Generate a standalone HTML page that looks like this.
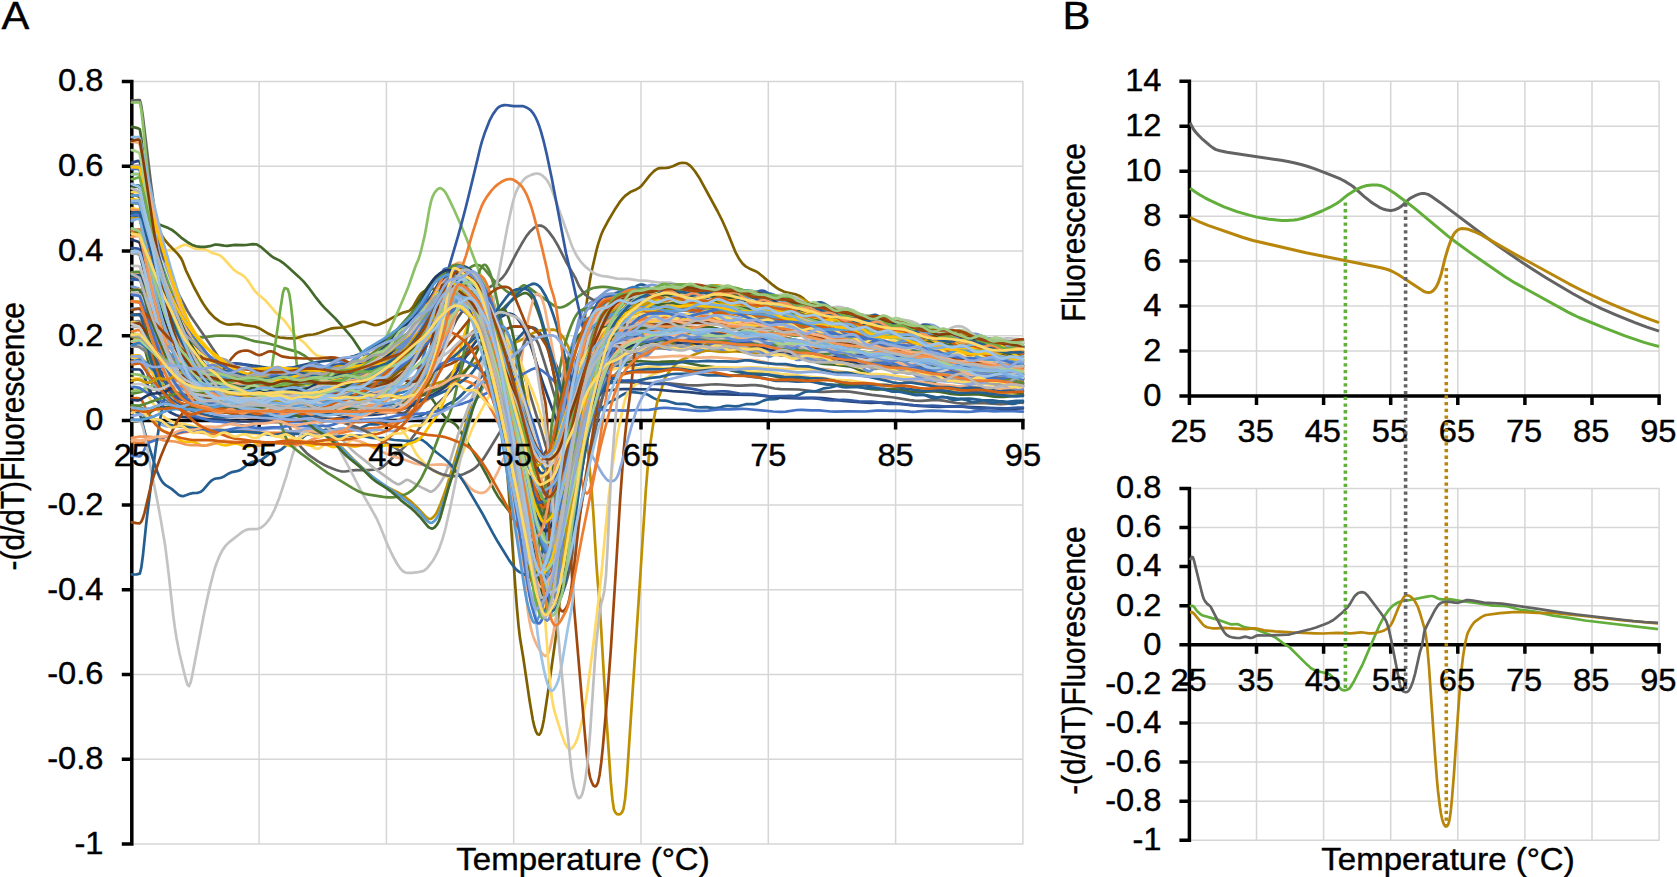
<!DOCTYPE html>
<html><head><meta charset="utf-8"><title>Figure</title>
<style>html,body{margin:0;padding:0;background:#fff}svg{display:block}</style></head>
<body>
<svg width="1677" height="877" viewBox="0 0 1677 877" font-family='"Liberation Sans", Arial, Helvetica, sans-serif' fill="#000" stroke-linejoin="round">
<rect width="1677" height="877" fill="#fff"/>
<path d="M131.8 81.5 H1023.4 M131.8 166.2 H1023.4 M131.8 251.0 H1023.4 M131.8 335.7 H1023.4 M131.8 505.1 H1023.4 M131.8 589.8 H1023.4 M131.8 674.6 H1023.4 M131.8 759.3 H1023.4 M131.8 844.0 H1023.4 M259.1 81.5 V844.0 M386.4 81.5 V844.0 M513.7 81.5 V844.0 M641.0 81.5 V844.0 M768.3 81.5 V844.0 M895.6 81.5 V844.0 M1022.9 81.5 V844.0" stroke="#d6d6d6" stroke-width="1.5" fill="none"/>
<path d="M131.8 79.8 V845.7 M129.8 420.4 H1024.7 M121.8 81.5 H131.8 M121.8 166.2 H131.8 M121.8 251.0 H131.8 M121.8 335.7 H131.8 M121.8 420.4 H131.8 M121.8 505.1 H131.8 M121.8 589.8 H131.8 M121.8 674.6 H131.8 M121.8 759.3 H131.8 M121.8 844.0 H131.8 M259.1 420.4 V429.4 M386.4 420.4 V429.4 M513.7 420.4 V429.4 M641.0 420.4 V429.4 M768.3 420.4 V429.4 M895.6 420.4 V429.4 M1022.9 420.4 V429.4" stroke="#000" stroke-width="3.5" fill="none"/>
<g fill="none" stroke-width="2.7" stroke-linejoin="round" stroke-linecap="round">
<path d="M131.8 356.6l4.8-.1 3.2 .1 1.5 1.5 1.6 3.1 1.6 4.1 4.8 13.6 1.6 3.1 6.4 9.5 3.1 3.9 3.2 2.8 6.4 3.9 4.8 2.5 3.1 1.3 3.2 1.1 9.6 2 6.3 .7 11.2 .4 4.8 .4 4.7 .6 11.2 2.1 4.7 .7 4.8 .4 9.6 .6 4.7 .5 12.8 2.2 19.1 2.8 1.6 .9 1.5 2.2 1.6 3 4.8 10.9 1.6 3.1 1.6 2.2 4.8 5.6 4.7 4.9 3.2 2.7 8 5.4 6.3 3.7 3.2 1.5 8 3.3 3.2 1 3.1 .7 3.2 0 8-1.2 3.2-.2 11.1 0 9.6-.6 1.5-.3 1.6-.6 3.2-2 3.2-2.8 6.4-6.3 9.5-8.6 3.2-3.1 4.8-5.5 6.3-8.3 6.4-8.9 6.4-9.7 3.1-4.2 4.8-5.3 9.6-9 3.1-3.5 3.2-4 3.2-4.5 1.6-3.3 1.6-4.5 1.6-5.2 4.8-17 1.6-4.9 1.5-4 3.2-6.9 3.2-5.3 1.6-2 1.6-1.5 1.6-1 1.6-.5 1.6 .3 1.6 .8 1.5 1.3 1.6 1.8 3.2 4.7 3.2 6 3.2 6.9 3.2 8.1 3.2 9.4 3.1 10.7 4.8 19.1 3.2 15.4 11.1 64.7 3.2 16.5 3.2 14.8 3.2 11.9 1.6 4.4 1.6 3 1.6 .5 1.5-1.7 1.6-3.7 1.6-5.2 3.2-13.6 3.2-16.2 7.9-47.4 3.2-17.4 6.4-28 4.8-18.1 3.2-9.5 1.5-3.9 3.2-5.9 3.2-5 3.2-4.2 3.2-3.2 3.2-2.3 1.5-.8 1.6-.5 15.9-4.1 4.8-.8 3.2-.2 15.9 .7 17.5-.7 23.9 .4 12.7-.3 11.2 .5 11.1-.2 6.4 .4 11.1 1.3 12.7 2.7 9.6 .7 4.8 .6 12.7 2.5 12.7 2.9 3.2 .3 8 .4 3.1 .4 25.5 5.3 14.3 1.6 11.2 2.4 15.9 3.1 11.1 1.6 12.7 2.8 12.8 1.7 25.4 4.4 15.9 1.2 6.4 .9 12.7 2.3 4.8 .6 4.8 .2 7.9 .1 4.8 .3 15.9 2.2 4.8 .4 17.5 .3" stroke="#636363"/>
<path d="M131.8 162.6l6.4-1.7 1.6 .8 1.5 6.9 3.2 15.9 11.2 59.3 6.3 30.5 4.8 21.1 4.8 19.5 4.8 17 3.1 9.2 1.6 3.9 3.2 6.4 3.2 4.9 3.2 3.6 4.8 4.1 4.7 3.3 4.8 2.9 4.8 2.3 3.2 .9 3.1 .1 8-1.3 3.2 0 1.6 .3 3.1 1.4 8 5.5 3.2 1.5 1.6 .3 1.6 .1 3.2-.5 9.5-3.5 4.8-.8 3.2-.1 7.9 .6 3.2 0 3.2-.3 6.3-1 3.2-.2 3.2 .3 8 1.9 3.1 .4 1.6-.1 3.2-.6 8-2.5 11.1-2.9 3.2-1.3 9.5-4.7 3.2-1.2 4.8-1 9.5-.3 3.2-.6 1.6-.6 1.6-.8 3.2-2.3 8-7.7 3.1-2.7 3.2-2 4.8-2.1 3.2-1.6 3.2-2.4 1.5-1.6 3.2-3.7 8-11 3.2-3.9 3.2-3.3 7.9-6.8 3.2-3.3 1.6-2 3.2-4.9 7.9-14.7 3.2-5.2 3.2-3.8 3.2-3 3.1-2.1 1.6-.7 3.2-.7 1.6-.1 3.2 .6 3.2 1 3.2 1.6 3.1 2.3 3.2 3 3.2 3.6 3.2 5.4 3.2 6.9 3.2 7.7 6.3 16.2 3.2 8.6 4.8 15.1 4.8 17 15.9 60.5 7.9 28.6 6.4 25.2 1.6 5.3 3.2 8.3 1.6 3.7 1.5 2.6 1.6 1.1 1.6-.3 1.6-1 1.6-1.7 1.6-2.1 4.8-8 1.6-3.5 1.6-4.1 3.1-9.6 8-25.6 4.8-13.4 3.2-9.7 1.5-3.9 3.2-11 6.4-23.6 3.2-10.2 4.7-12.3 4.8-10.9 4.8-9.4 3.2-5.1 1.6-2 6.3-6.4 4.8-4.5 3.2-2.3 1.6-.9 1.6-.5 3.2-.3 4.7 .2 3.2-.5 9.6-4.1 7.9-2 8-2.5 3.2-.6 6.3-.2 6.4-.6 3.2 .2 3.1 1.1 6.4 3.8 1.6 .5 1.6 .2 1.6-.1 1.6-.5 6.3-2.8 3.2-.6 3.2 .1 9.6 1 9.5 1.7 3.2-.3 6.3-1.9 1.6-.2 1.6 .2 1.6 .5 1.6 .8 6.4 5.2 1.6 1.1 1.6 .8 1.6 .5 1.5 .3 3.2 0 6.4-.7 7.9-1.1 3.2-.1 3.2 .6 8 2.9 3.2 .5 4.7 .1 3.2 .5 3.2 1.1 4.8 2.4 3.1 1.4 3.2 .9 8 1.6 4.8 .5 7.9-.2 3.2 .5 4.8 1.4 3.2 .5 3.1-.1 4.8-.8 1.6 0 1.6 .2 1.6 .6 1.6 .9 6.3 4.6 3.2 1.9 3.2 1.2 4.8 1 3.2 .3 1.6-.1 3.1-.7 6.4-2.4 1.6-.2 1.6 .1 1.6 .5 1.6 .8 4.7 3 3.2 1.4 1.6 .3 1.6 0 6.4-.6 3.2 .5 3.1 1.3 14.4 7 3.1 1.3 1.6 .4 1.6 .1 1.6-.2 3.2-1.1 4.8-2.2 1.6-.5 1.5-.2 1.6 0 3.2 .6 4.8 1.4 6.4 1.2 3.1 .7 11.2 4.5 7.9 2.6 3.2 .7 3.2 .2 1.6-.2 1.6-.5 4.8-1.8 3.1-.8 3.2 .1 4.8 1" stroke="#264478"/>
<path d="M131.8 336.8l3.2 .5 4.8 .4 1.5 1.8 1.6 3.6 6.4 21.1 1.6 3.6 6.4 10.7 3.1 4.5 3.2 3.5 8 6.7 3.2 2.4 3.1 2.1 3.2 1.6 1.6 .6 8 2.2 9.5 1.9 9.6 1.3 6.3 .5 4.8 0 14.3-1.4 4.8-.1 4.8 .2 11.1 1.3 4.8 .3 14.3-.2 4.8 .4 3.2 .8 3.2 1 3.1 1.4 6.4 3.6 20.7 13.1 4.8 3.2 4.7 3.5 4.8 3.8 4.8 4.2 17.5 18.1 20.7 19.1 3.2 2.6 4.7 3.2 4.8 2.7 11.1 5.5 4.8 2.8 3.2 2.3 4.8 3.9 7.9 7.4 6.4 7 1.6 1.5 1.6 1.2 1.6 .8 1.6-.1 1.5-1 1.6-1.6 1.6-2 1.6-2.8 3.2-7.6 3.2-8.4 3.2-9.4 22.2-73.5 1.6-4.1 1.6-3.4 1.6-2.8 6.4-9.9 1.6-3.1 1.6-3.8 1.6-4.9 6.3-24 3.2-9 1.6-3.5 1.6-2.9 1.6-2.3 1.6-1.5 1.6-.7 1.6 .2 1.5 1 1.6 1.8 1.6 2.5 1.6 3.2 1.6 3.7 3.2 8.5 3.2 10 1.6 5.7 3.1 12.8 3.2 15 3.2 18.5 6.4 40.1 3.2 17.2 1.6 7.3 1.5 6.1 1.6 4.7 1.6 3 1.6 .4 1.6-2.2 1.6-4.6 1.6-6.7 3.2-18 7.9-50.4 4.8-27.3 4.8-25.3 3.2-14.1 1.6-5.8 1.5-4.9 1.6-4.1 1.6-3.3 1.6-2.7 1.6-2 1.6-1.6 1.6-1 9.5-3 4.8-1.1 3.2-.5 3.2-.1 6.3 0 4.8-.3 14.3-2 4.8-.4 3.2 0 4.8 .5 12.7 2.3 6.4 .7 6.3-.2 14.3-2 6.4-.5 11.2-.1 7.9 .6 6.4 1.1 14.3 3.1 4.8 .9 6.3 .8 11.2 .8 6.3 .9 4.8 1.1 12.7 3.8 6.4 1.5 4.8 .8 12.7 1.7 6.4 1.1 30.2 7.2 11.1 2.4 6.4 1.1 12.7 1.6 4.8 .8 3.2 .7 4.8 1.4 14.3 5.2 6.4 1.6 6.3 .7 14.3 .6 8 .9 12.7 2.4 20.7 4.6 6.4 1.1 3.2 .3 4.7 .2 12.8-.5 6.3 .3 6.4 .8 11.1 2.3 6.4 .7" stroke="#BF9000"/>
<path d="M131.8 215.6l6.4 1.3 1.6 1.2 1.5 5.8 3.2 13 12.8 56.4 4.7 18.7 3.2 10.6 3.2 9.1 3.2 7.8 3.2 7 4.7 9.2 3.2 5.3 3.2 4.3 3.2 3.2 1.6 1.1 3.2 1.5 6.3 2 8 3.2 3.2 .9 1.6 .2 3.1-.3 8-2.5 3.2-.3 3.2 .7 6.3 3.3 3.2 1.2 3.2 .5 1.6-.1 6.3-.9 3.2 .2 3.2 .9 6.4 2.5 1.6 .3 1.6 .1 1.5-.2 1.6-.5 8-3.8 3.2-.9 3.2 .1 6.3 1.3 3.2 .3 3.2-.6 6.4-2.2 3.1-.8 3.2-.1 8 1.4 3.2 .2 3.1-.4 8-1.6 3.2-.2 6.3 .3 3.2-.2 1.6-.3 3.2-.9 8-3.4 7.9-2.7 3.2-1.4 3.2-1.8 6.3-4.3 3.2-1.8 3.2-1.4 8-2.8 3.1-1.8 1.6-1.1 9.6-8.8 3.2-2.5 6.3-4.2 3.2-2.6 1.6-1.6 3.2-3.8 6.4-8.5 4.7-5.8 11.2-11.1 4.7-5.3 6.4-7.8 1.6-1.6 1.6-1.2 1.6-.7 1.6-.3 1.6 .3 1.6 .7 1.5 1 11.2 9.4 1.6 1.7 1.6 2.5 1.6 3.2 1.5 4 3.2 9.8 3.2 11.5 4.8 18.6 14.3 61.4 3.2 14.9 7.9 40.1 8 38.6 1.6 6.4 1.6 4.8 3.2 7.7 1.6 2.6 1.6 .7 1.5-.8 1.6-1.8 1.6-2.5 1.6-3 1.6-3.3 1.6-4.3 1.6-6.1 3.2-16.2 6.3-37.2 11.2-58.9 3.2-15.4 4.7-21.2 3.2-13.2 3.2-11.4 1.6-4.8 1.6-3.9 1.6-3.2 1.6-2.2 6.3-7 9.6-11.3 3.2-2.8 1.5-1.1 1.6-.8 3.2-.8 6.4-.2 3.2-.8 3.2-1.8 4.7-3.2 1.6-.9 1.6-.6 1.6-.2 1.6 0 1.6 .4 1.6 .7 6.3 3.4 1.6 .5 1.6 .1 1.6-.1 1.6-.5 8-4.4 1.6-.4 1.5-.2 1.6 .1 1.6 .5 6.4 3.1 3.2 1 1.6 .1 1.6-.1 7.9-2.2 3.2-.1 3.2 .8 6.3 2.8 3.2 .8 1.6 .1 3.2-.4 8-2.5 1.5-.3 3.2 0 11.2 2 12.7 1 11.1 2.2 6.4 1.7 8 3.1 3.1 1 3.2 .6 8 .5 3.2 .8 3.1 1.2 4.8 2.3 3.2 1.1 1.6 .2 3.2-.3 7.9-2.7 1.6-.2 1.6 0 1.6 .4 1.6 .7 8 5 1.5 .7 1.6 .4 3.2 .1 6.4-1.1 1.6 .1 1.6 .3 1.6 .7 1.5 .9 6.4 5.1 1.6 1 1.6 .8 1.6 .4 1.6 .1 1.6-.2 6.3-2.4 1.6-.3 1.6-.1 1.6 .3 1.6 .7 1.6 .9 4.8 3.7 3.1 2 1.6 .6 1.6 .3 1.6 0 1.6-.2 4.8-1.4 3.2-.5 1.6 .1 1.5 .3 3.2 1.3 4.8 2.5 3.2 .9 3.2 .1 7.9-1.5 3.2 .2 1.6 .4 3.2 1.5 6.3 3.9 3.2 1.6 3.2 1.1 3.2 .7 15.9 2.5 14.3 1.7 4.8 .2 9.5-.5 3.2 .2 3.2 .7 8 2.8 3.2 .6 3.1-.2 6.4-1.5" stroke="#255E91"/>
<path d="M131.8 209.3l1.6 .3 1.6 .1 1.6-.2 3.2-.9 1.5 3 1.6 6.5 3.2 16.4 1.6 5.9 1.6 2.7 3.2 4.3 1.6 1.7 1.6 1.3 1.6 .9 1.6 .4 1.5 .1 1.6-.2 4.8-1.2 6.4-.8 1.6-.4 1.6-.6 6.3-3.3 1.6-.4 1.6 0 1.6 .4 6.4 2.9 1.6 .5 1.5 .2 6.4 .2 1.6 .4 1.6 .5 6.4 3.3 4.7 1.2 1.6 .6 1.6 1 3.2 2.9 9.5 10.6 3.2 2.4 4.8 2.6 1.6 1.1 1.6 1.3 3.2 3.8 4.7 7.1 3.2 4.2 3.2 3.2 6.4 5.2 3.1 3.5 6.4 7.7 3.2 3.2 4.8 4.3 1.6 1.7 3.1 4.1 4.8 7 3.2 3.9 1.6 1.5 6.4 4.9 1.5 1.4 6.4 7.3 3.2 3.1 1.6 1.1 1.6 .7 6.3 1.4 1.6 .6 3.2 1.9 4.8 3.5 1.6 .9 3.2 1.3 4.7 1.2 1.6 .6 1.6 .9 4.8 3 1.6 .8 1.6 .6 1.6 .2 1.6-.2 1.5-.4 4.8-2 3.2-.9 6.4-.3 1.6-.3 3.1-1.1 3.2-1.4 3.2-.9 3.2 0 4.8 .8 1.6 0 1.5-.4 1.6-.7 1.6-1 11.2-9.4 1.6-1.5 3.1-3.4 3.2-4.4 8-12.3 9.5-11.6 8-12.5 3.2-4.3 6.3-6.3 4.8-5.7 1.6-1.7 1.6-1.1 1.6-.6 1.6 .2 1.6 1.1 1.6 2.1 1.5 3 1.6 3.9 3.2 10.2 9.6 33 3.1 12.3 9.6 41.7 9.5 39 9.6 43.4 3.2 13.2 7.9 29.9 6.4 25.5 1.6 5.7 1.6 4.1 1.6 2.6 1.6 1 1.6-.5 1.5-1.8 1.6-3 1.6-4.2 1.6-5 3.2-12.6 1.6-7.4 3.2-17 3.2-19.6 6.3-41.9 3.2-18.7 3.2-15.8 4.8-21.5 3.1-13.8 3.2-12.5 1.6-5.4 3.2-8.7 1.6-3.5 3.2-5.8 3.2-4.7 4.7-6.1 3.2-3.1 3.2-2.1 1.6-.6 1.6-.4 4.7-.3 3.2-.7 1.6-.7 4.8-2.6 1.6-.7 1.6-.4 1.6-.1 1.6 .1 4.7 1 1.6 .1 3.2-.3 4.8-1.3 3.2-.4 1.6 .1 4.7 .9 3.2 .1 1.6-.4 6.4-2.3 1.6-.3 1.6 0 1.5 .3 4.8 1.5 3.2 .4 3.2-.5 4.8-1.2 1.5-.1 1.6 .1 6.4 1.4 1.6 .1 3.2-.2 4.8-.9 1.5 0 3.2 .6 4.8 1.8 1.6 .5 1.6 .1 3.2-.4 4.7-1.1 1.6-.1 1.6 .3 1.6 .4 4.8 2.1 3.2 1 1.6 .1 4.7-.1 3.2 .4 1.6 .5 4.8 2.1 3.2 .9 3.1 0 4.8-.6 1.6 .1 1.6 .4 1.6 .6 4.8 2.3 1.6 .6 1.5 .3 3.2-.1 4.8-.7 1.6 0 1.6 .3 7.9 3 3.2 .5 4.8 0 3.2 .7 6.3 3.1 3.2 1.1 1.6 .1 6.4-.7 1.6 .1 3.2 .9 4.7 2.4 3.2 1 1.6 .2 4.8-.4 3.2 .1 1.6 .3 6.3 2.5 1.6 .4 3.2 .2 4.8-.1 1.6 .2 3.1 1.2 4.8 2.8 1.6 .7 1.6 .4 1.6 .2 6.4-.6 1.5 .1 3.2 .9 4.8 2.2 1.6 .6 3.2 .5 4.7-.2 3.2 .3 1.6 .4 4.8 1.9 3.2 .8 3.2-.1 4.7-.6 1.6 .1 3.2 .9 4.8 2.5 3.2 .9 1.6 .1 6.3-.9 1.6 0 3.2 .7 4.8 1.6 1.6 .4 3.1 .1 4.8-.5 1.6 .1 3.2 .7 4.8 2 3.1 .7 1.6 0 4.8-1 3.2-.3 1.6 .2 1.6 .5 4.7 2 3.2 .7 1.6 0 4.8-.8 3.2-.2 1.6 .2 6.3 1.5 1.6 .2 1.6-.1 3.2-.7" stroke="#FFD966"/>
<path d="M131.8 126.9l4.8 1 1.6 .5 1.6 .8 1.5 9.1 4.8 42 1.6 11.8 1.6 9.8 1.6 7.7 1.6 5.9 1.6 4 1.6 1.9 3.2 2.6 1.5 1 8 3.1 3.2 1.6 3.2 2.4 6.3 5.5 6.4 4.6 4.8 2.7 3.2 1.2 1.5 .3 3.2 .4 4.8 0 4.8-.6 4.7-1.5 1.6-.2 3.2 .3 4.8 .8 3.2 .2 7.9-1 8 .4 3.2-.2 6.3-.8 3.2 .1 1.6 .5 3.2 2 11.1 9.6 1.6 1.1 6.4 3.1 3.2 2.2 4.7 4 11.2 10.1 4.8 4.7 4.7 5.7 8 10.9 4.8 5.9 3.1 3.5 11.2 11 12.7 14.5 4.8 5.9 9.5 14.6 3.2 4.3 1.6 1.7 1.6 1.4 1.6 1 1.6 .7 9.5 2.7 4.8 2.1 12.7 7.8 12.8 7.2 6.3 3.1 3.2 2.1 4.8 4.1 3.2 3.5 3.1 4.1 9.6 14 3.2 3.9 1.6 1.5 1.6 1.1 4.7 2.9 1.6 1.1 1.6 1.5 1.6 2 1.6 2.5 20.7 33.7 6.3 11.4 8 15.6 3.2 5.6 3.2 4.5 9.5 12.2 4.8 7 12.7 19.8 4.8 7.7 8 14.7 1.5 2.6 1.6 1.6 1.6-1.2 1.6-3.8 1.6-5.8 1.6-7.3 6.4-34.3 9.5-58.3 3.2-18.1 6.4-31.3 4.7-20.1 3.2-10.7 1.6-4.2 1.6-3.5 3.2-6 3.2-5 3.1-4.1 3.2-3 1.6-1.1 1.6-.7 4.8-1.4 9.5-1.8 8-1.9 3.2-.6 3.2-.2 3.1 0 9.6 .4 11.1-.7 12.8 .4 11.1-.6 4.8 .4 7.9 1.1 3.2 .1 3.2-.2 7.9-1 3.2-.1 14.3 1.3 6.4 1 9.6 2.8 3.1 .7 3.2 .3 8 .2 3.2 .3 3.1 .8 11.2 3.3 17.5 3.6 4.8 .6 7.9 .6 3.2 .5 3.2 1 9.5 4 3.2 .8 3.2 .5 11.1 .7 14.4 1.8 3.1 .8 3.2 1.1 8 3.7 4.7 1.6 3.2 .6 8 .2 4.8 .6 25.4 6.6 3.2 .7 4.8 .4 9.5-.7 3.2 .1 1.6 .3 3.2 .9 9.5 3.9 3.2 1 3.2 .7 6.4 .8 6.3 .4 3.2-.1 8-.7 3.1 0 4.8 1 8 2.7 4.7 .9 3.2 .1 8-.7 3.2 0 12.7 .7" stroke="#43682B"/>
<path d="M131.8 378.2l8 .3 1.5 .9 1.6 1.9 6.4 10.6 1.6 1.8 4.8 4 4.7 3.3 3.2 1.4 17.5 6.2 8 2 4.8 .8 6.3 .3 12.8-.1 14.3 .9 4.7 .2 6.4-.3 11.2-1.1 6.3-.3 6.4 .3 15.9 1.5 9.5 .2 8-.4 15.9-1.3 17.5-1 6.4-.7 11.1-1.8 4.8-.4 6.4 0 11.1 .6 4.8-.2 6.3-1.1 14.4-4.3 14.3-3.2 4.8-1.3 3.1-1.2 4.8-2.1 14.3-7.1 4.8-3.2 4.8-4.4 4.7-5.1 14.4-16.8 6.3-6.1 6.4-5.6 6.4-4.6 3.1-2 3.2-1.7 3.2-1.3 3.2-1 3.2-.7 1.6 .2 1.6 .5 1.6 .9 1.5 1.3 3.2 3.7 1.6 2.3 3.2 5.5 4.8 10.4 3.2 8.2 3.1 9.4 11.2 36.6 4.8 14.8 4.7 16.2 3.2 9.9 1.6 4.1 1.6 3.2 1.6 2.2 1.6 .8 1.6-.7 1.6-2.1 1.5-2.8 1.6-3.4 3.2-8.2 14.3-38.7 3.2-7.5 1.6-3.2 3.2-5.1 3.2-3.6 1.6-1.3 3.2-1.7 1.5-.6 11.2-2.5 6.3-1.3 3.2-.3 4.8-.2 20.7 1.2 20.7-.1 7.9 .5 15.9 1.5 6.4 .2 4.8 0 12.7-.8 4.8-.2 4.8 .2 15.9 1.2 4.7-.1 9.6-.5 4.8 0 6.3 .7 12.8 2.7 6.3 .7 17.5 .3 15.9 1.9 4.8 .4 4.8 0 15.9-.6 4.8 .1 4.8 .4 22.2 3.2 22.3 2.6 15.9 2.7 4.8 .5 6.4 .2 11.1-.8 6.4 0 4.7 .6 12.8 2.3 6.3 .6 17.5-.7 4.8 .2 11.1 .9 4.8 .1 4.8-.2 11.1-1 6.4-.2" stroke="#636363"/>
<path d="M131.8 411.3l3.2 .4 3.2 .9 1.6 1.6 1.5 4.4 4.8 18.6 8 25.4 3.2 9.1 1.6 3.8 1.5 3.3 1.6 2.6 1.6 1.9 1.6 1.5 6.4 4.1 6.3 5.4 1.6 1 1.6 .6 1.6 .2 1.6-.3 1.6-.5 4.8-1.7 1.6-.4 4.7-.3 1.6-.3 1.6-.6 1.6-.9 1.6-1.4 6.4-7.5 1.6-1.5 1.6-1.1 1.5-.7 1.6-.4 3.2-.3 1.6-.4 3.2-1.4 4.8-3 1.6-.7 1.5-.6 4.8-.9 3.2-1.1 3.2-2.1 4.8-3.8 3.1-1.8 1.6-.5 4.8-.7 3.2-1.1 1.6-.9 4.8-3.6 3.1-2.1 1.6-.7 6.4-1.7 1.6-.8 1.6-.9 6.3-5.1 1.6-1 1.6-.7 4.8-1.2 3.2-1.2 3.2-2.1 4.7-3.9 1.6-1 1.6-.6 1.6-.3 4.8-.1 3.2-.3 1.6-.4 4.7-2 3.2-.8 3.2 .3 4.8 1.2 1.6 .2 3.1-.3 4.8-1.4 3.2-.4 6.4 .6 1.6-.1 3.1-.8 4.8-2.3 3.2-1.2 3.2-.3 4.8 .2 1.5-.1 3.2-.9 4.8-1.7 1.6-.3 3.2 0 4.7 .6 3.2-.3 1.6-.5 6.4-2.7 3.2-.8 4.7-.2 3.2-.6 1.6-.6 4.8-2.4 3.2-1.4 1.6-.4 6.3-.8 3.2-1.1 3.2-1.9 4.8-3.5 7.9-4.1 1.6-1.1 3.2-2.6 8-8.3 9.5-7.3 3.2-3.3 6.3-7.2 9.6-8.9 3.2-3.7 6.3-8.4 3.2-3.5 8-6.9 7.9-8.5 1.6-1.5 1.6-1.1 1.6-.7 1.6-.3 1.6 .1 1.6 .5 1.6 .9 1.6 1.4 1.6 1.8 3.1 4.5 3.2 5.2 3.2 6.2 8 18.2 7.9 17 9.6 22.9 3.2 6.9 1.5 2.9 1.6 2.1 1.6 1.5 1.6 1 1.6 .5 1.6 0 1.6-.3 1.6-.8 1.6-1 3.2-2.9 6.3-7.2 1.6-1.6 4.8-3.8 3.2-1.8 6.3-3.3 4.8-3.1 3.2-1.8 1.6-.6 3.2-.6 3.1 0 11.2 1.3 3.2 1 6.3 3.6 3.2 1.5 3.2 .8 4.8 .3 3.2 .5 7.9 2.4 3.2 .3 4.8-.1 3.1 .4 1.6 .4 6.4 2.3 1.6 .3 3.2 .2 6.3-.3 8 1.1 1.6 0 3.2-.5 4.7-1.4 3.2-.5 1.6 0 6.4 .6 1.6 0 3.2-.6 6.3-1.6 1.6-.2 6.4 .1 1.6-.2 3.2-1 4.7-2.3 3.2-1 1.6-.2 6.4-.2 1.6-.2 1.5-.4 4.8-1.8 3.2-.8 3.2-.2 4.8 .2 1.6-.1 3.1-1 6.4-2.9 3.2-.5 4.8 0 3.1-.3 8-2.9 6.4-.8 3.1-.7 9.6-3.4 1.6-.3 1.6-.1 1.6 .2 6.3 1.5 1.6 .1 6.4-.4 1.6 .1 3.2 .9 4.7 2.4 3.2 1.2 3.2 .2 4.8-.4 1.6 .1 3.1 .8 4.8 1.7 1.6 .3 3.2-.1 4.8-.8 1.6 0 1.5 .3 1.6 .5 4.8 2.3 3.2 1 1.6 .2 6.4-.3 1.5 .2 1.6 .4 4.8 2 3.2 .7 1.6 0 6.3-1.2 1.6-.1 3.2 .7 4.8 1.9 1.6 .4 3.2 .1 4.7-.7 1.6 0 3.2 .6 4.8 1.8 1.6 .4 1.6 .2 1.6-.2 4.7-1.3 3.2-.4 1.6 .1 6.4 2 1.6 .2 3.1-.2 4.8-1 1.6-.1 1.6 .2 6.4 2.1 1.6 .3 1.6 0 1.5-.3 4.8-1.6 3.2-.5" stroke="#255E91"/>
<path d="M131.8 232.4l6.4-1.1 1.6 .9 4.7 16.5 12.8 47.9 6.3 21.8 4.8 14.1 3.2 8.2 3.2 7.2 4.7 9.1 4.8 7.4 4.8 6.1 4.8 5.1 6.3 5.9 6.4 5.2 6.4 4.2 3.1 1.8 3.2 1.4 4.8 1.6 4.8 .8 4.7 0 4.8-.4 11.2-1.4 6.3-.2 6.4 .6 14.3 3 3.2 .4 3.2 .1 3.2-.1 4.7-.7 9.6-2.2 4.7-.9 3.2-.3 3.2 0 3.2 .3 3.2 .5 12.7 3.2 4.8 .5 3.2-.2 4.7-.8 12.8-4 3.1-.8 3.2-.5 3.2 0 4.8 .5 9.5 2.4 3.2 .5 3.2 0 3.2-.7 3.2-1.3 3.1-1.7 3.2-2.1 4.8-3.5 22.3-19.5 6.3-6.7 6.4-8 6.4-9.4 3.2-6 4.7-10.6 3.2-6.5 1.6-2.6 3.2-4.5 3.2-3.9 1.6-1.2 1.6-.5 1.5 .1 1.6 .3 1.6 .7 1.6 1 3.2 2.7 3.2 3.5 3.2 4.2 1.6 2.9 3.1 7.7 4.8 14.4 6.4 21 6.3 24.1 11.2 44.7 12.7 53.7 4.8 21.6 1.6 6 1.6 4.8 3.2 8.3 1.5 2.9 1.6 1 1.6-.4 1.6-1.3 1.6-1.9 3.2-5.1 1.6-3.3 1.6-4.9 1.6-6.2 3.1-15.4 4.8-25.7 4.8-24.2 9.5-50.8 1.6-7.6 3.2-13.6 4.8-18.2 3.2-11.2 3.2-9.6 1.5-4 1.6-3.4 1.6-2.6 3.2-4.3 3.2-3.4 1.6-1.5 3.2-2.3 3.1-1.9 4.8-2.2 3.2-2 3.2-2.4 7.9-6.8 3.2-2.1 1.6-.7 3.2-1 1.6-.2 3.2 .2 3.2 .7 9.5 2.8 8 1.9 4.7 .9 4.8 .2 3.2-.4 3.2-.9 7.9-3.6 3.2-1.3 3.2-.7 3.2-.2 4.8 .7 12.7 3.8 12.7 3 4.8 .8 4.8 .2 3.1-.4 8-1.5 3.2-.2 1.6 .1 1.6 .2 3.1 .8 11.2 4.4 6.3 1.5 17.6 2.7 4.7 .3 8-.1 4.8 .6 4.7 1.5 8 4 3.2 1.3 4.7 1.3 3.2 .4 9.6 .5 11.1 1.4 12.7 1.2 4.8 1.1 11.2 4.5 4.7 1.3 3.2 .4 8 .3 3.1 .3 12.8 2.5 9.5 1.1 3.2 .5 4.8 1.5 9.5 4.1 4.8 1.3 4.8 .4 9.5-.7 4.8 0 11.1 .8 4.8 .5 3.2 .7 3.2 1.1 3.2 1.4 6.3 3.3 3.2 1.4 3.2 .9 1.6 .1 1.6 0 3.2-.4 9.5-3" stroke="#525252"/>
<path d="M131.8 166.4l4.8 .4 3.2 .1 1.5 1.3 1.6 3 1.6 4.4 1.6 5.6 6.4 27.1 3.2 12.4 1.6 4.7 1.6 3.6 3.1 6.6 1.6 2.7 1.6 2.2 3.2 3.7 9.5 9.9 3.2 4.3 1.6 3.3 3.2 8.6 8 16.7 6.3 11.7 3.2 5.3 3.2 4.7 3.2 4.1 4.7 4.8 4.8 3.6 4.8 2.3 3.2 1 1.6 .1 9.5-.7 1.6 .2 4.8 1.1 9.5 1.3 1.6 .4 3.2 1.3 9.5 5.6 4.8 2.2 3.2 .9 3.2 .6 6.4 .7 4.7 .2 3.2-.1 3.2-.5 9.5-2.7 6.4-.6 3.2-.7 3.2-1 7.9-3.1 3.2-1 3.2-.6 7.9-.6 4.8-.7 4.8-1.4 9.5-3.3 1.6-.3 1.6 .1 1.6 .3 8 2.7 1.6 .2 1.6-.1 3.1-.9 4.8-2.1 9.6-5.4 4.7-2.4 3.2-1.3 6.4-1.8 1.6-1.1 1.6-1.8 1.6-2.3 4.7-8.1 1.6-2.5 1.6-2 1.6-1.3 3.2-1.7 1.6-.6 3.2-.7 3.1-.2 6.4 .2 3.2-.5 1.6-.6 1.6-.9 7.9-6.4 1.6-.9 1.6-.6 1.6-.3 1.6 .2 1.6 .7 1.6 1.3 1.6 1.8 1.6 2.6 1.5 3.4 1.6 4.3 1.6 5.3 3.2 12.7 4.8 21.4 23.9 113.3 1.5 11.6 1.6 16.3 1.6 19.9 6.4 93 1.6 21 1.6 17.7 1.6 13.5 3.1 18.4 6.4 43.6 3.2 19 1.6 6.9 1.6 4.9 1.6 2.7 1.6 .4 1.6-2.3 1.5-5 1.6-7.9 4.8-32.1 4.8-33.9 3.2-23.3 1.6-13.6 3.1-34.7 9.6-118.7 7.9-89.4 3.2-31.9 3.2-28.5 3.2-24.3 1.6-9.8 1.6-8.3 4.7-20.4 1.6-5.9 3.2-10 1.6-3.8 4.8-9.1 7.9-13.4 4.8-7.1 1.6-2 3.2-3.4 4.8-3.6 1.6-.9 4.7-2 3.2-1.8 1.6-1.4 1.6-1.7 6.4-8.1 1.5-1.8 3.2-3.2 1.6-1.3 1.6-1 1.6-.7 1.6-.3 6.4-.3 3.1-.5 3.2-1.1 6.4-2.9 1.6-.3 1.6-.2 3.2 .2 1.5 .6 1.6 1 1.6 1.3 1.6 1.6 3.2 4 4.8 7.3 17.5 32.2 4.8 9.5 4.7 10.5 8 19.8 1.6 3.4 3.2 5.6 3.1 4.1 3.2 2.7 3.2 1.8 6.4 2.8 3.2 2 14.3 12 3.2 2.4 3.1 2 4.8 2.1 3.2 .9 8 1.6 3.1 1.2 1.6 .8 3.2 2.2 8 7.2 3.1 2.3 1.6 .9 1.6 .6 1.6 .3 8 .9 4.8 1.1 3.1 1.2 8 3.6 4.8 1.9 6.3 1.8 12.8 3.1 4.7 1.6 3.2 1.4 9.6 4.9 3.1 1.2 3.2 .8 9.6 .8 3.2 .6 4.7 1.8 8 4.1 4.8 1.9 4.7 1.4 12.8 2.6 4.7 1.2 4.8 1.6 9.6 3.9 3.1 1 4.8 .7 6.4 .2 3.2 .3 4.7 1.3 8 3.2 4.8 1.4 3.1 .5 12.8 1.1 6.3 1.1 8 1.6" stroke="#7F6000"/>
<path d="M131.8 322.1l6.4-.9 1.6 .2 4.7 5.7 4.8 5.3 14.3 15 9.6 9.3 7.9 7 4.8 3.7 6.4 4.7 12.7 8.3 9.5 5.4 4.8 2.2 3.2 1.3 4.8 1.4 6.3 1.1 4.8 .4 12.7 .4 6.4 .7 6.4 1.3 15.9 4.1 4.8 .8 3.1 .2 3.2 .1 4.8-.3 15.9-2.6 8-.8 6.3-.2 14.4 .3 6.3 0 4.8-.6 4.8-1.3 4.7-1.7 16-6.2 4.7-2.3 3.2-1.8 4.8-3.3 3.2-2.6 3.1-2.9 4.8-4.8 3.2-3.8 4.8-6.3 19.1-28.2 3.2-5.3 6.3-11.7 3.2-5 1.6-2.1 6.4-6.4 1.5-1.4 1.6-1 1.6-.6 1.6-.1 1.6 .1 1.6 .4 3.2 1.4 4.8 3.1 4.7 4 1.6 1.5 1.6 1.8 1.6 2.4 3.2 6.2 3.2 7.7 3.2 8.8 6.3 19 3.2 10.7 3.2 11.8 11.1 44.8 17.5 75.4 6.4 28.5 1.6 6.3 1.6 5.4 4.8 12 1.5 2.8 1.6 1.3 1.6 0 1.6-.7 1.6-1.2 3.2-3.3 3.2-4.2 1.6-2.5 1.6-3.3 1.5-4.1 3.2-10 9.6-35.1 12.7-43.1 4.8-15.6 4.8-13.8 4.7-11.7 4.8-10.7 4.8-9.2 3.2-5.1 3.1-4.2 8-9.4 4.8-5.1 3.2-2.8 3.1-2 3.2-1.4 11.2-3.9 4.7-1.3 4.8-.4 9.6 .8 3.1-.1 4.8-.9 9.6-2.7 4.7-.6 4.8 .1 6.4 .8 6.3 1.2 8 1.9 4.8 .7 4.7-.1 11.2-1.8 3.2-.1 3.1 .2 8 .8 8 .6 3.1 .5 4.8 1.5 8 3.2 4.7 1.2 3.2 .3 9.6-.2 3.2 .2 7.9 1.2 3.2 .3 11.1-.1 4.8 .5 4.8 1.2 9.5 3 6.4 1.8 4.8 1.2 4.7 .9 3.2 .2 3.2-.2 9.5-1.3 4.8 .2 3.2 .8 11.1 3.6 11.2 2.2 7.9 2 3.2 .5 4.8 0 8-1.4 3.1-.2 1.6 .1 1.6 .2 3.2 .8 11.1 4.1 3.2 .8 3.2 .6 12.7 1.1 14.4 .5 3.1 .5 9.6 2.2 3.2 .5 4.7 .1 9.6-.5 3.2 .2 7.9 .8 4.8 .2" stroke="#848484"/>
<path d="M131.8 393.7l8-1.5 4.7-1.5 6.4-1.2 20.7-2.4 4.8-.3 9.5-.1 4.8-.4 11.1-2 4.8-.6 6.4 0 14.3 .8 12.7-.1 12.7 .3 14.4-1.1 11.1 .2 12.7-.8 4.8-.7 19.1-4 4.8-1.2 11.1-3.6 4.8-1.2 4.8-.7 9.5-1.1 4.8-1 6.3-2.1 11.2-5 6.3-3.2 4.8-2.9 15.9-11.7 4.8-3.1 9.6-5.7 3.1-2.3 4.8-4.4 9.6-9.8 3.1-2.7 3.2-2.2 8-4.2 4.7-2 3.2-.8 1.6-.2 3.2 .4 3.2 1.1 3.2 1.9 4.7 3.8 3.2 2.9 1.6 1.8 3.2 4.6 3.2 5.7 11.1 22.7 3.2 7.6 3.2 8.4 9.5 28 17.5 56.4 6.4 21.5 1.6 4.3 1.6 3.5 3.2 6.1 1.6 2.2 1.6 1.1 1.5-.1 1.6-.7 1.6-1.2 1.6-1.6 4.8-6.3 1.6-3 3.2-8.1 9.5-31 11.2-32.9 3.1-10 3.2-8.8 3.2-7.5 12.7-24.9 3.2-5.4 3.2-4 7.9-7 8-7.6 3.2-2.5 1.6-.9 1.6-.7 3.2-.9 14.3-2.4 3.2-.3 3.1 .1 8 .9 4.8 .3 7.9-.2 6.4-.9 9.5-2.2 4.8-.5 4.8 .3 11.1 2.4 9.6 .8 7.9 1.4 3.2 .4 3.2 0 6.4-.8 3.1-.3 3.2 .1 11.2 .9 3.1 .6 1.6 .5 3.2 1.4 6.4 3.5 3.2 1 3.1 .4 6.4 .2 8 1.8 3.2 .4 3.1-.3 4.8-.9 3.2-.2 3.2 .5 6.3 1.7 6.4 1.1 3.2 .9 1.6 .8 7.9 5 3.2 1.2 3.2 .2 4.8-.4 3.2 .1 6.3 1.3 3.2 .4 3.2-.3 4.8-.8 3.1-.1 1.6 .3 8 2.6 6.4 1.4 3.1 .8 3.2 1.5 6.4 3.7 3.2 1.1 3.1 .1 4.8-.7 3.2-.1 3.2 .3 6.4 1.1 3.1 0 4.8-.3 3.2 .2 3.2 .8 7.9 2.9 8 2 9.5 4 3.2 .7 3.2 .1 6.4-.9 3.1-.3 19.1 1.2 4.8 .7 20.7 4.8" stroke="#5A8A39"/>
<path d="M131.8 335.6l8 1.7 4.7 4 14.4 10.8 3.1 1.9 9.6 4.8 7.9 4.9 3.2 1.8 8 3.6 7.9 4.3 3.2 1.6 3.2 1.1 8 1.8 6.3 1.9 4.8 .9 9.5 .4 9.6 1.6 11.1 .7 8 1.3 4.8 .3 7.9-.4 9.6-.3 3.1-.5 8-1.8 3.2-.4 6.3-.3 3.2-.5 8-2.1 7.9-1.4 3.2-.8 3.2-1.2 8-3.6 6.3-2.5 4.8-2.4 11.1-7.1 8-4.1 6.4-4.3 12.7-9.9 3.2-3.1 4.7-5.5 16-20 3.1-4.8 9.6-16.4 4.8-6.8 3.1-3.6 8-7.3 3.2-2.1 1.6-.7 1.6-.4 1.6 0 1.5 .3 3.2 1.1 4.8 2.4 4.8 3 4.8 4 1.5 1.6 1.6 1.9 3.2 4.8 4.8 9 4.8 10.4 4.7 11.5 3.2 8.7 3.2 9.7 4.8 15.2 6.3 21.4 4.8 17.1 9.6 35.8 6.3 22.4 6.4 23.8 1.6 5.2 1.6 4.5 3.2 6.5 1.6 2.7 1.5 2.2 1.6 1.2 1.6-.2 1.6-1.3 1.6-2 3.2-5.2 1.6-3.5 1.6-5.1 1.6-6.2 6.3-28.3 8-33.1 3.2-12.2 1.6-5.5 7.9-24.8 3.2-8.5 1.6-3.3 1.6-2.5 3.2-3.7 3.1-2.8 3.2-2.2 3.2-1.9 9.6-4.9 4.7-1.8 6.4-1.9 3.2-.7 3.2-.2 3.1 .3 6.4 1.3 3.2 .5 3.2 0 6.3-.7 4.8-.3 14.3 .3 8 .8 3.2 .1 3.2-.3 7.9-1.8 3.2-.2 3.2 .4 6.3 1.3 3.2 .4 12.8 .8 4.7-.4 6.4-1.3 3.2-.1 1.6 .2 3.1 .9 6.4 2.6 4.8 1.6 9.5 1.9 4.8 .4 8-.7 3.1 0 3.2 .4 8 1.7 3.2 .2 6.3-.1 4.8 .6 14.3 4.1 9.6 3.8 3.2 .9 3.1 .3 8-.7 3.2 0 7.9 .9 9.6 .7 9.5 1.5 8 .9 3.2 .8 1.6 .6 9.5 4.8 1.6 .5 3.2 .7 3.2 .2 6.3-.1 4.8-.3 8-.9 3.1 .1 3.2 .8 8 3.3 3.2 .9 3.1 .4 8 .7 14.3 2.1 3.2 .7 6.4 1.9 3.2 .6 3.1 .1 8-.9 3.2 .1 15.9 1.9 9.5 1.9 3.2 .3 3.2-.1" stroke="#385723"/>
<path d="M131.8 286.5l3.2 .7 3.2 1 1.6 1.1 7.9 22 3.2 8 9.5 21.4 11.2 26.4 3.2 6.2 1.6 2.6 3.1 4.1 3.2 2.9 3.2 1.8 3.2 1.1 4.8 1.1 11.1 1.7 9.5 2.8 3.2 .8 4.8 .3 9.5-.8 3.2 .2 6.4 .9 3.2 .1 3.2-.4 6.3-1.4 3.2-.2 1.6 .2 3.2 1 4.8 2.3 3.1 1.2 1.6 .4 1.6 0 1.6-.2 1.6-.5 3.2-1.6 6.4-3.9 3.1-1.2 1.6-.4 3.2-.2 9.6 .6 4.7-.1 4.8-.6 3.2-.8 3.2-1.2 6.3-2.9 3.2-1.3 3.2-.9 8-1.3 3.1-1 3.2-1.6 8-5.3 3.2-1.6 3.1-1 6.4-1.3 3.2-1.3 1.6-.9 3.2-2.6 7.9-8.2 3.2-2.8 3.2-2.3 6.3-3.6 3.2-2 3.2-2.6 3.2-3 4.8-5.2 7.9-9.4 3.2-4.3 8-11.7 3.1-4.3 3.2-3.8 4.8-4.7 9.5-8.1 3.2-2.2 1.6-.7 1.6-.4 1.6 0 1.6 .2 1.6 .7 3.2 1.9 6.3 4.6 4.8 2.7 1.6 1.1 1.6 1.8 1.6 2.4 1.6 3 3.2 7.8 3.1 9.7 4.8 15.8 19.1 69.1 11.1 44.6 6.4 27.8 1.6 6.1 1.6 4.8 3.2 8.2 1.6 2.9 1.6 1.2 1.6-.7 1.5-2.2 1.6-3.1 1.6-3.8 1.6-4.8 1.6-7 1.6-8.7 4.8-29.8 12.7-71.2 6.4-29.7 4.7-19.6 1.6-4.5 1.6-3.4 1.6-2.5 3.2-3.7 3.2-2.6 7.9-4.9 8-6.4 3.2-1.8 1.6-.6 1.6-.3 3.1 .1 9.6 2.7 3.2 .3 3.2-.1 3.1-.6 3.2-1.1 9.6-4.2 3.1-.8 1.6-.1 1.6 .1 3.2 .7 8 3.3 3.2 .8 3.1 .2 4.8-.1 3.2 .1 3.2 .6 6.3 1.5 3.2 .1 1.6-.3 3.2-1.1 6.4-3.4 3.1-1.3 1.6-.3 3.2 0 3.2 .8 6.4 2.3 3.1 .8 3.2 .6 11.2 1.3 7.9 1.6 4.8 1.4 8 2.7 3.1 .8 1.6 .1 3.2-.2 8-1.7 3.1-.3 3.2 .5 9.6 3 3.2 .4 6.3 .1 3.2 .5 1.6 .6 3.2 1.8 6.3 5 3.2 2.1 3.2 1.3 1.6 .3 3.2-.2 7.9-2 3.2-.6 3.2-.2 3.2 .1 3.2 .5 3.2 .9 11.1 4.4 3.2 1 3.2 .6 6.3 .7 3.2 .7 3.2 1.1 6.4 2.9 3.1 .9 3.2 .4 8-.4 3.2 .3 3.1 .9 6.4 2.6 3.2 .7 3.2-.1 7.9-1.9 3.2-.1 1.6 .2 1.6 .5 3.2 1.7 7.9 5.9 3.2 2 3.2 1.5 3.2 .8 3.2 .2 3.1-.4 9.6-2.9 3.2-.5 1.6 0 3.1 .6 8 3.3 3.2 1 3.2 .4 6.3 .2 3.2 .4 3.2 1 4.8 1.8 3.2 1 1.5 .2 3.2 .1 4.8-.8" stroke="#7C9CD6"/>
<path d="M131.8 364.5l8-1.2 4.7 .2 3.2 .4 6.4 1.3 15.9 4.8 4.8 .9 3.1 .4 6.4 .1 17.5-.9 8 .1 22.2 2.2 20.7 2.7 6.4 .5 4.8 0 4.7-.3 4.8-.7 12.8-2.5 6.3-.6 6.4 .2 14.3 2.1 6.4 .4 6.3-.4 8-1.5 7.9-2.4 14.4-5 14.3-4.6 6.4-2.4 7.9-3.4 6.4-3 4.7-2.5 4.8-3 3.2-2.5 4.8-4.4 3.2-3.4 4.7-5.7 12.8-17.3 3.1-4.8 8-12.7 3.2-4.3 1.6-1.8 1.6-1.4 4.7-3.4 3.2-1.9 1.6-.6 1.6-.5 1.6-.1 1.6 .3 1.6 .5 3.2 1.6 3.1 2.2 8 6.9 1.6 1.9 3.2 5.2 3.2 6.7 3.1 7.9 4.8 12.6 3.2 9.2 3.2 10.4 11.1 41.1 15.9 64.3 6.4 26.6 1.6 5.5 1.6 4.3 3.2 7.4 1.6 2.6 1.5 1.2 1.6-.2 1.6-.7 1.6-1.1 3.2-3.4 3.2-4.1 1.6-3.1 1.6-3.8 3.1-9.6 8-28 14.3-47.7 3.2-9.8 3.2-8.6 3.2-7.3 4.7-10.3 4.8-9.3 3.2-5.2 1.6-2.2 3.2-3.3 4.7-3.8 3.2-2.1 4.8-2.5 14.3-6.7 4.8-1.8 4.8-1.1 9.5-1.3 8-1.7 4.8-.5 4.7 .2 8 1.3 3.2 .3 11.1-.1 12.7 1 4.8-.4 8-1.5 3.1-.2 1.6 0 4.8 1 9.6 2.9 11.1 1.8 11.1 2.5 4.8 .2 8-1.3 3.1-.3 1.6 0 3.2 .4 3.2 .9 8 2.7 12.7 2.3 3.2 1 7.9 3.2 4.8 1.3 3.2 .4 6.4 .1 3.1 .3 9.6 2.1 3.2 .3 3.1 0 9.6-1.6 3.2 0 1.6 .2 3.1 .9 9.6 3.8 9.5 3 3.2 1.3 8 4 3.2 1.2 1.6 .3 1.5 .2 3.2-.3 8-2 3.2-.5 3.2 0 9.5 1.2 9.5 .3 3.2 .6 3.2 1.2 8 4.3 3.1 1.4 1.6 .5 3.2 .6 6.4 .6 3.2 .5 9.5 3 3.2 .4 1.6 0 3.2-.5 7.9-2.5 3.2-.5 3.2-.1 9.5 1 8 0" stroke="#D26012"/>
<path d="M131.8 378l8 .4 1.5 1.3 1.6 2.6 1.6 3.6 4.8 11.8 1.6 2.8 6.4 8.9 3.1 4 3.2 3.2 4.8 3.3 3.2 1.6 4.8 1.5 9.5 1.5 8 2.1 3.1 .6 3.2 .2 8-.5 3.2 .1 3.1 .5 8 2.1 3.2 .6 3.2 .2 7.9-.2 3.2 .2 3.2 .6 7.9 2.3 3.2 .6 3.2 .2 8-.1 3.1 .3 3.2 .6 8 2.3 6.4 1 3.1 1 3.2 .3 4.8 .1 3.2 .3 3.2 .9 1.5 .8 8 5.9 1.6 .8 1.6 .4 1.6 0 1.6-.5 1.6-1 4.7-3.5 1.6-1 1.6-.7 1.6-.2 1.6 .3 1.6 .5 4.8 2.1 1.6 .4 1.5 .2 1.6-.2 1.6-.7 1.6-.9 6.4-4.3 3.2-1.7 3.1-1 8-1.8 4.8-1.6 3.2-1.5 9.5-5.5 4.8-2 1.6-.4 1.6-.1 1.6 .4 1.5 .8 3.2 2.3 1.6 1.5 3.2 3.7 3.2 4.7 6.4 11.9 3.1 5.4 3.2 4 4.8 5.1 3.2 2.8 3.2 2.5 4.7 3.1 3.2 1.7 4.8 2.1 3.2 1.1 1.6 .2 1.5-.3 1.6-1 1.6-1.9 3.2-6.1 6.4-14.9 9.5-24.2 3.2-6.8 4.8-9.5 9.5-17.6 3.2-7.4 4.8-12.7 3.2-7.4 1.6-3 1.6-2.6 1.5-2 1.6-1.5 1.6-1.1 1.6-.6 1.6 .1 1.6 .6 1.6 1.1 1.6 1.6 1.6 2.1 3.2 5.5 6.3 13.1 4.8 11.4 4.8 13.1 3.2 10.7 6.3 23.2 3.2 10.2 1.6 4.2 1.6 3.6 1.6 2.8 1.6 2 1.6 1.1 1.5 .1 1.6-.8 1.6-1.8 1.6-2.7 1.6-3.4 3.2-8.6 9.5-28.2 8-21.7 3.2-7.8 1.6-3.3 3.2-5.4 1.5-2.1 1.6-1.7 1.6-1.3 3.2-1.9 3.2-1 4.8-.9 7.9-2.3 3.2-.7 1.6-.2 3.2 .1 7.9 1.1 3.2 .2 3.2-.3 8-1.4 3.1-.2 3.2 .3 8 1.3 3.2 .1 3.1-.2 8-1.1 3.2-.1 12.7 1.2 3.2 0 8-1 3.1-.1 3.2 .2 8 1.4 3.2 .3 3.1-.1 8-.7 3.2 .2 3.2 .5 7.9 2.2 3.2 .6 3.2 .2 7.9-.3 4.8 .1 14.3 2.6 12.8 .7 12.7 1.7 14.3 1.1 14.3 2.2 15.9 .9 17.5 2.7 20.7 1.8 17.5 2.4 14.4 .7 11.1 1.6 4.8 .5 12.7 .2 11.1 1.6 3.2 .3 12.8-.2 4.7 .4 9.6 1.5 3.2 .1 11.1-.5 3.2 .2 9.5 1.5 4.8 0" stroke="#FFD966"/>
<path d="M131.8 253.5l3.2-.1 3.2 .4 1.6 1.3 3.1 11.8 9.6 37.2 4.8 16.5 4.7 15 6.4 18.3 6.4 16.7 4.7 10.7 3.2 5.8 1.6 2.4 3.2 4.1 1.6 1.6 3.2 2.8 14.3 9.3 4.8 2.5 3.1 .9 3.2 .4 8-.2 4.8 .3 3.1 .6 6.4 1.5 3.2 .5 1.6 .1 3.2-.1 3.1-.6 6.4-1.6 3.2-.4 1.6 0 3.2 .4 7.9 2.4 3.2 .6 1.6 .1 1.6-.1 3.2-.4 7.9-1.9 4.8-.4 12.7 1.4 4.8-.2 8-.9 3.1 0 3.2 .3 8 1.8 3.2 .3 1.6-.1 3.1-.5 8-2.5 3.2-.7 1.6-.1 3.1 .3 9.6 2.6 4.8 .6 3.2-.2 7.9-1.6 4.8-.6 3.2 .1 9.5 1.1 1.6-.1 1.6-.5 1.6-1.2 1.6-1.7 1.6-2.1 9.5-14.4 4.8-8.8 3.2-6.9 1.6-4.1 3.1-10.3 4.8-19.8 3.2-15 4.8-28.8 1.6-8.4 1.6-6 1.5-5.4 1.6-3.7 1.6-.5 1.6 .4 1.6 .7 3.2 2.1 8 6.8 3.1 2.4 3.2 3.3 1.6 2 3.2 5.1 4.8 9.5 4.7 10.9 3.2 8.4 17.5 50.4 6.4 20.1 11.1 37.6 3.2 10 1.6 3.9 3.2 5.4 1.6 2.3 1.6 1.5 1.6 .4 1.6-.8 1.5-1.5 1.6-2 3.2-4.6 1.6-3.6 1.6-4.5 4.8-15.7 4.7-14.8 6.4-21.8 3.2-10 4.8-13.5 3.2-7.8 1.5-4.4 1.6-2.4 1.6-1.5 3.2-1.8 3.2-.9 4.8-1 3.1-1 3.2-1.6 4.8-2.9 3.2-1.5 1.6-.4 3.2-.3 7.9 1.1 3.2-.4 3.2-1.2 6.3-3.6 3.2-1.2 1.6-.2 1.6 0 1.6 .3 3.2 1.2 6.3 3.4 3.2 1.1 1.6 .3 3.2-.1 8-1.7 3.1-.1 3.2 .5 6.4 1.7 3.2 .4 1.6-.1 3.1-.6 8-2.6 3.2-.4 3.2 .1 7.9 1.4 3.2 .2 3.2-.2 7.9-1.2 4.8 0 4.8 1 9.5 3.3 3.2 .8 3.2 .6 14.3 1.3 14.3 .5 12.8 2 11.1 .6 3.2 .4 3.2 .8 7.9 2.6 3.2 .8 3.2 .4 8 .3 4.7 .9 3.2 1 6.4 2.6 3.2 .8 1.6 .2 3.1-.3 8-2.2 3.2-.3 1.6 .2 3.1 1 8 4.3 3.2 1.1 3.2 .4 7.9-.7 3.2 .2 3.2 .8 6.4 2.5 3.1 1 1.6 .2 3.2-.1 8-1.9 3.2-.2 1.5 .3 3.2 1.1 8 4.8 3.2 1.2 1.6 .3 3.1 0 6.4-1.3 3.2-.3 3.2 .5 9.5 3.7 3.2 .7 3.2 0 7.9-1.1 3.2-.1 3.2 .5 8 2.1 3.1 .4 3.2-.1 8-1.3 3.2 0 1.6 .3 3.1 .9 6.4 2.9" stroke="#525252"/>
<path d="M131.8 421l3.2 .2 1.6-.1 3.2-.7 12.7-9.7 3.2-1.7 3.2-1.2 4.7-.7 8-.2 4.8-.5 3.1-.7 11.2-3.1 6.3-.9 19.1-1 22.3-2.2 6.4 .1 9.5 1.2 4.8 .3 4.8-.3 9.5-1.5 3.2 0 4.8 .6 11.1 3.2 3.2 .3 1.6 0 4.8-.7 11.1-3.7 3.2-.8 3.2-.4 3.2-.1 4.7 .4 15.9 2.9 6.4 .6 4.8-.3 9.5-1.4 4.8-.5 12.7-.1 1.6-.1 3.2-1 4.8-2.6 7.9-5.6 8-4.8 4.8-3.2 4.7-4 4.8-5.2 3.2-4.4 3.2-5.3 4.7-8.9 8-15.6 3.2-7 4.8-12.2 3.1-7 4.8-7.2 1.6-2 1.6-1.3 1.6-.4 1.6 .1 1.6 .4 3.2 1.4 4.7 3.2 4.8 3.7 1.6 1.9 1.6 2.3 1.6 2.8 3.2 6.8 3.1 8 4.8 13.1 4.8 16 20.7 80.6 4.7 17.8 4.8 18.8 1.6 5.6 1.6 4.5 3.2 6.9 1.6 2.6 1.6 1.3 1.6-.2 1.6-.8 1.5-1.2 1.6-1.5 4.8-5.5 1.6-2.3 1.6-3 1.6-3.5 3.2-8.3 6.3-18.6 8-21.3 6.4-18.1 3.1-9.9 4.8-12.8 3.2-7.2 4.8-10.1 4.7-9.1 3.2-5.3 3.2-4.5 3.2-3.3 4.8-3.8 4.7-3.2 4.8-2.5 11.1-4.4 9.6-4.5 3.2-1.3 3.2-.9 4.7-.7 4.8 0 6.4 1 9.5 2.1 4.8 .9 3.2 .3 3.2 .1 3.1-.3 3.2-.8 3.2-1.1 8-3.5 3.1-1 3.2-.6 3.2 .1 4.8 1.1 9.5 3.9 4.8 1.7 6.4 1.6 6.3 1.3 6.4 .8 4.8 .2 4.7-.2 9.6-.7 4.8-.1 6.3 .3 6.4 .8 4.8 1 3.2 .9 4.7 1.9 9.6 4.3 3.2 1 3.1 .7 4.8 .3 8-.2 3.2 .2 4.7 .8 9.6 2.3 4.7 .6 3.2 .1 9.6-.4 4.7 .4 3.2 .6 3.2 1 15.9 6.4 3.2 1.1 3.2 .7 3.2 .4 3.2 .1 12.7-1.5 4.8 .2 4.7 1.2 9.6 4 3.2 1 3.1 .8 3.2 .4 11.2 .7 14.3 2.3 4.8 .2 11.1-.7 4.8 .5 3.2 .7 3.1 1 11.2 4.7 4.8 1.6 4.7 .7 4.8-.2" stroke="#43682B"/>
<path d="M131.8 442l8 1 4.7-.6 9.6-2.2 25.4-7 4.8-1 4.8-.6 3.2 0 3.2 .1 12.7 2 6.3 .4 3.2-.1 3.2-.5 11.1-2.3 6.4-.7 6.4 .1 15.9 1.9 4.8 .3 6.3 .1 9.6-.4 15.9-1.7 6.4-.3 3.1 .2 4.8 .6 12.7 2.8 3.2 .3 3.2 .1 3.2-.2 3.2-.4 14.3-3.2 6.4-1.1 4.7-.6 11.2-.8 4.7-.6 4.8-1.1 6.4-2.1 4.8-2 6.3-3.5 6.4-4.3 9.5-7.6 4.8-3.5 9.6-5.9 9.5-7.4 3.2-2.3 9.5-5.9 1.6-.8 3.2-.8 3.2-.2 3.2 .4 3.2 .9 3.1 1.3 3.2 1.8 1.6 1.2 3.2 3.4 4.8 6.9 7.9 13.6 4.8 8.9 23.9 50.4 6.3 13 6.4 13.9 1.6 3 1.6 2.6 4.8 6.1 1.5 1.3 1.6 .5 1.6-.1 1.6-.6 1.6-.9 1.6-1.3 4.8-4.8 1.6-2.5 1.6-3.3 1.5-4 3.2-9.8 8-28.4 4.8-16 6.3-22.3 6.4-20.6 4.8-13.4 4.7-11.6 4.8-11.2 4.8-9.8 3.2-5.4 3.1-4.1 3.2-3.1 4.8-4 3.2-2.4 3.2-2 9.5-5.4 8-4.8 3.2-1.6 3.1-1.2 4.8-.9 4.8 0 4.8 .6 7.9 1.7 4.8 .2 3.2-.4 7.9-2.2 3.2-.7 4.8-.5 6.4-.1 4.7 .4 9.6 1.4 11.1 1.3 3.2 .6 7.9 2.1 4.8 .8 4.8 .1 11.1-.5 6.4 .3 3.2 .5 3.2 1 9.5 4.3 3.2 1.1 3.2 .7 4.8 .5 15.9 .9 4.7 .6 3.2 .8 11.2 3.2 9.5 1.7 12.7 3.2 12.8 2.6 4.7 .5 9.6-.2 4.8 .4 4.7 1.4 14.4 5.7 3.1 1 3.2 .8 4.8 .4 9.5-.5 4.8 .5 12.7 3.2 11.2 2.5 11.1 2.1 9.6 2.5 3.2 .7 4.7 .2 11.2-1.3 3.1 0 3.2 .3 3.2 .6 3.2 .9 12.7 4.7 3.2 .7 1.6 .2" stroke="#ED7D31"/>
<path d="M131.8 272.3l8 .3 1.5 1.9 1.6 4.1 4.8 17.9 1.6 5.3 1.6 3.8 6.4 10.8 3.1 4.7 1.6 2 1.6 1.6 4.8 4.2 3.2 2.3 3.2 1.9 3.1 1.3 3.2 .8 17.5 2.1 4.8 0 11.1-1.5 4.8-.3 12.7 .3 4.8 .4 4.8 .9 8 2.7 4.7 1.3 11.2 1.9 4.7 1 6.4 1.8 8 2.6 11.1 3 3.2 1.1 4.8 2.7 12.7 9.5 6.4 3.9 6.3 3.2 4.8 2 4.8 1.5 3.1 .4 4.8-.2 4.8-.9 9.5-2.6 6.4-2.1 4.8-2.2 11.1-6.3 11.2-5.8 4.7-3.1 3.2-2.5 6.4-5.6 7.9-7.6 4.8-4.9 3.2-3.6 4.8-6.3 9.5-14.2 4.8-6.8 9.5-12.2 8-11.2 4.8-6.1 3.1-3.2 3.2-2.1 1.6-.7 1.6-.4 1.6-.1 1.6 .2 1.6 .5 1.6 1.1 3.2 3.1 6.3 7.8 3.2 3.3 11.1 9.6 4.8 3.2 1.6 .6 1.6-.4 1.6-1.1 4.8-5.2 1.6-1.4 1.5-.9 1.6 0 1.6 .8 3.2 2 8 6 6.3 4.2 9.6 7 3.2 1.6 1.6 .4 1.5 .1 1.6-.2 1.6-.4 3.2-1.4 3.2-2 8-6.2 6.3-4.4 3.2-2.1 3.2-1.7 3.2-1.1 1.6-.3 6.3-.8 3.2 0 3.2 .2 3.2 .4 11.1 2.1 6.4 .5 11.1-.4 11.1 0 12.8-1.4 4.8-.1 3.1 .2 11.2 1.7 12.7 .8 11.1 1.3 4.8 .1 9.6-.5 3.1 0 4.8 .4 9.6 1.3 11.1 .7 4.8 .8 12.7 2.8 12.7 1.7 4.8 1.2 9.6 2.6 4.7 .9 8 1.2 3.2 .6 12.7 3.8 9.6 2.2 4.7 1.3 11.2 4.2 4.7 1.4 12.8 2.5 12.7 3 9.5 1.6 4.8 1.1 4.8 1.7 7.9 3.5 4.8 1.8 20.7 5.5 6.4 1.2 9.5 .8 4.8 .9 3.2 .9 12.7 4.6 20.7 5.7 3.2 .6 3.2 .4 14.3-.1 14.3 1.5" stroke="#5A8A39"/>
<path d="M131.8 335.1l4.8-.5 3.2-.1 1.5 1.7 1.6 3.6 1.6 5 4.8 16.8 1.6 4.2 3.2 6.8 3.2 6.2 3.1 5.3 1.6 2 1.6 1.7 4.8 3.9 4.8 3.1 4.7 2.5 3.2 1.3 4.8 1.2 4.8 .8 3.2 .3 9.5-.2 4.8 .3 4.8 .8 7.9 2 3.2 .5 3.2 .1 3.2-.1 7.9-1 3.2-.1 3.2 .1 9.5 .9 4.8-.1 3.2-.3 7.9-1.5 4.8-.4 4.8 .2 7.9 1 3.2 .3 4.8-.2 11.1-1 3.2 0 9.6 .6 3.2-.1 4.7-.8 11.2-3.2 4.7-.8 14.4-.6 14.3-2.4 4.8-.3 7.9-.1 4.8-.5 4.8-1.3 7.9-2.9 4.8-1.4 4.8-.7 9.5-.6 4.8-.8 20.7-6 3.1-1.1 3.2-1.4 3.2-1.7 3.2-2 11.1-8.1 4.8-3 14.3-7.1 14.4-8.7 4.7-2.3 11.2-4.5 3.1-1.6 8-4.9 4.8-2.2 3.2-1.1 3.1-.5 3.2-.3 8-.1 1.6 .3 1.6 .8 1.6 1 1.5 1.4 3.2 3.9 1.6 2.5 3.2 6.2 1.6 4 1.6 4.9 1.6 5.9 4.8 21.5 4.7 24.7 3.2 20.6 1.6 12.8 1.6 15.1 3.2 35.8 1.6 21.7 3.1 51.3 1.6 21.4 1.6 16.6 6.4 109.9 4.8 70.2 1.6 17 1.5 10.2 1.6 3.4 1.6 1.3 1.6 .3 1.6-.3 1.6-1.5 1.6-3.7 1.6-9.9 1.6-18.1 12.7-191.4 6.4-99 1.6-19.8 1.6-15.5 1.5-12.6 3.2-22 1.6-9.4 1.6-7.8 1.6-5.7 1.6-3.6 1.6-5.2 1.6-7 1.6-3.7 3.2-5.1 6.3-7.4 3.2-3.1 1.6-1.3 1.6-1.1 1.6-.7 15.9-6.6 4.8-1.6 3.1-.6 4.8 0 8 .9 3.2 .2 3.1 0 8-.5 4.8 .1 3.1 .3 8 1.4 4.8 .3 4.8-.4 7.9-1.5 4.8-.3 4.8 .6 7.9 1.9 4.8 .9 3.2 .2 7.9 .1 4.8 .5 3.2 .7 7.9 2.3 4.8 .8 4.8 .1 9.5-.9 4.8 .3 3.2 .7 7.9 2.2 3.2 .7 4.8 .4 8 .1 4.7 .6 3.2 .8 8 2.6 4.7 1.1 4.8 .3 8-.5 3.2 .1 4.7 .6 8 2.2 4.8 .8 4.7 .2 8-.4 3.2 .2 4.7 1.1 9.6 3.4 4.8 1 3.1 .3 8-.3 4.8 .3 3.2 .5 7.9 1.8 4.8 .5 3.2-.1 9.5-1.2 4.8 .2 4.8 1.1 7.9 2.6 4.8 1" stroke="#BF9000"/>
<path d="M131.8 346.6l6.4-.9 1.6 0 1.5 1 3.2 2.6 11.2 10.7 6.3 5.2 6.4 4.5 4.8 2.9 3.2 1.5 3.1 1 3.2 .5 9.6 .5 9.5 .9 11.2 .5 4.7 .7 8 1.5 3.2 .3 20.7-.2 12.7-1.1 3.2 .2 7.9 1 3.2-.3 8-2.2 4.7-.8 8-.9 3.2-.7 9.5-2.9 4.8-1.1 9.5-1.3 11.2-2.1 9.5-1.3 3.2-.8 4.8-1.8 7.9-3.9 11.2-5 12.7-6.8 11.1-5.1 4.8-2.8 12.8-9.7 6.3-5.1 4.8-4.4 9.5-10.4 4.8-4.8 6.4-5.3 4.7-3.3 8-4.3 3.2-1.4 3.2-.9 3.2-.6 3.1-.2 1.6 .3 1.6 .6 3.2 1.8 3.2 2.8 4.8 5.5 1.5 2.6 1.6 3.4 3.2 8.6 3.2 10.2 4.8 16.4 4.8 18.4 4.7 21.6 8 38.7 19.1 96.3 1.6 6.3 3.2 9.2 1.5 3.6 1.6 1.9 1.6-.3 1.6-1.1 1.6-1.7 1.6-2.1 4.8-7.6 1.6-3.4 1.6-4.5 3.1-10.9 8-32.2 14.3-55.1 3.2-11.7 3.2-10.7 7.9-25.2 3.2-9.2 3.2-7.8 1.6-3.1 1.6-2.6 3.2-3.9 4.7-4.7 3.2-2.6 3.2-2.3 3.2-1.7 1.6-.7 9.5-2.5 3.2-1 11.1-4.9 3.2-1 4.8-.8 12.7-.6 6.4 .3 9.5 1.5 4.8 .3 19.1-.5 11.2-1 4.7 .2 3.2 .5 15.9 3.4 11.2 3.1 3.1 .6 4.8 .2 8-.7 4.7 0 4.8 .5 8 1.3 3.2 .7 3.1 1 11.2 4.6 4.8 1.2 4.7 .5 22.3 .8 4.8 .5 4.8 1.4 9.5 3.9 4.8 1.3 9.5 1.6 6.4 .8 4.8 .2 7.9-.1 4.8 .6 11.1 3 9.6 2.3 9.5 2.9 4.8 1 3.2 .2 9.5 .4 9.6 1.2 11.1 .9 4.8 1 7.9 2.5 3.2 .9 8 1.1 7.9 .8 4.8 .2 11.2-.9 3.1 0 3.2 .5 3.2 .7" stroke="#C0C0C0"/>
<path d="M131.8 174.7l3.2-.5 3.2-.2 1.6 1.3 6.3 25.5 4.8 18 4.8 16.6 6.3 20.1 8 22.2 15.9 41.3 6.4 15.2 4.7 9.8 4.8 7.8 3.2 4.1 3.2 3.4 3.2 2.8 11.1 8.8 3.2 3 9.5 9.8 3.2 3 4.8 3.6 3.2 1.6 3.2 .9 3.1 .4 3.2-.1 9.6-1 4.7 .1 4.8 .7 11.2 2.5 6.3 .8 4.8 .1 12.7-.4 14.3 .7 4.8-.1 6.4-.6 14.3-2.4 11.1-.8 6.4-.9 4.8-1 3.2-.9 6.3-2.5 3.2-1.6 3.2-2 3.2-2.4 4.7-4 17.6-16.7 4.7-5.2 4.8-5.7 6.4-8.5 7.9-12.1 3.2-6 6.4-13.6 3.1-6 1.6-2.6 1.6-2 4.8-5.8 1.6-1.6 1.6-1.2 1.6-.7 1.6-.2 1.6 .3 1.6 .7 1.5 1.1 1.6 1.4 3.2 3.5 4.8 6.5 1.6 3.2 1.6 4 1.6 4.7 3.1 11.2 6.4 25.7 3.2 14.7 4.8 25 7.9 43.6 17.5 98.9 1.6 7.5 3.2 10.7 1.6 4.4 1.6 2.5 1.6-.2 1.6-1.9 1.6-3 1.6-3.6 1.5-4.3 1.6-6.7 1.6-8.8 4.8-31.5 9.5-61 3.2-19.2 6.4-32.1 3.2-13.6 1.6-5.6 1.6-4.5 1.6-3.2 3.1-5.3 1.6-2.3 3.2-3.7 3.2-2.6 7.9-4.6 9.6-6.4 3.2-1.8 1.6-.6 3.1-.7 1.6 0 3.2 .3 3.2 .8 9.6 3.7 3.1 .7 1.6 .1 1.6-.1 3.2-.6 3.2-1 6.3-2.6 3.2-1 3.2-.5 1.6 0 4.8 .7 11.1 3.2 3.2 .6 3.2 .3 3.2 0 3.1-.3 14.4-2.6 3.2-.3 3.1-.2 3.2 .3 3.2 .5 11.1 2.8 4.8 .6 4.8-.1 9.5-1.3 4.8 0 4.8 1 3.2 1.1 9.5 4.1 3.2 1 3.2 .7 3.2 .3 3.1 .1 22.3-.5 4.8 .2 4.8 .7 3.1 .9 3.2 1.1 12.8 5.5 3.1 1 4.8 .9 22.3 1.8 4.8-.1 9.5-.8 3.2 0 3.2 .4 3.2 .9 3.1 1.3 11.2 5.8 3.2 1.1 3.1 .8 4.8 .4 9.6-.3 6.3 .3 22.3 3.2 17.5 2 4.8 .8 3.2 .8 12.7 4 4.8 .8 4.7 0 3.2-.5 6.4-1.4 4.8-.5 1.6 0 3.1 .6 3.2 1 4.8 1.9" stroke="#8FAADC"/>
<path d="M131.8 336.6l8-.9 1.5 1.7 1.6 4 1.6 5.4 4.8 18.1 1.6 4.3 4.8 10.4 3.2 6.4 3.1 5.2 3.2 3.7 3.2 3.1 3.2 2.7 3.2 2 1.6 .8 3.1 1.2 1.6 .4 6.4 .9 4.8 1 15.9 4.7 4.8 .8 3.1 .2 3.2-.1 11.2-1 4.7-.2 4.8 .3 11.1 1.1 6.4 .1 14.3-1.3 4.8-.2 4.8 .2 12.7 1.2 6.4 0 4.7-.5 14.4-2 4.7-.3 11.2 0 4.8-.2 4.7-.5 11.2-1.8 4.7-.6 6.4-.3 11.1-.3 4.8-.4 4.8-.7 4.8-1.2 12.7-3.8 14.3-3.9 6.4-2.1 4.8-2 6.3-3.2 23.9-13.3 3.2-2.9 1.6-2 3.1-4.6 4.8-8.5 9.6-19.5 4.7-9.1 3.2-5.3 6.4-8.8 4.8-5.7 3.1-3.4 4.8-4.4 3.2-2.6 4.8-3.2 3.2-1.6 3.1-1.1 1.6 .1 1.6 .8 1.6 1.3 1.6 1.9 1.6 2.5 3.2 6.6 1.6 4 3.2 9.3 1.5 5.4 3.2 12.2 11.2 49 4.7 19.1 4.8 20.4 1.6 6 1.6 5 1.6 3.7 1.6 2 1.6 .1 1.6-1.8 1.6-2.7 1.5-3.2 3.2-7.6 15.9-41.1 3.2-6.9 3.2-5.4 1.6-2.1 3.2-3.1 1.6-1.2 3.1-1.7 11.2-3.1 4.8-1 3.1-.4 4.8-.1 15.9 1 6.4-.1 12.7-.5 8 .5 4.8 .8 14.3 2.8 15.9 1.8 4.8 .7 4.7 1 11.2 2.6 6.3 1.2 4.8 .5 11.2 .5 4.7 .4 4.8 .7 12.7 2.8 4.8 .8 4.8 .4 11.1 .6 6.4 .8 4.8 .9 9.5 2.3 4.8 .8 6.3 .6 11.2 0 4.8 .3 4.7 .6 11.2 2.3 6.3 1 4.8 .2 11.1-.3 4.8 .2 4.8 .4 12.7 2.1 4.8 .3 4.8 0 11.1-.6 4.8 .1 4.8 .4 11.1 2 4.8 .6 4.7 .2 12.8-.4 4.7 .1 4.8 .5 11.2 1.7 4.7 .4 4.8-.1 12.7-1.3 6.4-.2" stroke="#43682B"/>
<path d="M131.8 279.9l3.2-1.3 3.2-1.5 1.6-.1 3.1 6.6 3.2 8.1 12.8 38.1 3.1 8.4 3.2 7.4 4.8 8.9 4.8 7.3 9.5 12.9 3.2 3.9 3.2 3.1 3.2 2.2 1.6 .7 1.5 .4 1.6 .2 3.2-.2 8-1.7 3.2-.1 3.1 .6 9.6 3.5 3.2 .7 1.6 .1 3.1-.1 8-1 3.2 .2 3.2 .7 9.5 3.7 3.2 .5 1.6 0 3.2-.7 3.1-1.3 4.8-2.5 3.2-1.3 3.2-.6 1.6-.1 3.2 .4 7.9 2.1 3.2 .4 4.8-.2 7.9-1.2 3.2 0 3.2 .5 6.4 1.8 3.1 .7 3.2 .1 1.6-.3 1.6-.4 3.2-1.3 7.9-4.6 3.2-1.6 1.6-.5 3.2-.7 8-.5 3.1-.6 1.6-.5 3.2-1.3 9.6-5.5 3.1-1.4 3.2-1.1 6.4-1.5 3.2-1.2 3.2-1.9 1.5-1.2 3.2-3.3 3.2-3.9 8-11 3.2-4 3.1-3.5 8-7.9 4.8-5.6 3.1-4.4 3.2-5.1 6.4-12 3.2-5.6 3.2-4.7 1.5-1.8 1.6-1.5 4.8-3.3 6.4-4.8 3.2-1.9 3.1-.8 1.6-.1 1.6 .3 1.6 .4 1.6 .8 3.2 2.5 3.2 3.5 1.6 2.5 1.6 3.4 1.5 3.9 3.2 9.4 9.6 30.6 6.3 23.5 6.4 26.3 3.2 14.5 9.5 46.5 8 35.6 1.6 5.7 1.6 4.2 1.6 3.4 1.6 3 1.6 2.1 1.5 .4 1.6-1.3 1.6-2.2 3.2-5.7 1.6-3.7 1.6-5.4 1.6-6.7 17.5-82.4 4.8-18.2 3.1-10.8 1.6-4.5 1.6-3.8 1.6-3 1.6-2.1 3.2-3.2 11.1-9.2 8-7.1 3.2-2.1 3.1-1.2 1.6-.2 3.2 .1 6.4 1.7 3.2 .5 1.6 .1 3.1-.3 8-1.6 3.2-.1 1.6 .2 3.2 .8 7.9 3.1 3.2 .8 1.6 .1 1.6-.1 3.2-.7 9.5-4.1 3.2-.7 1.6-.1 3.2 .2 7.9 1.8 3.2 .4 3.2-.2 7.9-1.4 3.2-.2 1.6 .1 1.6 .3 3.2 1.1 7.9 3.7 3.2 1 1.6 .2 1.6 0 3.2-.6 6.4-2.1 3.1-.9 3.2-.2 1.6 .1 3.2 .8 8 2.9 3.1 .7 3.2 .2 8-.8 3.2 .1 1.5 .3 1.6 .4 3.2 1.4 8 4.5 3.2 1.2 1.6 .3 3.1 .1 3.2-.6 6.4-1.7 3.2-.4 1.6 .1 3.1 .6 8 3.1 3.2 1 1.6 .3 3.2 .2 7.9-.6 3.2 .2 1.6 .3 3.2 1.1 9.5 5.3 3.2 1.2 1.6 .3 1.6 .1 3.2-.4 7.9-2.1 3.2-.3 1.6 .1 3.2 .6 7.9 3.1 3.2 1 1.6 .3 3.2 .1 7.9-.5 3.2 .2 1.6 .3 3.2 1.1 9.5 5.1 3.2 1.1 1.6 .3 3.2 0 9.5-2 3.2-.2 1.6 .2 3.2 .7 8 3 3.1 .7 1.6 .2 3.2-.1 8-1.2 3.2 .1 1.5 .3 3.2 1.1 9.6 4.9 3.2 1 1.5 .2 3.2-.3 9.6-2.8 3.2-.4 1.6 0 3.1 .6 6.4 2.1" stroke="#5B9BD5"/>
<path d="M131.8 292.9l8 .9 1.5 3.3 1.6 6.9 6.4 40 1.6 7.2 6.4 21.8 3.1 9 1.6 3.7 1.6 2.9 4.8 7.5 3.2 4.5 4.8 5.7 3.1 2.8 1.6 .9 1.6 .7 3.2 .9 12.7 3 19.1 5.7 6.4 1.4 3.2 .3 3.2 0 9.5-.8 4.8 0 12.7 .9 19.1 .4 6.4 .7 4.7 1.2 9.6 3.6 4.8 1.5 3.1 .6 9.6 1.3 6.4 1.2 7.9 1.8 11.2 3.4 3.1 .9 3.2 .5 8 1 4.7 .9 3.2 1.1 3.2 1.4 12.7 6.6 9.6 4.4 4.8 1.7 11.1 3.2 11.1 4 4.8 1 4.8 .4 4.8 .1 11.1-.6 4.8 .5 1.6 .5 3.1 1.7 3.2 2.3 3.2 2.9 3.2 3.1 8 9.9 3.1 3.2 1.6 1.2 3.2 1.8 3.2 1.1 1.6 .2 1.6 .1 1.6-.3 1.6-.7 1.5-1.1 1.6-1.6 1.6-2.2 3.2-5.6 4.8-9.5 6.4-14.6 4.7-11.9 3.2-9.3 1.6-5.2 1.6-5.8 1.6-10.5 3.2-44 1.6-12.3 3.1-21.1 3.2-16.9 3.2-13.4 1.6-5.5 1.6-4.2 1.6-2.7 1.6-.8 1.6 .5 1.6 2 1.5 3.5 1.6 5.1 1.6 6.9 6.4 33.5 6.4 35.5 9.5 57.9 1.6 7.8 1.6 4.8 1.6 2.6 1.6 1 1.6 0 1.6-.2 1.5-1 1.6-2.2 1.6-4 19.1-67 3.2-9.9 1.6-3.5 1.6-2.5 1.6-1.8 1.6-1.1 1.6-.6 19.1-3.7 7.9-.6 11.1 .6 4.8 0 15.9-1.1 9.6-.3 4.8 .3 9.5 1.3 3.2 .2 3.2 0 9.5-.5 4.8 .1 14.3 1 12.7 1.2 11.2 .6 4.8 .6 11.1 2.5 7.9 1.3 12.8 1.5 12.7 1.1 12.7 1.6 12.8 .9 4.7 .7 28.7 5.2 12.7 1.2 11.2 1.5 14.3 1.2 9.5 1.4 11.2 1.3 12.7 1.8 22.3 2.3 15.9 .4 17.5 1.2 12.7 1.2 12.7 .4 8 .8" stroke="#F4B183"/>
<path d="M131.8 252.7l6.4-1.9 1.6 .5 4.7 15.2 11.2 39.8 4.7 14.7 4.8 12.3 14.3 33.9 3.2 7.2 3.2 6.2 3.2 5 1.6 2 3.2 2.9 3.1 2 8 3.9 9.5 6.3 3.2 1.5 1.6 .5 3.2 .3 8-1 3.1 .1 1.6 .2 3.2 1.1 4.8 2.2 3.2 1.2 3.2 .6 3.1-.2 8-2.6 3.2-.6 3.2 .1 6.3 1.8 4.8 .2 1.6-.2 3.2-.8 9.5-4.8 3.2-1 3.2-.3 7.9 .6 3.2-.2 1.6-.4 3.2-1.3 8-4.3 3.1-1.1 3.2-.4 8 .6 3.2-.4 1.5-.5 3.2-1.7 8-6.2 3.2-2.2 1.6-.8 3.1-1.2 8-2.1 3.2-1.6 3.2-2.4 7.9-7.9 3.2-2.8 1.6-1.2 3.2-1.8 7.9-3.8 3.2-2.3 1.6-1.4 3.2-3.5 6.4-7.9 4.7-5.4 3.2-3.2 9.6-8.9 11.1-12.9 3.2-3.2 3.2-2.6 1.5-.9 3.2-1.1 1.6-.2 3.2 .1 3.2 .6 3.2 1.3 3.2 1.8 3.1 2.1 3.2 2.7 3.2 3.4 1.6 2.6 1.6 3.3 1.6 4.2 3.2 10 11.1 40.8 6.4 25.2 7.9 35.3 3.2 15.8 9.5 50.5 9.6 46.3 1.6 6.4 1.6 5.2 3.2 8.6 1.6 3.6 1.5 2.1 1.6 .2 1.6-1.1 1.6-2.2 1.6-2.8 1.6-3.1 1.6-4.8 1.6-7 3.2-18.4 3.1-20.9 9.6-59.1 3.2-18.3 1.6-8.2 4.7-21.7 4.8-19.2 3.2-10.7 1.6-4.3 4.8-9.9 3.1-5.4 1.6-2.2 1.6-1.9 1.6-1.4 1.6-.9 3.2-1 6.4-1 3.1-.8 3.2-1.5 8-4.5 1.6-.6 3.2-.6 3.1 .2 8 2.3 3.2 .5 1.6 .1 3.1-.4 8-2.6 3.2-.6 1.6 0 3.2 .3 7.9 2 3.2 .2 3.2-.3 7.9-1.6 3.2-.1 3.2 .6 9.6 3.6 3.1 .4 1.6 0 3.2-.7 8-2.9 3.1-.4 1.6 0 3.2 .5 6.4 1.9 3.2 .6 3.1 .2 8-.9 3.2 .1 1.6 .2 3.2 1 7.9 3.6 3.2 .9 3.2 .2 9.5-1.6 3.2 0 3.2 .7 8 3.6 3.1 1.1 1.6 .4 1.6 .1 3.2-.2 6.4-1.1 3.1-.2 3.2 .3 9.6 2.6 3.2 .5 3.1-.1 6.4-.6 3.2 .2 1.6 .3 3.2 1.1 9.5 5.4 3.2 1.1 1.6 .3 3.2-.1 7.9-1.5 3.2-.1 3.2 .4 7.9 2.3 3.2 .6 1.6 .1 3.2-.2 8-1.2 3.1 .1 3.2 .8 8 3.3 4.8 1.5 3.1 .3 8 0 3.2 .6 3.2 1 7.9 3.6 3.2 .8 1.6 .1 3.2-.2 9.5-2.6 3.2-.3 1.6 .1 3.2 .5 6.3 1.8 3.2 .5 3.2 .2 8-.3 3.1 .3 3.2 .9 9.6 4.2 3.2 .7 1.5 .2 3.2-.3 4.8-1.1" stroke="#1F4E79"/>
<path d="M131.8 208.1l3.2 .8 3.2 .6 1.6 1.1 4.7 14.5 4.8 12.9 9.6 24.4 6.3 15 6.4 13.1 15.9 29.3 4.8 8.3 3.2 4.9 4.7 6.2 17.5 20.2 3.2 3.4 3.2 2.9 4.8 3.3 15.9 8.8 4.8 2.2 3.1 1 3.2 .5 6.4 .4 3.2 .4 3.1 .8 8 2.4 4.8 .8 3.2 .1 9.5-.6 9.6 .6 3.1 0 3.2-.3 9.6-1.8 3.2-.2 3.1 .2 8 1.3 3.2 0 4.7-.8 9.6-3 9.5-2.1 4.8-1.6 3.2-1.5 9.5-5.2 3.2-1.4 8-2.8 4.8-2.4 3.1-2 9.6-7.1 9.5-6.3 3.2-2.3 3.2-2.8 3.2-3.3 12.7-14.4 4.8-6.3 11.1-16.1 6.4-7.1 3.2-2.8 1.6-1 1.6-.6 1.5-.3 1.6 .1 1.6 .5 1.6 .9 1.6 1.1 3.2 2.9 6.4 7 1.5 2.2 1.6 2.8 1.6 3.4 1.6 4 3.2 9.2 8 26 12.7 48.3 6.4 26.5 12.7 56.6 1.6 5.9 1.6 4.3 3.2 7 1.5 1.8 1.6-.2 1.6-1.7 1.6-2.7 3.2-6.7 1.6-5.5 1.6-7 4.8-25.5 12.7-64.2 6.4-25.6 1.5-7.2 1.6-5 1.6-4.1 1.6-3.2 3.2-4.3 4.8-5.4 4.7-4.9 6.4-5.5 3.2-2.1 3.2-1.4 1.6-.4 3.1-.4 8-.3 8-1.4 3.1-.3 3.2 .3 9.6 2.8 3.2 .4 3.1-.1 8-1.2 3.2-.1 3.2 .4 6.3 1.3 3.2 .2 3.2-.4 7.9-2.1 3.2-.5 3.2 0 6.4 .9 3.2 .2 3.1-.3 8-2 3.2-.2 1.6 .1 1.6 .4 3.1 1.2 8 4.2 1.6 .6 3.2 .8 11.1 .3 3.2 .6 6.4 1.6 3.1 .4 1.6 0 3.2-.4 8-1.8 3.2-.1 1.5 .2 3.2 .9 6.4 2.6 3.2 1 9.5 1.6 3.2 .9 3.2 1.3 6.4 3.4 3.1 1.2 1.6 .4 3.2 .3 8-.9 3.2 0 3.1 .5 8 2.5 3.2 .5 3.2 .1 6.3-.6 3.2 .1 1.6 .3 3.2 1.1 7.9 4.2 3.2 1.3 1.6 .4 3.2 .4 6.4 0 3.1 .3 3.2 .7 8 2.2 3.2 .5 3.1 0 6.4-.3 3.2 .3 3.2 .9 7.9 3.7 3.2 1.2 1.6 .5 3.2 .4 6.3 .2 3.2 .4 3.2 .8 6.4 1.9 3.2 .6 1.5 .1 3.2-.3 8-1.7 3.2 .1 3.2 .7 7.9 3.7 3.2 1.2 1.6 .4 3.2 .3 6.3 .2 3.2 .4 3.2 .9 6.4 2.3 3.1 .8 3.2 .1 4.8-.8" stroke="#FFCD33"/>
<path d="M131.8 100.5l6.4-.5 1.6 .1 1.5 5.6 1.6 11 8 66.3 3.2 23.2 4.8 30.7 1.5 8.5 1.6 7.2 1.6 5.9 1.6 2.5 1.6-.6 1.6 3.7 1.6 4.6 4.8 14.9 3.1 8.8 1.6 3.5 8 15 3.2 5.3 14.3 20.7 14.3 21.3 3.2 4.2 3.2 3.6 3.2 3 3.1 2.6 3.2 2.2 4.8 2.8 4.8 2.2 4.8 1.7 4.7 1.2 3.2 .4 6.4 .6 6.3 .2 6.4 0 6.4-.3 14.3-1.4 25.5-3.8 17.5-2.3 9.5-1.7 6.4-1.6 7.9-2.5 8-3.1 4.8-2.1 6.3-3.8 6.4-4.7 6.3-5.4 8-7.4 9.6-9.4 3.1-3.4 4.8-5.6 12.7-15.6 6.4-7.2 4.8-4.6 4.7-3.8 3.2-2 4.8-2.4 3.2-1.2 3.2-.8 1.6 0 3.1 .7 8 2.8 3.2 .4 1.6-.3 3.2-1 4.7-2.2 4.8-3.1 4.8-3.7 3.2-2.9 3.1-4 3.2-5.5 8-15.7 4.8-8.5 4.7-7.7 3.2-4 4.8-4.5 1.6-1.1 1.6-.8 1.6-.2 1.6 .1 1.5 .5 1.6 .9 1.6 1.2 3.2 3.4 4.8 6.5 4.8 8.2 7.9 15.7 9.6 16.7 3.1 7 3.2 5.2 1.6 2.1 1.6 1.7 1.6 1.4 1.6 1.1 4.8 2.7 4.7 1.9 12.8 2.9 4.7 .8 4.8 .5 4.8 .2 12.7-.1 6.4 .1 6.3 .4 16 1.6 4.7 .3 6.4 0 14.3-.5 6.4 .1 31.8 2.5 8 .9 9.5 1.7 15.9 4 8 1.7 27 4.7 27.1 5 7.9 1.8 22.3 5.5 36.6 7.7 8 1.5 20.7 3.2 23.8 5.1 9.6 1.3 20.7 1.7 20.6 2.5 19.1 1.2 8 .7" stroke="#636363"/>
<path d="M131.8 341.7l6.4-.2 1.6 .3 12.7 13.2 12.7 12.2 4.8 4.1 4.8 3.9 4.7 3.4 4.8 3.1 8 4.4 4.7 2.1 4.8 1.9 11.2 3.7 11.1 2.9 6.4 1.4 6.3 1.1 11.2 1.2 9.5 .3 23.9 .1 28.6 1.4 6.4 0 6.4-.2 20.6-1.8 9.6-.6 9.5 .2 17.5 1.1 3.2 0 3.2-.7 4.8-1.9 4.7-2.7 8-5.4 3.2-2.5 4.8-4.4 4.7-5.1 4.8-5.7 3.2-4.1 4.8-7.4 4.7-8.3 4.8-9.1 6.4-12.7 6.3-16.3 3.2-6.9 4.8-7 1.6-2 1.6-1.3 1.6-.5 3.2 .6 3.1 1.5 4.8 3.3 4.8 4 1.6 1.6 1.6 2.1 1.6 2.5 3.1 6 3.2 7 6.4 14.9 3.2 8.6 3.2 9.4 9.5 30.9 14.3 51.6 6.4 23.9 1.6 4.8 3.2 7.1 1.6 3.1 1.5 2 1.6 .6 1.6-.6 1.6-1.3 3.2-4 1.6-2.4 1.6-3 1.6-4.3 3.2-11.3 6.3-27 12.8-51.3 3.1-12 3.2-10.5 4.8-14.7 4.8-13.1 3.1-7 1.6-2.8 3.2-4.3 3.2-3.7 3.2-3.2 3.2-2.5 3.1-1.9 3.2-1.1 6.4-1.2 11.1-.9 4.8-.5 15.9-2.8 4.8-.6 28.6-1.7 4.8 .1 3.2 .4 12.7 2.5 4.8 .8 4.8 .4 12.7 .6 15.9 2.4 6.4 .2 11.1-.6 4.8 .3 3.2 .7 3.2 1 12.7 5.8 3.2 1.2 3.2 .9 4.7 1 11.2 1.8 14.3 3.1 6.4 .6 11.1 0 4.8 .6 3.1 .8 3.2 1 9.6 3.9 4.7 1.6 4.8 1.1 8 1.4 4.8 1 4.7 1.4 8 2.6 4.8 1.2 3.1 .4 3.2 .2 11.2-.5 4.7 .4 3.2 .6 3.2 1 11.1 4.2 4.8 1.5 4.8 1 11.1 1.9 14.3 3.4 6.4 .8 4.8 0 7.9-.4 6.4 .3 4.8 .9 9.5 2.4 4.8 .8" stroke="#F2A46F"/>
<path d="M131.8 415.8l3.2-.4 4.8-1 3.1 .5 3.2 .9 3.2 1.4 11.1 6.8 3.2 1.5 1.6 .5 1.6 .3 3.2 .3 7.9-.3 4.8 .4 3.2 .7 8 2.5 4.7 .8 4.8 0 8-1 3.1-.2 3.2 .1 9.6 .9 3.2 0 3.1-.2 8-1.2 3.2-.2 4.8 .2 7.9 .8 3.2 0 3.2-.3 7.9-1.3 3.2-.1 4.8 .5 7.9 2.1 4.8 .7 1.6 0 3.2-.4 7.9-2.1 4.8-.6 3.2 .2 9.6 2.2 3.1 .4 1.6 0 3.2-.4 8-2.1 4.7-.6 4.8 .4 8 2 4.7 .7 4.8-.2 9.6-1.1 4.7 .1 8 .9 3.2 .1 3.2-.2 1.5-.5 1.6-.8 3.2-2.4 14.3-13.7 3.2-3.7 3.2-4.5 4.8-8.2 3.2-6.4 3.1-7.6 3.2-8.6 6.4-18.4 4.8-14.6 6.3-25.1 1.6-5.4 3.2-8.2 1.6-3.8 1.6-3 1.6-1.6 1.6-.2 1.6 0 1.6 .4 1.5 .8 1.6 1 1.6 1.4 3.2 3.5 4.8 6.6 1.6 2.7 1.6 3.2 1.6 3.9 3.1 8.8 11.2 35.6 4.8 18 6.3 28.5 6.4 30.7 11.1 57 6.4 31.2 4.8 24.5 1.6 7.2 1.5 6.2 3.2 9.4 1.6 4.2 1.6 3 1.6 1.3 1.6-.4 1.6-1.4 1.6-2.1 1.6-2.7 3.1-6.4 1.6-3.9 1.6-5.3 3.2-14.1 8-43.5 4.7-23.3 8-42.8 4.8-24.3 3.2-14.1 1.5-6.3 4.8-17.8 3.2-10.8 3.2-9.5 1.6-4.2 3.2-6.9 1.5-2.7 8-12.3 4.8-6.5 3.2-3.3 1.6-1.4 3.1-1.8 1.6-.6 3.2-.9 8-1.3 3.1-.8 4.8-2.1 6.4-3.7 3.2-1.6 3.2-.9 1.5-.2 1.6-.1 3.2 .4 3.2 .9 6.4 2.1 4.7 1 4.8 0 9.6-1.5 4.7-.2 3.2 .3 8 1.4 4.7 .6 16 .6 19.1 1.8 4.7 .7 3.2 .9 3.2 1.2 7.9 3.4 4.8 1.4 4.8 .4 9.5-.7 3.2 .2 1.6 .4 3.2 1 9.5 4.4 3.2 1 1.6 .2 3.2 0 9.6-1.6 3.1 0 1.6 .3 1.6 .4 3.2 1.3 8 4.5 3.1 1.6 1.6 .6 3.2 .8 3.2 .3 9.5 .1 3.2 .3 4.8 1.1 9.5 2.5 4.8 .9 14.3 1.9 11.2 1.1 4.8 .8 4.7 1.4 3.2 1.4 8 3.9 3.1 1.2 1.6 .4 1.6 .3 3.2 .1 8-1.1 3.1-.1 1.6 .1 1.6 .2 3.2 .9 9.6 4.1 3.1 .7 1.6 .1 3.2-.3 8-2.2 3.2-.3 1.5 0 1.6 .3 3.2 1.1 8 4.3 3.2 1.4 1.6 .5 1.5 .3 3.2 .1 4.8-.7" stroke="#8FAADC"/>
<path d="M131.8 391.1l3.2-.6 4.8-.1 14.3-5.4 11.1-2.3 4.8-1.9 6.4-3.7 3.1-1.6 3.2-1 3.2-.5 4.8-.1 9.5 .2 4.8 .6 8 1.4 3.1 .3 3.2-.1 11.2-1 19.1-.5 4.7 .4 11.2 2.4 4.7 .5 4.8-.3 9.6-1.9 3.1-.5 4.8-.3 4.8 0 6.4 .5 9.5 1.7 4.8 .4 3.2-.4 7.9-2.1 4.8-.8 11.1 .3 8-.2 3.2 .1 6.3 .7 4.8-.1 3.2-.5 6.4-1.4 7.9-1.1 3.2-1 4.8-2.3 7.9-5.1 8-3.7 3.2-1.7 3.1-2.2 1.6-1.3 4.8-4.9 3.2-3.9 3.2-4.6 3.2-5.2 3.1-5.8 12.8-25.5 7.9-18.7 1.6-3.1 1.6-2.5 4.8-5.8 1.6-1.5 1.6-1 1.6-.3 1.5 .2 3.2 .9 3.2 1.6 1.6 1 3.2 2.5 4.8 4.8 1.5 2.3 1.6 3 3.2 7.6 3.2 9.1 3.2 10 6.4 21.4 4.7 19.2 14.3 64.2 17.6 82.3 3.1 13.8 1.6 5.4 3.2 8.1 1.6 3.6 1.6 2.5 1.6 .9 1.6-1.1 1.6-2.6 3.1-7.4 1.6-5.8 1.6-8.4 1.6-10.3 12.8-89.1 3.1-20 6.4-34.9 3.2-15.6 1.6-6.7 1.6-5.6 3.1-8 3.2-6.4 1.6-2.5 1.6-2.1 1.6-1.6 1.6-1.2 1.6-.9 12.7-5.5 4.8-1.6 3.2-.5 1.6-.1 7.9-.1 14.3-.6 16 .6 11.1-.1 9.5 .1 3.2-.2 8-1.2 3.2-.3 1.6 .1 3.1 .4 8 2.2 4.8 .9 15.9 .7 9.5-.6 3.2 .1 1.6 .2 3.2 .9 7.9 3.3 4.8 1.3 9.6 .8 11.1 1.7 9.5 .8 4.8 1 11.2 3.3 9.5 1.8 11.1 2.4 4.8 .7 9.6 .6 4.7 .6 4.8 1.4 11.1 4.1 4.8 1.2 4.8 .5 4.8 .4 4.7 0 8-.2 4.8 .5 1.6 .5 3.1 1.2 6.4 3.5 3.2 1.5 1.6 .6 3.2 .8 15.9 1.5 3.2 .1 7.9-.4 3.2 .3 4.8 1.3 6.3 2.5 3.2 1.1 15.9 4 3.2 .5 1.6 .1 3.2-.2 7.9-1.7 3.2-.5 4.8 0 3.2 .6 4.8 1.5 11.1 4.5" stroke="#8CC168"/>
<path d="M131.8 277.3l3.2-.3 1.6 .1 1.6 .3 1.6 1 6.3 15.1 4.8 9.5 3.2 5.1 9.5 12.3 3.2 4.9 4.8 8.8 7.9 16.5 3.2 5.5 3.2 4.2 1.6 1.6 3.2 2.2 6.3 2.8 3.2 1.8 3.2 2.5 6.4 5.7 3.2 1.9 1.5 .5 1.6 .3 3.2-.3 4.8-1 1.6-.1 1.6 .2 1.6 .5 1.6 .9 1.5 1.1 6.4 6.1 3.2 2.6 1.6 .8 1.6 .5 1.6 .2 3.2-.4 7.9-2.6 1.6-.4 3.2-.3 9.5 .4 3.2 0 11.2-1.4 4.7-.4 4.8 .3 8 1.2 3.1 .1 1.6-.2 1.6-.3 3.2-1.1 11.1-5.9 4.8-1.6 3.2-.7 4.8-.4 12.7-.1 3.2-.5 3.2-.9 3.1-1.6 9.6-6.2 3.2-1.6 6.3-2.6 3.2-1.8 3.2-2.7 8-8.5 3.1-2.6 1.6-.9 1.6-.5 3.2-.5 4.8-.1 1.6-.3 1.6-.6 1.6-.8 1.6-1.2 1.5-1.6 3.2-4 6.4-10 3.2-4.7 3.2-3.7 3.1-2.8 3.2-2.2 4.8-2.5 1.6-1.1 6.3-5.1 3.2-2.1 1.6-.7 1.6-.4 1.6 .2 1.6 .6 1.6 1.2 1.6 1.6 1.6 2 7.9 12.6 6.4 8.4 3.2 5.1 3.2 6.3 1.5 3.7 1.6 4.1 3.2 9.6 3.2 10.9 3.2 12.5 9.5 42.6 9.6 41.2 4.8 23.3 9.5 49.3 6.4 30.5 3.2 13.9 1.5 5.7 1.6 4.5 3.2 7.3 1.6 3.2 1.6 2.2 1.6 .7 1.6-.6 1.6-1.4 1.6-2 3.1-5 3.2-5.8 1.6-3.6 1.6-4.8 1.6-6 1.6-6.9 3.2-15.8 6.3-35.3 12.8-68.1 4.7-24.8 3.2-15.4 3.2-14.1 8-32.8 3.1-11.6 3.2-9.9 3.2-7.9 1.6-3 3.2-4.7 3.2-3.9 1.6-1.7 3.1-2.9 3.2-2.4 6.4-4.2 3.2-2.5 3.2-3.3 6.3-7.5 3.2-2.9 1.6-1 1.6-.7 1.6-.3 1.6 0 6.3 1 3.2 .2 3.2-.5 6.4-1.5 3.1-.1 3.2 .7 6.4 2.9 3.2 1.2 1.6 .3 1.6 .1 1.6-.3 3.1-1.2 6.4-4 3.2-1.6 1.6-.5 1.6-.2 1.6 .1 1.5 .3 3.2 1.4 6.4 4 3.2 1.6 3.2 .7 3.1-.1 4.8-.6 1.6 0 3.2 .5 3.2 1.5 6.3 4 1.6 .7 1.6 .5 1.6 .1 1.6-.1 1.6-.5 6.4-3.1 1.5-.7 1.6-.3 1.6-.1 1.6 .4 1.6 .6 1.6 .9 8 6.3 3.1 1.8 1.6 .5 3.2 .4 8-.6 4.7 .3 4.8 .7 9.6 2 6.3 1.7 8 2.4 6.4 2.4 7.9 3.5 4.8 1.5 3.2 .5 3.1 0 9.6-1.6 4.8-.4 3.2 0 3.1 .5 3.2 1 3.2 1.5 9.5 6 3.2 1.5 3.2 1 6.4 .9 3.2 .7 9.5 3.7 1.6 .3 1.6 .1 1.6-.2 3.2-1.2 6.3-3.5 1.6-.6 1.6-.2 1.6 .1 1.6 .5 1.6 .9 1.6 1.3 6.3 6.2 1.6 1.3 1.6 1.1 1.6 .7 1.6 .5 1.6 .1 1.6-.1 7.9-1.7 3.2 .1 3.2 .8 8 3.2 3.1 .6 1.6 0 3.2-.5 6.4-1.9 1.6-.4 3.2 0 1.6 .4 3.1 1.5 6.4 4.5" stroke="#636363"/>
<path d="M131.8 272.8l8-.2 1.5 2.5 1.6 5.2 1.6 7.2 4.8 24.7 1.6 6.4 6.4 22.2 4.7 15.2 3.2 8.3 3.2 6.9 1.6 2.9 3.2 4.8 1.6 1.9 3.1 2.8 3.2 1.9 12.8 4.5 4.7 1.1 14.4 3 4.7 .8 4.8 .2 15.9-.5 12.7-1.1 3.2-.1 11.2 .6 11.1-.3 9.6 .2 4.7-.3 11.2-1.6 9.5-.7 11.2-1.3 14.3-.6 11.1-1.6 9.6-1.1 6.3-1.4 11.2-3.2 3.1-1.4 3.2-2 3.2-2.8 4.8-5.2 6.3-8.4 6.4-9.4 6.4-10.4 14.3-26.3 14.3-24.7 6.4-10.3 9.5-14 1.6-2.1 1.6-1.6 1.6-.8 1.6-.2 1.6 .5 1.6 1.2 1.6 2 1.6 2.6 1.6 3.4 1.5 4.2 3.2 10.1 3.2 11.7 3.2 12.9 4.8 21.4 3.1 15.6 4.8 25 12.8 71.2 4.7 28.1 3.2 19.9 4.8 31.9 6.3 44.9 1.6 12.4 3.2 30.5 1.6 9.8 1.6 7.5 1.6 5.8 1.6 4.5 3.2 7 3.2 5.2 1.5 2 1.6 1.4 1.6 .7 1.6-.6 1.6-2.9 1.6-5.3 3.2-15.4 3.2-18.9 3.1-27.4 8-75.2 6.4-53.8 6.3-49.1 1.6-10.8 3.2-18.5 1.6-7.9 3.2-13 1.6-5.3 3.2-8.8 3.1-7.8 3.2-6.7 3.2-5.3 1.6-2 1.6-1.5 1.6-.9 1.6-.6 17.5-6.5 4.7-1.2 3.2-.4 9.6 0 9.5-.3 12.8 .8 11.1-.1 11.1 .4 11.2-.8 4.7-.2 17.5 1.1 4.8 .9 9.6 2.6 11.1 2.3 12.7 3.2 11.2 1.8 12.7 3 12.7 2.3 11.2 2.9 11.1 2.3 9.6 2.9 4.7 1.3 9.6 1.9 11.1 2.9 9.6 1.5 4.7 1 9.6 2.8 11.1 2.6 9.6 2.8 4.7 1.2 11.2 1.8 12.7 2.7 9.6 1.2 12.7 2.4 12.7 1.3 11.2 2.1 11.1 1.4 9.5 1.7 4.8 .5 9.6 .2 12.7 1" stroke="#F4B183"/>
<path d="M131.8 102.5l6.4 0 1.6 .2 1.5 7.3 1.6 14.1 6.4 64.2 6.4 57.3 1.6 11.2 1.6 6.8 4.7 17 9.6 31 11.1 38.7 4.8 15.3 1.6 4.2 1.6 3.5 1.6 2.6 1.6 2.1 1.5 1.5 1.6 1.1 3.2 1.3 9.6 1.5 3.1 .2 6.4-.2 3.2 .3 3.2 .6 7.9 2.3 3.2 .5 3.2-.1 8-.6 11.1 .3 3.2-.4 7.9-1.5 3.2-.3 9.6 .5 3.1-.2 3.2-.7 6.4-2 3.2-.8 3.2-.4 7.9-.7 3.2-.5 14.3-3.2 4.8-1.3 3.2-1.2 3.2-1.6 11.1-6.1 12.7-5.6 4.8-2.7 3.2-2.4 4.8-4.6 3.1-4 3.2-4.7 3.2-5.7 3.2-6.4 4.8-10.7 9.5-22 4.8-11.7 6.3-18.1 1.6-4.2 1.6-3.4 1.6-4.9 1.6-5.9 3.2-13.4 1.6-8.4 3.2-18.8 1.6-7.1 1.5-4.8 1.6-3.3 1.6-2.2 1.6-1.8 1.6-1.2 1.6-.2 1.6 .8 1.6 1.4 1.6 1.9 1.6 2.7 3.1 6.3 3.2 6.6 8 17.9 4.8 11.6 15.9 41.4 9.5 21.1 3.2 8.6 8 25.1 11.1 34.1 3.2 10.5 1.6 6 3.2 13.8 1.5 7.8 1.6 16.8 3.2 53 1.6 23.3 1.6 14.9 1.6 12.8 1.6 11.2 1.6 9.4 1.6 7.1 1.6 4.6 1.6 1.7 1.5-1.4 1.6-2.6 1.6-3.5 1.6-4.6 1.6-5.8 1.6-7.1 1.6-8.5 3.2-19.9 7.9-54.2 4.8-29.8 4.8-25.8 3.2-16.1 3.1-14.6 3.2-12.5 3.2-10 3.2-8.4 3.2-7 1.6-2.9 3.1-4.9 3.2-3.7 3.2-2.6 8-4.9 6.3-3.2 4.8-1.6 3.2-.7 3.2-.3 7.9-.1 4.8-.3 12.7-1.9 4.8 0 8 .6 3.1 .1 11.2-1 11.1 .3 9.6-.8 3.2 .1 3.1 .5 6.4 2 3.2 .7 3.2 .3 7.9-.2 3.2 .2 3.2 .6 7.9 2 11.2 1.3 3.2 .8 7.9 2.8 3.2 .8 3.2 .4 7.9 .2 3.2 .5 12.8 3.7 11.1 1.9 11.1 2.7 12.8 1.9 4.7 1.3 9.6 2.9 4.8 1.2 6.3 1.3 11.2 1.7 4.7 .9 14.4 4 9.5 2.1 9.5 2.3 4.8 .7 8 .5 3.2 .6 9.5 2.9 3.2 .8 3.2 .3 6.3 .1 3.2 .2 12.7 2.6 8 .5 3.2 .3 3.2 .7 6.3 1.9 3.2 .6 3.2 .2 8-.8 3.1 0 3.2 .5 6.4 1.4 3.2 .4 9.5 .3 3.2 .3" stroke="#8CC168"/>
<path d="M131.8 326.9l4.8-.2 3.2 .3 1.5 2 1.6 4.3 6.4 24.4 1.6 4.3 4.8 9.7 4.7 8.5 3.2 4.2 3.2 3.4 3.2 3 3.2 2.4 1.6 1 3.1 1.6 3.2 1 12.8 2.9 11.1 1 11.1 1.9 11.2 1.1 12.7 2.8 9.6 .9 11.1 1.9 12.7 .8 9.6 1.8 11.1 1.4 4.8 1.2 14.3 5 4.8 2.2 3.2 1.8 15.9 11.2 4.7 4.4 9.6 10.3 4.8 4.4 7.9 6.1 11.2 9.2 17.5 12.5 4.7 2.6 1.6 .1 1.6-.7 4.8-3.3 1.6-.5 1.6 .4 12.7 7.2 8 3.9 1.6 .3 1.5-.4 1.6-1 1.6-1.5 3.2-3.8 3.2-4.9 1.6-2.9 3.2-7.2 3.1-8.7 8-26.4 20.7-54.8 1.6-5.2 1.6-7.1 4.7-24.8 1.6-6.4 1.6-5.4 1.6-4.6 1.6-3.7 1.6-2.7 1.6-1.7 1.6-.5 1.6 1 1.6 2.2 1.6 3.2 3.1 9 3.2 11.2 1.6 6.3 3.2 14.6 1.6 8.5 3.2 19.8 1.6 11.6 3.1 27.6 4.8 44.6 4.8 38.4 1.6 10.5 1.6 8.3 1.6 5.3 1.6 .3 1.6-4.8 1.5-8.5 1.6-10.7 3.2-25.5 4.8-44.8 3.2-26.5 4.7-30.1 3.2-16.3 1.6-6.6 1.6-5.1 3.2-7.7 1.6-3.3 3.2-5.6 1.6-2 1.6-1.6 1.5-1 6.4-2.2 3.2-.9 3.2-.7 4.7-.5 14.4-.1 12.7 .4 11.1-.7 11.2-.1 9.5-.3 14.3 .8 11.2-.2 9.5 .2 14.4-.2 22.2 1.3 20.7 2.6 14.3 3 9.6 1.5 11.1 2.1 11.2 1.6 12.7 2.5 11.1 1.4 9.6 1.6 11.1 1.4 33.4 7.2 14.4 2.1 12.7 2.4 9.5 1.1 11.2 1.7 11.1 1.2 12.7 2.2 20.7 2.9 12.8 .7 11.1 1.1 11.1 .7 11.2 1 12.7 .3" stroke="#B7B7B7"/>
<path d="M131.8 331.6l6.4-1.6 1.6 .1 3.1 3.8 3.2 4.7 9.6 16.3 3.2 5 3.1 4.2 1.6 1.8 1.6 1.5 3.2 2.3 8 4 3.1 1.8 3.2 2.3 9.6 8.1 3.2 2.1 3.1 1.4 3.2 .7 3.2 .2 11.1-1.1 4.8 0 3.2 .2 6.4 1.2 9.5 2.7 4.8 .6 1.6 0 3.2-.5 9.5-3 3.2-.4 1.6 0 1.6 .2 3.1 .8 8 3.3 3.2 .8 1.6 .1 1.6 0 3.2-.7 9.5-3.6 3.2-.8 1.6-.2 4.7 .1 12.8 2.1 4.8 .3 3.1-.2 3.2-.5 3.2-.8 3.2-1.2 7.9-3.5 3.2-1 1.6-.3 3.2-.2 9.5 .7 3.2-.4 1.6-.5 1.6-.7 3.2-2 7.9-6.6 4.8-3.3 1.6-.8 3.2-1.2 6.4-1.7 3.1-1 3.2-1.5 1.6-1 3.2-2.5 3.2-3.1 4.8-5.3 12.7-14.9 3.2-3.4 6.3-6 3.2-3.3 4.8-5.6 9.5-12.4 8-9.8 1.6-1.6 1.6-1.2 1.6-.8 1.6-.3 1.5 .2 1.6 .7 1.6 1.2 3.2 3.5 8 10.7 1.6 2.6 3.1 6.4 3.2 7.4 6.4 16.2 1.6 4.6 4.8 16 7.9 31.6 17.5 77.9 3.2 12.7 1.6 4.6 3.2 6.7 1.6 1.9 1.6 .1 1.5-1.4 1.6-2.3 3.2-6.2 1.6-3.3 1.6-4.4 1.6-5.6 3.2-13.9 4.7-22.3 6.4-27.4 9.6-44.6 7.9-32.4 3.2-10.4 1.6-4 1.6-3.2 1.6-2.2 1.6-1.4 7.9-5.6 9.6-7.7 3.1-2.4 4.8-2.6 14.3-5.6 1.6-.3 1.6-.1 1.6 .2 1.6 .4 3.2 1.6 6.4 4.2 1.5 .7 1.6 .3 1.6 .1 1.6-.4 1.6-.7 8-5.4 1.6-.7 1.6-.5 1.5-.2 1.6 .2 1.6 .4 8 3 3.2 .4 3.1-.2 4.8-.8 3.2-.3 9.6 .6 3.1-.1 6.4-.7 3.2 .2 1.6 .3 3.2 1.3 4.7 2.6 3.2 1.6 1.6 .4 1.6 .2 1.6 0 1.6-.4 1.6-.5 6.3-2.8 1.6-.5 1.6-.3 1.6 0 1.6 .2 3.2 1.1 7.9 4.1 3.2 1.3 4.8 1.5 6.4 1.6 3.1 .5 3.2 .1 9.6-.9 3.2 .2 1.5 .5 3.2 1.5 8 5.1 3.2 1.3 1.6 .4 3.1 0 6.4-1 3.2-.2 1.6 .2 3.2 .6 14.3 4.6 3.2 1.3 7.9 3.9 3.2 .9 1.6 .1 3.2-.5 7.9-3.1 1.6-.3 1.6 0 1.6 .3 1.6 .7 1.6 1 7.9 6.6 3.2 1.8 1.6 .6 3.2 .3 4.8-.5 3.2 0 3.1 .4 6.4 1.8 3.2 .6 3.2 .1 4.7-.1 3.2 .4 3.2 1.1 8 4.2 3.1 .9 1.6 .1 1.6-.2 6.4-1.9 1.6-.3 1.6 0 1.6 .2 1.6 .6 1.5 .9 1.6 1.2 6.4 5.6 1.6 1 1.6 .9 1.6 .4 1.6 .2 1.6-.1 1.6-.4 6.3-2.2 3.2-.6 3.2-.1 12.7 1.2 3.2 .5 1.6 .5 3.2 1.4 7.9 4.7 1.6 .6 1.6 .4 1.6 .1" stroke="#ED7D31"/>
<path d="M131.8 301.1l8 .4 1.5 2.4 1.6 4.9 1.6 6.8 4.8 22.9 1.6 5.9 4.8 14.7 3.2 9.2 3.1 7.6 1.6 2.9 1.6 2.4 3.2 4.1 3.2 3.2 3.2 2.4 3.1 1.7 3.2 1.2 4.8 1.3 9.6 2.9 4.7 1.2 12.8 2.5 7.9 1.1 14.3 .5 12.8 .7 15.9-.8 17.5 .4 17.5-.1 4.8-.4 11.1-1.5 12.7-.6 4.8-.5 33.4-5.7 11.2-1.5 4.7-.9 4.8-1.3 11.1-3.5 11.2-2.7 4.8-1.4 6.3-2.5 4.8-2.4 4.8-3.1 4.7-3.7 12.8-12 6.3-5.3 3.2-2.2 11.2-7.1 11.1-7.6 4.8-2.9 3.1-1.2 3.2-.6 3.2-.1 3.2 .1 4.8 .6 1.6 .5 1.6 1.1 1.5 1.6 1.6 2 3.2 5.2 6.4 12.3 4.8 8.4 1.5 4.1 1.6 6 1.6 8.6 1.6 12.2 1.6 16.4 19.1 254.7 1.6 18.5 1.6 13 1.6 9 1.6 6.2 6.3 20.3 3.2 8.8 1.6 3.3 1.6 2.4 1.6 1.1 1.6-.2 1.6-1.4 1.6-2.3 1.6-3 1.6-3.9 1.5-4.9 3.2-12.8 1.6-7.8 3.2-18.9 6.4-49.5 6.3-53.6 1.6-14.9 6.4-68.1 1.6-15.1 3.2-25.7 1.5-11.1 3.2-19.2 3.2-16.4 3.2-14.8 1.6-6.1 1.6-4.7 1.6-3 3.2-3.5 3.1-2.9 3.2-2.3 12.7-7.5 3.2-1.5 4.8-1.7 6.4-1.9 3.2-.6 3.1-.3 15.9-.2 12.8-.7 14.3-1.4 4.8-.2 15.9 .8 12.7-.6 6.4 .1 15.9 .7 14.3 1 4.8 0 9.5-.5 4.8 .2 14.3 1.5 20.7 1.5 14.3 .6 14.4 1.5 12.7 .2 4.8 .3 31.8 4.1 4.8 .3 9.5 .1 4.8 .3 17.5 2.8 19.1 1.4 14.3 .7 14.3 1.7 4.8 .2 11.1-.3 6.4 .2" stroke="#FFD966"/>
<path d="M131.8 336.1l8-.1 1.5 1.3 1.6 3.1 1.6 4.1 4.8 13.6 1.6 3.2 4.8 7.3 4.7 6.5 3.2 3.1 4.8 3.4 4.8 2.4 3.2 1.1 4.7 1.1 6.4 .6 9.5 .6 11.2 1 22.3 0 15.9-.7 7.9-.9 1.6 .1 6.4 1.2 1.6 .1 1.6-.6 1.6-1.9 1.5-3.6 1.6-5.9 1.6-8.5 8-54.8 3.2-20.5 1.6-4.3 1.6 .4 1.5 .8 1.6 4.6 1.6 10.7 1.6 14.1 3.2 36.5 1.6 13.8 1.6 9.3 1.6 4.8 1.6 1.8 1.6 1.5 1.5 .9 1.6 .1 8-1.4 9.5-.7 3.2-.4 4.8-1.1 11.1-3.3 11.2-4.1 11.1-3.8 4.8-2 6.4-3.1 4.7-3 3.2-2.4 4.8-4.3 4.8-4.8 6.3-6.9 4.8-5.7 4.8-6.7 17.5-27.4 4.7-6.6 3.2-3.8 3.2-3.3 4.8-4.4 4.8-4.2 4.7-3.7 1.6-.8 1.6-.3 1.6 .2 1.6 .7 1.6 1.2 1.6 1.8 1.6 2.4 1.6 3 1.6 3.7 1.5 4.3 3.2 9.8 4.8 16.3 4.8 17.8 4.7 19 25.5 104.9 4.8 20.3 17.5 76.9 1.6 5.6 1.6 3.8 1.6 2.1 1.6 .5 1.5-1 1.6-2.5 1.6-3.9 1.6-5.1 1.6-6.3 1.6-7.4 4.8-27.2 11.1-70.9 6.4-37 6.3-33.8 3.2-14.6 3.2-12.3 1.6-5.2 3.2-8.5 3.2-6.3 3.1-4.5 1.6-1.7 3.2-2.5 11.2-6 4.7-2.2 6.4-2.3 3.2-.7 1.6-.2 4.7-.1 8 .4 4.8-.1 11.1-.7 8-1 4.7-.4 3.2 0 23.9 1.1 12.7 .1 17.5 1.4 4.8 .7 12.7 2.6 14.4 3.6 27 4.2 11.1 3.3 6.4 1.4 9.6 1.7 9.5 .9 4.8 .7 4.8 1.3 19 5.9 4.8 1.2 11.2 1.8 15.9 3.2 11.1 2.7 9.6 1.9 11.1 2.5 28.6 4.3 12.8 3.1 6.3 .9 6.4 .7 4.8 .2 7.9-.1 3.2 .2 25.5 3.9 4.7 .2 8 0" stroke="#70AD47"/>
<path d="M131.8 137.2l6.4-.2 1.6 1.5 6.3 30.6 6.4 29 6.4 26.8 4.7 18.2 8 27.8 9.5 31.3 6.4 18.8 4.8 12.1 4.7 10.3 8 15.1 6.4 10.9 3.1 4.8 3.2 4.2 4.8 5.1 4.8 3.9 11.1 7.8 3.2 1.9 3.2 1.5 4.8 1.6 11.1 2 12.7 4 4.8 .6 3.2-.1 9.5-.8 3.2 .1 9.6 .7 12.7-.5 4.8 .4 7.9 1.2 3.2 .2 4.8-.3 7.9-1.4 3.2-.2 3.2 .1 7.9 .8 3.2 .2 3.2-.1 8-.9 3.2-.2 3.1 .1 8 .7 3.2 .1 3.2-.1 7.9-.8 6.4-.2 1.6-.7 1.6-1.1 3.1-3.3 4.8-6.4 1.6-2.4 1.6-2.8 3.2-6.6 3.2-7.7 3.1-8.6 1.6-5.1 3.2-11.6 4.8-19.6 1.6-6.9 1.6-8.2 3.2-18.3 1.5-7.6 3.2-10.7 1.6-3.2 1.6-.5 1.6 .3 1.6 .5 1.6 .8 1.6 1.1 3.2 2.9 3.1 3.7 4.8 6.3 1.6 2.6 3.2 7 3.2 8.7 3.2 10 7.9 28.1 3.2 13.4 3.2 14.7 14.3 69.6 14.3 73.3 4.8 26.2 3.2 15.2 1.6 5.8 3.2 9.2 1.5 3.8 1.6 2.5 1.6 .5 1.6-.6 1.6-1.2 1.6-1.8 3.2-4.5 3.2-5.1 1.6-3.4 1.5-4.4 1.6-5.4 3.2-13.3 9.6-46.3 7.9-35 9.6-40.8 4.7-19.2 6.4-23.6 3.2-11.1 3.2-9.8 3.2-8.1 1.5-3.4 3.2-5.3 12.8-15.8 3.1-3.7 3.2-2.9 3.2-1.9 1.6-.7 8-2 3.1-1.1 3.2-1.4 8-4.2 3.2-1.1 1.6-.4 1.5-.2 3.2 0 9.6 .8 3.2 .1 25.4-1.6 3.2 0 3.2 .3 4.8 .9 7.9 2.2 3.2 .5 3.2 .2 7.9-.2 4.8 .6 3.2 .9 7.9 2.9 3.2 .8 4.8 .3 8-.7 3.1 .2 1.6 .3 3.2 .9 8 3.6 4.7 1.6 4.8 .8 8 .2 3.2 .5 4.7 1.3 8 3 4.8 1.2 3.1 .3 8 .2 4.8 .7 4.7 1.4 11.2 3.9 4.8 1.3 4.7 1 6.4 .8 11.1 .4 3.2 .3 4.8 1.4 9.5 4.4 3.2 1.1 1.6 .4 3.2 .3 8 0 3.1 .5 3.2 .8 8 3.1 3.2 .8 3.1 .3 8-.2 3.2 .3 3.2 .9 9.5 4.1 3.2 .7 3.2 .2 7.9-.6 3.2 .1 3.2 .5 9.5 3 3.2 .7 4.8 .5 9.5 .1 8 .7" stroke="#8CB9E2"/>
<path d="M131.8 231.6l3.2 1.5 1.6 .5 1.6 .3 1.6 .8 6.3 21.8 9.6 37 3.2 11.3 14.3 45.9 3.2 8.7 1.5 3.7 1.6 3.1 3.2 5.1 9.6 13.7 3.2 4 1.5 1.5 3.2 2.3 9.6 4.8 3.2 1.1 1.5 .2 1.6 0 6.4-1.6 1.6-.2 1.6 .1 3.2 1 4.7 2.2 1.6 .6 3.2 .6 4.8 .5 6.4 1.8 3.1 .4 1.6-.1 6.4-1.4 1.6-.2 3.2 .5 4.7 1.3 1.6 .2 1.6-.1 1.6-.5 1.6-.7 4.8-2.6 1.6-.6 1.6-.4 1.6-.1 6.3 .2 6.4-.8 1.6 .1 1.6 .2 1.6 .5 4.7 2.1 1.6 .5 1.6 .2 1.6-.3 1.6-.5 4.8-2.8 3.2-1.4 1.5-.3 6.4-.5 3.2-1.1 7.9-4.9 8-3.1 3.2-2 4.8-3.4 1.5-.8 1.6-.6 1.6-.3 6.4 .4 1.6-.1 1.6-.4 1.6-.6 6.3-3.9 8-4.5 3.2-2.6 7.9-7.9 6.4-4.8 1.6-1.4 3.2-3.7 6.3-9.2 3.2-3.8 1.6-1.5 8-6.4 3.1-3.2 11.2-12.1 3.2-4.2 1.6-2.5 6.3-11 1.6-2.2 1.6-1.8 3.2-2.3 6.4-3.9 6.3-4.9 1.6-.8 1.6-.1 1.6 .6 1.6 1.5 1.6 2 1.6 2.6 4.7 8.5 1.6 3.1 1.6 4.2 1.6 5.4 1.6 6.5 3.2 16 6.4 37.2 11.1 73.7 3.2 22.7 14.3 109.2 1.6 11.1 1.6 8.7 3.2 13.7 1.6 4 1.5 .4 1.6-1 1.6-1.9 1.6-2.8 1.6-3.3 3.2-7.3 1.6-4.6 1.6-5.7 4.7-20.9 27.1-131.7 3.2-13.4 3.2-11.2 3.1-9 8-20.3 3.2-6.8 1.6-2.9 1.6-2.3 1.6-1.6 1.5-1.1 4.8-2.3 1.6-1.3 1.6-1.6 4.8-6 1.6-1.6 1.6-1 1.6-.4 1.5 .4 4.8 2.4 1.6 .2 1.6-.4 1.6-1.1 1.6-1.6 3.2-3.9 1.6-1.6 1.5-1 1.6-.3 1.6 .3 4.8 2.4 1.6 .4 1.6 .1 1.6-.4 4.8-2 1.5-.3 1.6 .2 1.6 .5 3.2 1.5 1.6 .6 1.6 .1 1.6-.2 1.6-.7 3.2-1.9 1.5-.7 1.6-.2 1.6 .2 1.6 .8 4.8 3 1.6 .5 1.6 .1 1.6-.5 4.7-2.6 1.6-.4 1.6 0 1.6 .5 4.8 2.2 1.6 .2 1.6-.3 1.6-.9 4.7-3.4 1.6-.5 1.6 .2 1.6 1 1.6 1.6 3.2 3.8 1.6 1.5 1.6 .9 1.6 .2 1.5-.5 4.8-3.2 1.6-.6 1.6 0 1.6 .7 4.8 3.4 1.6 .8 1.6 .3 1.5-.3 4.8-2.5 1.6-.6 1.6-.1 1.6 .4 4.8 2.6 1.6 .5 1.5 .1 1.6-.5 4.8-2.6 1.6-.5 1.6 .2 1.6 .8 1.6 1.3 4.8 4.8 1.5 .9 1.6 .4 1.6 0 4.8-1.1 1.6 .1 1.6 .6 4.8 3.4 1.5 .8 1.6 .2 1.6-.4 1.6-1.1 4.8-4.3 1.6-.7 1.6 .1 1.6 .8 1.6 1.3 3.1 3.3 1.6 1.2 1.6 .5 1.6-.1 1.6-.7 3.2-2.3 1.6-.9 1.6-.4 1.6 .3 1.6 .9 4.7 4.3 1.6 1.1 1.6 .7 1.6 .1 4.8-.7 1.6 0 1.6 .5 1.5 .8 4.8 3 1.6 .5 1.6 0 1.6-.4 4.8-2.8 1.6-.5 1.6-.1 1.5 .3 4.8 2.4 1.6 .5 1.6 .1 1.6-.2 4.8-1.5 1.6-.1 1.5 .4 1.6 .9 4.8 3.5 1.6 .6 1.6 .1 1.6-.4 4.8-2.8 1.6-.4 1.5 .3 1.6 1 1.6 1.7 4.8 5.8 1.6 1.2 1.6 .5 1.6-.3 1.6-.9 3.1-2.3 1.6-.8 1.6-.3 1.6 .2 1.6 .7 3.2 1.9 1.6 .7 1.6 .2 1.6-.3 1.6-.7 3.1-1.9 1.6-.8 1.6-.3 1.6 .2 1.6 .7 4.8 3 1.6 .6 1.6 .1 1.6-.3 4.7-1.5 1.6-.1 1.6 .4 1.6 .9 4.8 3.6 1.6 1 1.6 .6 1.5 .2 4.8-.5 1.6 .1 1.6 .4 4.8 2 1.6 .3 1.6-.1 1.6-.6 1.5-1.1 4.8-4.4 1.6-.9 1.6-.3" stroke="#997300"/>
<path d="M131.8 314.9l8 0 1.5 2.2 1.6 4.9 1.6 6.7 4.8 22.1 1.6 5.3 4.8 12.4 3.2 7.6 3.1 6.2 1.6 2.3 3.2 3.9 3.2 3.4 3.2 2.8 4.7 3.1 3.2 1.4 15.9 4.7 4.8 1 19.1 3.2 4.8 .5 3.2 .2 14.3-.1 14.3 1.4 12.7 .3 4.8 .4 12.7 1.8 11.2 .8 4.8 .6 14.3 3.1 12.7 1.9 6.4 1.4 20.7 7.2 6.3 2.8 4.8 2.6 11.1 6.8 14.4 7.6 15.9 10 12.7 6.9 11.1 6.5 4.8 2.2 3.2 1.2 4.8 1.2 4.7 .9 3.2-.1 3.2-.5 3.2-.8 3.2-1.2 4.7-2.1 3.2-1.8 3.2-2.3 1.6-1.4 3.2-3.3 3.2-4.1 4.7-7.5 12.8-21.1 4.7-9.1 1.6-4.3 3.2-25.9 1.6-8.5 3.2-13.2 3.2-11.1 3.2-8.8 3.1-7.3 1.6-2.8 1.6-2 1.6-1.1 1.6-.2 1.6 .5 1.6 1.2 1.6 2 1.6 2.8 1.6 3.8 4.7 14.5 4.8 15.5 6.4 21.7 7.9 28.8 3.2 9.9 1.6 2.8 1.6 1.5 1.6 .6 1.6 .1 1.6 .1 1.6-.3 1.6-.7 1.5-1.3 1.6-2 1.6-2.9 3.2-7.3 3.2-8.9 4.8-15.5 1.6-6.3 6.3-28.5 1.6-6.2 1.6-5.1 1.6-4.3 3.2-7.1 1.6-2.7 1.6-2.3 1.5-1.8 1.6-1.3 1.6-.9 12.8-3.6 4.7-1 4.8-.3 9.6 .5 4.7 0 14.4-.7 11.1 .6 4.8 0 11.1-.7 4.8-.1 27 2 4.8 .7 12.7 2.4 14.4 1.6 15.9 3.5 14.3 1.8 15.9 3.5 14.3 2 15.9 3.6 15.9 1.9 14.4 3.4 15.9 2.7 12.7 3.1 4.8 .8 12.7 1.4 14.3 2.8 4.8 .6 11.1 .8 16 2.6 12.7 1 15.9 2.5 4.8 .3 11.1 .2 14.3 1.4 6.4 .2" stroke="#636363"/>
<path d="M131.8 407.4l8 .1 1.5 .5 1.6 .8 1.6 1.3 6.4 6.2 3.2 2.6 1.6 .9 4.7 1.5 9.6 3.6 3.2 .7 11.1 .9 14.3 2.3 8 1.8 3.2 .6 3.2 .1 6.3-.5 3.2 0 9.5 .9 11.2 0 15.9 1.1 3.2 .5 6.3 1.3 3.2 .4 3.2-.2 6.4-.9 3.2-.3 15.9 .2 11.1 1.1 9.6 .1 3.1 .3 6.4 1.3 3.2 .2 3.2-.1 9.5-.8 12.7-.3 3.2 .4 9.6 1.9 3.2 .2 7.9 .1 11.2 1.8 15.9 1.2 1.6 0 1.6-.4 3.1-2 1.6-.1 3.2 .9 1.6 .9 3.2 2.3 9.5 8.9 8 6.3 3.2 2.8 3.1 3.2 3.2 3.7 6.4 8.2 3.2 4.6 3.2 5.1 15.9 27.1 11.1 20.7 4.8 8.4 11.1 18.1 4.8 6.8 3.2 3.4 1.6 1.3 1.6 1 4.7 2.2 4.8 2.6 1.6 .7 1.6 0 1.6-1.4 1.6-2.8 1.6-4.1 1.6-5.2 3.1-13.6 3.2-17 8-49.5 6.3-34 3.2-15.7 3.2-14 1.6-6.3 3.2-10.7 3.2-9.2 3.2-7.6 3.1-6 1.6-2.3 3.2-3.4 3.2-2.6 4.8-3 4.7-2.2 3.2-1 1.6-.2 11.1-.3 9.6-.9 11.1 .2 11.2-1.5 3.2 0 9.5 .8 12.7-.4 4.8-.7 8-1.8 3.1-.4 9.6 .4 11.1-.6 9.6 .4 7.9 0 8 .4 3.2-.1 7.9-1.2 3.2-.1 3.2 .3 8 1.6 14.3 1.6 3.2 .3 9.5 .1 11.1 1.9 9.6 .3 3.2 .3 22.3 5.3 3.1 .7 3.2 .2 8-.2 4.7 .6 8 1.9 9.5 1.5 9.6 2.3 8 1.6 7.9 2.1 3.2 .5 3.2 .1 7.9-.7 3.2 .1 14.3 2.1 11.2 2 11.1 .2 8 1.2 3.1 .3 3.2-.1 8-.7 4.8 .2 11.1 1 9.5 2 3.2 .4 3.2-.1 8-.6 9.5 .6 3.2 0" stroke="#255E91"/>
<path d="M131.8 355.5l6.4-.1 1.6 .2 1.5 1.7 3.2 3.9 12.8 17.1 4.7 5.6 3.2 3.3 4.8 4.2 4.8 3.2 4.7 2.4 3.2 1.2 3.2 .9 8 1.5 27 3.4 6.4 .7 6.3 .4 8-.2 19.1-1.8 7.9-.4 8 .3 19.1 1.6 9.5 .1 9.6-.7 6.4-.8 3.1-.6 6.4-1.8 6.4-2.3 19.1-7.7 7.9-3.7 6.4-3.4 7.9-5 6.4-4.5 6.4-5 4.7-4.4 6.4-6.9 6.4-8 7.9-11.1 9.6-14.4 3.2-5.6 9.5-18.2 3.2-5.2 1.6-2.2 1.6-1.9 4.7-4.9 3.2-2.9 1.6-1.1 1.6-.9 1.6-.5 1.6-.1 3.2 .7 3.2 1.3 4.7 3.1 6.4 5 1.6 1.4 1.6 1.8 3.2 4.5 3.1 5.7 9.6 20 3.2 7.4 4.8 12.6 11.1 32.8 4.8 15.2 12.7 42.1 4.8 16.5 3.2 9.8 1.5 3.7 3.2 6.1 1.6 2.6 1.6 1.8 1.6 .5 1.6-.8 1.6-1.7 1.6-2.5 1.6-2.8 1.6-3.3 1.5-5.1 3.2-13.8 4.8-23.3 9.6-44 4.7-19.1 6.4-22.6 3.2-10 1.6-4.2 1.6-3.6 1.5-2.7 3.2-4.8 3.2-4 3.2-3.2 3.2-2.1 3.2-1.3 3.1-1 4.8-1 4.8-.3 4.8 .1 9.5 .8 4.8-.1 6.3-.8 11.2-2.4 4.8-.8 4.7-.4 4.8-.2 9.6 .6 44.5 4.7 8 .2 14.3-.3 7.9 .5 4.8 .8 4.8 1.2 4.8 1.5 14.3 5.3 7.9 2.1 4.8 .8 4.8 .5 15.9 .9 8 .8 7.9 1.1 6.4 1.3 9.5 2.6 17.5 6.3 4.8 1.4 3.2 .8 3.2 .5 4.7 .3 4.8 0 12.7-.7 4.8 .3 3.2 .5 3.2 .8 4.8 1.6 11.1 4.8 4.8 1.9 4.7 1.5 3.2 .6 6.4 .6 12.7 .1 4.8 .2 6.4 .9 14.3 3.2 6.3 1.1 6.4 .4 14.3 .4 6.4 .6" stroke="#FFC000"/>
<path d="M131.8 407l4.8 1.2 3.2 .3 6.3 4.1 3.2 2.6 1.6 1.8 6.4 8.4 3.1 3.5 1.6 1.2 1.6 1 6.4 2.4 1.6 .8 1.6 1 4.7 3.7 3.2 1.9 1.6 .6 1.6 .3 6.4-.2 1.6 .1 3.2 .9 4.7 2.2 1.6 .6 1.6 .3 1.6 0 1.6-.3 4.8-1.6 3.1-.7 3.2 .4 4.8 1.4 3.2 .4 3.2-.5 4.7-1.2 1.6-.1 1.6 .1 1.6 .4 6.4 2.5 1.6 .3 1.6 0 1.6-.3 4.7-1.7 3.2-.8 3.2 .1 4.8 1 3.1 .2 3.2-.7 4.8-1.6 1.6-.2 1.6 0 1.6 .3 6.3 2.4 1.6 .3 1.6 0 1.6-.2 4.8-1.5 3.2-.7 3.2 .3 4.7 1.4 3.2 .5 3.2-.5 4.8-1.3 1.6-.2 1.6 0 3.1 .9 4.8 2.1 1.6 .4 1.6 .1 3.2-.6 4.7-1.5 1.6-.3 3.2 .2 4.8 1.3 3.2 .4 3.2-.5 4.7-1.6 1.6-.2 1.6-.1 3.2 .8 4.8 1.9 1.6 .4 1.6 .1 3.1-.5 4.8-1.5 1.6-.3 3.2 .1 6.3 1.6 1.6 .2 3.2-.5 14.3-4.7 3.2-1.9 1.6-1.3 3.2-3.5 1.6-2.1 6.4-9.4 4.7-6.5 3.2-4.9 1.6-3 3.2-7.7 7.9-24.5 4.8-13.9 1.6-5.3 4.8-18.2 1.6-5.6 1.6-4.5 3.1-8.3 1.6-3.1 1.6-1.4 1.6 .1 1.6 .6 1.6 1.1 6.4 6.6 3.1 2.9 1.6 1.7 1.6 2.2 1.6 2.8 3.2 7.3 3.2 9.2 3.2 10.2 14.3 50.5 3.2 12.8 7.9 34.5 6.4 25 1.6 4.8 3.2 7.1 1.6 3 1.6 1.7 1.5 .3 1.6-.2 1.6-.6 1.6-1.1 1.6-1.6 1.6-2 1.6-2.6 1.6-3.7 3.2-9.7 6.3-21.6 4.8-13.9 3.2-10.1 6.4-22.7 1.5-6.6 1.6-4.6 3.2-7.7 6.4-12.8 6.3-15.8 3.2-7 1.6-2.6 1.6-1.8 1.6-1.1 1.6-.7 4.8-1.1 1.6-.6 1.5-1 1.6-1.3 6.4-6.7 1.6-1.1 1.6-.8 1.6-.4 1.6 .1 4.7 1.3 1.6 .3 1.6-.1 1.6-.4 1.6-.8 6.4-4.7 1.6-.7 1.6-.5 1.5 0 1.6 .3 4.8 1.5 1.6 .4 1.6 .1 3.2-.5 4.8-1.6 1.5-.3 1.6 0 1.6 .1 3.2 1 4.8 1.8 3.2 .7 1.6 .2 3.1-.2 9.6-1.5 4.8-.5 4.7 0 8 .6 9.5-.9 3.2 .5 3.2 1.2 4.8 2.5 1.6 .5 1.6 .2 1.5-.1 1.6-.4 4.8-1.8 1.6-.4 1.6-.1 1.6 .3 1.6 .6 4.8 3.1 1.5 .8 1.6 .6 1.6 .2 1.6-.2 6.4-2.5 1.6-.2 1.6 .1 1.6 .6 1.5 1 4.8 3.5 1.6 .8 1.6 .4 1.6-.1 1.6-.4 4.8-2.3 1.6-.5 1.5-.1 1.6 .3 1.6 .8 6.4 4.8 1.6 .7 1.6 .4 1.6 0 1.6-.3 4.7-1.6 1.6-.2 1.6 .1 1.6 .4 1.6 .7 4.8 2.5 1.6 .5 1.6 .3 1.5 0 1.6-.2 4.8-1.3 3.2-.3 3.2 .7 7.9 3.7 4.8 1.3 19.1 2.1 9.5 1.6 3.2 0 6.4-.7 3.2 .3 3.2 1.3 4.7 2.8 1.6 .8 1.6 .5 1.6 .1 1.6-.1 4.8-1.5 1.6-.4 1.6-.1 1.5 .3 1.6 .7 6.4 4.4 1.6 .7 1.6 .4 1.6-.1 1.6-.4 4.7-2.1 1.6-.3 1.6 0 1.6 .5 1.6 .9 4.8 3.5 1.6 .9 1.6 .4 1.5-.1 1.6-.5 4.8-2.9 1.6-.7 1.6-.4 1.6 .1 1.6 .6 1.6 1 4.7 3.7 1.6 .8 1.6 .5 1.6 0 1.6-.3 4.8-1.5 1.6-.2 1.6 .2 1.6 .5 1.5 .8 4.8 2.9 1.6 .6 1.6 .3 1.6 0 1.6-.4 4.8-2 3.1-1 1.6 0 1.6 .1 4.8 1.3" stroke="#FFC000"/>
<path d="M131.8 203l3.2 .5 3.2 .2 1.6 1 3.1 10.2 3.2 9.2 14.3 36.5 11.2 31 4.8 12.4 3.1 7.4 3.2 6.5 4.8 8.7 4.8 7.8 6.3 9.9 4.8 6.9 4.8 5.8 3.2 3.2 4.7 3.7 8 5.3 3.2 2.3 9.5 8.3 3.2 2.4 3.2 1.9 3.2 1.2 1.6 .3 3.1 .3 8 0 3.2 .4 3.2 .6 6.3 1.9 1.6 .2 1.6-.2 6.4-1.6 7.9-2.5 4.8-1 4.8-.3 7.9 .4 4.8-.4 4.8-1.3 7.9-3.2 3.2-1 4.8-.8 8-.6 3.1-.6 1.6-.5 4.8-2.3 9.5-6.3 3.2-1.8 4.8-1.9 6.4-1.7 3.2-1.1 3.1-1.6 3.2-2 3.2-2.5 9.5-8 11.2-7.9 4.8-3.9 4.7-4.8 9.6-12.2 3.2-3.7 3.1-3 3.2-2.3 3.2-1.7 4.8-1.7 3.2-1.4 9.5-6.1 3.2-1.5 1.6-.5 1.6-.1 1.6 .3 1.6 .6 3.1 2.1 3.2 3 6.4 7.4 1.6 2.5 1.6 3 1.6 3.4 3.1 7.8 3.2 8.7 4.8 14.3 3.2 10.7 4.8 18.9 15.9 68.5 11.1 45.9 6.4 28 1.6 5.5 3.2 8.7 1.5 3.7 1.6 2.5 1.6 .7 1.6-.4 1.6-1.1 1.6-1.7 1.6-2.1 4.8-8.3 1.6-3.8 1.5-4.8 3.2-11.9 8-34.5 6.4-25.2 11.1-48.6 3.2-13.2 3.2-11.8 1.5-5.2 4.8-14.5 3.2-8.7 3.2-8 3.2-7 3.1-6 1.6-2.6 8-11.7 4.8-6.3 3.2-3.3 1.5-1.3 3.2-1.8 3.2-.9 8-1.2 3.1-.9 3.2-1.3 9.6-4.6 3.2-.9 1.6-.3 1.5-.1 3.2 .1 8 1.1 3.2 .2 3.1-.3 8-1.5 4.8-.3 4.8 .8 9.5 3.2 3.2 .5 1.6 0 3.2-.3 9.5-2.3 3.2-.3 3.2 .3 3.1 .8 8 3.2 3.2 1 4.8 1.1 7.9 1.1 3.2 .6 3.2 1 7.9 3 4.8 1.3 4.8 .3 7.9-.9 3.2-.2 3.2 .4 1.6 .4 4.8 1.9 9.5 4.8 3.2 1.2 4.8 1.2 7.9 1.3 9.6 2.2 4.8 .8 4.7 .2 8-.3 3.2 .2 1.6 .3 1.5 .4 3.2 1.3 3.2 1.8 8 5.2 3.2 1.6 3.1 1 1.6 .4 3.2 .2 9.6-.4 4.7 .2 15.9 1.6 4.8 .8 3.2 1 3.2 1.4 3.2 1.9 7.9 5.5 3.2 1.6 3.2 1 1.6 .2 3.2-.1 9.5-2.4 3.2-.4 3.2 .1 3.2 .6 11.1 3.4 3.2 .6 7.9 .9 4.8 1 9.6 3.4 3.1 1 3.2 .4 3.2 0" stroke="#70AD47"/>
<path d="M131.8 322l6.4 1.2 1.6 .6 4.7 4.3 6.4 4.8 6.4 3.9 9.5 4.9 11.1 4.9 16 5.6 4.7 1.9 6.4 3.1 14.3 8.2 4.8 2.1 3.2 .9 3.2 .6 4.7 .2 3.2-.3 11.2-1.4 6.3-.1 6.4 .7 12.7 2.2 6.4 .9 9.5 .9 9.6 .4 6.3-.1 4.8-.5 14.3-2.4 6.4-.6 6.4 .2 14.3 1.6 3.2 .1 3.1-.2 6.4-1.2 22.3-5.9 12.7-3.1 3.2-1.1 3.2-1.4 3.2-1.8 4.7-3.3 4.8-3.9 4.8-4.6 4.8-5.5 4.7-6.2 4.8-6.8 6.4-9.5 7.9-15.1 3.2-5.1 1.6-2 3.2-3.2 1.6-1.4 1.6-1.1 1.6-.6 1.6 .1 1.5 .4 3.2 1.6 4.8 3.7 8 7.6 3.1 4 3.2 5.2 3.2 6.2 9.6 20.8 3.1 8.2 3.2 9.2 3.2 10 6.4 21.3 14.3 52.4 9.5 33.7 1.6 4.7 1.6 3.9 3.2 5.9 1.6 2.5 1.6 1.5 1.6 .1 1.6-1 1.6-2 1.5-2.5 3.2-6.1 1.6-4.4 1.6-5.9 1.6-6.9 4.8-23.2 4.8-21.4 1.5-8 4.8-21.5 3.2-13.3 3.2-12 7.9-27.2 3.2-9.4 1.6-3.8 1.6-3.1 3.2-4.7 1.6-2 3.2-3.2 3.1-2.5 6.4-3.7 3.2-2.1 9.5-7.8 3.2-1.8 1.6-.5 1.6-.3 1.6-.1 3.2 .7 1.6 .6 6.3 3.3 3.2 1.3 3.2 .9 3.2 .5 6.3 0 4.8-.4 4.8-.7 6.4-1.4 12.7-3.7 4.8-.7 3.1-.2 3.2 .3 3.2 .7 4.8 1.7 9.5 4.2 3.2 1 4.8 .9 20.7 1.3 4.7-.3 8-1.2 3.2-.1 1.6 .2 1.6 .4 3.1 1.4 9.6 6.3 3.2 1.5 1.6 .5 1.6 .3 3.1 0 8-1.5 3.2-.3 1.6 .1 3.2 .4 3.1 .9 8 2.5 9.5 2.7 4.8 1.8 9.6 4.2 4.7 1.3 3.2 .3 3.2 0 9.5-1.3 3.2-.2 4.8 .2 4.8 .7 6.3 1.7 14.4 5 6.3 2.6 9.6 4.6 4.8 1.6 3.1 .4 3.2-.3 3.2-.9 4.8-1.7 3.2-.9 3.1-.4 1.6 .1 1.6 .3 3.2 1.1 8 3.8 3.1 1.3 3.2 .9 9.6 1.8 9.5 3.1 3.2 .8 3.2 .4 1.6-.1 3.2-.3 6.3-1.2 4.8-.3 4.8 .7 7.9 2 4.8 .9" stroke="#FFD34D"/>
<path d="M131.8 455.9l3.2 .1 4.8 .5 1.5-1.3 1.6-2.7 3.2-6.8 1.6-2.4 1.6-.9 9.6-3.7 15.9-5.2 4.7-1.2 4.8-.9 3.2-.4 4.8-.2 9.5 .4 4.8 0 19.1-1.1 3.2-.5 9.5-2.1 11.2-1.8 11.1-2.7 7.9-1.1 4.8-.2 12.8 .4 15.9-.1 4.7-.3 8-1.3 4.8-.5 12.7 .3 22.3-.1 9.5-.3 19.1-1.3 4.8-.8 7.9-1.9 3.2-.6 12.8-.8 14.3-1.3 7.9-1.2 8-2.1 12.7-4 8-2.2 6.3-2.3 9.6-4.6 11.1-4.9 8-4 11.1-5.3 4.8-2.6 12.7-7.8 4.8-2.5 3.2-1.2 1.6-.2 1.6 .3 1.6 .5 3.1 1.7 4.8 3.8 6.4 5.9 3.2 4.2 7.9 12.7 3.2 4.2 1.6 1.5 1.6 1 1.6 .7 4.8 1.6 7.9 1.9 4.8 .7 15.9 1.2 20.7 .6 11.1-.7 11.2-.2 11.1-1.7 3.2-.2 3.2-.1 9.5 .8 15.9 1.8 6.4 .4 4.8 .1 4.7-.3 11.2-1.3 11.1 .1 11.1-.6 4.8 .2 27.1 2.5 7.9 .3 4.8-.2 11.1-1.6 4.8-.2 9.6 .5 7.9 .1 11.2 1.1 4.7 .2 12.8-.4 17.5 .2 11.1-.9 4.8-.1 9.5 .3 9.6 0 9.5 .9 3.2 .1 3.2-.1 9.5-.8 6.4-.3 6.4 .2 11.1 .6 17.5 .4 4.8-.2 7.9-.8 3.2-.1 11.2 .6 14.3-.3 14.3 .7" stroke="#4472C4"/>
<path d="M131.8 357.7l6.4 .8 1.6 .5 3.1 3.5 9.6 11.2 4.8 5 3.1 2.9 3.2 2.6 6.4 4.4 3.2 1.8 4.7 2.3 8 3.3 9.6 3.2 7.9 1.9 6.4 .9 7.9 .3 6.4-.3 15.9-1.2 9.6-.2 9.5 .6 17.5 1.6 6.4 .3 4.7-.1 9.6-.8 17.5-2.7 8-1.5 9.5-2 8-2 7.9-2.6 4.8-2 4.8-2.6 4.7-3.1 4.8-3.5 19.1-14.7 8-6.8 6.3-6.2 4.8-5.4 4.8-6.1 6.3-9 3.2-4.8 3.2-5.6 8-15.8 3.1-5.9 3.2-5 1.6-2.1 6.4-6.5 3.2-2.5 1.5-.8 1.6-.6 1.6-.1 1.6 .2 1.6 .7 3.2 2.2 1.6 1.5 3.2 3.6 6.3 8.6 1.6 2.4 1.6 3 3.2 7.6 3.2 9.5 9.5 33.1 3.2 12.4 4.8 20.8 11.1 53.5 15.9 84.8 4.8 27.2 3.2 16.1 1.6 6.1 1.6 5.1 1.6 5 1.6 4.1 1.6 2.6 1.5 .5 1.6-1 1.6-2.1 1.6-2.9 1.6-3.5 1.6-3.7 1.6-5 1.6-6.8 3.2-17.6 6.3-40.9 11.2-67.3 4.7-26.7 8-34.5 3.2-12.3 3.2-10.4 1.6-4.1 1.5-3.4 3.2-5.4 3.2-4.7 1.6-2 3.2-3.4 3.2-2.6 9.5-5.7 11.2-8.3 4.7-2.9 3.2-1.2 1.6-.3 3.2 .1 3.2 .8 9.5 3.4 3.2 .8 3.2 .4 3.2 0 9.5-.4 9.6 0 3.1-.2 3.2-.7 11.2-4 3.1-.6 1.6-.1 1.6 .2 3.2 .7 9.6 4.2 4.7 1.5 3.2 .6 9.6 1 12.7 2.6 3.2 .2 3.2-.1 3.1-.6 8-1.9 3.2-.3 3.2 .2 4.7 1.2 11.2 4.8 6.3 2.3 22.3 5.6 4.8 .5 3.2 0 11.1-1.9 3.2-.1 1.6 .1 1.6 .2 3.2 1 3.1 1.4 8 4.1 3.2 1.2 4.7 1.1 8 .8 3.2 .6 11.1 2.8 4.8 .4 3.2-.2 7.9-1.1 3.2 .1 1.6 .2 4.8 1.4 7.9 3.7 4.8 1.7 3.2 .7 9.5 1 3.2 .5 12.8 3.5 3.1 .4 3.2 .1 3.2-.2 9.6-1.3 3.1-.1 3.2 .4 4.8 1.1 9.5 3.1 4.8 1.3 12.7 2.2 8 1.6" stroke="#FFCD33"/>
<path d="M131.8 166l6.4-.6 1.6 1.3 3.1 14.6 14.4 68.9 4.7 21.2 3.2 13.1 4.8 17.9 4.8 15.7 4.7 13.7 3.2 8 3.2 7.2 3.2 6.4 4.8 8.2 4.7 6.7 4.8 5.3 3.2 3 3.2 2.6 9.5 6.8 11.2 7.2 3.1 1.7 3.2 1.4 4.8 1.3 3.2 .3 3.2-.1 4.7-.9 12.8-3.2 4.7-.7 4.8-.2 4.8 .4 4.8 .7 19.1 4.3 4.7 .6 3.2 0 3.2-.2 3.2-.5 4.8-1.1 9.5-2.7 6.4-1.1 6.3-.1 17.5 1.7 12.8 .4 3.1-.3 1.6-.4 3.2-1.3 3.2-1.8 3.2-2.1 6.3-5 3.2-3 4.8-5.2 4.8-5.8 6.3-8.3 3.2-4.7 3.2-5.3 4.8-8.8 7.9-16.7 1.6-4.1 6.4-19.2 1.6-4.3 1.6-3.6 4.7-8.7 1.6-2.1 1.6-1 1.6-.1 1.6 .3 1.6 .6 1.6 .9 3.2 2.6 3.2 3.4 4.7 6.3 1.6 2.4 1.6 3.1 1.6 3.7 1.6 4.1 3.2 9.6 9.5 33.4 3.2 12.3 3.2 13.5 12.7 58.6 15.9 78 6.4 33.1 1.6 7.4 1.6 6.3 4.8 14.3 1.6 3.4 1.5 1.5 1.6 0 1.6-.7 1.6-1.4 3.2-4.2 3.2-5.2 1.6-3.9 1.6-5.1 3.1-12.5 6.4-29.4 12.7-55.5 6.4-26.2 3.2-12 6.4-22 4.7-14.5 3.2-8 3.2-6.2 1.6-2.3 3.2-3.9 1.6-1.7 3.1-2.8 1.6-1 3.2-1.5 8-2.5 1.6-.7 3.1-1.7 9.6-5.7 7.9-3.6 4.8-1.7 3.2-.7 1.6-.1 3.2 .3 6.3 1.4 3.2 .3 3.2 0 6.4-.4 3.2 0 9.5 1 9.6 .4 9.5 .9 4.8-.2 6.3-1.3 3.2-.4 4.8 .2 15.9 2 3.2 .7 7.9 2.2 3.2 .5 9.6 .5 3.2 .4 6.3 1.2 3.2 .4 8 .1 3.1 .3 11.2 2.4 11.1 1.2 9.6 1.7 3.2 .2 6.3 0 3.2 .3 3.2 .6 6.3 1.9 3.2 .7 9.6 1.1 11.1 2.1 11.2 1 7.9 1.8 3.2 .5 3.2 .1 9.5-.6 4.8 .5 11.1 2.1 3.2 .8 3.2 1.1 6.4 2.5 3.1 .9 1.6 .2 3.2 .2 8-.7 3.2 .1 17.5 1.8 11.1 2 3.2 .1 7.9-.7 3.2 .2 3.2 .6 6.4 1.6 3.2 .7 9.5 1" stroke="#A5A5A5"/>
<path d="M131.8 420.7l8-.1 1.5 2.1 1.6 4.8 1.6 6.8 6.4 34.7 6.4 31.7 3.1 16.8 4.8 28.3 3.2 25.9 4.8 43.1 1.6 12.4 1.6 10.2 3.1 16.1 6.4 26.2 1.6 5.1 1.6 1.3 1.6-3.9 1.6-7.2 11.1-58.1 3.2-15.3 3.2-14.2 3.2-12.6 1.5-5.4 1.6-4.9 3.2-8.1 3.2-6.3 3.2-4.5 1.6-1.7 3.2-2.8 9.5-7.4 3.2-2.3 3.2-1.6 3.2-.6 4.7 0 3.2-.2 3.2-1.3 1.6-.9 3.2-2.8 3.1-3.8 1.6-2.3 1.6-2.7 3.2-6.4 4.8-12.4 6.4-19.6 6.3-21.8 3.2-9.6 3.2-7.8 1.6-2.9 1.6-1.8 1.6-.5 1.5 .2 1.6 .5 4.8 2.1 1.6 .3 1.6 .2 3.2-.3 6.3-1.4 1.6 0 1.6 .2 1.6 .7 1.6 1.2 1.6 1.7 1.6 2.1 1.6 2.5 3.2 5.8 14.3 27 9.5 18.6 9.6 16.5 4.8 8.7 3.1 7 8 19.9 4.8 10.1 4.7 8.5 3.2 4.5 1.6 1.6 1.6 1.2 1.6 .7 1.6 .3 1.6 .1 3.2-.1 6.3-.7 4.8-1 1.6-.9 1.6-1.2 1.6-1.6 4.7-6.2 3.2-5.3 3.2-6.7 3.2-8.9 3.2-11 4.7-20.4 6.4-31.3 3.2-14.6 6.4-26.9 4.7-18.7 1.6-7 14.3-71.4 20.7-111.5 4.8-22.1 1.6-6.3 1.6-5 1.6-3.9 1.6-3.1 1.6-2.6 3.1-4.3 1.6-1.6 1.6-1.3 1.6-.9 3.2-1.5 3.2-1 1.6-.2 1.6 0 1.6 .2 1.6 .6 1.5 1 3.2 2.9 1.6 2.1 1.6 2.5 1.6 3.1 1.6 3.7 19.1 53.6 1.6 4.1 3.2 6.7 1.6 2.7 3.1 4.4 3.2 3.6 3.2 3 3.2 2.6 1.6 1.1 3.2 1.9 3.1 1.4 3.2 .9 6.4 .8 9.5 2 11.2 .2 9.5 1.5 9.6 .6 11.1 1.6 8 0 3.1 .2 3.2 .6 8 1.9 7.9 1.4 3.2 1 8 3.2 3.2 .7 9.5 .8 9.6 1.6 9.5 .6 11.1 2.4 3.2 .2 6.4-.1 3.2 .2 7.9 1.5 9.6 1.4 3.2 .9 6.3 2.3 3.2 1 11.1 1.4 9.6 2.4 7.9 1.4 3.2 .9 8 3.2 3.2 .9 9.5 1.5 9.6 2.5 9.5 1.9 3.2 1 7.9 3.4 3.2 1 8 1.4 11.1 3 9.6 1.8 3.2 1.1 6.3 2.9 3.2 1.2 9.6 2.3 9.5 3.1 8 1.7 3.1 .9 9.6 4 3.2 1.1 9.5 1.9 9.6 2.4 7.9 .9 3.2 .7 8 2.6 3.1 .9 9.6 1.1 9.5 1.7 6.4 .3" stroke="#C3C3C3"/>
<path d="M131.8 360.7l1.6 .2 1.6 0 4.8-1.3 1.5 .5 3.2 1.6 1.6 1.2 6.4 6.6 1.6 1.4 1.6 1.1 1.6 .6 1.6 .3 1.5-.1 4.8-.7 1.6 0 1.6 .5 1.6 .7 1.6 1.2 4.8 4.1 1.5 1.1 1.6 .8 1.6 .5 1.6 .1 4.8-.6 1.6 0 1.6 .3 1.6 .7 1.6 1.1 6.3 5.7 1.6 1.1 1.6 .7 1.6 .3 1.6-.1 4.8-1.2 1.6-.2 1.5 0 1.6 .3 1.6 .6 4.8 2.6 1.6 .7 1.6 .4 1.6 0 1.6-.2 6.3-2.2 1.6-.1 1.6 .2 1.6 .5 1.6 .8 4.8 3.1 1.6 .7 1.6 .4 1.5 0 1.6-.2 4.8-1.6 1.6-.3 1.6 0 1.6 .3 1.6 .7 4.7 2.5 1.6 .6 1.6 .3 1.6-.2 1.6-.5 6.4-3.6 1.6-.6 1.6-.2 1.6 .2 1.5 .5 4.8 2.5 1.6 .7 1.6 .3 1.6-.1 1.6-.4 6.3-2.7 1.6-.3 1.6 .2 1.6 .4 1.6 .8 4.8 2.6 1.6 .6 1.6 .1 1.6-.2 1.6-.5 4.7-2.5 1.6-.6 1.6-.3 1.6 0 1.6 .3 4.8 1.8 1.6 .5 1.5 .1 1.6-.1 1.6-.5 4.8-2.3 1.6-.6 1.6-.3 1.6 0 1.6 .3 6.3 3 1.6 .5 1.6 .1 1.6-.2 1.6-.6 4.8-2.2 1.6-.5 1.6-.2 1.5 .2 1.6 .5 4.8 2.3 1.6 .5 1.6 .2 1.6-.1 1.6-.5 1.6-.9 4.7-2.9 1.6-.6 3.2-.5 1.6-.6 3.2-1.9 1.6-1.4 3.2-3.6 1.6-2.6 1.5-3.2 3.2-8 4.8-13.7 3.2-10.4 3.2-11.5 3.1-12.9 1.6-7.3 4.8-28.6 3.2-13.1 1.6-4.2 1.6-.8 1.6 0 1.6 .5 1.5 1 1.6 1.4 4.8 4.8 3.2 2.5 1.6 .8 3.2 1.2 1.6 1 1.6 1.5 1.5 2.1 1.6 2.8 1.6 3.5 1.6 3.9 6.4 17.5 1.6 3.9 6.3 14.1 3.2 8.2 1.6 4.8 3.2 10.9 4.8 18.1 3.2 11.2 3.1 10.1 6.4 18.7 3.2 10.4 3.2 11.7 7.9 31.1 3.2 10.3 1.6 3.8 1.6 2.9 4.8 7.4 1.6 1.9 1.5 1.2 1.6 .1 1.6-.6 1.6-1.4 1.6-2 1.6-2.4 1.6-3.8 1.6-5.7 3.2-15.5 4.7-26 4.8-21.7 12.7-55.9 4.8-19.2 3.2-10.4 1.6-4 1.6-3.3 1.6-2.4 4.7-5 1.6-1.9 6.4-8.8 1.6-1.9 1.6-1.5 1.6-.9 1.6-.6 1.6-.1 4.7 .7 1.6 .2 1.6-.1 1.6-.5 1.6-.8 6.4-4.5 1.6-.8 1.5-.4 1.6 .1 1.6 .4 4.8 2.1 1.6 .5 1.6 .2 1.6-.2 1.6-.5 4.7-2.2 1.6-.6 1.6-.2 1.6 .2 1.6 .5 1.6 .8 4.8 2.8 1.6 .6 1.6 .2 1.5-.1 1.6-.6 4.8-2.4 1.6-.7 1.6-.4 1.6-.1 1.6 .2 4.7 1 1.6 .2 1.6-.1 1.6-.4 1.6-.7 4.8-2.3 1.6-.5 1.6-.1 1.6 .4 1.6 .7 6.3 4.8 1.6 .9 1.6 .5 1.6 .2 1.6-.3 4.8-1.7 1.5-.4 1.6-.1 1.6 .2 1.6 .5 4.8 2.4 1.6 .6 1.6 .3 1.6 0 1.6-.4 6.3-2.8 1.6-.4 1.6 .1 1.6 .5 1.6 .8 4.8 3.2 1.6 .8 1.5 .5 1.6 .2 1.6-.2 4.8-1.7 1.6-.4 1.6-.1 1.6 .3 1.6 .6 6.3 4 1.6 .8 1.6 .5 1.6 .2 1.6 0 4.8-.7 1.6 .1 1.6 .4 3.1 1.6 4.8 3.2 1.6 .7 1.6 .4 1.6 0 1.6-.4 4.7-1.9 1.6-.5 1.6-.1 1.6 .3 1.6 .6 6.4 4.4 1.6 .8 1.6 .4 1.6 .1 1.5-.2 4.8-1.4 1.6-.2 1.6 .1 1.6 .4 1.6 .8 4.8 3.1 1.5 .8 1.6 .6 1.6 .1 1.6-.2 6.4-2.1 1.6-.1 1.6 .2 1.6 .7 1.5 1 6.4 5.2 1.6 .8 1.6 .4 1.6 .1 6.4-1 1.5 0 1.6 .3 1.6 .5 6.4 3.1 1.6 .4 1.6 .1 1.6-.2 6.3-2.2 1.6-.2 1.6 .2 1.6 .5 1.6 .9 4.8 3.4 1.6 .9 1.6 .5 1.5 .2 1.6-.1 4.8-1.5 1.6-.3 1.6 0 1.6 .4 1.6 .7 6.3 4.6 1.6 .8 1.6 .6 1.6 .1 1.6-.1 4.8-1 1.6-.1 1.6 .2 1.5 .6 1.6 .9 4.8 3.4 1.6 .9 1.6 .5 1.6 0 1.6-.3 1.6-.7 4.7-2.9 1.6-.6 1.6-.3 1.6 .1 1.6 .4 4.8 2.4 3.2 1.2 1.6 .2 1.5 0 4.8-.7 1.6 0 1.6 .3 1.6 .6 1.6 1 4.8 3.4 1.6 1 1.5 .6 1.6 .2 1.6-.2 1.6-.5 3.2-1.5" stroke="#327DC2"/>
<path d="M131.8 174.4l3.2-.5 3.2 .1 1.6 1.5 3.1 14.1 11.2 52.7 6.3 27.4 3.2 12.1 3.2 10.8 3.2 9.7 4.8 12.5 4.7 10.7 6.4 12.8 9.6 18.4 6.3 11.1 4.8 6.9 3.2 3.5 3.2 2.7 1.5 .9 3.2 1.3 1.6 .3 3.2 .3 11.1-1.2 4.8 .3 3.2 .7 3.2 1.1 11.1 4.7 3.2 .8 3.2 .4 4.8-.2 3.1-.7 9.6-2.7 3.2-.5 3.2-.2 3.1 .3 3.2 .7 11.2 3 3.1 .4 3.2 0 3.2-.4 3.2-.9 11.1-4.1 3.2-.7 3.2-.3 3.2 .1 3.2 .6 9.5 3.1 4.8 1.2 3.2 .2 1.5 0 3.2-.8 3.2-1.6 3.2-2.2 9.5-7.9 3.2-2.4 6.4-3.7 9.5-4.4 4.8-2.6 4.8-3.3 3.2-2.9 3.2-3.7 3.1-4.5 6.4-10.6 11.1-20.7 3.2-6.7 4.8-11 3.2-6.6 1.6-2.7 1.6-2.3 4.7-5.7 1.6-1.6 1.6-1.2 1.6-.6 1.6 0 1.6 .4 1.6 .7 1.6 .8 3.2 2.4 4.7 4.8 4.8 5.7 1.6 2.5 1.6 3 3.2 7.4 3.1 8.8 9.6 29.5 3.2 11.2 3.2 12.1 11.1 46.2 4.8 21.9 17.5 84.2 1.6 6.8 1.6 5.6 3.1 8.4 1.6 3.6 1.6 2.6 1.6 .9 1.6-1 1.6-2.5 1.6-3.3 3.2-8.5 1.6-6.6 1.6-8.3 6.3-38.5 9.6-52.2 4.7-23 4.8-19.1 3.2-11.3 1.6-4.8 1.6-4.1 1.6-3.3 4.7-8.7 3.2-5 3.2-3.9 3.2-2.9 4.8-3.3 3.1-1.6 3.2-.9 1.6-.2 3.2 0 3.2 .7 7.9 2.9 3.2 .5 3.2-.1 1.6-.3 3.2-1 9.5-4 4.8-1.7 4.8-1.1 3.2-.1 3.1 .5 3.2 1.2 8 4.5 3.2 1.5 3.1 .9 1.6 .1 1.6-.1 3.2-.7 9.6-3.1 6.3-1.5 6.4-1 4.8 .1 1.6 .3 3.1 1 6.4 3 3.2 1.2 3.2 .6 3.1 0 8-1.7 3.2-.4 3.2 .2 3.2 .5 12.7 3.6 11.1 4.3 3.2 .8 3.2 .1 3.2-.5 7.9-3 3.2-.8 3.2-.3 3.2 .4 3.2 .9 4.7 2 14.4 7.3 3.1 1.3 3.2 .7 1.6 .2 3.2-.1 9.5-2 3.2-.5 3.2-.2 4.8 .3 6.3 1.3 12.8 4.5 4.7 1.1 3.2 .4 8 .3 4.8 .4 9.5 1.6 9.6 1 11.1 2.5 3.2 .5 9.5 .4 3.2 .3 3.2 .7 7.9 2.5 3.2 .6 3.2 .1 8-.8 3.1-.1 3.2 .2 14.3 1.5 3.2 .5 3.2 .9 8 3.6 3.2 1.1 1.5 .3 3.2 .1 1.6-.2 3.2-.9" stroke="#9BC97F"/>
<path d="M131.8 437.9l3.2-.6 4.8-.6 7.9-.1 3.2 .2 3.2 .6 6.3 2.1 3.2 .9 3.2 .5 8 .6 3.1 .7 8 2.3 4.8 .6 6.3 .1 6.4 .4 3.2-.1 1.6-.3 3.2-.8 7.9-2.9 1.6-.4 3.2-.3 3.2 .2 12.7 1.3 3.2 .7 7.9 2.6 3.2 .4 3.2-.1 9.6-1.9 4.7-.3 12.8-.1 3.1 .3 6.4 1 3.2 .1 1.6-.1 3.2-.9 9.5-4.4 9.6-3.2 7.9-3 3.2-.9 8-1.3 3.1-1 1.6-.8 3.2-2.1 15.9-13.3 3.2-2.9 9.6-9.5 9.5-8.1 4.8-5 9.5-12.4 9.6-12 4.7-6.6 3.2-5.1 9.6-17.1 7.9-13.8 3.2-5 6.4-9.2 3.2-3.8 3.1-2.8 1.6-.9 1.6-.5 1.6-.2 3.2 .3 1.6 .5 3.2 1.5 1.6 1.1 3.1 3.1 4.8 5.8 3.2 4.8 3.2 5.8 12.7 25.7 6.4 14.9 12.7 32.2 4.8 14.3 7.9 26 11.2 34.8 1.6 4.2 4.7 9.6 1.6 2.4 1.6 1.5 1.6 .1 1.6-1.2 1.6-2 3.2-5.6 1.6-4.4 3.2-12.5 4.7-21.2 3.2-12.8 9.6-41 6.3-22.8 3.2-10.1 1.6-4.1 1.6-3.4 3.2-5.1 3.2-4.3 3.1-3.6 1.6-1.4 1.6-1 3.2-1.2 1.6-.2 3.2-.1 6.3 .5 8 .3 8 1.1 3.1 0 1.6-.2 3.2-.9 8-3.3 1.6-.4 3.1-.3 9.6 1 9.5 0 8 .3 3.2-.2 6.3-.8 3.2 0 3.2 .5 8 2.8 3.1 .6 1.6 0 3.2-.2 6.4-1 3.2-.2 12.7-.4 3.2 .2 3.2 .7 6.3 2 3.2 .7 3.2 .2 7.9-.5 3.2 .2 3.2 .8 6.4 1.8 11.1 2.1 9.6 2.6 11.1 1.4 8 2.2 3.1 .7 1.6 0 3.2-.3 6.4-1.9 3.2-.5 1.6-.1 3.1 .4 4.8 1.4 4.8 2.1 4.8 2.7 7.9 5.2 3.2 1.5 1.6 .3 3.2 .1 1.6-.3 6.3-1.8 3.2-.5 1.6-.1 17.5 1.6 9.5 2 9.6 1.1 3.2 .7 3.2 1.4 6.3 3.8 3.2 1.6 1.6 .6 3.2 .7 11.1 .6 4.8 0 3.2-.4 6.3-1.3 4.8-.3 3.2 .3 12.7 2.1 3.2 .7 1.6 .6 3.2 1.6 6.3 3.7 3.2 1.2 1.6 .3 1.6 .1 3.2-.2 8-1.2 9.5-1.1" stroke="#F1975A"/>
<path d="M131.8 250.7l3.2 1.6 1.6 .4 1.6 0 1.6 .5 4.7 13 3.2 9.5 3.2 10.7 8 29.6 3.1 10.3 1.6 4.5 3.2 7.5 8 15.7 7.9 17.3 3.2 5.6 1.6 2.2 1.6 1.7 1.6 1.3 1.6 1 4.7 2.3 3.2 2 1.6 1.4 4.8 4.8 3.2 2.7 1.6 .9 1.6 .5 1.5 .2 6.4-.7 1.6 .1 1.6 .4 1.6 .8 1.6 1.1 6.3 5.5 1.6 1 1.6 .7 1.6 .1 1.6-.2 1.6-.5 4.8-2.5 3.2-1.1 1.5-.2 1.6 .1 6.4 1.3 1.6 0 1.6-.2 3.2-1.3 4.7-2.8 1.6-.7 1.6-.4 1.6 0 1.6 .4 1.6 .6 4.8 2.7 1.6 .7 1.6 .5 1.5 .1 1.6-.2 6.4-2.2 1.6-.3 1.6 0 1.6 .4 3.2 1.6 4.7 3 1.6 .7 1.6 .3 1.6-.1 1.6-.4 1.6-.7 4.8-2.7 1.6-.7 1.5-.3 1.6-.1 1.6 .3 6.4 2.5 1.6 .4 1.6 .1 1.6-.3 1.6-.5 6.3-2.8 1.6-.4 1.6-.1 3.2 .6 4.8 1.6 1.5 .3 1.6 0 1.6-.3 1.6-.7 6.4-3.9 1.6-.7 1.6-.3 1.6 .1 1.6 .5 1.5 .9 6.4 4.2 1.6 .6 1.6 .3 1.6 0 1.6-.3 4.7-1.5 1.6-.3 1.6 0 1.6 .3 1.6 .5 4.8 2.3 1.6 .6 1.6 .3 1.6 0 1.6-.3 1.5-.8 1.6-1.7 1.6-2.5 4.8-9 6.4-10.3 1.6-2.9 3.1-7 3.2-9.3 3.2-13 3.2-15.8 4.8-25.2 3.1-19.7 1.6-8 1.6-5.2 1.6-4.4 1.6-2.4 4.8 2.6 6.3 2.7 1.6 .9 1.6 1.2 1.6 1.5 1.6 2 1.6 2.2 1.6 3 1.6 3.8 14.3 40.7 3.2 10 1.6 5.8 3.2 13.4 7.9 36.7 9.6 38.2 3.1 13.7 3.2 15 9.6 48.7 1.6 7.3 1.6 6.2 1.6 5 1.5 3.6 3.2 6.5 1.6 2.3 1.6 .9 1.6-.6 1.6-1.6 1.6-2.3 3.2-5.8 1.6-5.3 1.5-7.4 1.6-9.1 4.8-31.4 8-50.3 4.7-27.6 11.2-52.4 3.2-12.5 1.6-4.7 1.5-3.9 1.6-3.3 1.6-2.6 1.6-2.1 1.6-1.5 1.6-1 1.6-.6 4.8-1.3 1.6-.9 3.1-2.6 4.8-4.8 1.6-1.3 1.6-1 1.6-.6 1.6-.1 1.6 .2 6.3 2.2 1.6 .4 1.6 .1 3.2-.5 4.8-1.4 1.6-.2 1.6 .1 3.1 1.1 4.8 2.4 1.6 .6 1.6 .3 1.6 0 1.6-.4 1.6-.7 4.7-2.9 1.6-.8 1.6-.4 1.6-.1 1.6 .2 1.6 .6 4.8 2.4 1.6 .5 1.6 .3 1.5-.1 1.6-.4 1.6-.8 6.4-4.1 1.6-.7 1.6-.3 1.6 0 1.6 .3 4.7 1.8 3.2 .8 3.2 0 4.8-.8 1.6-.1 1.6 .3 1.5 .6 1.6 .9 8 6.8 1.6 .9 1.6 .5 1.6 .1 1.6-.3 1.5-.6 4.8-2.2 1.6-.5 1.6-.2 1.6 .1 1.6 .3 6.4 2.3 1.5 .2 1.6-.1 3.2-1.1 4.8-2.4 1.6-.4 1.6-.2 1.6 .3 1.6 .6 1.5 .9 6.4 4.7 1.6 .8 1.6 .5 1.6 .1 1.6-.1 4.8-.8 1.5-.1 1.6 .3 1.6 .5 1.6 .8 6.4 4.2 1.6 .7 1.6 .5 1.6 .1 1.5-.1 4.8-1.1 1.6-.2 1.6 .1 1.6 .5 1.6 .7 1.6 1.1 4.8 3.8 1.5 1 1.6 .6 1.6 .3 1.6-.1 1.6-.6 6.4-3.3 1.6-.5 1.6-.2 1.5 .2 1.6 .5 4.8 2.3 3.2 1.1 1.6 .2 1.6-.1 6.3-1.2 1.6 0 1.6 .3 1.6 .7 1.6 .9 6.4 4.8 1.6 .9 1.6 .6 1.5 .3 1.6-.1 6.4-1.1 1.6 .1 1.6 .4 1.6 .8 1.6 1.1 4.7 4 1.6 1.1 1.6 .8 1.6 .4 1.6-.1 1.6-.4 6.4-3.2 1.6-.5 1.5-.3 1.6 .1 1.6 .4 4.8 2 3.2 1.1 3.2 .1 4.7-.9 3.2-.1 1.6 .3 1.6 .7 1.6 1 6.4 4.9 1.5 .8 1.6 .4 1.6 .1 1.6-.3 6.4-2.7 1.6-.3 1.6 0 1.6 .3 1.6 .7 6.3 4.3 1.6 .8 1.6 .5 1.6 .2 1.6-.1 6.3-1.3 1.6 0 1.6 .3 3.2 1.4 4.8 2.9 1.6 .7 1.6 .3 1.6 0 1.6-.4 1.5-.7 4.8-2.8 1.6-.8 1.6-.5" stroke="#7F6000"/>
<path d="M131.8 369.3l8 .2 1.5 1.3 1.6 2.7 6.4 15.8 1.6 2.9 6.4 8.8 3.1 3.8 1.6 1.6 4.8 3.6 4.8 3 4.8 2.3 4.7 1.3 25.5 2.6 17.5 .7 15.9 1.4 8 .2 22.2-.9 17.5-1 6.4 .1 12.7 1 8-.1 20.7-2 15.9-2.5 4.8-.6 15.9-.6 7.9-.8 8-1.4 9.5-2.1 6.4-1.9 4.8-1.8 7.9-3.8 15.9-8.3 8-4.6 4.8-3.3 3.2-3.2 4.7-6.3 4.8-7.6 9.6-16.1 4.7-7.4 4.8-6.3 8-9.5 4.7-4.9 3.2-3 3.2-2.5 3.2-2.2 3.2-1.8 3.1-1.5 1.6-.6 1.6-.3 1.6 0 1.6 .5 1.6 .8 1.6 1.3 1.6 1.5 3.2 4.3 1.6 2.6 3.1 6.2 3.2 7.4 3.2 8.6 12.7 38.9 11.2 31 3.2 7.5 1.5 2.8 1.6 1.9 1.6 .8 1.6-.3 1.6-1.2 3.2-3.3 3.2-4 12.7-17.5 3.2-4 3.2-3.4 3.2-2.5 3.1-1.6 1.6-.5 3.2-.7 19.1-1.6 8-.1 25.4 .4 17.5 1.7 15.9 1 16 1.7 30.2 .8 17.5 .1 6.4 .5 14.3 1.9 9.5 .6 17.5 .6 15.9-.5 6.4 .2 4.8 .4 15.9 2.3 19.1 1.7 7.9 .4 12.8-.4 6.3 .2 19.1 2.1 23.9 1.9 6.4 .1 15.9-.5 30.2 1.4 17.5 1.2 6.4 .1 14.3-.5" stroke="#264478"/>
<path d="M131.8 315.1l8-1.1 1.5 1.7 1.6 3.9 1.6 5.3 4.8 18.6 1.6 4.9 6.4 16.3 4.7 10.3 3.2 5.4 3.2 4.6 1.6 1.9 3.2 3.3 3.2 2.3 3.1 1.4 1.6 .4 6.4 1 9.5 2.4 4.8 .4 9.6 0 12.7 1.5 19.1-.4 12.7-1.4 3.2 0 9.5 .7 3.2-.1 9.6-1 12.7 .3 17.5-.8 4.8-.8 7.9-2 3.2-.6 11.2-.7 3.1-.5 9.6-2 11.1-1.1 9.6-1.4 7.9-.9 3.2-.5 3.2-.9 9.5-3.6 3.2-.9 8-1.4 3.2-.8 11.1-3.7 8-2.4 3.1-1.2 9.6-4.2 9.5-3.8 4.8-2.7 9.6-6.9 3.1-2.1 9.6-5.4 12.7-8.3 9.6-5.5 6.3-3.9 3.2-1.5 1.6-.5 3.2-.4 7.9 .3 4.8-.2 1.6 .3 1.6 .5 1.6 .9 3.2 2.7 1.6 1.7 3.2 4.2 4.7 7.5 1.6 3.4 1.6 4.7 3.2 12.8 3.2 16 3.2 17.7 1.5 10.1 1.6 12.2 3.2 31.1 1.6 19 1.6 22.1 4.8 94.3 1.6 21.4 11.1 130 1.6 17 1.6 13.6 1.6 8 1.6 4.4 1.6 3.3 1.6 1.2 1.5-.8 1.6-3.2 1.6-7.5 1.6-12.1 1.6-15.2 4.8-55 3.2-42.6 4.7-74.2 4.8-78.7 3.2-44.2 1.6-17.7 1.6-15.2 4.8-36.8 4.7-48.5 1.6-11.3 1.6-8.1 1.6-6.1 1.6-4.5 1.6-3.3 1.6-2.5 4.7-5.6 3.2-3.3 1.6-1.4 1.6-1 1.6-.6 8-.6 7.9-1.4 3.2-.3 19.1-.1 4.8 .6 6.3 1.5 3.2 .6 9.6 .5 3.1 .4 3.2 .8 9.6 2.8 9.5 2.1 9.6 2.6 11.1 2.7 3.2 1.1 7.9 3.3 3.2 1.2 3.2 .7 9.6 1.9 11.1 3.6 11.1 2.8 8 2.4 12.7 2.9 4.8 1.6 8 3.5 3.1 1 11.2 2.1 11.1 3.1 9.6 2.1 11.1 3.2 11.1 2.1 4.8 1.6 8 3.6 3.2 1.3 11.1 2.9 9.5 3.1 11.2 2.8 11.1 3.6 3.2 .6 9.5 1.2 3.2 .8 8 2.7 4.8 1.1 17.5 2.7 11.1 1" stroke="#9E480E"/>
<path d="M131.8 272.4l4.8-.5 3.2-.1 1.5 3.1 1.6 6.6 1.6 9 4.8 29.9 1.6 7.1 6.4 21.6 3.1 9 1.6 3.6 1.6 2.9 3.2 4.8 3.2 4.4 3.2 3.8 3.2 3.2 3.1 2.5 3.2 1.5 9.6 2.8 14.3 3.7 12.7 3.9 6.4 1.5 11.1 1.7 4.8 .9 4.8 1.4 12.7 4.1 12.7 2.7 1.6 1 1.6 2.1 1.6 2.9 3.2 7.8 4.8 13.1 1.6 3.8 1.5 3.2 1.6 2.4 1.6 1.6 4.8 4 4.8 3.7 22.3 16.4 4.7 3.3 25.5 15.6 6.3 3.4 4.8 1.8 4.8 1 14.3 2.3 4.8 .4 4.8 0 3.1-.3 4.8-1.1 4.8-1.7 3.2-1.5 3.2-2.3 1.6-1.4 3.1-3.5 1.6-2.2 3.2-5.2 4.8-9.7 6.3-15.2 8-21.1 1.6-3.7 6.4-12.2 1.5-3.7 1.6-4.5 3.2-11.7 3.2-14.2 4.8-23.7 3.2-18.3 6.3-40.5 3.2-15.5 1.6-6.1 1.6-4.9 1.6-3.8 1.6-2.7 1.6-1.6 1.6-.2 1.5 1.2 1.6 2.6 1.6 3.7 1.6 4.7 1.6 5.7 3.2 13.4 3.2 15.4 4.8 27.4 4.7 33.6 3.2 27.4 9.6 99.7 4.7 41.9 1.6 11.2 1.6 8.9 1.6 6.1 1.6 2.3 1.6-2.2 1.6-6 1.6-9 1.6-11.1 3.1-26.5 6.4-63.2 3.2-29 4.8-34.1 3.1-20 1.6-8.9 1.6-7.9 1.6-6.7 3.2-10.4 3.2-8.8 3.2-7.4 1.6-2.9 1.6-2.4 1.5-1.8 1.6-1.2 3.2-1.1 3.2-.8 6.4-1 6.3-.5 8-.2 12.7-.8 25.5-.6 17.5 1 4.8-.1 12.7-.8 4.8 .1 12.7 1.1 4.8-.1 9.5-.7 4.8 0 3.2 .4 4.7 .8 9.6 2.2 12.7 2.6 17.5 4.7 4.8 .8 9.5 1.2 4.8 .8 17.5 5 4.8 .9 7.9 1.1 4.8 1 4.8 1.3 9.5 3.3 4.8 1.3 4.8 1 14.3 2.3 20.7 4.9 6.4 2 11.1 4.1 6.4 1.7 4.7 .6 11.2 .3 4.8 .5 4.7 1 9.6 2.7 4.7 1.1 25.5 4.8 6.4 .6 9.5 0 4.8 .3 4.8 .6 12.7 2.2 17.5 1.4" stroke="#5A8A39"/>
<path d="M131.8 574.5l4.8-.2 3.2-.6 1.5-6 1.6-11.9 3.2-31 1.6-13.7 4.8-38.3 3.2-24.3 4.7-30.7 3.2-16.5 1.6-6.6 1.6-5.4 1.6-4.2 1.6-2.9 3.2-3.8 1.6-1.5 1.6-1.1 1.5-.8 1.6-.5 1.6-.1 1.6 .3 6.4 2.4 3.2 1.6 6.3 3.7 4.8 2.2 3.2 .9 4.8 .7 3.1 .9 9.6 4.2 3.2 1.1 7.9 2.4 9.6 3.5 3.2 .8 3.1 .3 9.6-.2 9.5 .5 11.2-.8 3.2 .2 9.5 1.4 11.1-.1 8 .6 3.2 0 3.2-.5 9.5-1.9 11.2-1 9.5-2 3.2-.3 9.5-.3 3.2-.5 8-1.7 9.5-.9 4.8-.9 9.5-2.9 8-1.9 3.2-1.1 3.2-1.5 7.9-4.5 8-3.9 3.2-1.8 3.1-2.2 9.6-7.3 9.5-6.8 3.2-2.7 9.6-9 7.9-6.7 3.2-3 4.8-5.6 23.8-31.9 3.2-3.9 3.2-2.9 1.6-.9 3.2-1.2 3.2-.5 4.7 0 1.6 .4 1.6 .8 1.6 1.2 1.6 1.7 1.6 2.3 1.6 3 1.6 3.6 1.6 4.3 3.2 10.4 15.9 56.2 4.7 17.9 8 31.7 3.2 11.5 1.6 4.6 1.6 3 1.6 1.8 1.5 .4 1.6-.8 1.6-2 1.6-3.2 3.2-9.1 4.8-15.4 1.6-4.2 6.3-14 3.2-6.3 1.6-2.5 1.6-1.8 1.6-1.2 1.6-.5 6.3-.2 9.6-1.5 3.2-.2 6.3 .1 3.2-.2 11.2-2.4 11.1-1.3 9.5-2.4 3.2-.5 3.2-.2 8 0 9.5-.5 3.2 .2 8 1.5 3.1 .3 9.6-.1 11.1 .9 3.2-.2 6.4-.6 4.7 0 9.6 1.6 7.9 .7 3.2 .4 9.6 2.4 3.2 .4 11.1 0 9.5 .9 9.6-.3 3.2 .1 3.2 .5 7.9 1.7 11.2 1.1 11.1 2.3 3.2 .2 9.5-.3 11.2 1.2 7.9-.1 3.2 .2 12.7 2.8 9.6 .8 9.5 2 3.2 .5 11.1 .5 11.2 2.1 11.1 .3 11.2 1.5 3.1 .1 8-.3 3.2 .2 9.5 1.3 11.2 .2 7.9 1.3 3.2 .3 3.2 0 9.5-1 6.4-.1" stroke="#255E91"/>
<path d="M131.8 275.8l6.4-.5 1.6 .3 22.2 37 6.4 9.8 6.4 9 6.3 8 6.4 6.7 4.8 4.3 3.2 2.4 3.1 2.1 4.8 2.6 4.8 1.9 4.8 1.5 6.3 1.4 8 .9 14.3 1 6.4 .6 23.8 3.7 4.8 .4 4.8 0 4.8-.3 6.3-1 15.9-3.9 6.4-1.3 6.4-.9 15.9-1.8 9.5-1.7 6.4-1.6 6.3-2.2 4.8-2.1 6.4-3.3 9.5-5.8 11.2-7.5 7.9-6.3 8-7.2 9.5-9.5 9.6-9.9 4.8-6.1 7.9-11.5 3.2-4.3 3.2-3.6 6.3-5.8 3.2-2.6 1.6-1.1 1.6-.8 1.6-.6 1.6-.2 1.6 0 3.2 1 3.1 1.7 3.2 2.5 4.8 4.4 1.6 1.9 1.6 2.4 3.2 6.3 3.1 7.5 3.2 8.4 6.4 17.8 3.2 10.2 4.8 16.6 9.5 34.9 19.1 74.1 1.6 4.9 3.2 7.3 1.6 3 1.6 2 1.5 .5 1.6-.4 1.6-.8 3.2-2.6 4.8-5.1 1.6-2.3 1.6-3 1.6-3.5 3.1-8.5 8-24.1 6.4-17.7 7.9-23.1 3.2-8.6 6.4-15.7 6.3-14.4 3.2-6.6 3.2-5.5 3.2-4.6 4.7-5.6 8-8.1 3.2-2.5 3.2-1.6 6.3-1.4 3.2-.9 3.2-1.5 4.8-2.7 3.2-1.2 3.1-.5 4.8-.1 3.2-.4 3.2-.9 6.3-2.5 3.2-.5 3.2 .1 6.4 .9 9.5-.1 3.2 .4 4.8 1.2 3.2 .5 3.1 .1 4.8-.4 3.2 0 9.5 1.3 3.2-.2 8-2 3.2 0 3.1 .8 4.8 1.8 3.2 .8 8 .3 3.1 .7 3.2 1.4 6.4 3.5 3.2 .9 3.2 .2 4.7-.3 3.2 .1 9.6 1.8 3.1 0 6.4-.3 3.2 .3 9.5 2.8 6.4 1.2 3.2 .9 3.2 1.3 4.7 2.3 3.2 1.1 3.2 .5 8 0 3.1 .7 6.4 2.3 3.2 .5 3.2-.1 4.7-.8 3.2 0 3.2 .9 4.8 2.1 3.2 1.1 3.2 .5 6.3 .1 3.2 .5 3.2 1.1 4.8 2.2 3.1 1 3.2 .5 6.4 .7 3.2 .8 4.7 1.5 3.2 .8 3.2 .2 4.8 .1 3.2 .3 9.5 2.2 3.2 .1 6.4-.5 3.1 .4 3.2 1.1 6.4 2.9 3.2 .7 6.3 0 3.2 .4 3.2 1.1 4.8 2.2 3.2 1 3.1 .2 6.4-1.3 3.2-.3 3.2 .2 6.3 1.1 3.2 0 3.2-.4" stroke="#1F4E79"/>
<path d="M131.8 141.8l3.2 .3 3.2 .6 1.6 2 4.7 25.3 4.8 23.6 3.2 14.3 4.8 19.5 14.3 53.2 4.8 17.1 4.7 15.4 3.2 9 3.2 8.1 6.4 14.6 9.5 20.8 4.8 9.2 3.2 5 1.6 2.2 3.1 3.8 17.5 17.4 3.2 2.6 1.6 1 3.2 1.3 1.6 .4 3.2 .1 6.3-.5 3.2 .1 3.2 .4 8 1.7 3.1 .3 9.6-.5 3.2 .3 3.2 .9 9.5 4 3.2 .8 1.6 .1 3.2-.3 7.9-1.9 3.2-.4 3.2 0 6.3 .6 4.8-.2 1.6-.4 3.2-1.2 6.4-3.4 3.1-1.4 3.2-1.1 8-2 3.2-1.3 4.7-2.7 6.4-4.5 3.2-2 3.2-1.5 6.3-2.3 3.2-1.4 3.2-2.1 1.6-1.3 4.8-5 4.7-6.1 12.8-17.6 3.1-5 3.2-5.6 8-15.4 7.9-16.3 3.2-5.5 1.6-2.3 3.2-3.9 11.1-10.5 1.6-1 1.6-.7 1.6-.1 1.6 .1 1.6 .5 3.2 1.5 3.2 2.2 7.9 6.2 1.6 1.4 3.2 3.7 3.2 4.4 3.1 5.2 4.8 9.2 1.6 3.5 3.2 8.2 9.5 28.1 9.6 27.1 9.5 30 4.8 16.6 3.2 10.1 1.6 3.9 3.2 5.7 1.6 2.2 1.6 1.3 1.5 .1 1.6-.7 3.2-2.7 4.8-5 1.6-2.2 1.6-3 1.6-3.5 3.1-8.3 8-23.5 9.6-29.7 4.7-12 3.2-6.8 6.4-11.9 4.7-8.4 3.2-4.9 1.6-2.1 3.2-3 3.2-2.3 1.6-.8 1.6-.7 3.1-.8 6.4-.8 3.2-.7 3.2-1.3 9.5-5.5 3.2-1.2 1.6-.4 3.2-.2 6.3 .1 3.2-.2 9.6-1.5 3.2-.2 3.1 .3 9.6 2.7 3.2 .5 3.2-.1 7.9-1.3 3.2-.1 3.2 .2 7.9 1.6 3.2 .3 1.6 0 3.2-.5 7.9-1.8 3.2-.2 1.6 .1 3.2 .6 6.4 1.9 3.1 .6 3.2 .2 6.4 0 3.2 .3 1.6 .3 3.2 1.1 7.9 3.9 3.2 1.2 1.6 .3 3.2 .2 7.9-.7 3.2 0 3.2 .5 7.9 2.3 3.2 .6 3.2 .1 8-.4 3.1 .3 1.6 .3 3.2 1.1 6.4 2.9 3.2 1.2 3.2 .7 7.9 .5 4.8 .9 3.2 1.1 7.9 3.6 3.2 .8 1.6 .2 3.2 0 6.3-.8 3.2-.1 4.8 .6 6.4 1.8 3.1 .6 3.2 .2 8-.3 3.2 .4 1.6 .4 3.1 1.3 9.6 5.6 3.2 1.2 1.6 .3 3.1 .4 6.4 0 3.2 .4 9.5 2.3 3.2 .4 4.8-.2 7.9-1.2 3.2 0 3.2 .7 8 3.2 3.2 .9 3.1 .6 8 .2 3.2 .3 3.2 .9 7.9 3.1 3.2 .9 1.6 .3 3.2 0 9.5-1.2 3.2 .2" stroke="#F4B183"/>
<path d="M131.8 345.9l4.8 .5 3.2 .9 7.9 5.7 3.2 1.7 3.2 1.2 3.2 .7 9.5 1 4.8 1.5 3.2 1.6 7.9 5.1 3.2 1.8 3.2 1.4 1.6 .4 4.8 .7 7.9 0 3.2 .2 3.2 .5 7.9 1.7 4.8 .6 3.2 0 7.9-.6 4.8 .2 1.6 .4 3.2 1.1 9.5 4.9 3.2 1.2 1.6 .3 3.2 0 3.2-.7 11.1-4.9 3.2-.8 1.6-.1 1.6 0 3.2 .3 7.9 1.6 3.2 .4 3.2 .1 7.9-.3 4.8 .2 3.2 .6 6.4 1.5 4.7 .5 3.2-.3 3.2-1 11.1-5.3 3.2-.9 1.6-.2 1.6 0 3.2 .4 9.5 2.8 3.2 .2 1.6-.1 1.6-.4 3.2-1.2 11.1-6 9.6-3.9 3.1-1.5 3.2-1.9 4.8-3.6 6.4-6 15.9-16.3 3.2-3.4 3.1-3.8 3.2-4.9 8-15.5 1.6-2.6 4.7-6.3 1.6-1.7 1.6-1.4 1.6-.8 1.6-.2 1.6 .4 1.6 .6 3.2 2.1 3.2 2.8 7.9 8.1 1.6 1.7 1.6 2.1 3.2 5.4 3.2 6.5 3.1 7.3 6.4 15.9 3.2 8.7 4.8 14.6 11.1 35.9 3.2 10.9 7.9 30.1 12.8 50.8 1.6 5.2 1.6 4.1 1.6 3.4 1.5 3.2 1.6 2.6 1.6 1.4 1.6-.2 1.6-1.7 1.6-2.9 3.2-7.5 1.6-5.5 1.6-7.4 1.6-8.7 4.7-28.7 9.6-52.9 3.2-16.4 3.1-15.5 4.8-16.7 3.2-9.5 1.6-4 3.2-6.2 3.2-4.9 1.5-1.8 1.6-1.3 1.6-.9 4.8-1.2 1.6-.7 1.6-1.2 1.6-1.6 4.7-5.9 1.6-1.7 1.6-1.3 1.6-.8 1.6-.3 1.6 0 4.8 .6 1.6 0 6.3-1.4 1.6-.1 1.6 .2 1.6 .5 4.8 2.2 1.6 .5 1.6 .1 1.6-.2 6.3-2.4 1.6-.2 1.6 .3 1.6 .8 4.8 3.2 1.6 .8 1.6 .5 1.5 0 1.6-.4 4.8-2.5 3.2-1.2 1.6-.2 4.8-.3 1.5-.3 1.6-.6 4.8-2.3 1.6-.5 1.6-.1 1.6 .4 1.6 .8 6.3 5.8 1.6 1 1.6 .5 1.6 0 1.6-.4 4.8-2 1.6-.5 3.2-.2 4.7 .4 1.6-.2 6.4-1.8 1.6-.2 1.6 .2 1.6 .6 1.5 1 4.8 4 1.6 1 1.6 .6 1.6 .2 1.6-.2 4.8-1.5 1.6-.1 1.5 .1 1.6 .6 4.8 2.6 1.6 .7 1.6 .3 1.6 .1 4.8-.8 1.5-.2 1.6 .1 1.6 .3 4.8 1.9 1.6 .5 1.6 .2 1.6-.2 1.6-.5 4.7-2.1 1.6-.2 1.6 .2 1.6 .7 1.6 1 4.8 4.1 1.6 1 1.6 .7 1.6 .3 6.3 0 1.6 .3 1.6 .7 4.8 2.7 1.6 .8 1.6 .4 1.6 .1 1.5-.1 4.8-.8 1.6 .1 1.6 .5 1.6 .7 4.8 2.5 1.6 .4 1.5-.2 1.6-.5 6.4-4.3 1.6-.6 1.6-.2 1.6 .4 1.6 .7 6.3 4.2 6.4 2.8 1.6 1 1.6 1.2 6.3 5.7 1.6 .9 1.6 .4 1.6-.3 1.6-.7 4.8-3.7 1.6-1 1.6-.6 1.6-.2 1.5 .3 4.8 2 3.2 .9 4.8 .3 3.2 .5 3.1 1.7 4.8 3.1 1.6 .6 1.6 .2 1.6-.2 4.8-1.6 1.6-.4 1.5 0 1.6 .5 1.6 .9 4.8 3.7 1.6 1 1.6 .7 1.6 .2 1.6 0 4.7-.9 1.6 0 1.6 .2 6.4 2 1.6 .2 1.6-.2 6.3-2.2 1.6-.2 1.6 .2 1.6 .7 6.4 4.2 1.6 .7 1.6 .2 1.5-.1 4.8-1.2 1.6-.1 1.6 .1 1.6 .5 4.8 2.3 1.6 .6 1.6 .2 1.5 0 6.4-2.1 1.6-.2" stroke="#848484"/>
<path d="M131.8 301.6l8 .6 1.5 2.8 1.6 6 6.4 34.5 1.6 6.1 6.4 18.6 3.1 7.8 1.6 3.2 1.6 2.7 4.8 6.8 3.2 4.2 3.2 3.5 1.6 1.5 3.1 2.4 1.6 .8 3.2 .9 12.7 2.4 12.8 3.9 4.7 1.2 3.2 .4 9.6 .5 4.7 .5 4.8 1.1 8 2.3 4.8 .8 4.7 .3 8-.2 4.8 .4 3.1 .7 8 2.3 4.8 .9 4.7 0 9.6-1.6 4.8-.3 4.7 .4 8 1.5 4.8 .2 4.7-.6 8-1.8 4.8-.5 4.7 .4 9.6 2.3 3.2 .5 4.7 .1 9.6-.6 4.8 .3 4.7 1 11.2 3.2 11.1 1.8 4.8 1 12.7 4.1 4.8 1.2 4.8 .7 11.1 1.2 6.4 1.2 4.7 1.5 6.4 2.5 8 3.4 3.2 1.8 3.1 2.4 1.6 1.4 3.2 3.3 4.8 6.2 4.8 7.2 4.7 7.9 11.2 20 4.7 9 6.4 12.9 4.8 8.7 19.1 31.8 3.2 4.7 1.6 1.9 1.5 1.2 1.6-1.4 1.6-4.1 1.6-6.2 1.6-7.7 8-44.5 7.9-46.5 4.8-26.2 4.8-22.2 4.7-18.9 3.2-10.3 1.6-4.2 3.2-6.8 3.2-5.9 3.2-4.8 3.1-3.8 1.6-1.3 1.6-1.1 1.6-.7 1.6-.5 8-1.2 3.1-.7 4.8-1.6 9.6-3.9 3.2-.8 3.1-.4 3.2 0 8 1.3 4.7 .3 4.8-.3 8-1.2 3.2-.4 4.7 .1 9.6 1.3 4.8 .3 4.7-.3 8-.9 4.8-.2 4.7 .3 11.2 1.4 14.3 .6 4.8 .7 9.5 2.3 4.8 .9 4.8 .5 7.9 .5 4.8 .7 11.1 2.7 4.8 1 4.8 .5 9.5 .7 3.2 .4 17.5 3.8 17.5 2.2 12.7 2.5 14.4 2.5 14.3 2.8 12.7 1.4 4.8 .8 11.1 2.7 4.8 .9 4.8 .5 9.5 .1 4.8 .5 4.8 1 7.9 2 4.8 .8 4.8 .2 7.9-.3 4.8 .3 4.8 .8 7.9 1.8 4.8 .6 3.2 .1 9.5-.3 3.2 .1 4.8 .5 9.5 1.4 3.2 .3 4.8 .1" stroke="#D26012"/>
<path d="M131.8 345.3l4.8-1.8 1.6-.4 1.6-.2 3.1 2 8 6.4 3.2 2.2 3.2 1.7 7.9 2.5 3.2 1.5 3.2 2.1 6.3 5 3.2 2 1.6 .8 3.2 1 6.4 .8 3.2 .6 3.1 1.1 6.4 2.8 3.2 .9 3.2 .2 7.9-1.1 3.2 0 1.6 .3 3.2 1 6.3 3.1 3.2 1.2 3.2 .6 9.6 .3 3.1 .7 6.4 2 3.2 .5 1.6 0 3.2-.5 7.9-2.9 3.2-.6 3.2 0 7.9 1.5 3.2 .1 3.2-.4 6.4-1.3 3.1-.2 3.2 .4 6.4 1.6 3.2 .3 1.6-.1 3.2-.7 6.3-2.4 3.2-.9 3.2-.5 7.9-.2 3.2-.8 3.2-1.5 6.4-3.8 3.1-1.5 3.2-1 8-1.1 3.2-.9 3.2-1.5 6.3-4.2 3.2-1.8 8-3.1 3.1-1.6 3.2-2.2 1.6-1.5 3.2-3.6 6.4-8.3 3.1-3.7 6.4-5.9 3.2-3.3 3.2-3.9 7.9-10.3 3.2-2.9 3.2-2.2 1.6-.8 1.6-.5 1.6-.3 1.6 .1 1.5 .3 6.4 2.1 9.6 2.2 3.1 1.3 1.6 1 1.6 1.2 3.2 3.6 15.9 24.1 3.2 5.3 1.6 3.1 3.2 7.1 11.1 28.5 11.2 25.9 4.7 12.5 9.6 26.9 3.2 8.3 1.6 3.5 1.5 3 1.6 2.2 4.8 5.2 1.6 1.2 1.6 .7 1.6-.3 1.6-1.4 1.6-2.2 3.1-5.6 1.6-4.5 1.6-6.3 1.6-7.6 4.8-25.7 8-40.3 3.1-15 3.2-13 3.2-11 4.8-15.8 3.2-9.2 1.5-3.7 4.8-8.5 3.2-4.5 1.6-1.7 1.6-1.4 1.6-1.1 1.6-.7 7.9-2.4 3.2-1.5 6.4-3.4 3.2-1.2 1.5-.2 3.2 .2 8 2.4 3.2 .4 3.1-.3 6.4-1.4 3.2-.4 3.2 .2 7.9 1.8 3.2 .2 3.2-.4 6.4-2 3.1-.6 3.2-.1 8 1.4 3.2 .2 3.2-.3 6.3-1.3 3.2-.1 3.2 .7 3.2 1.3 6.3 3 3.2 .9 3.2 .2 6.4-.5 3.1 .1 3.2 .5 6.4 1.8 3.2 .4 3.2-.2 7.9-1.7 3.2 0 1.6 .3 3.2 1.2 6.3 3.5 3.2 1.4 3.2 .8 6.4 .9 3.1 .8 3.2 1.3 6.4 3.2 3.2 1.1 3.2 .3 3.1-.4 6.4-1.3 3.2 0 1.6 .2 3.2 .9 4.7 1.8 3.2 .9 3.2 .4 6.4 .2 3.1 .7 3.2 1.3 9.6 5.6 3.2 1.1 3.1 .3 6.4-.2 3.2 .2 3.2 .7 6.3 2.2 3.2 .6 3.2 0 8-1.2 3.1 .2 1.6 .4 3.2 1.3 6.4 3.4 3.2 1.3 3.1 .8 6.4 .8 3.2 .8 3.2 1.3 6.3 3.3 3.2 1 1.6 .3 3.2-.2 7.9-1.9 3.2-.2 1.6 .1 3.2 .7 4.8 1.6 3.2 .7 3.1 .3 6.4 .3 3.2 .6 3.2 1.3 7.9 4.4 3.2 1.1 1.6 .3 3.2-.1 6.4-1.3 3.1-.3 3.2 .2 3.2 .6" stroke="#327DC2"/>
<path d="M131.8 185.1l3.2 .5 3.2-.2 1.6 .9 4.7 17.9 11.2 39.8 11.1 41.7 4.8 16.5 4.8 14.7 4.7 13.4 6.4 16.3 4.8 11.1 3.2 6.6 3.1 5.7 3.2 4.8 3.2 3.8 4.8 4.5 9.5 7.2 4.8 3 3.2 1.5 1.6 .6 1.6 .3 3.1 .2 8-.8 3.2 .1 1.6 .3 1.6 .5 3.1 1.5 6.4 4.3 3.2 1.8 3.2 1.2 1.6 .3 1.6 0 3.1-.4 8-2.2 3.2-.4 3.2 .2 7.9 1.6 3.2 0 1.6-.4 3.2-1.3 3.2-2 6.3-4.8 3.2-1.9 1.6-.6 1.6-.5 3.2-.5 7.9-.1 3.2-.5 1.6-.4 3.2-1.3 7.9-4.1 3.2-1.3 3.2-.9 6.4-1.4 3.1-1 1.6-.7 3.2-1.8 12.8-9.4 11.1-6.6 3.2-2.5 1.6-1.5 3.1-3.6 9.6-12.8 3.2-3.8 1.6-1.6 3.2-2.8 6.3-4.6 3.2-3.2 1.6-2 3.2-4.7 9.5-16.2 3.2-4.3 1.6-1.5 1.6-1.2 1.6-.9 3.2-1.2 4.7-.9 8-.7 3.2 0 3.2 .6 3.1 1.2 3.2 2 3.2 2.9 1.6 2 1.6 2.7 1.6 3.4 4.7 12.5 8 22.7 3.2 9.8 6.4 21.6 6.3 23.9 17.5 76.2 3.2 12.4 1.6 4.6 3.2 7.7 1.6 2.8 1.6 1.1 1.6-.3 1.5-1.1 1.6-1.8 1.6-2.3 1.6-2.5 1.6-3.3 1.6-5 3.2-13.5 6.3-33.1 9.6-46.7 3.2-14.5 3.2-12.8 1.6-5.6 1.5-4.6 8-27.4 3.2-9.6 1.6-4.1 3.2-6.5 3.1-5.3 1.6-2.1 1.6-1.7 1.6-1.3 1.6-.8 1.6-.3 1.6 0 1.6 .4 4.7 1.8 3.2 .8 1.6 .2 3.2-.3 3.2-1 6.4-2.8 3.1-1.1 3.2-.6 8-.4 3.2-.6 1.5-.5 3.2-1.4 6.4-3.7 3.2-1.6 3.2-1 1.6-.2 1.5 .1 3.2 .7 3.2 1.4 4.8 2.5 3.2 1.5 1.6 .5 3.1 .7 3.2 .2 6.4-.1 3.2 .2 9.5 1.7 3.2 .3 3.2-.2 7.9-1.4 3.2-.2 3.2 .4 9.5 3.2 3.2 .5 1.6-.1 3.2-.8 8-3.7 3.1-.9 1.6-.1 1.6 .2 1.6 .5 3.2 1.9 3.2 2.6 6.3 5.9 3.2 2.2 3.2 1.3 3.2 .5 8-.4 3.1 .2 4.8 1.1 8 2.7 3.1 .6 1.6 0 3.2-.2 8-1.5 3.2 0 1.6 .2 3.1 .9 8 3.5 3.2 1 3.2 .7 7.9 .8 3.2 .6 3.2 .8 9.5 3.2 11.2 2.7 4.7 1.9 9.6 5.5 3.2 1.3 1.6 .4 1.5 .1 3.2-.4 3.2-1.2 6.4-3.7 3.2-1.4 1.6-.4 1.5-.2 1.6 .1 1.6 .3 3.2 1.5 8 5.6 3.1 1.8 1.6 .7 3.2 .9 8 1 3.2 .8 3.1 1.3 8 4.3 3.2 1.2 1.6 .3 1.6 .1 3.1-.2 8-1.6 3.2-.2 3.2 .3 7.9 1.7 3.2 .3 1.6-.1 3.2-.5 7.9-2 3.2-.3 3.2 .3" stroke="#335AA1"/>
<path d="M131.8 386.6l8 1.3 3.1 2.3 3.2 2 15.9 9 3.2 1.6 11.2 4.9 11.1 5.8 4.8 1.8 14.3 4.4 3.2 .8 3.2 .6 11.1 1.1 11.1 2.3 9.6 1.2 9.5 1.9 4.8 .6 3.2 0 9.5-.8 8-.3 12.7-1.5 3.2 0 9.5 .6 11.2-.3 9.5 .1 3.2-.4 3.2-.7 4.8-1.6 9.5-3.5 4.8-2 9.5-5 4.8-2 12.7-3.4 14.4-4.3 4.7-1.8 3.2-1.7 3.2-2.2 15.9-12.7 3.2-3.1 9.5-10.8 3.2-3 3.2-2.4 3.2-1.8 7.9-3.2 3.2-1.1 3.2-.5 1.6-.1 3.2 .6 4.8 2.1 11.1 6.1 1.6 1.1 1.6 1.4 1.6 1.7 3.2 4.2 11.1 17.6 3.2 5.8 3.2 6.4 7.9 18.4 15.9 40.7 6.4 17.2 1.6 3.7 1.6 2.9 3.2 4.7 1.6 1.8 1.5 .8 1.6-.3 1.6-1.3 1.6-2 3.2-5.3 1.6-3 1.6-4.4 3.2-11.8 6.3-27.9 9.6-39.7 4.8-18.4 3.1-10.3 4.8-14.2 3.2-8.6 3.2-7.2 1.6-2.9 1.6-2.3 4.7-5.6 4.8-4.5 4.8-3.4 3.2-1.6 4.7-1.8 12.8-3.3 9.5-3.8 3.2-.7 3.2-.1 3.2 .6 7.9 2.7 3.2 .8 14.3 1.8 3.2 .2 3.2-.4 3.2-.9 7.9-4.1 3.2-1.3 1.6-.4 3.2-.3 1.6 .1 3.2 .6 3.1 1 12.8 4.4 3.1 .9 4.8 .8 17.5 1.5 9.6 0 3.2 .2 3.1 .4 6.4 1.5 3.2 .4 3.2 0 7.9-.8 3.2 .2 1.6 .4 3.2 1.4 7.9 4.7 3.2 1.5 3.2 1.1 12.7 3.3 3.2 .7 3.2 .3 3.2-.1 9.5-1.3 3.2 0 4.8 .6 4.8 1.1 12.7 3.8 11.1 2.6 4.8 1.8 8 3.9 3.1 1.1 1.6 .3 3.2 .3 9.6-.6 11.1 .6 6.4-.3 3.1 0 3.2 .6 1.6 .6 3.2 1.6 8 4.9 3.1 1.4 3.2 .7 3.2 .3 9.5 .3 11.2 1.2 6.4 .9 12.7 2.2 11.1 1.5 4.8 0 8-.6 3.1 .1 3.2 .6 3.2 1.1" stroke="#4472C4"/>
<path d="M131.8 192.2l6.4-.2 1.6 .9 17.5 62.5 7.9 26.5 4.8 14 4.8 12.6 6.3 15.4 4.8 10.2 3.2 5.8 1.6 2.5 1.6 2.3 3.2 3.7 3.1 2.8 6.4 5.3 6.4 6.2 3.1 2.8 3.2 1.9 1.6 .6 1.6 .3 1.6 0 6.4-1 3.1 .1 3.2 1.1 8 4.4 1.6 .5 1.6 .2 1.6 0 1.6-.3 6.3-2.1 1.6-.3 1.6 0 1.6 .3 1.6 .6 6.3 4 1.6 .8 1.6 .5 1.6 .2 1.6-.3 1.6-.6 1.6-.9 4.8-3.5 1.6-1 1.6-.7 1.5-.4 1.6 0 1.6 .3 6.4 2.6 1.6 .4 1.6 .1 1.6-.2 1.6-.6 1.5-.8 4.8-3.2 1.6-.8 1.6-.5 1.6-.1 1.6 .3 1.6 .6 6.3 3.7 1.6 .6 1.6 .3 1.6-.2 1.6-.7 1.6-1 6.4-5.9 1.6-1.3 1.5-.9 1.6-.6 1.6-.2 1.6 .1 6.4 1.5 1.6 .1 1.6-.3 1.6-.6 1.5-1 6.4-5.3 3.2-2 1.6-.6 1.6-.2 1.6 0 4.7 .6 1.6 0 1.6-.2 1.6-.5 1.6-.9 3.2-2.7 6.4-7.3 3.1-2.8 3.2-1.8 6.4-2.1 1.6-.7 3.2-2.2 3.1-3.4 8-10.5 6.4-7.2 14.3-14.5 4.8-3.9 3.1-2 1.6-.6 1.6-.4 1.6 0 1.6 .1 1.6 .5 1.6 .8 4.8 3.1 4.7 3.9 3.2 2.9 3.2 3.1 1.6 2 1.6 2.6 3.2 7.1 1.6 4.3 3.1 9.7 8 27.7 3.2 12.7 3.2 14.2 15.9 75 4.7 23.8 14.4 74 1.6 7.4 1.6 6.4 1.5 5 3.2 8.2 1.6 3.4 1.6 2.4 1.6 .6 1.6-.7 1.6-1.6 1.6-2.4 1.6-2.9 1.6-3.2 1.5-3.8 1.6-5.8 1.6-7.7 1.6-9.1 8-54.4 6.3-39.2 3.2-18.5 3.2-16.7 8-38.5 6.3-32.6 3.2-13.5 1.6-5.2 1.6-4.1 1.6-3 1.6-2.5 15.9-20.3 4.8-5.2 1.6-1.3 1.5-.9 1.6-.6 1.6-.1 1.6 .3 6.4 2.9 1.6 .4 1.6 0 1.6-.5 1.5-1 4.8-4.1 1.6-1.1 1.6-.8 1.6-.2 1.6 .2 1.6 .7 4.8 3.4 1.5 .8 1.6 .5 1.6 0 1.6-.5 1.6-.9 6.4-4.9 1.6-.9 1.6-.4 1.5-.2 1.6 .2 1.6 .6 6.4 3.4 3.2 1.5 1.6 .4 1.6 .2 1.6-.1 1.5-.5 6.4-3 1.6-.5 1.6-.2 1.6 .3 1.6 .6 1.6 .9 4.7 3.6 1.6 .8 1.6 .5 1.6 0 1.6-.4 6.4-3.2 1.6-.4 1.5 .1 1.6 .4 1.6 .9 6.4 4.5 1.6 .9 1.6 .5 3.2 .4 7.9-.7 3.2 0 3.2 .3 4.8 1.1 7.9 3.3 3.2 .8 3.2 .1 4.8-.4 1.5 0 3.2 .7 4.8 2 3.2 1.1 3.2 .3 4.7-.3 3.2 .3 3.2 1.2 6.4 3.5 3.2 1.1 4.7 1 3.2 1 6.4 3.3 3.2 1.2 1.5 .3 3.2-.2 6.4-1.7 3.2-.5 3.2 0 4.7 .9 3.2 1.1 6.4 3.1 3.2 1.3 3.1 .5 6.4-.2 1.6 .2 1.6 .5 3.2 2.1 4.7 3.9 1.6 1 1.6 .6 1.6 .1 1.6-.3 6.4-2.8 1.6-.3 1.6 .1 1.6 .6 1.5 .9 6.4 5.2 1.6 1 1.6 .8 1.6 .4 1.6 .1 1.6-.2 1.6-.3 6.3-2.1 1.6-.4 1.6-.1 1.6 .2 1.6 .4 1.6 .8 7.9 5.7 1.6 .7 1.6 .3 1.6-.1 1.6-.5 4.8-2.5 1.6-.5 1.6-.2 1.5 .4 1.6 .9 1.6 1.3 4.8 4.8 1.6 1.3 1.6 .7 1.6 .2 1.6-.3 1.6-.7 4.7-3.1 1.6-.8 1.6-.5 1.6 0 1.6 .3 1.6 .7 6.4 4.3 3.1 1.8 3.2 1 1.6 .1 1.6-.2" stroke="#FFD34D"/>
<path d="M131.8 252.8l3.2 .6 3.2 .1 1.6 .7 14.3 37.5 11.1 30.6 4.8 12.5 3.2 7.4 3.2 6.5 3.1 5.4 3.2 4.4 3.2 3.7 3.2 3.1 9.5 8.3 6.4 5.1 4.8 2.9 3.2 1.3 3.1 .8 11.2 1.8 3.2 .9 7.9 2.9 3.2 .8 1.6 .2 1.6 .1 3.2-.4 3.1-1 6.4-2.5 3.2-.7 1.6-.1 1.6 0 3.2 .9 3.1 1.5 4.8 2.7 1.6 .7 1.6 .4 1.6 .2 1.6 0 1.6-.4 3.2-1.5 3.1-2.4 6.4-5.7 3.2-2.3 1.6-.7 1.6-.5 1.6-.1 1.5 .2 3.2 1.1 4.8 2.7 3.2 1.4 1.6 .4 1.6 .1 1.6-.2 1.6-.6 1.5-.9 1.6-1.2 3.2-3.2 6.4-7.2 3.2-2.7 1.6-.9 1.5-.6 1.6-.3 1.6-.1 1.6 .2 6.4 1.5 1.6 .2 1.6 0 1.6-.3 1.5-.6 1.6-1 3.2-2.8 9.6-11.4 3.2-3.1 1.5-1.2 3.2-1.7 8-2.3 1.6-.6 3.2-2 3.1-3.2 3.2-4.2 9.6-15.2 3.2-4.1 3.1-3.1 8-5.3 3.2-2.9 1.6-1.9 1.6-2.2 3.1-5.2 8-15.8 3.2-5.6 3.2-4 1.5-1.6 1.6-1.1 1.6-.9 1.6-.4 1.6 0 1.6 .3 3.2 1.3 7.9 5.2 3.2 1.7 3.2 1.2 4.8 1.4 1.6 .7 1.6 1.6 1.6 2.4 1.5 3.3 1.6 4.2 1.6 5 3.2 11.8 6.4 27.9 9.5 45.5 3.2 13.6 8 31.7 4.7 21.6 6.4 32.9 6.4 38 1.6 8.3 1.6 6.8 3.1 10.7 1.6 3.9 1.6 2 1.6-.6 1.6-2.6 1.6-4.2 3.2-11 1.6-8.1 1.6-10.4 6.3-47.9 9.6-61.3 3.2-18 1.5-7 4.8-24.4 3.2-15.1 1.6-6.5 1.6-5.4 1.6-4.4 3.2-7.9 3.1-6.3 1.6-2.5 1.6-2 1.6-1.4 1.6-.9 3.2-1 4.8-.9 3.1-.9 3.2-1.5 4.8-3 3.2-1.7 3.2-.9 3.1-.4 3.2 .2 3.2 .8 3.2 1.3 7.9 4.2 3.2 1.1 1.6 .2 1.6 0 1.6-.4 1.6-.6 3.2-2 6.3-4.6 3.2-1.5 3.2-.6 1.6 .1 3.2 .7 3.2 1.2 7.9 3.9 3.2 1 1.6 .2 1.6 0 3.2-.8 6.3-2.9 1.6-.6 1.6-.4 1.6-.1 1.6 .2 3.2 1.2 6.3 3.8 3.2 1.7 3.2 1 1.6 .3 1.6 0 3.2-.3 3.2-.8 7.9-3.2 3.2-.6 1.6 0 1.6 .2 3.2 1.1 6.3 3.2 3.2 1.3 11.1 2.6 9.6 3.8 3.2 .9 3.2 .6 4.7 .2 4.8-.3 8-1.1 3.1 0 1.6 .3 3.2 1.1 9.6 5.3 3.2 1 3.1 .3 6.4 0 4.8 .6 6.3 1.7 11.2 3.8 4.7 1.2 3.2 .2 9.6-.6 3.2 .4 11.1 3.6 11.1 1.8 6.4 1.7 8 2.3 9.5 3.6 3.2 .9 1.6 .3 3.2-.1 3.1-.7 4.8-1.4 3.2-.6 1.6-.1 3.2 .3 3.2 .9 3.1 1.4 3.2 2 8 5.9 3.2 1.7 1.6 .5 1.5 .1 1.6-.1 1.6-.5 1.6-.8 6.4-4 1.6-.8 1.6-.5 1.6-.3 1.5 .1 1.6 .3 3.2 1.5 3.2 2.2 6.4 4.8 3.2 1.8 1.5 .5 1.6 .1 1.6-.1 1.6-.5 3.2-1.7" stroke="#ED7D31"/>
<path d="M131.8 221.4l4.8-3 1.6-.7 1.6 .6 3.1 10.7 8 31.4 3.2 10.8 3.2 9 6.3 16.8 3.2 9.6 4.8 15.5 3.2 9.3 1.6 3.9 1.5 3.3 1.6 2.7 1.6 2.1 1.6 1.8 6.4 6 3.2 4.1 4.7 6.8 1.6 1.9 1.6 1.4 1.6 1 1.6 .5 1.6 0 6.4-1.7 1.6-.1 1.5 .3 1.6 .7 1.6 1.1 4.8 4.1 1.6 1.1 1.6 .7 1.6 .4 1.6-.1 1.6-.4 4.7-2.2 1.6-.5 1.6-.1 1.6 .3 1.6 .6 6.4 3.9 1.6 .6 1.5 .2 1.6-.2 1.6-.6 6.4-4 1.6-.5 1.6-.2 1.6 .3 1.6 .7 4.7 3.2 1.6 .7 1.6 .1 1.6-.5 1.6-1 6.4-5 1.6-.8 1.5-.5 1.6-.2 1.6 .3 6.4 2.8 1.6 .3 1.6 0 1.6-.5 1.6-.9 1.5-1.2 4.8-4 1.6-.9 1.6-.5 1.6 0 1.6 .4 4.8 2.3 1.6 .7 1.5 .4 1.6 0 1.6-.4 1.6-.7 4.8-3 1.6-.8 1.6-.4 1.6-.1 1.6 .3 6.3 2.8 1.6 .3 1.6-.1 1.6-.6 1.6-1 6.3-6.3 1.6-1.3 1.6-.9 1.6-.5 1.6-.1 6.4 1.3 1.6 0 1.6-.4 1.6-.8 1.5-1.1 4.8-4.2 1.6-1.2 1.6-.9 1.6-.4 1.6-.1 1.6 .2 4.7 1.2 1.6 .1 1.6-.4 1.6-.9 1.6-1.3 1.6-1.7 4.8-5.9 1.6-1.7 1.6-1.3 1.6-.9 1.5-.5 6.4-.2 1.6-.5 1.6-.9 1.6-1.2 1.6-1.7 6.3-7.6 1.6-1.3 1.6-.9 1.6-.5 1.6-.1 4.8 .9 1.6 .1 1.6-.2 1.5-.7 1.6-1.2 6.4-6.9 1.6-1.3 1.6-1 1.6-.4 1.6 .2 1.6 .6 1.6 1.1 6.3 6 1.6 1.3 4.8 2.7 1.6 1.1 1.6 2 1.6 2.8 1.5 3.7 3.2 9.5 8 27.8 9.5 28.9 3.2 10.5 3.2 12.1 9.5 42.2 11.2 41.1 1.6 5 4.8 13.1 1.5 2.9 1.6 1.2 1.6 .4 1.6-.3 1.6-1.2 1.6-1.9 3.2-5.3 1.6-3.5 3.2-8.8 6.3-19.2 8-21.5 3.2-10.3 6.3-23 3.2-10 1.6-4.1 1.6-3.5 1.6-3 6.3-9.6 3.2-6.2 8-19.6 1.6-3.4 1.6-2.8 1.6-2.1 1.5-1.5 1.6-1 1.6-.7 4.8-1.5 1.6-.7 1.6-1 4.8-3.9 1.6-1.1 1.5-.8 1.6-.3 1.6 .1 1.6 .6 4.8 2.6 1.6 .5 1.6 .1 1.6-.4 1.6-1 1.5-1.5 4.8-5 1.6-1.3 1.6-.7 1.6-.1 1.6 .3 6.4 3.2 1.5 .4 1.6-.1 1.6-.5 1.6-.9 4.8-3.4 1.6-.7 1.6-.4 1.6 .1 1.6 .6 1.5 1 6.4 4.8 1.6 .8 1.6 .4 1.6-.1 1.6-.4 1.6-.7 4.7-2.8 1.6-.8 1.6-.4 1.6-.2 1.6 .1 1.6 .5 6.4 2.9 1.6 .4 1.5 .1 1.6-.2 1.6-.6 4.8-2 1.6-.5 1.6 0 1.6 .3 1.6 .7 4.7 3.3 1.6 1 1.6 .6 1.6 .3 1.6-.1 6.4-2.3 1.6-.1 1.6 .3 1.5 .7 1.6 1.1 4.8 3.7 1.6 .7 1.6 .1 1.6-.6 1.6-1 4.7-4.9 1.6-1.3 1.6-.9 1.6-.1 1.6 .5 1.6 1.2 1.6 1.6 4.8 5.7 1.6 1.5 1.6 1 1.5 .5 1.6 .1 1.6-.2 4.8-1.3 1.6-.1 1.6 .1 3.2 1 4.7 2 1.6 .4 1.6 .1 1.6-.1 1.6-.4 8-4 1.6-.4 1.5-.1 1.6 .2 1.6 .6 1.6 .9 4.8 3.5 3.2 1.9 1.6 .5 1.6 .3 6.3 0 1.6 .2 1.6 .6 1.6 .8 4.8 3.3 1.6 .8 1.5 .4 1.6 0 1.6-.7 1.6-1.1 4.8-4.4 1.6-1.2 1.6-.5 1.6 0 1.6 .8 1.6 1.2 4.7 5.2 1.6 1.3 1.6 .9 1.6 .2 1.6-.3 1.6-.7 4.8-2.9 1.5-.4 1.6 .1 1.6 .6 1.6 1.1 4.8 4.5 1.6 1.3 1.6 .9 1.6 .5 1.6 0 1.6-.4 6.3-2.8 1.6-.4 1.6-.2 3.2 .5 4.8 1.4 3.1 .7 1.6 .1 6.4-.4 1.6 .1 1.6 .3 1.6 .5 1.6 .8 7.9 5.8 1.6 .8 1.6 .4 1.6-.1 1.6-.5 1.6-.9 4.7-3.6 1.6-.9 1.6-.6 1.6 0 1.6 .4 1.6 .8 4.8 3.2 1.6 .7 1.6 .2 1.5-.2 1.6-.7 4.8-2.9 1.6-.5 1.6 0 1.6 .6 1.6 1.3 6.3 7.6 1.6 1.4 1.6 .8 1.6 .1 1.6-.5 1.6-1.1" stroke="#698ED0"/>
<path d="M131.8 290.2l3.2-.3 3.2-.5 1.6 .3 19.1 38 4.7 8.7 4.8 7.6 4.8 6.5 11.1 13.7 14.3 18.8 3.2 3.5 3.2 3.1 4.8 3.4 4.7 2.4 11.2 4.5 11.1 5.5 4.8 1.9 4.8 1 9.5 .3 4.8 .5 4.8 1.3 7.9 3.2 4.8 1.3 3.2 .3 3.2-.3 3.1-.6 6.4-1.8 4.8-.8 4.8 0 7.9 1.1 4.8 .2 3.2-.2 9.5-1.4 3.2-.2 3.2 .1 3.2 .6 9.5 3 3.2 .7 4.8 .4 4.7-.5 9.6-2.4 4.8-.8 4.7-.2 11.2 .5 3.2-.3 1.5-.6 1.6-1 3.2-2.5 8-8.1 9.5-8.6 4.8-5.1 3.2-4.2 3.2-5.1 3.1-6.7 3.2-8.3 3.2-9.5 6.4-20.9 1.6-5.6 6.3-25.9 1.6-5.3 1.6-4 3.2-6.9 1.6-2.5 1.6-1.3 1.6 .1 3.2 1 4.7 2.7 3.2 2.3 3.2 2.7 1.6 2.2 1.6 2.9 1.6 3.5 3.1 8.3 6.4 19.9 3.2 11.5 14.3 57.8 11.2 45.6 4.7 20.7 1.6 5.9 1.6 4.6 3.2 7.6 1.6 2.4 1.6 .4 1.6-.4 1.6-.9 1.6-1.4 1.5-1.8 3.2-4.3 1.6-2.6 1.6-3.6 3.2-9.1 9.5-32.7 9.6-27.7 6.4-17.8 1.5-6.3 3.2-7.5 9.6-20.6 4.7-9.5 3.2-5.3 3.2-3.9 4.8-4.8 4.8-3.9 4.7-3.3 4.8-2.6 8-3.2 4.7-1.5 3.2-.7 4.8-.7 15.9-1 6.4 .1 12.7 1.1 4.8 .1 4.7-.5 11.2-2.4 4.8-.3 3.1 .2 3.2 .6 11.2 3.5 4.7 .9 4.8 .1 11.1-1.3 4.8 .2 4.8 1 8 2.5 4.7 1.1 4.8 .4 8-.1 4.7 .6 4.8 1.7 11.1 5.9 3.2 1.1 1.6 .4 1.6 .2 3.2-.1 11.1-2.1 3.2-.1 3.2 .4 3.2 .9 9.5 3.7 4.8 1.5 3.2 .6 9.5 1.2 4.8 1.1 4.8 1.6 9.5 3.8 4.8 1.3 3.2 .5 3.2 .1 12.7-.7 3.2 .2 3.2 .5 4.7 1.1 11.2 3.2 11.1 2 4.8 1.1 4.8 1.5 11.1 4.1 3.2 .8 3.2 .5 3.1 .2 11.2 .3 12.7 1 4.8 .1 9.5-.3 4.8 .4 3.2 .8 3.2 1 9.5 4.1 3.2 1.1" stroke="#F2A46F"/>
<path d="M131.8 374l8 .9 14.3 5.6 11.1 3.7 11.2 3 7.9 1.3 3.2 .2 4.8 0 4.7-.5 12.8-1.8 3.2-.2 3.1 .1 3.2 .3 4.8 1.1 11.1 3.8 4.8 1.3 4.8 .8 3.2 0 3.1-.3 4.8-1.2 11.2-4 3.1-1 4.8-.9 3.2-.2 3.2 .2 4.8 1 11.1 3.5 4.8 1.2 3.1 .4 3.2 0 4.8-.7 3.2-.9 3.2-1.3 12.7-6.5 6.4-2.7 3.1-.9 4.8-1 14.3-1.1 6.4-1.2 3.2-.9 4.8-1.9 3.1-1.5 4.8-2.7 6.4-4 6.3-4.5 4.8-3.7 6.4-5.5 19.1-17.9 7.9-7.2 4.8-5 9.6-10.5 3.1-3.2 3.2-2.7 11.2-8.4 3.1-2 1.6-.7 1.6-.6 1.6-.2 1.6 .1 1.6 .4 1.6 .7 1.6 .9 3.2 2.6 4.7 5.1 1.6 2.2 1.6 3.1 3.2 8 4.8 15.5 6.3 23.6 4.8 20.4 12.7 60.6 9.6 46.8 9.5 45.4 1.6 6.8 1.6 5.7 3.2 8.4 1.6 3.5 1.6 2.1 1.6-.1 1.6-2 1.6-3.3 3.1-8.5 1.6-6.8 1.6-9.1 1.6-10.7 4.8-34.5 11.1-75.6 3.2-18 4.8-24.2 3.2-14.5 1.6-6.2 1.6-5.2 3.1-8.1 3.2-6.6 1.6-2.7 1.6-2.1 1.6-1.7 1.6-1.3 6.3-3.9 6.4-4.5 3.2-1.6 1.6-.5 3.2-.4 4.7 .3 3.2-.1 6.4-1.2 3.2-.2 3.2 .3 6.3 1 3.2 0 4.8-.5 3.2 0 3.1 .6 6.4 1.8 3.2 .1 9.5-1.7 9.6 .1 3.2-.6 6.3-2.1 3.2-.4 3.2 .4 8 2.1 7.9 1.2 3.2 1 7.9 3.8 3.2 .7 9.6-.1 6.3 .8 3.2 .1 3.2-.5 6.4-1.4 3.2 .1 3.1 .8 6.4 2.4 8 1.5 1.6 .5 3.1 1.4 6.4 3.8 3.2 1.3 1.6 .4 7.9 .6 3.2 .6 4.8 1.3 3.2 .4 3.2-.2 6.3-1.1 3.2 .1 9.5 2.2 8 .7 1.6 .4 3.2 1.3 6.3 3.5 3.2 1.3 9.6 1.9 6.3 2.4 3.2 1 3.2 .3 6.4-1 3.1-.3 3.2 .4 6.4 1.2 3.2 0 4.8-.4 3.1 .2 3.2 1 8 4.1 3.2 1.1 6.3 1.7 3.2 1.3 6.4 3.1 3.1 .8 3.2 .1 8-.9 7.9 .3 3.2-.4 6.4-1.6 3.2-.2 1.6 .2 3.1 1 6.4 2.6 9.6 2.1 3.1 1.4 4.8 2.7 3.2 1.3" stroke="#8CC168"/>
<path d="M131.8 230l8-.1 1.5 4.3 1.6 9.2 1.6 12.6 4.8 41.7 1.6 9.9 4.8 23.1 3.2 14 3.1 11.3 1.6 4.3 3.2 7.2 3.2 6.4 3.2 5.5 3.2 4.5 1.5 1.8 3.2 2.8 11.2 5.5 12.7 5.5 4.8 1.8 3.2 1 6.3 1.2 6.4 .3 6.3-.2 25.5-1.9 4.8 0 4.8 .5 4.7 1.2 8 2.8 14.3 6.3 6.4 3.1 4.7 2.9 4.8 3.1 6.4 4.7 6.4 5 14.3 12.2 17.5 17.6 12.7 11.4 4.8 3.9 4.8 3.5 19 13.1 12.8 9.5 6.3 5.4 4.8 4.4 6.4 7.5 1.6 1.6 1.6 1.1 1.6 .5 1.5-.4 1.6-1.4 1.6-1.7 1.6-2.3 1.6-3 4.8-12.4 4.8-14.5 14.3-49.7 6.3-21 1.6-4.7 3.2-7.4 6.4-12.1 1.6-3.5 1.6-4 1.6-5 1.5-6.5 4.8-22.5 1.6-6.1 1.6-5.1 1.6-4.4 1.6-3.5 1.6-2.7 1.6-1.8 1.6-.7 1.6 .6 1.5 1.8 1.6 2.7 1.6 3.6 3.2 8.8 3.2 10.7 1.6 6.4 3.2 15 3.1 19.1 1.6 11.5 3.2 27.2 6.4 58.9 3.2 25.9 1.6 11.5 1.6 9.7 1.5 7.3 1.6 2.4 1.6-3.8 1.6-8.5 1.6-11.4 3.2-27.5 4.8-48.7 3.1-30.1 4.8-35.6 3.2-20.2 1.6-8.4 1.6-6.9 3.2-10.4 3.2-8.4 1.5-3.4 1.6-2.8 1.6-2.1 1.6-1.5 4.8-1.9 6.4-2 6.3-1.1 23.9-.9 4.8 0 12.7 .7 22.3-.4 30.2 .2 11.1-.2 4.8 .2 4.8 .5 20.7 2.5 6.3 1 16 4.2 23.8 4.3 12.8 2.7 14.3 3.4 14.3 2.5 19.1 4.5 15.9 3.3 17.5 4.5 9.6 2 12.7 2.3 14.3 3.2 11.1 2.3 4.8 .8 14.3 1.7 22.3 3.8 12.7 1.2 17.5 2.2 17.6 1.1 9.5 1" stroke="#5B9BD5"/>
<path d="M131.8 314.9l8-.2 1.5 2.5 1.6 5.4 6.4 32 1.6 5.9 4.8 13.7 3.2 8.2 3.1 6.4 1.6 2.4 1.6 1.9 3.2 3.5 4.8 4.3 4.7 3.4 3.2 1.8 11.2 4.7 4.7 1.7 12.8 3.2 4.7 1 3.2 .5 3.2 .1 3.2-.1 11.1-1.1 4.8-.3 19.1-.2 6.4 .4 11.1 1.6 4.8 .2 4.8-.4 7.9-1.2 3.2-.3 4.8-.1 7.9 .1 6.4-.3 33.4-3.9 6.4 .1 9.5 1 4.8 0 4.8-.8 11.1-3 12.7-2.8 14.4-4.3 12.7-3 3.2-1 4.7-1.9 14.4-6.5 6.3-3.4 4.8-3.1 4.8-3.6 4.7-3.8 1.6-1.4 1.6-1.7 3.2-4.4 4.8-8.3 4.8-10 9.5-22.1 3.2-6.7 3.2-5.8 4.7-7.4 3.2-4.3 4.8-5.7 4.8-4.8 3.2-2.8 3.1-2.4 3.2-1.9 3.2-1.5 1.6-.5 1.6-.2 1.6 .4 1.6 .9 1.6 1.3 1.6 1.7 1.5 2.2 3.2 5.5 1.6 3.3 3.2 7.5 3.2 9 3.2 10.4 9.5 35.4 11.2 39.2 1.5 4.6 1.6 3.7 1.6 2.4 1.6 1.1 1.6-.5 1.6-1.3 3.2-3.3 9.5-11.8 9.6-12.6 3.2-3.5 3.1-2.6 3.2-1.9 1.6-.7 3.2-1 15.9-2.9 9.6-1 14.3 .1 9.5-.6 4.8-.1 4.8 .5 9.5 1.5 4.8 .3 3.2-.1 9.5-.9 6.4-.4 7.9-.1 6.4 .2 6.4 1 11.1 3 4.8 .8 4.8 .3 7.9-.1 3.2 .1 15.9 2.1 14.3 .4 11.2 .8 12.7 .5 4.8 .7 11.1 2.6 4.8 .8 11.1 1 9.6 1.3 4.7 .5 4.8 0 9.6-.5 4.7 .2 4.8 .8 12.7 2.7 16 2 6.3 .3 9.6-.5 4.7 0 4.8 .5 8 1.4 4.7 .5 4.8 0 8-.6 4.8 .1 4.7 .4 11.2 1.5 19.1 2 4.7 .2 6.4-.6" stroke="#255E91"/>
<path d="M131.8 323.8l6.4-.4 1.6 .3 4.7 6.2 12.8 18.2 6.3 8.8 4.8 6 4.8 5.4 3.2 3.1 3.1 2.7 4.8 3.2 4.8 2.4 3.2 1.2 3.2 .9 14.3 3 14.3 3.4 4.8 .7 3.1 .2 4.8 0 11.2-.8 4.7-.1 6.4 .2 12.7 1 6.4 .1 6.4-.3 15.9-1.4 6.3-.2 6.4 .5 14.3 1.9 6.4 .2 6.4-.6 12.7-2.7 6.3-.9 4.8-.2 11.2 .4 3.1-.2 3.2-.7 4.8-2 9.5-5.6 4.8-3.1 4.8-3.7 4.8-4.3 4.7-4.8 3.2-3.7 3.2-4.5 4.8-7.9 3.2-6 4.7-9.7 3.2-6.9 1.6-4 6.4-17.9 1.6-3.9 1.6-3.3 3.1-5.4 1.6-2.3 1.6-1.9 1.6-1 1.6-.1 1.6 .3 1.6 .6 3.2 2 3.2 2.8 6.3 7.2 1.6 2 1.6 2.4 3.2 6.2 3.2 7.3 9.5 24.5 3.2 8.8 3.2 9.6 11.1 37.6 6.4 23.7 11.1 42.8 4.8 19.2 3.2 11 1.6 4.2 1.6 3.5 1.6 3.3 1.5 2.8 1.6 1.6 1.6 .1 1.6-1.1 1.6-1.9 1.6-2.4 1.6-2.8 1.6-3.2 1.6-4.8 3.2-12.9 4.7-22.4 9.6-41.3 4.8-19.6 7.9-26.9 3.2-10 1.6-4.4 1.6-3.8 1.6-3.2 1.6-2.6 4.7-7 3.2-3.8 3.2-2.9 1.6-1 3.2-1.6 4.7-1.7 4.8-1.1 6.4-.5 6.3 0 9.6 .7 9.5 0 11.2-.3 15.9-1.2 7.9-.4 20.7-.4 8 .3 6.4 1 14.3 3.5 6.3 1 6.4 .3 14.3-.3 4.8 .3 4.8 .6 15.9 3.5 4.8 .9 17.5 2.1 4.7 .8 6.4 1.6 12.7 4.1 6.4 1.5 3.2 .3 3.2 .1 14.3-.6 3.2 .1 3.1 .4 4.8 1.1 9.6 2.9 4.7 1.2 4.8 .9 11.2 1.3 4.7 .7 6.4 1.6 11.1 3.2 6.4 1.4 3.2 .4 4.8 .3 15.9-.4 7.9 .5 3.2 .4 4.8 1 15.9 4.6 7.9 1.7 4.8 .6 6.4 .4 15.9 .3" stroke="#843C0B"/>
<path d="M131.8 292.7l8 1.9 1.5 3 1.6 6.2 6.4 35 1.6 6.1 6.4 19.2 3.1 8.5 1.6 3.7 1.6 3 3.2 5.2 3.2 4.4 1.6 1.9 3.2 3 1.6 1.1 3.1 1.7 8 2.5 9.5 4.5 3.2 1 1.6 .3 3.2 .3 6.4 .1 3.1 .4 3.2 .7 6.4 1.9 3.2 .5 1.6 .1 3.1-.2 8-1.6 3.2-.3 3.2 0 7.9 1 3.2 .1 3.2-.3 6.4-1 3.1-.2 1.6 .1 1.6 .3 3.2 1 9.6 4.3 9.5 3.2 3.2 1.3 4.8 3 9.5 8.1 3.2 2.5 9.5 5.8 4.8 3.5 4.8 4.5 7.9 8.8 3.2 3.2 3.2 2.8 11.1 8.8 11.2 10.9 4.8 3.7 9.5 5.9 4.8 3.5 9.5 8.5 11.2 8.8 3.1 2.8 4.8 5 8 9.7 1.6 1.2 1.6 .8 1.5 .2 1.6-.8 1.6-1.6 1.6-2.1 1.6-2.9 1.6-4.4 8-28.9 11.1-35 12.7-42.5 3.2-8.8 6.4-15.7 3.2-8.8 1.5-6.5 4.8-27.7 1.6-8.5 1.6-6.9 1.6-6 1.6-5 1.6-3.8 1.6-2.6 1.6-1.2 1.6 .4 1.5 1.9 1.6 3.3 1.6 4.5 3.2 11.9 4.8 21.9 4.8 26.5 3.1 20.9 8 65.8 3.2 23.3 1.6 9.8 1.6 7.9 1.6 5.5 1.5 2.3 1.6-1.6 1.6-5 1.6-7.8 3.2-21.4 8-63.1 4.7-30.1 3.2-17 1.6-7 1.6-5.7 3.2-9 1.6-3.6 3.2-6 1.5-2.2 1.6-1.7 1.6-1.2 6.4-3.7 3.2-1.3 1.6-.4 3.1-.3 6.4 .5 3.2 .1 3.2-.3 6.3-1 3.2-.2 4.8 .7 8 2.1 3.1 .3 1.6 0 3.2-.3 6.4-1.2 3.2-.3 3.1 .1 8 .7 3.2 0 3.2-.5 7.9-1.8 3.2-.2 3.2 .2 7.9 1.9 3.2 .4 3.2 .1 8-1 3.1-.2 3.2 .3 8 1.8 3.2 .4 3.1 .1 8-.7 3.2 .1 3.2 .6 9.5 3.4 3.2 .7 3.2 .3 6.3 0 3.2 .3 3.2 .6 9.6 3.1 3.1 .7 3.2 .3 6.4 0 4.8 .7 3.1 1 8 3.3 3.2 .9 3.2 .4 7.9 0 3.2 .3 3.2 .6 7.9 2.2 3.2 .6 3.2 .3 8-.1 3.1 .4 3.2 1 8 3.7 4.8 1.7 3.1 .5 9.6 .8 3.2 .7 7.9 2.6 3.2 .6 3.2 .2 7.9-.5 3.2 .1 4.8 1.1 8 3 3.1 .8 3.2 .4 8 .1 3.2 .3 3.1 .7 8 2.4 3.2 .4 3.2 .1 7.9-.6 3.2 .2 3.2 .6 7.9 2.6 4.8 .9 3.2 0 6.4-.5 3.1-.1 3.2 .3 8 1.5 3.2 .3 3.2-.2 6.3-.9 3.2-.3" stroke="#43682B"/>
<path d="M131.8 398.3l4.8-.1 3.2 .3 1.5 1.2 1.6 2.5 6.4 14.1 1.6 2.5 4.8 5.8 3.2 3.3 1.5 1.4 1.6 1.1 3.2 1.6 11.2 4.5 4.7 1.5 8 1.5 3.2 .5 4.7 .2 11.2-.1 4.8 .2 14.3 1.8 6.3 .4 4.8-.1 12.7-.9 4.8 .1 9.6 .7 4.7 .1 4.8-.3 9.6-1.2 4.7-.3 4.8 .2 11.1 1.2 4.8 .1 4.8-.4 12.7-1.9 4.8-.3 11.1 .1 4.8-.4 15.9-3.2 12.8-2 4.7-1.2 3.2-1.2 3.2-1.5 3.2-1.9 4.7-3.3 16-12 4.7-3.8 3.2-2.9 3.2-3.8 3.2-4.8 4.8-8.4 7.9-15.5 4.8-8.7 4.8-7.5 3.1-4.1 4.8-5.6 6.4-6.8 4.8-4.6 4.7-4.2 4.8-3.3 3.2-1.6 1.6-.6 1.6-.2 1.6 .2 1.5 .8 1.6 1.3 1.6 1.7 3.2 4.8 1.6 3 3.2 7.1 4.8 13 4.7 15.7 4.8 18.3 11.1 46.4 4.8 18.8 8 34.2 1.6 5.6 1.6 4.6 1.6 3.4 1.5 1.9 1.6 .1 1.6-1.7 1.6-3.5 1.6-4.7 1.6-5.7 17.5-74 3.2-11.9 3.2-9.7 3.2-7.3 1.5-2.8 1.6-2.3 1.6-1.8 1.6-1.4 1.6-.9 8-2.3 4.7-1 3.2-.3 11.2-.4 4.7-.4 4.8-.7 8-1.8 4.7-.7 4.8-.2 9.6 .3 4.7-.1 4.8-.5 11.1-2 3.2-.3 3.2 0 4.8 .4 7.9 1.5 4.8 .7 4.8 .2 11.1-.1 4.8 .4 14.3 2.7 4.8 .6 12.7 .3 4.8 .3 4.8 .6 11.1 2.2 6.4 .6 4.7 .1 12.8-.2 14.3 1.1 4.8 .1 12.7-.7 4.8 0 6.3 .6 9.6 1.8 4.8 .7 4.7 .2 11.2-.3 4.7 .2 4.8 .6 9.6 1.6 4.7 .5 4.8 .1 9.6-.4 3.1 .1 4.8 .5 9.6 1.7 4.7 .5 4.8 .1 11.2-.7 4.7 .1 3.2 .2 9.6 1.5 4.7 .6 4.8 .1 11.1-.5 4.8 .1 4.8 .6 9.5 1.5 4.8 .4 4.8-.1 9.5-.6 6.4 0" stroke="#D26012"/>
<path d="M131.8 251.2l8 .1 1.5 2.8 1.6 6.1 1.6 8.5 4.8 29.4 1.6 7.9 8 34.2 3.1 11.7 3.2 9.4 3.2 7.2 3.2 5.3 1.6 2.1 3.2 3.1 1.5 1.1 3.2 1.4 8 2.1 11.1 3.3 4.8 1.1 6.4 1 15.9 1.7 6.3 .2 12.8-.9 4.7-.2 11.2 .3 4.8-.1 14.3-1 14.3-.6 15.9-1.3 20.7-1.2 11.1-1.5 19.1-3.6 9.6-2.4 3.2-1 3.1-1.2 3.2-1.6 4.8-2.6 6.4-4.3 4.7-3.9 6.4-6.3 8-9.2 7.9-10 8-10.6 11.1-15.6 6.4-8.3 7.9-9.2 11.2-11.6 3.2-3 1.5-.8 1.6-.1 1.6 .6 1.6 1.1 1.6 1.8 1.6 2.2 3.2 6 3.2 7.6 3.1 9.3 3.2 11 3.2 12.7 3.2 14.2 4.8 23.8 4.7 26.4 6.4 37.6 6.4 40.1 4.7 32.2 4.8 36.2 4.8 39.7 3.2 38.3 1.6 13.6 1.6 11 1.6 9.5 3.1 15.8 1.6 6.9 1.6 5.9 1.6 4.6 1.6 2.8 1.6 .8 1.6-.9 1.6-2.4 1.6-3.1 1.6-4.1 1.5-5.8 1.6-7.8 6.4-38.4 3.2-16.4 1.6-10.4 1.6-29.6 1.6-38.7 1.6-28.2 4.7-45.7 3.2-24.8 1.6-10.3 8-44.2 3.1-14.7 1.6-6.1 4.8-15 3.2-8.6 1.6-3.7 1.6-3.2 1.6-2.6 1.5-2 1.6-1.2 6.4-3.3 6.4-2.7 4.7-1.4 4.8-.8 15.9-.2 15.9 .3 17.5-.6 12.8 .4 12.7 .1 4.8 .3 31.8 5 15.9 3.8 15.9 3.2 15.9 3.5 22.3 4.1 15.9 3.9 14.4 2.9 15.9 4.1 15.9 2.8 15.9 4.3 14.3 2.4 14.3 3.1 4.8 .7 14.3 1.7 19.1 3.3 15.9 1.8 12.8 1.7 6.3 .5 12.8 .5 11.1 1.3" stroke="#9DC3E6"/>
<path d="M131.8 279.4l4.8 .2 3.2 .5 1.5 3.1 1.6 6.5 1.6 8.9 4.8 29.5 1.6 7.4 6.4 24 3.1 10.6 1.6 4.5 1.6 3.7 3.2 6.3 3.2 5.4 3.2 4.2 1.6 1.6 1.6 1.3 1.5 1.1 1.6 .7 1.6 .5 1.6 .2 4.8 .2 3.2 .4 12.7 2.5 14.3 1.2 11.2 2.2 4.7 .4 4.8-.1 11.2-1 14.3 .1 12.7-1.2 4.8 0 11.1 .7 3.2-.1 8-.8 4.7-.3 11.2 .5 3.2 0 4.7-.6 11.2-2.3 12.7-1.7 14.3-3.7 3.2-.6 8-.9 3.1-.8 1.6-.6 3.2-1.6 3.2-2.1 6.4-5.4 6.3-6 4.8-4.9 3.2-3.5 3.2-4 3.1-4.7 4.8-8.6 3.2-6.8 4.8-11.5 4.7-13.1 8-24.9 17.5-59.7 3.2-11.4 4.8-18.4 6.3-25.6 8-33.4 1.6-5.9 3.2-9.7 4.7-11.8 3.2-6 3.2-4.4 1.6-1.8 1.6-1.2 1.6-.8 3.2-.8 1.5-.1 8 1.1 6.4-.1 3.1 .2 1.6 .5 1.6 .7 3.2 2 1.6 1.4 1.6 2 1.6 2.5 1.6 2.9 1.6 3.6 1.6 4.1 1.6 4.9 3.1 11.4 3.2 13.7 4.8 23.1 14.3 75 6.4 26.5 11.1 50.6 3.2 13 1.6 5.3 1.6 4.4 3.2 7.1 3.1 5.5 1.6 2.2 1.6 1.7 1.6 1.3 8 5.2 3.2 1.6 1.5 .6 4.8 1 4.8 .5 11.1 .7 11.2 2.1 4.7 .6 4.8 .1 6.4-.3 4.8 .3 4.7 .9 9.6 2.3 12.7 1.9 9.6 2 4.7 .7 3.2 .1 9.6-.5 4.7 0 3.2 .3 11.2 1.9 14.3 .6 14.3 2 3.2 .1 9.5-.3 3.2 0 14.3 1.8 12.8 .1 3.1 .2 11.2 1.8 3.2 .3 4.7 .1 9.6-.4 4.8 .3 11.1 1.1 12.7 .2 4.8 .5 8 1.4 3.1 .4 3.2 .2 8-.2 4.8 .2 14.3 1.9 4.8 .1 9.5-.4 4.8 .2 9.5 .8 14.3-.2 4.8 .5 9.6 1.6 4.7 .2 12.8-.7 14.3 .4 11.1-.9 4.8 0" stroke="#335AA1"/>
<path d="M131.8 230.3l6.4-.9 1.6 0 1.5 3.8 1.6 8.3 1.6 11.5 4.8 38.9 1.6 9.8 6.4 31.4 3.1 13.4 1.6 5.6 1.6 4.7 3.2 7.8 3.2 6.7 3.2 5.8 1.6 2.4 3.1 4 1.6 1.5 1.6 1.1 3.2 1.2 12.7 3 9.6 2.7 3.2 .6 4.7 .5 11.2 0 12.7 .9 4.8-.2 7.9-1.1 3.2-.2 4.8 .2 8 1 4.7 0 12.8-1.5 12.7-.5 14.3-1.8 12.7-.4 11.2-1.7 3.2-.3 9.5-.2 3.2-.3 4.8-1 11.1-3.6 11.1-2.2 3.2-1.1 3.2-1.6 3.2-2 3.2-2.4 14.3-11.2 6.4-5.9 4.7-5.5 4.8-6.4 6.4-9.4 4.7-7.7 3.2-5.6 6.4-12.6 17.5-37.4 3.2-7.6 3.2-9.2 6.3-21.7 6.4-20 3.2-8.3 1.6-3.3 3.1-5.2 4.8-6.5 3.2-3.5 3.2-2.7 4.8-3.2 3.1-1.5 1.6-.4 3.2-.3 1.6 .3 1.6 .6 3.2 2.1 3.2 2.6 1.6 1.7 1.5 2.2 1.6 2.5 1.6 3.1 1.6 3.6 3.2 8.8 3.2 11.1 7.9 31.6 4.8 20.5 1.6 8.7 1.6 7.1 3.2 10.2 1.6 6.3 1.6 9 3.1 22 6.4 49.9 3.2 23 4.8 31.6 3.2 19.6 3.1 18.2 1.6 7.6 1.6 5.7 1.6 3.6 1.6 1.4 1.6-1.1 1.6-3.6 1.6-5.2 3.2-14.3 3.1-17.5 1.6-10 8-54.6 3.2-16.6 3.1-13.9 1.6-5.9 1.6-5.2 1.6-4.5 1.6-3.5 1.6-2.7 1.6-2.1 4.8-5.5 3.2-3 3.1-2.3 1.6-1 3.2-1.3 8-1.5 4.7-.7 12.8-.8 11.1-1.1 4.8 0 9.5 .5 9.6-.4 4.8 .2 3.1 .5 9.6 2.4 3.2 .6 3.1 .3 11.2 .1 4.8 .7 9.5 2 11.1 1.1 4.8 .7 12.7 3.1 12.8 2.5 9.5 2.6 3.2 .7 3.2 .5 11.1 .9 3.2 .6 9.6 2.7 3.1 .6 11.2 1 3.2 .6 4.7 1.3 8 2.8 4.8 1.2 11.1 1.8 14.3 3.4 12.8 1.8 12.7 2.7 14.3 1.4 3.2 .6 7.9 2.2 3.2 .7 4.8 .5 8 .1 3.1 .3 3.2 .5 8 1.8 4.8 .7 12.7 .3 14.3 2.1 12.7 .6 6.4 .6" stroke="#ED7D31"/>
<path d="M131.8 440.3l3.2-.2 4.8 .4 4.7-.9 9.6-2.5 3.2-.4 6.3-.1 3.2-.4 3.2-1 7.9-3.9 3.2-1.1 1.6-.3 3.2-.1 4.8 .1 3.2-.2 3.1-.7 6.4-1.8 3.2-.5 7.9 .2 3.2-.2 3.2-.6 4.8-1.3 3.2-.6 3.1-.1 8 1.5 3.2 .2 3.2-.4 6.3-1.3 3.2-.5 8-.1 3.2-.3 7.9-1.8 3.2-.2 3.2 .5 6.3 2.5 3.2 1 3.2 .4 3.2-.3 7.9-1.8 11.2-1.1 7.9-1.9 3.2-.3 3.2 .3 8 2 3.1 .2 1.6-.2 3.2-.8 8-3.1 9.5-2.9 8-3.7 3.2-1.2 1.6-.4 3.1-.1 6.4 1.3 3.2 .3 1.6-.1 3.2-.9 3.1-1.6 14.4-9.2 3.1-2.3 6.4-5.1 1.6-1.1 3.2-1.8 3.2-1.3 6.3-1.6 3.2-1 3.2-1.6 9.5-5.7 3.2-1.5 1.6-.5 3.2-.8 3.2-.3 4.8 0 3.1 .2 3.2 .9 3.2 1.7 3.2 2.5 1.6 1.8 3.2 4.5 6.3 9.8 6.4 8.7 3.2 4.8 4.7 8.6 6.4 12.6 8 15.1 3.1 6.5 6.4 14.7 6.4 16.2 3.2 6.9 1.6 2.5 3.1 3.5 1.6 1.3 1.6 .7 1.6-.1 1.6-1.1 1.6-1.9 1.6-2.3 3.2-5.6 1.6-4.5 1.5-5.8 1.6-6.7 4.8-22.6 12.7-57 3.2-10.8 8-23.9 3.2-8.6 1.6-3.5 3.1-5.6 3.2-4.5 3.2-3.2 3.2-2 6.3-2.4 6.4-3.2 3.2-1.3 1.6-.4 3.2-.2 7.9 1.3 3.2 0 3.2-.9 6.4-2.6 3.1-.7 1.6-.1 3.2 .4 4.8 1.1 3.2 .4 9.5 .2 3.2 .6 6.4 1.5 3.1 .1 3.2-.6 8-3.3 3.2-.6 3.2 .2 9.5 2.5 9.5 1.1 3.2 .8 6.4 2 3.2 .4 3.2-.4 7.9-2.7 3.2-.5 1.6 .1 3.2 .7 7.9 3.1 9.6 2.9 7.9 3.2 3.2 .9 1.6 .1 3.2-.2 7.9-2.2 3.2-.3 1.6 .1 3.2 .8 8 2.9 9.5 2.2 9.6 3.3 3.1 .8 3.2 .2 9.6-.8 3.1 .3 3.2 .8 6.4 2 3.2 .7 7.9 1.2 3.2 .8 6.4 2 3.2 .8 3.1 .2 6.4-.2 3.2 .1 3.2 .5 7.9 2.5 3.2 .6 3.2 .3 6.4 .2 4.7 .7 9.6 2.4 9.5 2 9.6 3.2 3.2 .7 1.5 .1 3.2-.1 9.6-1.3 4.8 .2 11.1 1.8 4.8 1 3.1 .9 8 2.9 3.2 .7 1.6 .2 3.2-.1 7.9-1.5 3.2-.4" stroke="#F4B183"/>
<path d="M131.8 356.5l8-.4 1.5 1.2 1.6 2.5 1.6 3.4 4.8 11.8 1.6 3.1 4.8 7.4 3.2 4.6 3.1 3.9 1.6 1.6 3.2 2.9 3.2 2.5 3.2 2.2 3.2 1.9 4.7 2.1 6.4 1.7 6.4 1.4 14.3 2.3 12.7 2.8 6.4 .9 4.7 .1 8-.3 4.8 .2 15.9 1.6 14.3 .6 14.3 1.1 4.8 0 11.1-.8 4.8 .1 4.8 .5 9.5 1.6 4.8 .4 4.8 0 11.1-.6 15.9 .2 14.4-.8 4.7 .1 11.2 .9 4.7-.1 4.8-.4 11.2-1.7 12.7-1 4.8-.9 3.1-1 4.8-1.9 11.2-5.6 4.7-2.7 4.8-3 6.4-4.8 15.9-14.4 4.8-3.8 9.5-6.9 4.8-3.9 17.5-16.6 9.5-8.1 3.2-2.4 4.8-2.8 3.2-1.4 3.2-1.1 3.1-.7 3.2-.5 4.8-.2 1.6 .3 1.6 .8 1.6 1.3 3.1 3.6 8 11.6 3.2 4.4 1.6 2.8 1.6 4.2 1.6 5.7 1.6 7 3.1 17.5 1.6 24.7 1.6 15.1 3.2 9.2 3.2 7.8 3.2 6.5 6.3 11.4 3.2 5.3 3.2 4.3 1.6 1.4 1.6 .8 1.6 .3 1.6-.2 1.5-.5 1.6-1.2 1.6-2.3 1.6-3.7 3.2-11 6.4-24.6 4.7-16.7 3.2-10.2 3.2-8.2 3.2-6 3.2-4.7 3.2-4.2 3.1-3.7 1.6-1.4 1.6-.8 14.3-2.7 16-3.9 27-5.2 6.4-.6 15.9 .1 11.1-1 6.4-.2 28.6 2 15.9 1.9 4.8 .1 11.2-.7 4.7 .1 4.8 .5 9.6 1.7 4.7 .6 15.9 .6 14.4 1.2 15.9 .2 4.7 .5 9.6 1.6 4.8 .5 4.7 .1 9.6-.4 4.8 .2 15.9 1.9 15.9 .7 11.1 1.6 4.8 .5 4.8 0 9.5-.6 4.8 0 4.8 .5 12.7 2 17.5 .9" stroke="#8FAADC"/>
<path d="M131.8 308.7l3.2-.1 3.2 .2 1.6 .6 12.7 20.2 4.8 6.9 3.1 3.8 1.6 1.6 8 6.3 3.2 3 3.2 3.7 7.9 10.8 3.2 3.3 1.6 1.3 3.2 1.8 7.9 2.7 4.8 2 6.4 3.2 9.5 5.3 3.2 1.3 1.6 .5 1.6 .3 3.2 .1 7.9-1.6 3.2-.1 3.2 .7 7.9 2.9 3.2 .7 3.2 .2 11.1-.2 3.2-.1 8-.9 3.2 0 3.1 .5 6.4 1.7 3.2 .4 3.2-.2 7.9-2.1 4.8-.6 3.2 0 6.4 .5 12.7 1.7 3.2 .2 3.1-.4 8-2.1 3.2-.3 3.2 .3 6.3 1.5 3.2 .4 3.2-.2 6.4-1.3 3.1-.4 9.6-.3 7.9-.5 3.2 .1 8 .8 4.8 0 3.1-.3 1.6-.6 1.6-.9 3.2-2.8 4.8-4.9 3.2-3.7 1.6-2.3 3.1-5.4 3.2-6.1 3.2-7.2 4.8-13.1 4.7-15 4.8-20.7 1.6-5.8 3.2-8.8 1.6-2.3 1.6-.4 1.6 .1 1.6 .7 1.6 1.2 1.5 1.7 3.2 4.6 4.8 8.5 1.6 3.7 1.6 4.4 3.2 10.5 9.5 37 3.2 13.9 3.2 15.2 7.9 41.8 3.2 18.7 9.6 59.5 6.3 37 1.6 8.3 1.6 6.9 3.2 10 1.6 4.2 1.6 2.5 1.6-.1 1.6-2.3 1.6-3.7 3.1-9.9 1.6-8.4 1.6-11.1 4.8-40.3 12.7-101 6.4-41.5 3.2-18 1.6-7.4 1.6-5.8 3.1-7.4 3.2-6.5 3.2-5.1 3.2-3.9 6.3-6.1 3.2-2.6 3.2-2 1.6-.7 3.2-1 3.2-.4 1.6 0 3.1 .5 3.2 .9 8 2.8 3.2 .6 1.6 0 1.5-.3 3.2-1.3 6.4-3.8 1.6-.8 3.2-.9 1.6-.1 3.1 .2 11.2 2.6 9.5 1.3 4.8 0 9.5-1.1 3.2 .1 6.4 .7 3.2 .1 7.9-1.2 3.2-.1 3.2 .4 6.4 1.6 3.1 .5 11.2 0 11.1 1.9 11.2 .2 3.1 .5 4.8 1.5 6.4 2.5 9.5 4.3 3.2 .9 3.2 .2 1.6-.3 1.6-.4 6.3-2.7 1.6-.5 1.6-.2 1.6 0 1.6 .3 1.6 .5 3.2 1.7 4.8 2.9 4.7 2.2 3.2 .8 20.7 4.2 9.5 2.6 3.2 .5 1.6 .1 3.2-.2 6.4-1 3.1 .1 1.6 .4 3.2 1.2 8 4.1 3.2 1.2 3.1 .8 4.8 .8 4.8 .4 3.2-.1 7.9-.7 3.2 .3 1.6 .5 3.2 1.6 4.8 3.3 3.1 1.9 1.6 .7 3.2 .8 3.2 .2 8-.4 6.3 .4 8 1 11.1 2.6 3.2 .3 8 0 3.1 .7 1.6 .7 6.4 3.5 3.2 1.4 3.2 .7 3.1-.1 6.4-1.2 4.8-.4 9.5 .4 4.8 .6" stroke="#7C9CD6"/>
<path d="M131.8 289.8l6.4 .1 1.6 .7 3.1 7.7 11.2 29.3 4.8 12 6.3 14.6 4.8 9.6 4.8 7.9 4.7 6.4 3.2 3.5 3.2 3 3.2 2.5 3.2 2.2 6.3 3.5 8 3.2 15.9 5.3 4.8 1.2 4.7 .7 8 .7 6.4 0 4.7-.2 12.8-1.3 9.5-.3 11.2 .2 14.3 1.1 7.9 .1 14.4-1 11.1-1.1 6.4-1.1 7.9-2.1 8-2.9 11.1-5 6.4-3.6 6.3-4.4 8-6.6 12.7-11.4 6.4-6.9 8-10.1 7.9-11.1 6.4-9.6 3.2-5.8 9.5-20.4 3.2-6 3.2-4.7 4.7-6.1 3.2-3.5 1.6-1.3 1.6-.9 1.6-.4 1.6 .1 1.6 .4 1.6 .7 1.6 1 3.1 2.7 3.2 3.6 4.8 6.2 1.6 2.6 1.6 3.1 3.2 7.9 3.1 9.5 3.2 10.4 6.4 21.7 3.2 12.2 12.7 54.3 6.4 28.8 11.1 52.5 4.8 23.7 3.2 14 1.6 5.3 1.6 4.4 1.5 4.3 1.6 3.6 1.6 2.3 1.6 .3 1.6-.5 1.6-1.2 1.6-1.7 3.2-4.6 3.2-5.6 1.5-4.2 1.6-5.1 3.2-12.6 8-36.5 6.3-26.7 9.6-41.6 3.2-13 3.2-11.7 6.3-21 4.8-14.4 3.2-8.3 3.2-7 1.5-2.9 4.8-6.8 4.8-5.6 3.2-3 3.2-2.3 12.7-7.3 3.2-1.6 1.6-.7 3.1-.8 8-1.4 6.4-1.8 3.2-.6 3.1-.1 3.2 .6 4.8 1.4 3.2 .4 1.6 0 9.5-1.2 8-.1 3.2-.2 7.9-1.7 3.2-.4 4.8 .1 17.5 3.3 4.7 1.4 9.6 3.3 3.2 .9 3.2 .6 4.7 .4 9.6 .2 9.5 .7 9.6-.1 3.2 .3 3.1 .7 9.6 3.3 9.5 2.5 9.6 4 3.2 .9 3.1 .3 8 .3 11.1 2.1 9.6 .2 3.2 .4 11.1 3.1 11.1 1.9 11.2 2.7 12.7 2 15.9 3.8 23.9 5 4.8 .6 11.1 .3 9.6 1.2 7.9 .3 3.2 .4 3.2 .7 9.5 3.2 9.6 1.6 9.5 2.5 3.2 .4" stroke="#43682B"/>
<path d="M131.8 169.2l3.2-.4 3.2 .2 1.6 1.5 4.7 23 9.6 50.5 4.8 22.8 4.7 19.3 3.2 10.8 3.2 9.2 3.2 8 4.7 10.4 16 31 3.1 5.6 3.2 5 3.2 4 3.2 2.8 1.6 1 1.6 .8 1.6 .4 3.1 .2 3.2-.6 9.6-2.9 3.2-.5 3.1 .2 4.8 1.1 11.2 4.4 3.1 .8 3.2 .3 4.8-.1 9.5-1.4 4.8-.5 4.8 0 9.5 .6 6.4-.2 15.9-2.1 12.7-.7 4.8-.7 3.2-.9 3.2-1.3 11.1-5.4 4.8-2 4.8-1.3 9.5-1.8 4.8-1.6 3.2-1.6 1.6-1.1 4.7-3.9 3.2-3.2 14.3-15.3 11.2-10.1 4.8-4.8 4.7-5.8 3.2-4.7 1.6-2.7 3.2-6.2 7.9-16.8 3.2-5.4 1.6-2.1 3.2-3 3.2-2.2 1.6-.8 1.6-.5 1.5-.2 1.6 .1 1.6 .5 1.6 .8 6.4 3.8 4.8 2.3 3.1 1 6.4 1.5 1.6 .8 1.6 1.2 1.6 1.6 1.6 2 1.6 2.3 3.1 5.8 4.8 10.8 4.8 12.6 3.2 9.6 9.5 30.6 3.2 9.5 14.3 38.9 8 22.8 7.9 26.5 1.6 4.8 1.6 4.1 4.8 9.9 1.6 2.5 1.6 1.6 1.6 .4 1.6-.4 1.6-1.1 1.5-1.5 3.2-4 1.6-2.9 1.6-3.9 1.6-4.6 8-26 1.6-4.7 1.5-3.9 6.4-19.7 4.8-13.6 6.3-15.4 3.2-7 3.2-6 1.6-2.3 1.6-1.9 3.2-2.7 1.6-1.1 3.1-1.6 4.8-1.5 6.4-.9 4.8-1.2 4.7-2.2 8-4.7 3.2-1.7 3.2-1.2 1.5-.3 3.2 0 3.2 .6 4.8 1.9 7.9 4.2 3.2 1.1 3.2 .6 3.2-.2 3.2-.8 3.2-1.4 6.3-3.3 3.2-1.3 3.2-.8 3.2-.2 1.6 .1 3.1 .7 11.2 4.6 3.2 .9 1.6 .2 3.1 .1 3.2-.4 8-2 3.2-.6 3.1-.1 3.2 .5 4.8 1.6 8 4.1 3.1 1.3 3.2 .9 1.6 .2 3.2 0 3.2-.5 11.1-3.3 3.2-.4 3.2 .2 3.2 .7 3.1 1.3 11.2 5.5 3.2 1.1 3.1 .7 4.8 .2 11.2-1.1 4.7 .2 3.2 .5 3.2 .8 11.1 3.4 6.4 1.3 4.8 .4 12.7 .5 12.7 1 11.2 .5 4.7 .6 3.2 .7 3.2 1.2 3.2 1.4 9.5 5.1 3.2 1.3 3.2 .7 3.2 .1 3.2-.6 3.2-1.2 6.3-3 3.2-1.3 3.2-.8 1.6-.1 3.2 .4 3.1 1.2 3.2 1.9 9.6 6.9 3.2 1.6 3.1 .8 3.2 0 3.2-.7 9.5-4.1 3.2-.9 3.2-.3 1.6 .2 1.6 .3 3.2 1.2 9.5 5.4 3.2 1.5 1.6 .5" stroke="#4472C4"/>
<path d="M131.8 399.5l3.2 .7 1.6 .2 1.6-.1 1.6-.3 6.3-3.9 3.2-1.5 1.6-.6 3.2-.5 6.3-.4 3.2-.7 3.2-1.5 9.6-6.4 3.1-1.3 3.2-.5 6.4 .2 3.2-.1 3.2-.5 6.3-1.7 3.2-.6 1.6-.1 3.2 .1 9.5 1.5 11.2 .1 11.1 1.2 4.8-.3 7.9-1.7 3.2-.2 3.2 .3 6.4 1.3 3.1 .3 3.2-.3 8-2.7 3.2-.7 3.1 .1 1.6 .3 8 2.3 3.2 .3 3.2-.6 6.3-2.1 3.2-.8 3.2-.2 6.4 .9 3.1 .2 1.6-.2 3.2-.7 3.2-1.3 7.9-3.6 3.2-1.1 8-2.1 3.2-1.1 9.5-4.4 3.2-1 6.4-1.6 3.1-1.1 3.2-1.4 8-4.9 3.2-1.7 7.9-3.1 3.2-1.6 3.2-2.4 3.2-3.3 7.9-10.3 3.2-3.7 1.6-1.6 6.4-5.5 3.1-3.3 3.2-4 8-11.5 3.2-3.6 3.1-2.5 1.6-.9 3.2-1.3 3.2-.4 3.2 .4 1.6 .4 1.6 .6 3.2 1.6 4.7 3.4 4.8 4.7 3.2 3.9 3.2 5.9 3.1 7.5 11.2 30.1 3.2 10.1 3.2 11.4 15.9 62.7 9.5 40 4.8 23 3.2 13.7 1.6 5.1 3.1 8.4 1.6 3 1.6 1.3 1.6-.6 1.6-1.5 1.6-2.3 3.2-5.8 1.6-3.3 1.6-4.6 3.1-11.8 4.8-20.4 4.8-19 3.2-13.9 6.3-29.5 3.2-13.1 3.2-11.4 3.2-10.3 3.2-8.9 1.6-3.8 1.6-3.2 1.5-2.7 1.6-2 4.8-5.2 3.2-2.8 1.6-1.2 3.2-1.8 1.6-.6 7.9-1.2 3.2-.9 3.2-1.2 6.3-3.1 3.2-1.2 1.6-.4 3.2-.4 6.4 .1 3.1-.3 3.2-.7 6.4-2 3.2-.4 1.6 0 3.2 .5 6.3 1.8 3.2 .6 3.2 0 7.9-1.1 3.2 .3 3.2 .9 8 3.7 3.1 .6 1.6 0 3.2-.7 8-3.2 3.2-.7 3.1-.1 9.6 .9 7.9 0 3.2 .2 3.2 .7 8 2.4 3.1 .9 8 1.2 3.2 .7 3.2 1.1 6.3 2.6 3.2 .8 1.6 .2 3.2-.2 6.4-1.5 3.1-.4 1.6 0 3.2 .6 8 2.7 3.1 .5 3.2-.2 6.4-1.1 3.2 0 1.6 .3 3.2 1.1 7.9 4.1 3.2 1.1 3.2 .4 6.3 .1 3.2 .4 3.2 .9 8 2.9 3.1 .7 3.2 .1 9.6-.5 11.1 1.1 9.6 .1 3.1 .4 3.2 .9 8 3.1 3.2 .8 3.1 .2 6.4-.2 3.2 .3 1.6 .4 3.2 1.4 6.3 3.6 3.2 1.3 1.6 .3 3.2 0 7.9-2 3.2-.3 3.2 .4 8 2.4 3.1 .4 3.2-.1 8-1.3 3.2 0 3.1 .4 9.6 2.4 9.5 1.4 3.2 .8 4.8 1.8" stroke="#203864"/>
<path d="M131.8 522.3l4.8 .8 3.2 .2 1.5-1.6 1.6-3.6 1.6-5.2 6.4-27.1 1.6-6.1 1.6-4.9 6.3-17.3 4.8-11.8 6.4-13.6 3.2-6.3 3.1-5.7 1.6-2.6 3.2-4.4 4.8-6 3.2-3.6 4.8-4.8 12.7-11.2 6.3-6.7 8-9.6 6.4-9.2 3.1-4.2 3.2-3.5 1.6-1.2 1.6-1 3.2-1.1 3.2-.4 3.2 .1 1.6 .4 1.5 .7 4.8 2.5 1.6 .5 1.6 .3 1.6-.2 1.6-.5 4.8-2.3 1.5-.6 1.6-.2 1.6 .1 1.6 .6 6.4 3.4 3.2 1.3 6.3 .9 14.4 .9 15.9-.2 11.1-.9 4.8 .3 3.2 .7 3.1 1 12.8 5.5 3.2 .9 4.7 .8 12.8 .6 14.3 1.9 6.3 .4 4.8 0 4.8-.3 8-.8 4.7-.9 4.8-1.4 4.8-2.4 4.7-3.3 6.4-5.7 9.6-10.4 12.7-14.6 9.5-11.9 11.2-15.4 4.7-5.6 4.8-4.5 3.2-2.3 3.2-1.7 1.6-.6 3.2-.8 3.1 0 1.6 .4 1.6 .5 1.6 1.3 1.6 2.4 3.2 6.8 9.5 23.1 3.2 9.2 3.2 11.8 9.6 39.6 4.7 21 1.6 16.3 1.6 103.2 1.6 35.9 1.6 17.1 1.6 13.4 1.6 9.5 1.6 5.4 3.1 5.1 1.6 2 1.6 .5 1.6-1.4 1.6-2.1 1.6-3.4 1.6-5.7 1.6-8.9 3.2-24.1 4.7-41.9 3.2-24.9 15.9-98.3 1.6-9.4 1.6-7.9 1.6-5.4 1.6-3.8 4.8-8.4 11.1-22.9 3.2-5.3 1.6-2 1.6-1.6 1.6-1.1 1.6-.8 3.1-.7 8 .3 3.2 0 12.7-1.2 3.2-.2 3.2 .2 3.2 .4 11.1 2 4.8 .1 4.7-.5 8-1.7 3.2-.6 3.2-.2 4.7 .3 14.4 2.7 4.7 .4 8 .3 4.8 .5 4.7 .9 8 2 4.8 .9 15.9 1.6 4.8 1.1 9.5 2.9 4.8 1 4.8 .5 9.5 .2 4.8 .5 4.7 1.2 11.2 3.7 4.8 1.1 3.1 .4 12.8 1.2 4.7 .9 11.2 2.5 15.9 2.3 4.8 1.2 11.1 3.7 4.8 1.1 4.8 .4 9.5-.4 4.8 .3 4.8 .9 11.1 3.7 4.8 1 4.7 .3 9.6-.1 4.8 .3 4.7 .7 9.6 2 4.8 .6 14.3 .8 11.1 1.6 4.8 .4 4.8 0 11.1-.7" stroke="#9E480E"/>
<path d="M131.8 218l6.4 .3 1.6 1.1 12.7 44.4 14.3 47.5 4.8 14.5 3.2 8.4 3.1 7.4 3.2 6.5 9.6 18.4 3.2 5.8 3.1 4.9 1.6 2 3.2 3.1 3.2 2.1 8 3.8 7.9 4.6 3.2 1.1 1.6 .4 3.2 .2 6.3-.4 3.2 .1 3.2 .5 9.5 2.6 4.8 1 4.8 .4 9.5 .4 3.2 .5 6.4 1.3 3.2 .3 1.6 0 3.1-.5 6.4-2.1 3.2-.8 3.2-.1 6.3 .8 3.2 .2 3.2-.3 6.4-1.8 3.2-.5 3.1 .3 8 2.6 3.2 .6 3.2 .1 6.3-.8 3.2-.1 3.2 .2 6.3 .9 3.2 .2 4.8-.3 11.1-2.6 3.2-.4 4.8-.2 8 .6 3.1-.1 11.2-1.8 1.6-.5 1.6-.9 3.1-2.2 4.8-4 1.6-1.6 1.6-2.1 3.2-5.5 4.8-10.9 1.5-4.2 3.2-9.9 4.8-16.7 3.2-12 4.8-23.2 3.1-10.5 1.6-3.9 1.6-1.4 1.6-.4 1.6-.1 1.6 .2 1.6 .5 1.6 .7 3.2 2.3 4.7 4.4 1.6 1.7 3.2 4.3 3.2 5.5 3.2 6.1 7.9 17 3.2 8.3 4.8 14.2 23.9 75.6 6.3 22.1 1.6 4.7 1.6 3.8 3.2 6 1.6 2 1.6 .8 1.6-.6 1.6-1.1 1.5-1.6 8-9.6 1.6-2.5 3.2-6.4 1.6-3.9 3.1-9 8-25 6.4-18.7 3.2-8.8 1.5-3.5 6.4-17 4.8-11.8 6.3-14.5 4.8-9.2 3.2-4.9 1.6-2 3.2-3.2 6.3-4.4 3.2-2.6 3.2-2.9 6.4-6.3 3.2-2.8 3.1-2 3.2-1.1 3.2-.5 8-.6 6.3-1.2 3.2-.4 3.2 .2 6.4 1.6 3.1 .6 1.6 0 3.2-.4 6.4-1.9 3.2-.4 3.1 .2 8 1.6 3.2 0 3.2-.6 6.3-2 3.2-.7 3.2-.3 3.2 .3 3.2 .6 9.5 2.3 12.7 2.8 11.2 3.8 3.2 .7 3.1 .1 6.4-.5 3.2 .1 3.2 .8 7.9 2.9 3.2 .4 3.2-.3 6.4-1.3 3.1 .1 3.2 1 8 4.1 4.7 1.8 9.6 2.1 8 2.7 4.7 1.2 3.2 .5 9.6 .7 4.7 .9 3.2 1 8 3 3.1 .8 1.6 .2 3.2-.1 6.4-1.4 3.2-.5 3.2 .4 3.1 1.2 6.4 3.5 3.2 1.6 3.2 1 6.3 1.7 3.2 1.3 6.4 3 3.2 .9 1.6 .2 3.1-.3 4.8-1.1 3.2-.6 3.2 .1 3.2 .9 7.9 3.5 3.2 1.1 4.8 .7 9.5 .3 4.8 .5 3.2 .7 9.5 2.7 12.7 2.1 8 2.7 3.2 .8 3.2 .1 1.6-.2 7.9-1.8 3.2 .1" stroke="#CC9A00"/>
<path d="M131.8 405.3l8 .3 7.9-2.6 15.9-5.7 6.4-2.1 7.9-1.9 6.4-.9 6.4-.4 14.3-.2 8-.3 6.3-.5 15.9-1.8 8-.5 9.5 .3 19.1 1.6 4.8-.3 4.8-1 11.1-2.8 28.7-8.4 12.7-4.1 9.5-3.7 6.4-2.9 4.8-2.4 9.5-5.5 8-5.4 3.2-2.5 4.7-4.1 4.8-4.6 6.4-6.7 23.8-26.7 4.8-6.3 11.2-16 3.1-4.2 3.2-3.6 9.6-8.9 3.1-2.5 3.2-2 1.6-.6 1.6-.3 1.6 0 1.6 .2 1.6 .6 3.2 1.8 1.6 1.2 3.1 2.9 4.8 5.3 1.6 2.3 3.2 6.2 1.6 3.9 3.2 8.8 9.5 30.2 6.4 23.8 12.7 52.3 14.3 62 6.4 28.5 1.6 5.9 1.6 4.8 1.6 4.1 1.6 3.9 1.6 3.2 1.5 1.9 1.6 .3 1.6-.5 1.6-.9 3.2-2.9 3.2-3.6 1.6-2.2 1.6-3.1 1.6-3.8 3.1-9.2 6.4-21.1 11.1-35 9.6-28.2 6.4-17.1 4.7-12.1 3.2-7.2 3.2-6.2 3.2-4.8 1.6-1.8 3.1-3 3.2-2.2 3.2-1.6 9.6-3.6 9.5-4.8 4.8-1.9 4.8-1 3.1-.4 3.2-.1 3.2 .1 8 1.1 3.1 0 3.2-.5 9.6-3.2 1.6-.3 3.1-.3 3.2 .2 3.2 .4 12.7 2.2 3.2 .4 4.8-.1 8-1.1 3.1 .1 3.2 .6 9.6 3.2 3.1 .6 3.2 .3 6.4-.2 3.2-.4 7.9-1.6 3.2-.2 1.6 .1 1.6 .4 3.2 1.1 6.3 3.3 3.2 1.4 4.8 1.3 8 .8 11.1 .1 3.2 .2 3.2 .6 7.9 2.4 3.2 .7 3.2 .1 9.5-.4 6.4 .7 4.8 1 3.2 .9 3.1 1.1 8 3.5 3.2 1 1.6 .2 3.1 .2 8-.8 3.2-.1 9.5 .9 6.4 1.2 8 2.4 3.1 .7 3.2 .4 8 0 4.8 .6 22.2 6 3.2 .6 4.8 .1 7.9-1 4.8 0 4.8 .8 17.5 3.6 3.2 .5 3.2 .1 7.9-.5 3.2 .1 3.2 .7 9.5 3.1 4.8 .8" stroke="#5A8A39"/>
<path d="M131.8 292.3l8 2.2 1.5 2.6 1.6 5.2 1.6 6.8 4.8 22.2 1.6 5.4 4.8 12.9 4.7 11.8 3.2 6.6 6.4 11.1 3.2 4.6 1.6 2 3.1 3.2 1.6 1.1 1.6 .9 1.6 .6 4.8 1.1 8 1.5 17.5 2.9 11.1 2.4 4.8 .6 4.7-.1 9.6-1.7 4.8-.2 3.1 .3 9.6 2 4.8 .1 3.1-.4 8-1.8 3.2-.3 3.2 .2 9.5 1.9 3.2 .2 1.6-.1 3.2-.6 7.9-2.8 3.2-.7 1.6-.2 1.6 0 3.2 .4 7.9 1.8 3.2 .3 1.6-.1 3.2-.6 9.5-3.5 4.8-1.2 3.2-.3 9.5 0 3.2-.4 3.2-.6 12.7-4 14.4-3.6 9.5-2.9 4.8-1.6 3.2-1.4 4.7-2.6 4.8-3.4 11.1-9.4 3.2-2.3 9.6-6.1 3.2-2.4 3.1-2.7 9.6-9.2 3.2-2.5 4.7-3 8-3.8 4.8-3.1 3.2-2.8 9.5-9.7 1.6-1.3 1.6-.9 1.6-.5 1.6-.2 1.6 .1 3.1 .9 4.8 1.9 4.8 1.6 1.6 .8 1.6 1.1 3.2 3.3 3.1 4.7 3.2 6.3 1.6 3.9 1.6 4.6 1.6 6.2 1.6 7.6 3.2 18.3 6.3 40.5 3.2 23.8 3.2 29.8 1.6 17.5 1.6 35.9 1.6 52.4 1.6 41.7 3.1 37.7 6.4 66.8 4.8 46.6 1.6 11.8 1.6 8.5 1.6 6.2 1.6 4.1 1.5 1.4 1.6-.8 1.6-3.1 1.6-5.6 1.6-8.6 1.6-12.3 1.6-15.7 1.6-18.7 4.8-73.1 1.5-18.4 3.2-29.1 1.6-9.2 1.6-5.6 1.6-7.3 1.6-15 1.6-28.7 3.2-67.2 3.1-41.8 3.2-38.4 3.2-34.5 1.6-13.5 1.6-10.7 1.6-7.8 1.6-6.4 1.6-5.4 1.6-4.3 1.6-3.4 1.5-2.4 8-9.2 3.2-2.6 1.6-.8 1.6-.3 4.7 .3 9.6 2.5 3.2 .4 1.6 0 3.1-.4 8-2.6 3.2-.7 1.6-.1 1.6 0 3.1 .5 8 2.6 3.2 .7 1.6 .2 1.6 0 3.2-.5 6.3-1.8 3.2-.6 3.2-.1 1.6 .2 3.2 .8 7.9 3 4.8 1.3 12.7 1.8 4.8 1.2 7.9 2.7 4.8 1.3 12.7 1.8 6.4 1.3 30.2 8.9 4.8 .8 9.6 .6 4.7 .8 4.8 1.9 9.6 5 3.1 1.1 1.6 .3 3.2 .2 6.4-.4 3.2 0 3.1 .6 1.6 .5 3.2 1.4 8 4.5 3.2 1.4 1.6 .5 3.1 .5 8 .1 4.8 .6 3.1 .9 8 3.2 4.8 1.3 3.2 .3 7.9 0 4.8 .6 4.8 1.5 7.9 3.3 4.8 1.3 4.8 .4 11.1-.1 4.8 .4 7.9 1.5 14.4 3.2 6.3 1 4.8 .1 11.1-.9 3.2 .1 3.2 .6" stroke="#BFBFBF"/>
<path d="M131.8 361.3l6.4 .2 1.6 .5 4.7 6.9 4.8 6.3 11.1 14.1 6.4 7.6 3.2 3.4 4.8 4.6 19.1 16.4 4.7 3.5 4.8 2.7 3.2 1.4 9.5 3.4 11.2 4.3 3.2 .9 4.7 1.1 11.2 1.4 9.5 1.6 4.8 .5 14.3 .3 11.2 1.1 3.1 .2 4.8-.2 8-.8 4.7-.1 3.2 .2 9.6 1.3 3.2 .2 14.3-.2 15.9 1.1 12.7-.2 11.2 .3 1.5-.4 1.6-.6 3.2-1.8 3.2-2.6 9.5-8.4 4.8-4.5 3.2-3.3 3.2-3.7 3.2-4.3 1.6-2.4 3.1-5.8 3.2-6.8 3.2-7.8 8-20.8 6.3-20.9 1.6-4.7 1.6-3.8 3.2-6.1 1.6-2.6 1.6-1.7 1.6-.5 3.1 .4 1.6 .4 3.2 1.3 4.8 3.2 4.8 4 3.2 3.1 3.1 4.2 3.2 5.5 3.2 6.4 4.8 10.7 4.7 11.6 3.2 8.4 4.8 14.4 15.9 52.3 8 28 9.5 34.8 4.8 18.2 3.2 10.6 1.6 4.1 4.7 9.3 1.6 2.2 1.6 1.4 1.6 .1 1.6-1.2 1.6-2.2 3.2-6.4 1.6-3.6 1.6-5 1.6-6.6 3.1-17.2 4.8-29.1 11.2-63.5 4.7-24.5 1.6-7.5 6.4-27.3 3.2-12.5 3.1-10.5 1.6-4.3 1.6-3.5 3.2-5.7 3.2-5 1.6-2.1 3.2-3.5 1.6-1.4 3.1-2.2 14.4-7.4 3.1-1.5 4.8-1.5 3.2-.3 3.2 .2 7.9 1.4 4.8 .3 4.8-.4 9.5-1.5 4.8-.5 8-.3 7.9 0 6.4 .5 9.5 1.6 4.8 .6 4.8 .1 7.9-.5 4.8 .2 4.8 .8 7.9 1.9 4.8 .6 3.2 .1 9.5-.3 4.8 .3 6.4 1.1 7.9 2.1 6.4 2 11.1 3.9 3.2 .9 3.2 .6 3.2 .2 11.1-.5 3.2 .1 3.2 .5 12.7 3.1 11.2 1.5 4.7 .8 4.8 1.4 12.7 4.1 17.5 4 3.2 .4 3.2 .2 3.2 0 9.5-.8 3.2 0 3.2 .4 4.8 1.3 7.9 3 4.8 1.5 23.9 6.1 6.3 .8 12.8 .3 11.1 1.1 12.7 .1 3.2 .2 4.8 .8 11.1 3.6 6.4 1.6" stroke="#D26012"/>
<path d="M131.8 194.7l6.4 1.6 1.6 1.4 14.3 59 4.8 18.3 4.7 16.9 4.8 15.4 4.8 13.8 3.2 8.2 4.7 10.8 4.8 9.3 4.8 7.8 4.8 6.8 4.7 5.9 4.8 5 4.8 3.9 4.7 2.9 1.6 .6 3.2 .9 3.2 .4 3.2-.1 3.2-.5 11.1-2.2 4.8-.4 3.2 .1 3.1 .4 4.8 .9 12.7 3.6 4.8 1 4.8 .7 3.2 .2 3.2-.2 4.7-.6 12.8-3.3 3.1-.6 3.2-.4 3.2-.1 3.2 .2 12.7 1.7 6.4 .3 17.5-1.2 14.3 .5 6.4 0 7.9-1 3.2-.6 1.6-.6 3.2-1.7 3.2-2.2 14.3-11.6 8-7.8 4.7-5.4 3.2-3.9 3.2-4.7 3.2-5.6 3.2-6.2 4.7-10.6 3.2-7.7 1.6-4.4 6.4-21.2 1.6-4.7 1.5-3.9 3.2-6.7 1.6-2.9 1.6-2.1 1.6-.9 1.6-.1 1.6 .4 1.6 .9 1.6 1.2 3.2 3.5 3.1 4.5 3.2 5.2 1.6 3 1.6 4 1.6 4.7 3.2 11.3 4.7 20 6.4 28.9 3.2 16.5 3.2 18 9.5 56.3 9.6 59 11.1 66.9 1.6 8 1.6 6.2 3.2 10.3 1.6 3.8 1.6 1.5 1.6-.5 1.5-1.2 1.6-1.9 1.6-2.4 3.2-5.7 1.6-3 1.6-3.7 1.6-5 1.6-6 3.2-14.7 7.9-42.1 6.4-31.4 4.8-25.1 1.5-10.3 1.6-8.6 4.8-24.3 3.2-14.7 9.5-41 3.2-12.6 3.2-10.5 1.6-4.3 1.6-3.5 1.6-2.8 1.6-2.1 3.1-3.6 9.6-9.9 3.2-2.7 1.6-1.1 3.2-1.6 4.7-2 3.2-1.8 8-6.1 3.1-2.1 1.6-.8 3.2-1.1 8-1 7.9-1.4 3.2 0 3.2 .5 6.4 1.7 3.1 .5 3.2-.2 6.4-1.3 3.2-.4 11.1 .6 8-.3 3.2 .4 1.5 .4 8 3.1 3.2 .7 3.2 0 4.7-.6 3.2-.1 3.2 .2 8 1.5 3.1 .1 4.8-.1 3.2 .2 3.2 .8 9.5 4.2 3.2 .8 8 1.3 3.2 1 6.3 2.6 3.2 .8 3.2 .2 6.3-.5 3.2 0 9.6 1.6 3.2 .2 6.3-.2 3.2 .4 3.2 1.3 7.9 4.6 3.2 1.5 8 2.5 7.9 3.2 3.2 .9 1.6 .2 3.2-.1 8-2.3 3.1-.6 3.2 0 11.2 .6 3.1 .4 3.2 1.1 3.2 2 8 6.9 3.1 2.2 3.2 1.4 3.2 .8 8 1 4.7 0 1.6-.3 3.2-.9 6.4-2.6 3.2-.8 1.5 0 3.2 .5 8 2.7 6.4 1.6 3.1 1.1 3.2 1.5 8 5 3.2 1.3 1.5 .3 3.2 .2 6.4-.6 9.5-.2 3.2-.5 4.8-1.3" stroke="#7F6000"/>
<path d="M131.8 384.8l4.8-.8 3.2 0 1.5 .3 3.2 1 8 3.4 3.2 .7 1.6 .1 1.6-.1 3.1-.8 8-3.8 3.2-1.2 3.2-.5 1.5 .1 3.2 .8 3.2 1.5 6.4 3.5 3.2 1.2 1.6 .3 1.5 .1 3.2-.2 9.6-2.7 3.2-.3 1.5 .1 1.6 .3 3.2 1 8 3.3 3.2 .7 1.5 .1 1.6-.1 3.2-.8 9.6-4.3 3.2-.8 1.5-.2 1.6 0 3.2 .5 11.2 4.1 3.1 .5 1.6 .1 3.2-.1 8-1.4 4.7-.4 4.8 .4 9.6 1.6 4.7 .1 4.8-.6 9.6-2 6.3-.6 4.8 .1 15.9 .6 12.7 1.2 4.8 .2 4.8-.3 9.5-1.8 3.2-.4 4.8 .1 11.1 1.3 3.2-.1 4.8-1 1.6-.6 1.6-.9 1.6-1.4 7.9-8.9 8-8 4.7-6 3.2-5.1 1.6-3.3 1.6-3.9 3.2-9.3 4.8-17.1 3.1-12.7 4.8-23 1.6-6.3 3.2-8.5 1.6-2.9 1.6-.8 1.6 .9 1.6 1.3 3.1 3.8 9.6 14.3 1.6 2.6 1.6 3.2 3.2 8.1 3.1 10.2 3.2 11.7 3.2 12.7 3.2 14.3 4.8 26 15.9 95.8 9.5 55.2 6.4 38.7 1.6 7.5 3.2 12.1 1.6 5.1 1.5 3.1 1.6 .5 1.6-1.4 1.6-2.9 3.2-8.3 1.6-5.8 1.6-8.6 3.2-22.9 4.7-39.5 8-60.5 4.8-34.1 3.2-19.4 6.3-33.6 3.2-15.1 1.6-6.5 1.6-5.5 1.6-4.4 3.2-7.2 1.5-3.2 3.2-5.4 3.2-4.2 3.2-3 4.8-3.2 4.7-2.8 3.2-1.4 4.8-1.6 17.5-4.1 4.8-.6 9.5 .1 9.6-1 3.2 0 1.5 .2 3.2 .8 8 2.8 3.2 .4 3.1-.2 9.6-2.2 3.2-.2 3.2 .3 7.9 1.5 3.2 .4 6.4 .1 6.3-.8 9.6-2 3.2-.1 3.1 .6 1.6 .6 3.2 1.9 4.8 3.7 3.2 2.2 3.2 1.4 1.5 .3 3.2-.2 8-2.4 3.2-.2 1.6 .3 3.1 1 6.4 3.4 3.2 1.4 1.6 .5 3.2 .6 1.6 0 3.1-.2 11.2-2.3 3.2-.1 3.1 .5 1.6 .5 3.2 1.7 9.6 7.3 3.1 1.7 1.6 .5 1.6 .2 1.6-.1 1.6-.2 6.4-1.6 3.2-.2 3.1 .5 3.2 1.3 6.4 3.1 3.2 1 1.6 .3 3.1 .1 11.2-.9 3.2 .1 4.7 .5 4.8 1.1 3.2 1.1 9.5 4.9 4.8 1.7 3.2 .6 8 .3 3.1 .4 3.2 .7 6.4 2 3.2 .6 3.1 .1 8-.2 3.2 .4 9.5 2.6 3.2 .5 3.2 .1 6.4-.2 3.1 .2 4.8 1.3 8 3.3 3.2 1.1 3.1 .9 3.2 .6 4.8 .4 3.2 0 3.2-.4 7.9-1.6 3.2-.2" stroke="#C9C9C9"/>
<path d="M131.8 209.9l6.4 .7 1.6 1.3 7.9 30.6 6.4 23.3 6.3 22.1 6.4 20.7 4.8 14.1 4.8 12.7 4.7 11 6.4 12.6 6.4 10.9 6.3 9.6 4.8 6.1 4.8 4.9 4.7 3.6 4.8 2.7 14.3 6.6 3.2 1.3 3.2 1 3.2 .6 3.2 .2 3.2-.1 7.9-.9 4.8-.1 3.2 .3 7.9 1.1 3.2 .1 4.8-.5 7.9-1.9 4.8-.8 4.8 0 7.9 .7 3.2 0 3.2-.5 3.2-.9 9.5-3.9 3.2-1 3.2-.7 9.5-1 4.8-1.4 4.8-2.5 7.9-5.5 4.8-2.7 4.8-1.8 8-2.1 3.1-1.3 1.6-.8 4.8-3.3 8-7 4.7-3.6 3.2-2 8-4.2 3.2-2.2 3.1-2.7 4.8-5 3.2-3.9 9.5-12.6 4.8-5.3 4.8-4.5 9.5-7.7 6.4-6.1 3.2-2.4 1.6-.9 1.6-.6 1.6-.2 1.5 .1 1.6 .7 1.6 1.2 3.2 3.6 3.2 4.8 4.8 7.6 1.6 3 1.5 3.6 1.6 4.3 3.2 9.7 8 28.5 3.2 13.7 4.7 23.9 15.9 86.8 11.2 58.9 1.6 7.1 3.2 10.6 1.6 4.5 1.5 3 1.6 .6 1.6-.7 1.6-1.7 1.6-2.3 1.6-2.9 1.6-3.2 1.6-4.1 1.6-5.9 3.2-15.7 7.9-45.9 8-41.9 4.7-23.8 3.2-13.9 8-30.8 3.2-11.8 3.1-10.4 1.6-4.4 1.6-3.6 3.2-6 3.2-4.9 3.2-3.8 1.6-1.5 3.1-2.3 8-4.1 3.2-2 6.4-4.6 4.7-2.8 3.2-1 1.6-.3 3.2-.1 3.2 .5 6.3 1.5 4.8 .6 15.9 .1 11.2 1.3 4.7 .3 3.2-.2 3.2-.5 9.5-2.7 3.2-.6 3.2-.2 3.2 .2 11.1 1.9 9.6 .6 4.7 .7 4.8 1.4 8 3 3.2 .9 3.1 .6 4.8 .3 11.2 .1 15.9 .8 6.3 .6 4.8 .6 11.1 2.4 16 4.3 6.3 1.4 17.5 2.4 14.3 1.1 4.8 .5 14.3 3.1 11.2 1.2 4.8 .7 11.1 2.9 3.2 .6 4.8 .4 7.9 .1 3.2 .3 4.8 1.1 9.5 3.1 4.8 1.1 4.8 .5 11.1 .6 12.7 2 4.8 .5 4.8 0 11.1-1.2 4.8 .4 3.2 .7 9.5 3.6 3.2 .8" stroke="#F1975A"/>
<path d="M131.8 187.5l3.2-.6 3.2-.1 1.6 1.3 7.9 32.6 4.8 18.2 6.4 22.3 6.3 20.7 3.2 9.5 4.8 12.6 12.7 29.5 4.8 10.2 3.2 5.8 4.7 7.2 8 10.3 4.8 5.4 1.6 1.4 3.1 2.2 8 3.7 9.5 5.5 3.2 1.2 3.2 .6 8 .2 7.9 1.5 3.2 .5 6.4 .1 3.1 .3 3.2 .6 6.4 1.8 3.2 .4 3.2-.3 7.9-1.5 8-1.1 6.3-1.2 3.2-.4 1.6 .1 3.2 .5 8 2.4 3.1 .3 3.2-.3 9.6-1.6 3.1-.7 1.6-.6 3.2-1.6 6.4-4.2 3.2-1.8 3.1-1 6.4-.8 3.2-.8 3.2-1.5 3.2-2.1 9.5-6.5 4.8-3.9 4.8-5.1 6.3-7.9 8-9.5 4.8-6.5 9.5-15.1 12.7-24.1 3.2-4.6 4.8-5.6 1.6-1.3 1.6-.9 1.6-.5 1.5 .1 1.6 .5 3.2 1.4 4.8 2.7 3.2 2.3 3.2 2.9 3.1 3.7 1.6 2.1 1.6 2.7 1.6 3.2 3.2 7.7 3.2 8.9 3.2 9.8 3.1 10.5 4.8 17.2 3.2 13.1 19.1 83.4 17.5 84.2 4.8 25.6 3.2 15.8 1.6 6.6 1.5 5.2 3.2 9.2 1.6 3.6 1.6 2.3 1.6 .5 1.6-.9 1.6-1.9 1.6-2.7 1.6-3.2 3.1-7.3 1.6-4.7 1.6-6.3 3.2-16.6 8-50.5 9.5-53.9 9.6-51.8 3.1-15.5 4.8-21.4 3.2-12.6 3.2-11 3.2-9.4 3.1-7.6 4.8-9.3 3.2-4.9 1.6-1.9 3.2-2.9 12.7-8.4 3.2-1.9 3.2-1.5 7.9-3.2 4.8-1.6 3.2-.4 6.4 .3 3.1-.2 8-2.3 3.2-.4 7.9 .4 3.2-.4 4.8-.9 3.2 .1 3.2 1.1 4.7 2.7 3.2 1.3 3.2 .5 6.4-.1 7.9 1 3.2-.3 7.9-2.8 1.6-.2 1.6 .1 1.6 .4 4.8 2 3.2 1.1 3.2 .3 4.7-.1 1.6 .3 3.2 1.2 4.8 2.7 3.2 1.3 1.6 .2 1.5-.1 4.8-.7 3.2 0 3.2 1.1 4.8 2.5 3.1 1.1 1.6 .2 6.4-.3 1.6 .1 3.2 .8 4.7 1.9 3.2 .8 3.2 0 4.8-.4 3.2 .3 9.5 3.6 3.2 .4 4.8 .1 3.2 .3 9.5 2.6 9.5 1.4 3.2 .9 6.4 2.7 3.2 1.1 11.1 2.8 3.2 .4 1.6-.1 9.5-1.3 1.6 0 3.2 .5 14.3 3.3 3.2 1.4 6.4 3.6 3.2 1 1.6 .2 6.3-.1 1.6 .2 1.6 .3 6.4 1.8 1.6 .3 3.1-.1 4.8-.9 1.6 0 1.6 .3 1.6 .5 1.6 .9 4.8 2.9 1.5 .7 1.6 .3 1.6 0 1.6-.4 4.8-1.7 1.6-.3 1.6 0 1.6 .4 6.3 3.2 1.6 .4 1.6 .1 1.6-.3 4.8-1.7 1.6-.4 1.6 0 1.6 .3 1.5 .7 4.8 3 1.6 .7 1.6 .4" stroke="#385723"/>
<path d="M131.8 248l6.4 .7 1.6 .8 14.3 32 4.8 9.9 4.7 9 4.8 8 4.8 7.4 7.9 11.3 8 10.5 4.8 5.6 3.1 3.3 4.8 4.4 4.8 3.7 4.8 3.2 4.7 2.5 4.8 1.7 3.2 .7 3.2 .4 7.9 .3 4.8 .4 4.8 .9 9.5 2.5 4.8 .7 4.8 .4 19.1 .6 4.7-.3 9.6-1.6 4.8-.4 4.7 .4 8 1.2 4.8 .1 4.7-.7 8-2.2 4.8-.9 4.7-.3 8 .4 4.8 0 12.7-1.5 8-.7 3.1-.5 4.8-1.4 3.2-1.7 3.2-2.1 6.3-4.6 4.8-2.9 4.8-1.9 8-2.3 3.1-1.3 3.2-1.7 3.2-2.2 3.2-2.6 7.9-7.2 3.2-3.4 9.6-11.6 6.3-6.2 3.2-2.7 1.6-1 1.6-.5 1.6-.1 1.6 .2 1.6 .6 1.6 1 3.1 2.8 3.2 3.7 3.2 4.1 1.6 2.3 1.6 2.8 4.8 10.4 11.1 27.8 4.8 14.3 9.5 31.9 14.3 52.3 6.4 24.7 1.6 5.1 3.2 7.8 1.6 3.3 1.6 2.3 1.6 .8 1.6-.2 1.5-.8 1.6-1.1 1.6-1.6 3.2-3.8 1.6-2.3 1.6-3 1.6-3.7 3.2-9.1 6.3-20.6 3.2-9.6 11.2-31.2 6.3-17.2 3.2-7.9 3.2-7.1 4.8-10.2 3.1-6.2 3.2-5.5 3.2-4.7 3.2-3.7 4.8-4.9 4.7-4.5 3.2-2.5 3.2-2 1.6-.8 3.2-1.1 6.3-1.1 30.3-3 14.3-1.9 4.8-.4 7.9 0 14.3 .6 4.8 .8 11.2 2.8 4.7 .5 4.8-.4 9.5-2.1 3.2-.2 1.6 .1 1.6 .2 3.2 .9 8 3.2 4.7 1.3 3.2 .3 9.6-.1 3.1 .4 3.2 .7 9.6 3.1 4.7 .9 3.2 .1 8-.2 3.2 .3 3.1 .7 9.6 3.5 3.2 .8 1.6 .2 3.2 .1 9.5-1.3 3.2 0 1.6 .2 1.6 .3 3.1 1.1 9.6 5 3.2 1.4 3.2 1.1 3.1 .7 3.2 .3 4.8 0 6.4-.5 12.7-1.3 3.2 0 3.2 .4 3.1 .8 3.2 1.2 3.2 1.7 8 4.8 3.1 1.6 3.2 1.2 3.2 .8 3.2 .3 4.8-.1 4.7-.8 11.2-2.6 3.2-.4 3.1 0 3.2 .4 3.2 1.1 3.2 1.7 9.5 6.1 3.2 1.6 3.2 .9 1.6 .2 3.2-.2 3.2-.7 9.5-2.7 4.8-.6 3.2 .1 3.1 .4 8 1.6" stroke="#335AA1"/>
<path d="M131.8 253.6l6.4 .4 1.6 .8 6.3 13.9 4.8 9.2 11.1 18.7 3.2 5.8 8 15.5 3.2 5.7 3.1 4.8 3.2 3.9 3.2 3.1 8 6.9 9.5 9.7 3.2 2.7 1.6 1 1.6 .9 3.2 1 7.9 .8 3.2 .8 1.6 .6 3.2 1.8 6.3 4.4 3.2 1.9 1.6 .7 3.2 .8 3.2 .2 6.3-.4 3.2 .1 9.6 1.2 3.1 .2 3.2-.1 8-1.1 3.2-.2 3.2 .2 7.9 1.2 3.2 .2 3.2-.1 7.9-1.1 3.2-.2 11.2 .8 4.7-.6 8-2.4 3.2-.6 1.6-.1 1.5 .2 3.2 .7 8 2.8 3.2 .4 1.6-.1 3.1-.9 9.6-4.2 3.2-1.1 7.9-1.5 3.2-.8 3.2-1.4 1.6-.9 3.2-2.4 7.9-6.5 3.2-2.1 8-4 3.1-2.3 1.6-1.4 1.6-1.7 3.2-4.1 4.8-7.2 4.8-7.7 6.3-11.9 3.2-5.2 1.6-1.9 4.8-5 1.6-1.4 1.5-.8 1.6-.2 3.2 .1 1.6 .4 3.2 1.3 3.2 2.1 7.9 6.4 4.8 4.7 4.8 5.8 3.2 4.4 3.1 5 3.2 5.6 4.8 9.9 9.6 22.7 7.9 17.4 3.2 7.6 4.8 12.8 12.7 37.8 3.2 8.3 1.6 3.4 1.6 2.7 1.6 1.9 3.1 3.2 1.6 1.2 1.6 .5 1.6-.2 1.6-.7 3.2-2.4 3.2-2.9 1.6-1.9 1.5-2.8 1.6-3.5 3.2-8.6 12.8-36.5 1.5-5.8 1.6-3.8 3.2-6.5 1.6-2.7 4.8-7.3 7.9-12.9 3.2-4.6 4.8-5.9 3.2-3.4 3.2-2.9 1.5-1.1 3.2-1.6 3.2-1.1 4.8-1.1 4.8-.5 3.1 .1 3.2 .4 6.4 1.4 3.2 .4 1.6 0 1.6-.2 3.1-1 8-4.2 3.2-1.1 1.6-.2 1.6 .1 3.1 .9 8 4.4 3.2 1.2 1.6 .2 3.2-.1 3.1-.9 6.4-2.4 3.2-.6 1.6 0 3.2 .3 6.3 1.3 3.2 .4 3.2 0 6.4-.6 3.1-.1 3.2 .3 8 1.5 3.2 .4 3.1 .1 6.4-.6 3.2 .1 3.2 .6 1.6 .5 3.1 1.5 6.4 3.6 3.2 1.2 1.6 .4 1.6 .2 3.2-.1 9.5-1.9 3.2-.4 4.8 .1 6.3 .9 4.8 1 3.2 1 4.8 2.2 7.9 4.6 3.2 1.1 1.6 .2 1.6 0 3.2-.6 6.3-2.9 3.2-1.1 1.6-.2 1.6 .1 1.6 .4 3.2 1.6 7.9 6 3.2 1.7 1.6 .5 1.6 .3 3.2-.2 6.3-1.6 3.2-.6 1.6 0 3.2 .3 11.1 2.8 11.2 1.8 3.1 .9 8 2.7 3.2 .6 4.8 .2 7.9-.5 3.2 .4 3.2 .9 9.5 4 3.2 .7 1.6 .2 3.2-.1 7.9-1.2 3.2-.1 4.8 .5 14.3 2.5 3.2 .8 3.2 1.1 6.3 3.2 3.2 1.4 3.2 .7 1.6-.1 3.2-.8 3.2-1.6 4.7-2.9 3.2-1.3 1.6-.3 1.6 0 1.6 .3" stroke="#A5A5A5"/>
<path d="M131.8 412.9l4.8-2.6 1.6-.6 1.6 0 1.5 .9 1.6 1.3 4.8 4.7 1.6 1.2 1.6 .9 1.6 .5 4.8 .3 1.6 .2 1.5 .5 1.6 .8 6.4 5.1 1.6 .9 1.6 .5 1.6 0 6.3-1.5 1.6 0 1.6 .5 1.6 .8 4.8 3.5 1.6 1.1 1.6 .6 1.6 .3 1.6-.1 4.7-.9 1.6 0 1.6 .3 1.6 .7 4.8 2.9 1.6 .6 1.6 .3 1.5-.1 1.6-.6 4.8-2.7 1.6-.5 1.6-.2 1.6 .2 1.6 .6 4.7 2.5 1.6 .5 1.6 .2 1.6-.2 4.8-1.6 1.6-.3 1.6 0 1.6 .4 1.6 .7 4.7 2.4 1.6 .3 1.6-.1 1.6-.5 6.4-3.8 1.6-.5 1.6 0 1.5 .3 4.8 2.1 1.6 .5 1.6 .2 1.6-.1 6.4-1.8 1.6-.1 1.5 .4 1.6 .6 4.8 2.7 1.6 .5 1.6 .1 1.6-.4 1.6-.7 4.7-3 1.6-.6 1.6-.2 1.6 .2 4.8 1.9 1.6 .5 1.6 .2 1.6 0 1.6-.4 4.7-1.4 1.6-.2 1.6 .3 1.6 .6 4.8 2.9 1.6 .7 1.6 .3 1.6-.1 1.5-.5 4.8-2.9 1.6-.7 1.6-.4 1.6-.1 1.6 .3 4.8 1.8 1.5 .3 1.6 0 1.6-.3 4.8-1.6 1.6-.3 1.6 .1 1.6 .4 1.6 .8 4.7 3 1.6 .6 1.6 .1 1.6-.3 1.6-.7 4.8-3.3 1.6-.9 1.6-.7 1.6-.3 4.7-.2 1.6-.2 1.6-.4 1.6-.8 1.6-1.1 4.8-3.9 1.6-.9 1.6-.6 1.5-.2 4.8 .2 1.6-.3 1.6-.7 1.6-1.3 1.6-1.8 6.3-9.8 1.6-2.2 1.6-1.8 4.8-4.4 1.6-2 1.6-2.3 4.8-8.2 3.1-4.4 1.6-1.6 1.6-1.1 1.6-.1 1.6 .8 4.8 3.9 1.6 1.1 1.6 .7 1.6 .3 1.5 0 4.8-.4 1.6 .5 1.6 1.1 1.6 1.5 6.4 8.4 1.5 1.8 6.4 5.2 1.6 1.8 1.6 2.2 1.6 2.8 1.6 3.3 4.8 11.1 3.1 6.4 3.2 5 4.8 6.3 3.2 5 3.2 6.1 4.7 9.9 1.6 2.8 1.6 2.1 1.6 1.2 4.8 2 1.6 .3 1.6-.1 3.1-.7 1.6-.6 1.6-.9 1.6-1.2 1.6-2.1 1.6-3.4 1.6-4.7 1.6-5.7 6.3-24.8 6.4-19.3 3.2-10.3 9.5-35.1 1.6-4 3.2-6.5 11.2-17.3 3.1-4.5 3.2-3.8 1.6-1.5 1.6-1 4.8-2.1 3.2-1.9 3.1-2.9 4.8-5.1 1.6-1.2 1.6-.7 1.6-.3 1.6 .1 4.8 1.3 1.5 .1 1.6-.2 1.6-.4 4.8-1.9 1.6-.3 1.6 0 1.6 .5 6.3 3.4 1.6 .4 1.6 0 1.6-.4 4.8-2.1 1.6-.5 1.6-.1 1.6 .2 1.6 .6 4.7 2.4 1.6 .4 1.6 0 1.6-.5 6.4-3.5 1.6-.5 1.5-.2 1.6 .2 4.8 1.3 1.6 .1 1.6-.2 1.6-.6 4.8-2.6 1.6-.6 1.5-.2 1.6 .3 1.6 .8 4.8 3.9 1.6 1.1 1.6 .8 1.6 .3 1.6 .1 4.7-.9 1.6 0 1.6 .3 1.6 .6 4.8 2.5 1.6 .4 1.6 .1 1.6-.4 1.5-.8 4.8-3.1 1.6-.7 1.6-.2 1.6 .2 1.6 .6 4.8 2.7 1.6 .6 1.5 .2 1.6-.1 4.8-1 1.6 0 1.6 .3 1.6 .6 1.6 1 4.7 3.5 1.6 .7 1.6 .3 1.6-.1 4.8-1.4 1.6-.2 1.6 0 1.6 .5 1.6 .8 4.7 3.2 1.6 .8 1.6 .4 1.6 .1 1.6-.3 4.8-1.3 1.6-.1 1.6 .2 1.5 .6 4.8 2.3 1.6 .4 1.6 .2 1.6-.3 1.6-.5 4.8-2 1.6-.3 1.5 .3 1.6 .6 1.6 1 4.8 3.6 1.6 .9 1.6 .5 1.6 .3 4.7-.1 1.6 .2 1.6 .5 1.6 .9 4.8 3.3 1.6 .8 1.6 .4 1.6 0 1.6-.5 4.7-2.7 1.6-.7 1.6-.3 1.6 0 1.6 .5 4.8 2.2 1.6 .5 1.6 .2 1.5 0 4.8-1 1.6-.1 1.6 .4 1.6 .7 1.6 1.2 4.8 4.2 1.5 1.1 1.6 .6 1.6 .2 1.6-.2 4.8-1.4 1.6-.1 1.6 .2 1.6 .5 4.7 2.6 1.6 .6 1.6 .2 1.6-.2 1.6-.5 4.8-2 1.6-.2 1.6 .2 1.6 .6 4.7 3.2 1.6 1 1.6 .6 1.6 .2 1.6-.1 4.8-1.2 1.6-.2 1.5 .3 1.6 .6 6.4 3.9 1.6 .6 1.6 .1 1.6-.2 4.8-1.7 1.5-.4 1.6 0 1.6 .4 1.6 .8 4.8 2.7 1.6 .6 1.6 .1 1.6-.2 4.7-1.8 1.6-.4 1.6-.1 1.6 .3 1.6 .6 4.8 2.5 1.6 .6 1.6 .1 1.6-.2 6.3-2.3 1.6-.1 1.6 .3" stroke="#FFD966"/>
<path d="M131.8 239.8l6.4 1.9 1.6 1.4 11.1 37.8 3.2 9.8 4.8 13.4 7.9 20.4 11.1 27.3 4.8 10.3 3.2 5.9 1.6 2.5 1.6 2.2 3.2 3.7 3.2 2.5 3.1 1.6 3.2 .9 8 1.4 3.2 .7 14.3 4.9 3.2 .7 3.1 .5 22.3 1.3 4.8 .1 4.8-.4 11.1-1.8 4.8-.4 4.8 .4 7.9 1.7 3.2 .4 3.2 .1 1.6-.1 3.1-.9 3.2-1.4 11.2-7 4.7-2.2 4.8-1.1 11.2-.6 3.1-.7 3.2-1.1 3.2-1.6 4.8-3.2 11.1-8.5 9.6-6.9 4.7-3.9 6.4-6.1 20.7-22.1 6.4-7.6 3.1-4.8 3.2-5.8 8-16.3 3.2-5.8 1.5-2.5 1.6-2.2 1.6-1.7 3.2-2.7 3.2-2.2 3.2-1.4 1.6-.4 1.6-.1 1.5 .1 1.6 .4 3.2 1.5 3.2 1.8 6.4 4.4 4.7 3.7 1.6 1.4 1.6 1.8 1.6 2.5 1.6 3.2 3.2 7.9 4.8 15.3 6.3 23.2 3.2 12.6 3.2 13.5 15.9 72 15.9 78.6 4.8 24.5 3.2 14.8 1.6 6.1 1.6 4.7 3.1 8.2 1.6 3.3 1.6 2 1.6 .3 1.6-.9 1.6-1.6 3.2-4.7 3.2-5.6 1.6-3.4 1.5-4.8 1.6-5.9 1.6-7 3.2-15.9 11.2-59.8 1.5-9.9 4.8-26.9 4.8-25 3.2-14.5 1.6-6.4 4.7-17.3 4.8-15.9 4.8-13.5 3.2-7.1 1.6-2.9 9.5-15.8 4.8-7.2 3.2-3.8 1.6-1.5 3.1-2.1 3.2-1.3 3.2-.9 9.5-1.9 12.8-3.1 3.2-.6 3.1-.3 6.4 .1 8 .9 4.7 .1 3.2-.3 9.6-1.8 3.2-.2 4.7 .5 9.6 2.2 3.2 .5 3.1 .3 4.8-.1 9.6-1 3.1 0 3.2 .5 3.2 1.2 3.2 1.8 7.9 5.1 3.2 1.3 1.6 .4 1.6 .2 3.2-.1 3.2-.6 9.5-2.6 3.2-.3 3.2 .1 3.2 .7 3.2 1.3 9.5 5.4 4.8 2.1 3.2 .9 7.9 1.7 9.6 2.4 4.7 .9 3.2 .1 14.3-.9 3.2 .2 3.2 .6 1.6 .5 3.2 1.5 3.2 2 7.9 5.6 3.2 1.6 1.6 .5 1.6 .2 3.2-.1 11.1-2.9 3.2-.2 1.6 .2 3.2 .7 3.1 1.4 3.2 1.8 8 5 3.2 1.4 1.6 .5 1.5 .3 3.2 .1 8-1.3 3.2-.2 1.6 0 1.5 .3 3.2 .8 9.6 3.8 4.7 1.5 6.4 1.1 9.6 .6 3.1 .5 4.8 1.2 6.4 2.2 3.2 .9 3.1 .3 3.2-.2 9.6-2.6 3.2-.4 1.6 .1 3.1 .7 3.2 1.4 3.2 2" stroke="#203864"/>
<path d="M131.8 294.9l6.4 .8 1.6 .8 3.1 8.4 12.8 36.3 4.7 12.4 4.8 11.2 4.8 9.7 3.2 5.7 3.2 5 4.7 6.6 3.2 3.7 3.2 3.2 4.8 3.9 4.7 3 4.8 2.1 3.2 1 3.2 .7 3.2 .5 4.7 .4 15.9 .3 6.4 .3 6.4 .7 12.7 1.7 6.4 .6 6.3 .1 6.4-.6 4.8-.7 12.7-2.6 6.4-.9 7.9-.4 14.4-.5 7.9-.6 6.4-1.2 4.7-1.3 3.2-1.2 4.8-2.3 3.2-1.8 4.8-3.1 15.9-11.5 20.7-13.9 7.9-6 6.4-5.5 6.3-6.3 4.8-5.3 4.8-6.8 9.5-14.9 3.2-4.3 3.2-3.6 4.8-4.6 3.2-2.7 3.1-2 1.6-.7 1.6-.4 1.6 0 1.6 .2 1.6 .5 3.2 1.7 1.6 1.1 3.2 2.7 4.7 4.8 3.2 3.6 3.2 5 3.2 6.6 3.2 7.7 9.5 25.9 3.2 9.6 4.8 15.9 11.1 40.4 4.8 18.4 20.7 82.5 1.6 5.4 1.5 4.4 3.2 7 1.6 3.1 1.6 2.1 1.6 .9 1.6-.5 1.6-1.2 1.6-1.8 1.6-2.3 4.7-8.5 1.6-4 1.6-5.1 3.2-12.5 8-36.7 4.7-19.1 8-33.7 4.8-19.2 3.1-11.4 9.6-30.4 3.2-9.7 3.2-8.8 3.1-7.2 1.6-2.9 4.8-7.3 4.8-6 4.8-5.1 4.7-4.2 4.8-3.2 3.2-1.7 3.2-1.1 3.1-.6 4.8-.2 9.6 0 3.2 .2 3.1 .6 9.6 2.3 4.8 .3 4.7-.7 11.2-3 14.3-3.5 4.8-.6 4.7 .3 3.2 .7 3.2 1.1 12.7 5.2 11.2 4.3 4.7 1.5 3.2 .6 3.2 .4 3.2-.1 11.1-1.2 4.8-.1 11.1 .5 6.4 .7 3.2 .8 3.2 1.1 9.5 4.3 3.2 1.2 20.7 5.4 4.8 .7 9.5 .1 3.2 .2 12.7 2.7 11.2 1.6 11.1 3 3.2 .7 3.2 .5 7.9 .7 4.8 .8 9.5 2.2 12.8 2.6 12.7 4.1 6.4 1.6 6.3 .7 14.4 .8 4.7 0 9.6-.4 4.7 .2 4.8 .9 8 2.2 9.5 2.1 4.8 1.3" stroke="#4472C4"/>
<path d="M131.8 195.6l6.4-.5 1.6 .9 3.1 13.4 11.2 55.4 6.3 29.4 3.2 12.9 3.2 11.7 3.2 10.3 3.2 9.1 3.2 7.9 3.1 6.9 3.2 5.9 4.8 7.3 3.2 3.9 3.2 3 3.1 2.2 1.6 .8 3.2 1.2 1.6 .3 3.2 .2 3.2-.2 7.9-.9 3.2-.1 3.2 .2 4.8 1.1 11.1 3.7 4.8 .8 3.2 0 3.1-.5 11.2-3.3 4.8-.7 3.1 .2 6.4 1 9.6 1.2 3.1 .1 3.2-.5 1.6-.5 3.2-1.4 3.2-1.9 9.5-6.5 3.2-1.6 3.2-1.1 3.2-.5 3.2 .1 9.5 1.7 3.2 .2 3.2-.2 3.1-.8 3.2-1.5 4.8-3.1 11.1-9.4 6.4-4.8 15.9-9.5 6.4-4.2 7.9-5.9 8-6.7 6.4-6.1 3.1-3.7 4.8-6.9 8-12.9 3.2-4.9 3.1-4.2 1.6-1.7 3.2-2.7 3.2-2.2 3.2-1.6 3.2-.9 1.5-.1 3.2 .4 1.6 .5 1.6 1 3.2 3 3.2 4 7.9 11.5 1.6 2.9 1.6 3.8 1.6 4.4 3.2 10.8 3.2 12.6 4.7 20.6 1.6 7.4 3.2 16.6 4.8 28.5 8 51.1 9.5 64.4 11.1 72.6 1.6 8.6 1.6 6.8 3.2 11.2 1.6 4.1 1.6 1.6 1.6-.9 1.6-2.4 1.6-3.5 1.6-4.2 1.5-4.5 1.6-6.3 1.6-8.9 1.6-10.6 6.4-49.7 3.2-23 7.9-61.2 3.2-22.7 8-47.9 3.1-17 1.6-7.1 1.6-6 1.6-4.7 3.2-7 3.2-5.2 3.2-3.7 3.1-2.6 12.8-7.8 9.5-4 8-3.9 3.2-1.1 3.1-.7 16-.7 3.1 .3 3.2 .9 8 3.6 3.2 .8 3.1 .2 11.2-.8 3.2-.5 3.1-1 6.4-3.1 3.2-1.1 1.6-.4 3.2 0 3.2 .5 12.7 2.9 3.2 1.1 7.9 3.2 3.2 .6 3.2 0 6.3-.7 3.2 .1 9.6 1.7 9.5 .7 3.2 .7 6.4 1.7 3.2 .3 3.1-.1 6.4-.8 3.2 .3 3.2 .8 6.3 2.3 8 2.7 3.2 1.4 7.9 4.5 3.2 1.1 1.6 .2 3.2 .1 6.4-.5 11.1 .7 7.9-.7 3.2 .1 1.6 .3 17.5 5.9 3.2 1.6 8 5.1 3.1 1.3 1.6 .3 1.6 .1 3.2-.3 8-2.1 7.9-1.4 3.2-.4 3.2 .1 1.6 .4 1.6 .6 1.6 .9 3.1 2.6 4.8 4.8 3.2 2.7 1.6 1 3.2 1.3 1.6 .3 3.1 0 4.8-.7 4.8-1.3 7.9-3.1 3.2-.6 1.6 0 1.6 .4 1.6 .7 3.2 2 6.4 4.6 1.5 .9 3.2 1.2 4.8 .8 8 .5 4.7-.2 6.4-.8 3.2 .1 3.2 .8 7.9 3.3 3.2 .6" stroke="#5B9BD5"/>
<path d="M131.8 215.3l3.2-.6 3.2-.3 1.6 1 4.7 14.5 4.8 13.6 3.2 8.4 4.8 11.4 17.5 39.1 4.7 10.1 4.8 8.8 6.4 10 14.3 19.8 4.8 5.6 3.2 3.1 3.1 2.6 4.8 2.9 12.7 6.1 6.4 2.4 3.2 .8 3.2 .4 9.5 .3 4.8 .6 3.2 .8 9.5 3.5 3.2 .9 3.2 .6 4.8 .5 15.9 .4 6.3-.3 4.8-.9 11.2-3.2 3.1-.5 3.2-.2 3.2 .1 9.5 .8 12.8 .2 9.5 1 3.2 0 3.2-.5 4.8-1.6 11.1-5.9 12.7-5 3.2-1.7 4.8-3.5 4.8-4.1 7.9-7.6 8-7.2 4.7-4.8 3.2-3.7 1.6-2.1 8-13.2 1.6-2.4 1.6-2 1.5-1.5 3.2-2.4 3.2-1.8 1.6-.5 1.6 0 1.6 .4 1.6 .7 1.6 1.1 3.2 2.8 3.1 3.6 4.8 6.2 1.6 2.5 1.6 3.4 1.6 4.2 1.6 5 3.2 11.5 7.9 33 3.2 14.7 3.2 16 9.5 52.1 4.8 29.2 14.3 92.4 1.6 9.3 1.6 7.8 3.2 11.5 1.6 4.7 1.6 2.9 1.6 .4 1.6-1.7 1.5-3 3.2-8.2 1.6-5.6 1.6-8.2 3.2-21.7 14.3-107.2 3.2-22.2 1.6-10 4.8-26.7 1.6-8.3 3.1-14.5 1.6-6.2 1.6-5.1 3.2-7.3 4.8-8.9 3.2-4.6 3.1-3.4 3.2-2.3 3.2-1.9 4.8-2 3.2-.8 3.1-.6 6.4-.7 27.1-.9 6.3-1 9.6-2.4 4.7-.7 4.8 .2 11.2 1.4 9.5 .5 3.2 .4 4.8 1.1 9.5 3.1 3.2 .5 1.6 .1 4.8-.4 7.9-2 4.8-.8 3.2-.3 9.5-.1 8-.4 3.2 .1 3.1 .6 3.2 1.2 3.2 1.5 8 4.3 3.1 1.3 3.2 .9 17.5 2.5 4.8 .4 4.8-.4 7.9-2.2 3.2-.6 3.2-.1 1.6 .2 1.6 .3 3.2 1 7.9 3.4 3.2 1.1 12.7 2.8 9.6 3.2 4.7 1.2 4.8 .3 11.2-1.1 4.7 .3 12.8 2.5 14.3 1.8 14.3 3.3 4.8 .5 9.5 .3 3.2 .4 4.8 1.1 9.5 3 3.2 .7 3.2 .4 12.7 .6 9.6 1 4.7 .2 4.8-.3 8-1.2 4.8-.1 4.7 .7 4.8 1.4" stroke="#4472C4"/>
<path d="M131.8 419.6l8 .5 6.3-1.3 6.4-1.9 11.1-4.9 3.2-1.2 3.2-1 4.8-.7 6.3-.2 14.4 .9 6.3 0 6.4-1 11.1-2.6 3.2-.5 3.2-.2 12.7 .4 14.3-.6 8 .1 7.9 .5 14.4 1.5 4.7 0 3.2-.3 3.2-.6 9.6-2.5 3.1-.6 3.2-.4 11.2-.5 6.3-.8 6.4-1.5 6.4-2.2 7.9-3.7 12.7-7.2 11.2-5.9 4.8-3 4.7-3.8 3.2-3 4.8-5.1 23.9-27.4 4.7-6.6 9.6-15.8 3.2-4.8 1.5-2.1 6.4-7.3 3.2-3.2 1.6-1.2 1.6-.8 1.6-.4 1.6 0 1.5 .3 3.2 1.5 1.6 1 3.2 2.6 9.6 9.6 3.1 3.9 3.2 5.2 3.2 6.4 4.8 11 6.3 15.7 3.2 8.3 3.2 9.4 3.2 10.1 4.8 16.4 7.9 28.6 12.7 47.9 6.4 23.1 6.4 24.9 3.2 10.8 1.6 4.2 4.7 10.4 1.6 2.4 1.6 1.2 1.6 0 1.6-1 1.6-1.7 3.2-4.9 3.1-6.1 1.6-4.2 1.6-5.5 3.2-13.7 9.6-48.6 1.6-7.4 1.5-5.9 8-38.2 4.8-21.6 4.7-18.4 8-27.8 3.2-10.1 3.2-8.7 1.6-3.6 1.5-3 3.2-4.7 4.8-5.9 4.8-5 4.8-3.8 3.1-1.7 14.4-6 4.7-1.9 11.2-3.6 4.7-1 1.6-.1 3.2 .2 12.7 2.9 3.2 .4 4.8 .2 3.2-.2 3.2-.4 3.2-.8 6.3-1.8 3.2-.7 3.2-.3 3.2 .1 3.1 .5 4.8 1.3 3.2 1.4 8 3.9 3.1 1.2 1.6 .4 3.2 .4 9.6-.3 6.3 .5 8 1.3 11.1 3.1 3.2 .7 4.8 .5 11.1 .7 4.8 .6 3.2 .7 3.2 1 3.1 1.4 8 4.9 3.2 1.7 3.2 1.3 4.7 1.1 4.8 .7 4.8 .3 11.1-.5 4.8 .1 4.8 .5 4.7 .8 3.2 .8 3.2 1.1 12.7 5.5 15.9 5.6 3.2 1 3.2 .6 3.2 .4 12.7 .9 11.2 .6 4.7 .6 6.4 1.1 6.4 1.6 3.1 1.3 9.6 4.4 3.2 1.1 4.8 1.1 9.5 1.7 4.8 .5 17.5 .3 9.5-.2 4.8 .1" stroke="#5B9BD5"/>
<path d="M131.8 324l4.8 1.7 1.6 .7 1.6 1.1 6.3 11.4 4.8 6.9 3.2 3.6 7.9 8 3.2 3.5 3.2 4 8 11.4 3.1 4.2 3.2 3.5 1.6 1.4 3.2 2 3.2 1.1 1.6 .3 7.9 .5 3.2 .8 1.6 .7 1.6 .9 3.2 2.2 6.3 5.4 3.2 2.4 3.2 1.7 1.6 .5 1.6 .3 3.2-.1 3.1-.8 8-2.8 3.2-.6 1.6-.2 1.6 .1 3.2 .4 9.5 2.7 3.2 .6 3.2 .3 11.1 0 9.6 .3 4.7-.1 4.8-.5 9.5-2 4.8-.3 4.8 .7 8 2.4 3.1 .7 3.2 .3 1.6 0 4.8-.9 7.9-2.4 4.8-.7 4.8 .4 9.5 2.3 3.2 .2 1.6 0 4.8-1 7.9-2.7 3.2-.6 1.6-.2 1.6 .1 3.2 .6 3.2 1 7.9 3.3 1.6 .3 1.6-.1 1.6-.4 1.6-.9 1.6-1.3 3.2-3.3 7.9-10.4 14.3-19.9 3.2-4.9 3.2-6 3.2-6.9 3.2-7.7 3.1-8.5 1.6-4.7 1.6-5.6 4.8-17.8 1.6-4.8 3.2-7.4 1.6-3.2 1.6-2.1 1.6-.6 1.5-.1 3.2 .6 3.2 1.3 3.2 2 4.8 3.8 1.6 1.8 1.5 2.2 3.2 5.8 4.8 10.6 6.4 15.6 3.2 8.5 14.3 42 6.3 20.5 8 26.8 4.8 17 1.6 5 1.6 4.1 3.1 6.2 1.6 2.4 1.6 1.4 1.6 0 1.6-.7 1.6-1.2 1.6-1.5 3.2-3.6 1.6-2 1.5-2.6 3.2-7 8-20.4 7.9-17.9 8-20 3.2-7.5 9.5-20.9 3.2-6 3.2-4.8 1.6-1.8 3.2-2.5 1.6-1 3.1-1.4 1.6-.4 3.2-.4 9.6 .2 3.1-.4 3.2-.8 3.2-1 3.2-1.4 11.1-5.5 3.2-1.1 1.6-.4 3.2-.2 3.2 .5 3.2 1.2 7.9 3.5 3.2 .8 1.6 .1 1.6 0 3.2-.5 9.5-3.1 4.8-.8 3.2 0 3.1 .4 3.2 .8 8 2.3 4.8 .8 4.7-.1 9.6-1.8 3.2-.1 1.5 .1 1.6 .2 3.2 .9 8 3.4 4.8 1.2 4.7 .3 8-.6 3.2-.1 3.1 .2 4.8 .7 9.6 1.6 4.7 1.1 4.8 1.3 11.2 3.6 4.7 1.2 3.2 .4 3.2 .2 3.2-.2 3.2-.6 7.9-1.9 3.2-.3 1.6 .2 1.6 .3 3.2 1.3 3.1 2.1 4.8 3.6 3.2 2.2 3.2 1.4 1.6 .4 1.6 .2 3.1-.3 9.6-2.9 3.2-.3 1.6 0 1.6 .3 3.1 .8 9.6 4 4.8 1.5 4.7 .3 9.6-1 3.2 0 1.6 .3 1.6 .4 3.1 1.3 6.4 3.5 3.2 1.6 3.2 .9 1.6 .2 3.1-.2 8-2.2 3.2-.5 1.6 0 1.6 .1 3.1 .8 11.2 4.5 3.2 .9 3.1 .5 4.8 .3 12.7-.3 16 1.6 11.1-.4" stroke="#C9C9C9"/>
<path d="M131.8 236.9l6.4-.9 1.6 .7 1.5 4.9 3.2 11.1 12.8 49.2 6.3 22.2 4.8 14 3.2 8 3.2 6.8 1.6 2.9 3.1 5.1 3.2 4.1 3.2 3.1 3.2 2.3 4.8 2.4 4.7 1.5 14.4 3.2 14.3 4 4.7 1 3.2 .5 4.8 .4 4.8 0 15.9-1.5 6.4-.3 6.3 .1 12.8 .7 6.3 .1 6.4-.2 19.1-1.2 17.5 .3 6.3-.1 6.4-.5 6.4-1 3.2-.8 3.1-1.3 20.7-10.4 6.4-3.6 4.8-3.3 3.1-2.6 4.8-4.3 3.2-3.4 3.2-4.1 4.8-7 4.7-7.9 8-14.1 3.2-6.2 6.3-14.4 3.2-6.3 1.6-2.4 3.2-4 3.2-3.6 1.6-1.2 1.6-.6 1.5 .1 1.6 .4 1.6 .6 1.6 .9 3.2 2.4 4.8 4.7 4.8 5.5 1.5 2.2 1.6 2.9 1.6 3.5 3.2 8.4 3.2 9.9 7.9 28 4.8 19.5 6.4 29.8 9.5 47 9.6 49 12.7 63.4 1.6 7 1.6 5.9 3.2 9 1.6 4 1.6 3.1 1.6 1.4 1.5-.2 1.6-1 1.6-1.6 1.6-2 4.8-7.6 1.6-3.5 1.6-4.6 1.6-5.5 3.1-13.2 6.4-29.5 6.4-27.4 4.8-21.9 1.5-8.1 6.4-28.2 3.2-12.6 4.8-17 3.1-10.7 3.2-9.8 3.2-8.5 1.6-3.6 1.6-3.3 3.2-5 6.3-8.7 4.8-5.5 3.2-3 1.6-1.3 3.2-1.9 12.7-4.7 9.5-3.9 4.8-1.2 3.2-.2 3.2 .3 9.5 2.6 3.2 .4 1.6 0 4.8-.8 9.5-3 4.8-.7 3.2-.1 9.5 .4 9.6-.1 3.2 .1 3.1 .5 3.2 .9 9.6 4.1 4.7 1.4 1.6 .2 3.2 .1 11.2-1.6 4.7 .1 3.2 .5 8 1.8 3.2 .4 3.1 .3 8 .2 4.8 .6 4.7 1.2 8 2.8 3.2 .9 3.2 .6 7.9 1 4.8 .8 3.2 .9 7.9 2.6 4.8 1.1 3.2 .4 3.2 0 9.5-.9 4.8-.1 4.8 .5 9.5 1.5 4.8 1 4.8 1.4 4.7 2 9.6 4.9 3.2 1.2 3.1 .8 4.8 .2 11.2-1.4 4.7-.3 15.9 .6 4.8 .6 3.2 .7 3.2 1.2 3.2 1.5 7.9 4.6 3.2 1.4 3.2 1 1.6 .2 4.8 0 7.9-1 3.2-.2 3.2 .1 7.9 .7 3.2 .1 3.2-.2 8-1.1 3.1-.1 3.2 .3 3.2 .7" stroke="#F4B183"/>
<path d="M131.8 380.8l3.2-.9 1.6-.3 1.6 0 3.1 .8 4.8 2 1.6 .3 1.6-.1 1.6-.5 4.8-2.7 1.6-.8 1.6-.4 1.5 0 4.8 1.1 1.6 .1 1.6-.2 1.6-.7 1.6-1 4.8-3.6 1.5-.8 1.6-.4 1.6-.1 4.8 .8 1.6-.1 1.6-.5 1.6-.8 4.8-3.4 1.5-.8 1.6-.3 1.6 0 6.4 2.2 1.6 .2 1.6-.2 4.7-1.6 1.6-.4 1.6 0 1.6 .5 1.6 .8 4.8 3.3 1.6 .7 1.6 .3 1.6-.1 4.7-1.5 1.6-.3 1.6 .1 1.6 .4 4.8 2 1.6 .4 1.6 0 1.6-.5 6.3-3.9 1.6-.5 1.6-.2 1.6 .3 4.8 1.3 1.6 .1 1.5-.2 1.6-.6 4.8-2.5 1.6-.5 1.6 0 1.6 .4 4.8 2.5 1.6 .6 1.5 .2 1.6-.1 4.8-1.6 1.6-.4 1.6 0 1.6 .4 6.3 3.4 1.6 .4 1.6 0 1.6-.3 4.8-2.1 1.6-.4 1.6 0 1.6 .2 4.7 1.7 1.6 .2 1.6-.2 1.6-.6 4.8-3.4 1.6-1 1.6-.7 1.6-.3 1.6 .1 4.7 .7 1.6-.1 1.6-.6 1.6-.9 4.8-3.4 1.6-.6 1.6-.3 1.5 .1 4.8 1.6 1.6 .3 1.6-.1 1.6-.4 4.8-2.6 1.6-.6 1.6-.4 1.5 0 4.8 1.1 1.6 .1 1.6-.3 1.6-.7 1.6-1.2 4.8-4.6 1.5-1.3 1.6-.9 1.6-.6 4.8-1.2 1.6-.8 1.6-1.3 1.6-1.7 4.8-6.6 3.1-3.8 1.6-1.4 6.4-4.1 1.6-1.5 1.6-1.9 4.7-7.2 3.2-4.4 3.2-3.3 4.8-4 1.6-1.5 6.3-7.9 3.2-3.1 1.6-1 1.6-.6 1.6-.1 1.6 .3 4.8 1.7 6.3 1.7 1.6 .9 1.6 1.4 1.6 1.8 3.2 4.8 3.2 5.9 4.7 11.1 3.2 8.2 3.2 9.5 3.2 11.4 3.2 13.3 14.3 66 3.2 17.1 7.9 45.9 8 39.9 4.8 27.3 1.6 8 1.5 6.6 3.2 10.2 1.6 3.5 1.6 1.4 1.6-.8 1.6-2.3 1.6-3 4.8-10.5 1.5-4.3 1.6-6.1 1.6-7.8 1.6-9.1 6.4-43.5 6.4-38.8 1.5-7.4 11.2-63.3 4.8-23.5 3.1-12.6 3.2-9.8 3.2-7.7 6.4-12.2 3.1-5 1.6-1.9 1.6-1.3 1.6-.9 4.8-2.2 1.6-1.1 1.6-1.6 4.8-5.7 1.5-1.7 1.6-1.2 1.6-.8 1.6-.3 4.8 .1 1.6-.2 1.6-.6 1.6-.9 4.7-3 1.6-.5 1.6-.2 1.6 .3 4.8 1.7 1.6 .2 1.6-.1 1.6-.5 4.7-2.2 1.6-.4 1.6 .1 1.6 .5 1.6 1 4.8 3.5 1.6 .7 1.6 .3 1.5-.1 4.8-1.3 1.6-.2 1.6 0 1.6 .4 4.8 1.4 1.6 .1 1.6-.4 1.5-.7 4.8-3.2 1.6-.7 1.6-.3 1.6 .2 1.6 .5 4.8 2.3 1.5 .4 1.6 0 1.6-.4 4.8-1.7 1.6-.1 1.6 .2 1.6 .7 4.7 2.9 1.6 .7 1.6 .4 1.6 0 4.8-.6 1.6 .1 1.6 .5 1.6 .9 4.7 3.9 1.6 1 1.6 .6 1.6 .1 1.6-.4 4.8-2 1.6-.3 1.6 0 1.6 .3 4.7 2 1.6 .3 1.6 0 1.6-.3 4.8-1.4 1.6-.1 1.6 .3 1.6 .7 4.7 3.4 1.6 .9 1.6 .4 1.6 .1 1.6-.4 4.8-1.7 1.6-.1 1.5 .3 1.6 .7 4.8 3.1 1.6 .8 1.6 .4 1.6 .2 4.8-.1 1.6 .3 1.5 .7 1.6 1.1 4.8 4 1.6 .9 1.6 .5 1.6 0 1.6-.4 4.7-2.1 1.6-.3 1.6 0 1.6 .5 4.8 2 1.6 .4 1.6 0 1.6-.3 4.7-1.4 1.6 0 1.6 .3 1.6 .7 4.8 3.1 1.6 .8 1.6 .3 1.6-.1 4.7-1.6 1.6-.4 1.6 .1 1.6 .5 1.6 .9 4.8 3.6 1.6 .9 1.6 .5 1.5 .2 4.8 0 1.6 .2 1.6 .7 6.4 4.4 1.6 .7 1.6 .2 1.5-.1 4.8-2.1 1.6-.5 1.6-.2 1.6 .3 1.6 .6 4.8 2.5 1.5 .4 1.6 0 1.6-.3 4.8-1.7 1.6-.2 1.6 .2 1.6 .5 4.7 2.4 1.6 .5 1.6 .2 1.6-.2 4.8-1.5 1.6 0 1.6 .3 1.6 .8 6.3 5.6 1.6 1 1.6 .5 1.6 .2 4.8-.5 1.6 0 1.6 .3 1.6 .5 4.7 2 1.6 .2 1.6-.2 1.6-.6 4.8-2.8 1.6-.6 1.6-.2 1.6 .3 1.5 .7 4.8 2.6 1.6 .4 1.6 .1" stroke="#CC9A00"/>
<path d="M131.8 198.8l6.4 1.6 1.6 1.4 7.9 27.5 4.8 15.8 4.8 14.7 4.7 13.7 4.8 12.4 4.8 11.1 4.8 9.8 4.7 8.6 4.8 7.6 6.4 8.8 7.9 9.5 8 8.5 6.3 6 6.4 4.9 3.2 2 3.2 1.7 3.2 1.5 3.1 1.1 6.4 1.5 6.4 .7 6.3 0 15.9-1.2 8-.2 6.4 .3 31.8 2.3 6.4 .3 4.7-.1 4.8-.3 6.4-.9 19.1-3.3 9.5-1.5 25.5-2.1 4.7-.6 3.2-.7 3.2-1.1 3.2-1.4 4.8-2.8 4.7-3.6 4.8-4.6 6.4-7.7 9.5-13.1 6.4-10.5 3.2-4.7 1.6-1.8 1.6-1.4 3.1-2.4 1.6-.8 1.6-.4 1.6 .2 1.6 .7 3.2 2 3.2 2.8 4.7 5.3 4.8 5.7 3.2 4.9 4.8 9.7 11.1 26.4 3.2 8.5 4.8 13.9 11.1 35.2 4.8 16.8 9.5 35.2 4.8 19.4 3.2 11.8 1.6 4.6 3.2 7.7 1.6 3.3 1.5 2.3 1.6 .7 1.6-.1 1.6-.7 1.6-1.3 3.2-3.6 3.2-4.6 1.6-3.4 1.6-4.4 3.1-10.8 8-32.7 14.3-56.3 4.8-17.8 4.8-15.2 6.3-17.8 4.8-11.9 3.2-6.7 3.2-5.3 1.6-2.1 4.7-4.7 4.8-3.7 3.2-1.9 3.2-1.5 7.9-2.6 4.8-2 3.2-1.8 11.1-7.1 3.2-1.5 1.6-.6 3.2-.7 1.6-.1 3.2 .2 11.1 2.7 4.8 .4 4.7-.3 9.6-1.4 4.8 0 4.7 .8 11.2 3.1 4.7 .6 4.8-.1 12.7-1.4 3.2 0 4.8 .3 12.7 1.7 8 1.7 6.4 2.2 9.5 4.2 3.2 1.3 3.2 .9 3.2 .6 4.7 .3 8-.1 3.2 .2 4.7 .6 8 1.4 4.8 .5 4.7 0 8-.7 4.8 .2 3.2 .9 3.1 1.4 3.2 2.1 8 6.2 3.2 2.3 3.1 1.7 3.2 1.1 3.2 .5 3.2-.2 3.2-.5 9.5-2.4 6.4-.7 6.3 0 8 .8 6.4 1.3 4.7 1.8 4.8 2.5 9.6 5.8 4.7 2.2 4.8 1.4 4.8 .6 17.5 .3 4.8-.1 4.7-.7 11.2-2.7 3.2-.3 3.1 .3 3.2 .9 3.2 1.5 3.2 2.1 6.4 4.6 3.1 2 3.2 1.5 3.2 .9" stroke="#FFC000"/>
<path d="M131.8 167.4l3.2-.2 3.2 .1 1.6 1.3 6.3 24.9 4.8 17.1 6.4 21.1 14.3 45.9 4.8 13.9 6.3 16.6 6.4 14.5 4.8 9.4 3.1 5.3 3.2 4.4 3.2 3.5 3.2 2.8 7.9 5.8 9.6 7.8 4.8 3.6 6.3 3.6 8 3.8 4.8 2.1 3.1 1.1 3.2 .7 11.2 1.1 9.5 2.3 4.8 .5 1.6 0 3.2-.6 9.5-3.2 4.8-1.3 6.3-1 6.4-.6 4.8 .2 3.2 .6 7.9 2.8 3.2 .9 3.2 .4 3.2-.1 1.6-.3 3.1-.9 14.4-5.6 3.1-1.5 4.8-2.7 19.1-11.8 4.8-3.7 11.1-9.5 9.6-7.5 3.2-2.9 4.7-5.3 4.8-6.6 3.2-5.7 6.4-12.3 3.1-5.5 1.6-2.3 6.4-8.2 1.6-1.8 1.6-1.4 1.6-.8 1.6-.4 1.5 .1 1.6 .5 1.6 .9 3.2 2.7 3.2 3.7 6.4 8.4 1.6 2.2 3.1 6 3.2 7.7 3.2 9 8 26.2 4.7 18 6.4 27.2 9.5 43 11.2 53.3 12.7 56.3 1.6 6.1 1.6 5.1 3.2 8.3 1.6 3.9 1.6 2.8 1.6 1.4 1.5-.2 1.6-1.1 1.6-2 1.6-2.5 3.2-5.9 1.6-3.9 1.6-5.4 3.2-14.2 6.3-34.1 6.4-31.9 8-42.7 3.1-15.9 3.2-14.4 6.4-25.5 3.2-11.9 3.1-10.7 3.2-8.9 1.6-3.6 4.8-8.8 3.2-5 1.6-2.1 3.1-3.6 3.2-2.7 3.2-1.9 6.4-3 4.8-1.9 3.1-.9 1.6-.3 3.2-.1 8 .6 4.7-.2 3.2-.6 8-2.5 3.2-.6 3.1-.2 9.6 .4 12.7-1 3.2 .1 9.6 .9 7.9 .1 4.8 .4 4.8 1 7.9 2.1 3.2 .6 3.2 .4 14.3 .5 11.1-.4 4.8 .2 1.6 .3 3.2 1 7.9 3.8 4.8 1.8 3.2 .6 8 .6 3.1 .5 9.6 2.6 3.2 .7 12.7 .7 3.2 .6 9.5 2.4 12.8 1.5 4.7 1.4 11.2 4.5 6.3 1.6 6.4 .9 4.8 .5 4.7 0 8-.4 4.8 .4 4.7 1.4 8 3.7 4.8 1.5 12.7 1.8 11.1 2.8 3.2 .4 8 .6 3.2 .5 3.1 .9 6.4 2.2 3.2 .8 1.6 .3 3.2 .1 9.5-1.1 4.8 .2 3.2 .5 25.4 5.7 6.4 .9" stroke="#FFC000"/>
<path d="M131.8 409.8l3.2 .1 7.9 1.8 3.2 0 3.2-.6 4.8-1.5 3.2-.5 7.9-.4 6.4-.9 3.2-.3 1.6 .2 3.1 1.1 8 4.6 1.6 .6 1.6 .3 1.6 0 3.2-.7 4.7-1.6 3.2-.8 8-.7 7.9-1.5 3.2-.1 3.2 .6 4.8 1.6 3.1 .7 3.2 .2 6.4-.9 3.2 0 3.2 .8 4.7 1.7 3.2 .6 3.2-.3 7.9-2.8 3.2-.7 15.9-1.1 1.6 .2 3.2 .8 6.4 3 1.6 .5 1.6 .3 1.6 0 3.1-.8 6.4-3 3.2-1.2 6.4-1.2 3.1-.8 3.2-1.4 4.8-2.5 3.2-1.3 9.5-2.3 3.2-1.5 8-5 3.1-1.4 6.4-1.7 3.2-1.6 3.2-2.6 9.5-10.6 8-6.8 3.2-2.9 9.5-10.5 8-7.9 3.1-4 4.8-7.8 8-15.8 3.2-5.7 3.1-4.9 4.8-6.5 8-9.4 3.1-3.2 1.6-1.2 1.6-.9 1.6-.5 1.6-.2 1.6 .2 3.2 .8 3.2 1.1 3.2 1.5 3.1 2 1.6 1.3 3.2 3.3 3.2 5.1 6.4 12.2 7.9 14.7 3.2 7.6 3.2 9.4 27 90.8 3.2 10.1 1.6 4.1 1.6 3.1 3.2 4.4 1.6 1.8 1.6 1 1.6-.2 1.5-1 3.2-3.3 1.6-2.1 1.6-2.6 1.6-4.1 1.6-5.4 1.6-6.3 4.8-21 6.3-25.7 4.8-18.1 3.2-10.7 7.9-24.6 3.2-9 1.6-3.5 1.6-2.8 1.6-2 6.4-7 4.7-5.8 3.2-3.1 1.6-1.1 1.6-.7 1.6-.5 3.2-.2 9.5 1.4 4.8 .5 3.2 .2 3.2-.1 3.1-.6 8-1.8 9.5-2.8 3.2-.5 3.2 .3 6.4 2.2 1.6 .3 1.6 .1 1.5-.2 4.8-1.4 1.6-.3 1.6 0 1.6 .2 1.6 .6 4.8 2.4 1.5 .7 1.6 .3 1.6 .1 1.6-.2 4.8-1.3 1.6-.2 3.2 .1 4.7 .7 1.6-.1 1.6-.3 1.6-.6 4.8-2.4 1.6-.5 1.6-.3 1.6 .1 1.6 .4 1.5 .7 6.4 3.4 3.2 .9 7.9 .6 8 1.3 8 .8 12.7 1.6 9.5 1.9 3.2 .2 4.8-.6 3.2 .1 1.6 .4 1.6 .7 7.9 5.8 1.6 .8 1.6 .4 1.6 .1 6.4-.6 1.5 .1 6.4 1.6 1.6 .2 1.6-.1 1.6-.4 4.8-1.5 1.6-.3 1.5 .1 1.6 .4 1.6 .8 4.8 3.4 3.2 1.8 1.6 .4 1.6 .2 4.7 0 3.2 .4 3.2 1.1 4.8 2.1 3.2 .9 15.9 2 9.5 .3 6.4 .4 4.8 .9 3.1 1.3 8 5.1 1.6 .7 1.6 .4 1.6 .1 1.6-.2 4.7-1.4 3.2-.3 1.6 .2 4.8 1.4 3.2 .7 6.3-.1 1.6 .2 1.6 .5 1.6 .8 6.4 4.7 1.6 .9 1.5 .5 1.6 .1 1.6-.2 4.8-1.3 1.6-.2 1.6 .1 1.6 .3 4.8 1.7 3.1 .7 3.2 0 6.4-1.1 3.2 .1 6.3 1.2 8 .8 3.2 .7 3.2 1 9.5 3.7" stroke="#D26012"/>
<path d="M131.8 202.5l3.2 .3 3.2 .6 1.6 1.4 12.7 52.3 7.9 35.4 4.8 19.4 3.2 10.9 4.8 14.2 6.3 17.3 3.2 7.5 3.2 6.1 3.2 4.9 7.9 9.9 3.2 3.4 1.6 1.4 1.6 1 1.6 .8 1.6 .4 4.8 .6 3.1 .8 3.2 1.6 4.8 2.9 3.2 1.2 3.2 .2 4.7-.2 1.6 .1 3.2 .7 4.8 1.4 3.2 .5 7.9-.6 8 .7 3.2-.3 6.3-2.2 3.2-.5 3.2 .5 4.8 1.5 3.2 .5 1.5-.1 4.8-1 3.2-.4 3.2 .3 4.8 1.1 3.1 .2 1.6-.2 6.4-1.2 8-.5 1.5-.4 3.2-1.4 4.8-3.1 3.2-1.7 3.2-.8 4.7-.4 3.2-.8 1.6-.7 8-4.8 3.1-1.1 4.8-1.2 3.2-1.4 3.2-2.2 6.4-5.1 4.7-3.2 3.2-2.4 3.2-3.2 7.9-9.8 3.2-3.2 4.8-4.1 3.2-3.5 3.2-4.5 4.7-7.6 3.2-4.6 8-9.7 3.2-5.3 7.9-16.5 3.2-5.7 3.2-4.9 4.8-6.2 4.7-6.8 1.6-1.9 1.6-1.4 1.6-1 1.6-.3 1.6 .3 1.6 .8 1.6 1.2 3.2 3 4.7 5 3.2 3.9 3.2 4.9 1.6 3.4 1.6 4.5 3.2 11 11.1 45.4 4.8 22.9 14.3 79 3.2 19.4 9.5 62.2 6.4 39.3 3.2 18.2 1.6 7.4 4.7 17.4 1.6 3.8 1.6 1.2 1.6-1.3 1.6-3 1.6-4.4 1.6-5 1.6-6.9 1.6-9.6 1.6-11.7 4.7-39 12.8-97.4 1.6-10.3 1.5-8.2 3.2-19 3.2-16.9 1.6-7.1 1.6-6 1.6-4.8 3.2-7.5 3.1-6.5 3.2-5.2 1.6-1.9 1.6-1.5 1.6-1 3.2-1.5 4.8-1.9 12.7-3.9 3.2-1.5 4.7-2.4 1.6-.7 1.6-.3 1.6 0 1.6 .4 4.8 2.2 1.6 .6 1.6 .3 1.6-.1 1.5-.4 6.4-3.1 1.6-.3 1.6 .2 1.6 .5 1.6 1 4.8 3.3 1.5 .6 1.6 .2 1.6-.3 1.6-.7 4.8-2.7 1.6-.6 1.6-.2 1.6 .1 1.6 .4 4.7 1.7 1.6 .4 1.6 0 1.6-.2 4.8-1.4 3.2-.6 3.1 .1 6.4 1 6.4-.3 3.2 .1 3.1 .7 8 2.6 4.8 .6 6.3 0 3.2-.4 6.4-1.2 1.6-.1 1.6 .1 1.6 .4 1.5 .6 4.8 2.5 1.6 .7 1.6 .4 1.6 .1 1.6-.2 4.8-1.5 1.5-.3 1.6 .1 1.6 .5 1.6 .8 4.8 3.8 1.6 1 1.6 .7 1.6 .2 1.6-.3 6.3-3.2 1.6-.4 1.6 0 1.6 .5 1.6 .9 4.8 3.3 1.6 .8 1.5 .4 1.6 .2 1.6-.2 4.8-1 3.2 .1 1.6 .3 4.8 1.6 3.1 .7 6.4 0 3.2 .3 3.2 .8 4.7 1.8 3.2 .8 3.2 .4 12.7 .5 4.8 .4 3.2 .7 6.4 2.6 3.1 .8 3.2-.1 4.8-1.1 1.6-.2 1.6 .1 1.6 .4 1.6 .8 4.7 3.1 1.6 .7 1.6 .5 1.6 0 1.6-.4 4.8-2.4 1.6-.6 1.6-.2 1.5 .4 1.6 .7 6.4 5.2 1.6 .9 1.6 .5 1.6 0 1.6-.2 4.7-1.6 1.6-.2 1.6 0 1.6 .3 4.8 1.7 3.2 .7 1.6 0 6.3-.9 1.6 0 3.2 .6 6.4 2.4 3.1 .8 9.6 .7 11.1 1.1 9.6 1.5 3.2-.1 7.9-2 1.6 0 1.6 .2" stroke="#698ED0"/>
<path d="M131.8 334.1l4.8 0 1.6 .2 1.6 .5 11.1 12.8 3.2 3.4 4.8 4.3 4.7 3.2 4.8 2.1 12.7 3.7 6.4 2.4 6.4 3.3 11.1 7 3.2 1.8 3.2 1.5 3.1 1.1 3.2 .6 3.2 .1 3.2-.3 9.5-1.6 3.2-.3 3.2 .1 4.8 .6 11.1 2.4 3.2 .5 4.8 .2 6.3-.2 17.5-1.3 16-.3 4.7-.5 3.2-.7 4.8-1.7 12.7-6.4 4.8-1.7 4.8-.8 3.1-.1 8 .2 4.8-.6 4.7-1.5 4.8-2.5 6.4-4.7 11.1-9.5 6.4-5 6.4-4.5 12.7-8.3 3.2-2.5 3.2-2.9 4.7-5 6.4-7.9 9.5-14.4 4.8-6.7 3.2-3.7 3.2-3 9.5-7 4.8-2.8 3.2-1 1.6-.1 1.6 .1 1.6 .5 3.1 1.5 3.2 2.4 3.2 2.9 3.2 3.4 1.6 2.4 3.2 6.3 1.5 3.9 3.2 8.8 8 24.5 4.8 17 14.3 53.8 11.1 42.8 8 33 1.6 5.4 3.2 8.6 1.5 3.7 1.6 2.7 1.6 1 1.6-.2 1.6-.9 1.6-1.6 3.2-4.2 1.6-2.7 1.6-3.9 1.6-5.2 3.1-12.9 6.4-29.8 9.6-42.9 6.3-27.3 3.2-12 4.8-16 3.2-9.8 3.1-8.5 3.2-6.8 1.6-2.6 3.2-4 4.8-5.2 4.7-4.4 3.2-2.5 3.2-2 6.4-2.7 3.2-.9 4.7-.8 12.8-.7 7.9-1 4.8-1.2 11.1-3.2 3.2-.6 3.2-.4 4.8 .2 3.1 .6 4.8 1.5 9.6 3.8 3.2 .8 3.1 .3 3.2-.2 3.2-.5 9.5-2.8 3.2-.7 3.2-.2 3.2 .2 3.2 .6 3.2 1.1 12.7 5.5 4.8 1.6 3.1 .8 3.2 .4 3.2 .2 3.2-.1 9.5-.9 3.2 0 3.2 .3 3.2 .7 3.2 1 14.3 6.7 3.2 1.2 3.2 .9 4.7 .8 12.8 1.7 14.3 2.4 15.9 2.2 9.5 1.8 4.8 1.4 4.8 1.6 4.8 2.2 11.1 5.5 3.2 1.2 3.2 .8 3.1 .4 3.2-.2 3.2-.5 8-1.9 3.2-.5 4.7-.1 3.2 .6 3.2 1 4.8 2.1 15.9 9.2 4.7 2 3.2 .9 3.2 .5 4.8 .1 14.3-2 3.2-.2 4.8 .2 7.9 1 11.2 2 6.3 1.6 4.8 1.5" stroke="#70AD47"/>
<path d="M131.8 265.8l6.4 .2 1.6 .8 4.7 13.8 14.4 46.5 6.3 19.2 3.2 8.4 3.2 7.2 3.2 6.1 1.6 2.6 1.5 2.2 3.2 3.6 1.6 1.5 3.2 2.2 3.2 1.7 7.9 3.6 3.2 1.8 11.2 7.5 3.1 1.9 4.8 2.1 1.6 .4 3.2 .5 4.8 0 7.9-.9 4.8-.4 11.1 .2 4.8-.2 15.9-1.7 6.4-.9 9.5 .3 4.8-.3 3.2-.6 3.2-1 12.7-6.1 4.8-1.5 4.8-.6 7.9 .1 3.2-.1 3.2-.6 3.2-1.1 3.1-1.7 3.2-2.2 9.6-7.9 4.7-3.6 4.8-2.9 9.6-5.1 6.3-4.2 4.8-3.8 11.1-9.7 12.8-10.8 3.2-3.4 3.1-4.3 3.2-4.9 8-13.1 3.2-4.8 3.1-3.9 3.2-2.9 3.2-2.4 1.6-.9 3.2-1.3 1.6-.3 3.1-.1 1.6 .4 3.2 1.2 9.6 4.9 6.3 3.1 1.6 .9 1.6 1.3 1.6 1.7 3.2 4.3 4.8 8.5 6.3 13.5 3.2 7.7 3.2 8.4 17.5 47.8 11.1 31.8 4.8 14.6 3.2 8.9 1.6 3.5 3.2 5.2 1.6 2.2 1.6 1.6 1.5 .5 1.6-.5 1.6-1 3.2-3.4 4.8-6.2 1.6-2.6 1.6-3.3 3.1-7.9 8-22.7 6.4-16.2 4.7-13.2 9.6-29 9.5-27.2 4.8-12.1 3.2-6.4 1.6-2.5 1.6-2.1 3.2-2.9 1.5-1.1 3.2-1.6 4.8-1.4 11.1-1.5 4.8-1.1 4.8-1.8 11.1-4.6 6.4-2 3.2-.6 3.2-.4 4.7 0 6.4 .6 14.3 2.4 3.2 .3 3.2 0 4.8-.5 12.7-2.7 3.2-.4 3.2 0 3.1 .3 4.8 1.1 4.8 1.7 7.9 3.3 4.8 1.8 4.8 1.4 4.8 .9 3.1 .2 4.8 0 4.8-.6 11.1-1.6 3.2-.2 3.2 .2 3.2 .6 4.8 1.7 4.7 2.7 9.6 6.1 3.2 1.6 3.1 1.1 3.2 .6 3.2 0 3.2-.4 9.5-1.8 3.2-.2 3.2 .3 4.8 1.1 12.7 5.3 3.2 1.1 4.8 1.2 4.7 .8 17.5 2.2 4.8 .5 9.6 .5 4.7 .6 4.8 1.4 3.2 1.4 3.2 1.8 9.5 6.1 3.2 1.4 1.6 .5 3.2 .4 3.2-.4 3.1-1.1 9.6-4.7 3.2-1 3.1-.2 3.2 .7 3.2 1.6 3.2 2.3 6.4 5.4 3.1 2.4 3.2 1.8 3.2 1.1 3.2 .4 3.2-.2 11.1-2.7 4.8-.5 4.8 .1 11.1 1.2" stroke="#C0C0C0"/>
<path d="M131.8 150.1l1.6 .3 1.6 .5 3.2 1.3 1.6 2 4.7 27.3 12.8 77.4 4.7 26.3 3.2 15.3 3.2 13.9 4.8 19.4 3.2 11.6 3.1 9.6 1.6 3.8 1.6 3.1 1.6 2.4 1.6 1.9 4.8 4.2 3.2 3.1 6.3 7.6 1.6 1.4 1.6 1.1 1.6 .6 1.6 .2 1.6-.2 4.8-1 1.5-.2 3.2 .2 6.4 1.4 7.9 1 6.4 2.3 3.2 .8 1.6-.1 1.6-.3 6.3-2.7 1.6-.4 1.6 .1 1.6 .4 1.6 .8 4.8 2.7 1.6 .5 1.6 .1 1.6-.3 1.5-.7 8-5.1 1.6-.7 1.6-.4 7.9-.1 8-1.1 6.4 .1 1.6-.1 3.1-.9 4.8-2.1 1.6-.6 1.6-.3 1.6 0 1.6 .3 4.8 1.5 1.5 .1 1.6-.2 1.6-.8 1.6-1.1 6.4-6.8 1.6-1.3 1.6-1.1 1.6-.6 1.5-.3 4.8-.4 3.2-.7 1.6-.7 6.4-3.5 9.5-3.6 6.4-3.8 3.2-1.6 6.3-1.8 1.6-.6 1.6-1 1.6-1.4 1.6-1.8 1.6-2.3 4.7-7.7 3.2-4.3 1.6-1.5 1.6-1.2 6.4-3 3.2-2.5 3.1-3.6 8-10.1 14.3-16.3 3.2-2.6 4.8-2.4 3.2-2.2 1.5-1.5 6.4-7.1 1.6-1.3 1.6-.8 1.6-.1 1.6 .7 1.6 1.3 1.6 1.8 6.3 8.4 1.6 1.7 4.8 4.1 1.6 2.1 1.6 2.8 1.6 3.5 3.1 9.1 9.6 32.3 3.2 11.4 3.2 12.7 7.9 34.1 8 32 4.7 22 9.6 48.9 3.2 14.6 1.6 5.8 1.6 4.4 3.1 7 1.6 3.1 1.6 2.2 1.6 .7 1.6 0 1.6-.5 1.6-1.1 1.6-1.5 1.6-2 1.6-2.3 1.6-2.9 1.5-4.2 1.6-5.2 1.6-6.1 3.2-14 11.2-52 1.5-8.9 4.8-21.1 3.2-12.7 9.5-35.5 6.4-25.7 3.2-11.1 1.6-4.4 1.6-3.6 1.6-2.9 1.6-2.3 1.5-1.8 4.8-4.1 8-9.3 4.8-4.9 9.5-8 3.2-1.9 1.6-.6 1.6-.2 6.3 .5 1.6-.2 1.6-.5 1.6-.9 6.4-4.9 1.6-.7 1.6-.3 1.5 .2 1.6 .5 4.8 2.8 1.6 .7 1.6 .5 1.6 .1 7.9-1.3 1.6 0 6.4 1.2 1.6 .1 3.2-.5 4.7-1.8 3.2-.9 3.2-.1 6.4 .2 4.7-.4 1.6 0 1.6 .3 1.6 .6 1.6 .9 6.4 5.1 1.6 .9 1.6 .5 1.5 0 1.6-.3 4.8-2.4 1.6-.7 1.6-.3 1.6 .1 1.6 .4 7.9 4 3.2 .8 11.2 .5 3.1-.3 6.4-1.2 1.6 0 1.6 .4 1.6 .9 1.6 1.2 6.3 6.7 1.6 1.2 1.6 .7 1.6 .2 1.6-.3 6.4-3.1 1.6-.4 1.5 0 1.6 .4 6.4 3.3 3.2 1.1 7.9 .7 8 1.7 3.2 .2 4.8-.3 1.5 .1 1.6 .4 3.2 1.6 4.8 3.2 1.6 .8 1.6 .5 1.6 .3 6.3-.3 1.6 .2 1.6 .5 1.6 .8 4.8 2.8 1.6 .7 1.6 .3 1.6 0 1.5-.4 6.4-2.6 1.6-.3 1.6 0 1.6 .4 7.9 3.4 6.4 2 8 3.5 1.6 .5 1.5 .2 1.6 0 6.4-1.3 1.6 .1 1.6 .5 1.6 .9 1.6 1.3 4.7 4.5 1.6 1.1 1.6 .7 1.6 .1 1.6-.5 1.6-.8 4.8-3.3 1.6-.8 1.5-.4 1.6-.1 1.6 .3 1.6 .5 17.5 8.2 3.2 .9 1.6 .1 1.6-.2 6.4-2.1 1.5-.2 1.6 .1 1.6 .5 1.6 .8 4.8 3.1 1.6 .7 1.6 .3 1.6 0 1.6-.4 4.7-1.9 1.6-.4 1.6-.2 1.6 .2 1.6 .4" stroke="#A9D18E"/>
<path d="M131.8 212.7l6.4-.7 1.6 .8 4.7 15.9 15.9 56.9 4.8 15.5 3.2 9.5 4.8 12.9 4.7 11.1 4.8 9.2 4.8 7.4 3.2 4 4.8 4.8 4.7 3.5 4.8 2.5 3.2 1.2 4.8 1.4 19 4 19.1 4.7 8 1.4 4.8 .2 3.2-.1 3.1-.3 4.8-.9 11.2-2.7 4.7-1 4.8-.6 3.2-.1 3.2 .1 4.7 .5 14.4 3 4.7 .7 4.8 .3 4.8-.3 6.3-1.1 14.4-3.8 11.1-2.4 8-2.5 11.1-4.2 3.2-1.5 3.2-1.8 3.1-2 4.8-3.6 4.8-4.1 3.2-3.1 4.8-5.5 3.1-4.1 4.8-7 9.6-15.3 3.1-6.4 4.8-10.7 3.2-6.3 1.6-2.4 3.2-4.3 3.1-3.8 1.6-1.2 1.6-.5 1.6 0 1.6 .2 3.2 1.4 1.6 1 3.2 2.8 4.7 5.4 4.8 6.5 1.6 2.9 3.2 7.4 3.2 9.2 3.2 10.5 9.5 34 3.2 12.3 4.8 20.1 14.3 64 15.9 78 6.4 33.4 3.1 15.1 1.6 6.1 4.8 14.2 1.6 3.6 1.6 2.2 1.6 .3 1.6-1.1 1.6-2.3 1.6-3.1 3.1-7.7 1.6-4.7 1.6-6.8 3.2-18.1 6.4-44.2 12.7-84.1 3.2-19.6 3.2-17.3 6.3-30.2 3.2-14.4 3.2-12.9 1.6-5.5 1.6-4.7 1.6-3.7 1.6-3.1 3.1-5.2 4.8-6.5 6.4-7.5 4.8-4.5 3.1-2.5 1.6-1 3.2-1.7 6.4-2.8 7.9-4.5 3.2-1 1.6-.2 3.2 .4 4.8 1.4 3.1 .6 3.2 0 4.8-.5 3.2 0 3.2 .7 6.3 2.1 3.2 .3 3.2-.5 4.8-1.3 3.2-.6 3.1 .1 4.8 .7 3.2 .1 3.2-.7 6.3-2 3.2-.1 3.2 .7 4.8 2.1 3.2 1 3.1 .5 4.8 .4 3.2 .9 3.2 1.6 6.3 4.2 3.2 1.3 3.2 .3 4.8-.5 3.2 0 3.1 .6 4.8 1.3 3.2 .4 3.2-.4 6.4-1.8 1.5-.1 1.6 .1 3.2 1 4.8 2.4 3.2 1.3 3.2 .8 4.7 .6 3.2 .8 3.2 1.7 6.4 4.2 3.1 1.3 3.2 .5 4.8-.1 3.2 .2 3.2 .9 4.7 2 3.2 .8 3.2 .2 6.4-.6 3.1 .2 3.2 .9 4.8 2 3.2 .8 3.2 .2 6.3-.4 3.2 .5 3.2 1 4.8 2.1 3.2 1 7.9 1.3 3.2 .9 3.2 1.6 6.3 3.8 1.6 .7 3.2 1.1 8 .9 7.9 1.7 3.2 .4 3.2-.2 7.9-1.5 1.6-.2 3.2 .2 3.2 .6 14.3 3.4 3.2 1.2 9.6 4.7 4.7 1.4 4.8 .6 9.6 .7 4.7-.1 4.8-.5" stroke="#255E91"/>
<path d="M131.8 236.7l3.2-1.5 1.6-.6 1.6-.4 1.6 1.1 3.1 13.4 8 37.7 4.8 19.4 11.1 42.3 3.2 11.3 3.2 9.4 3.2 7.1 3.1 5.3 4.8 6.9 6.4 9.8 3.2 4.3 1.6 1.6 1.5 1.1 1.6 .8 1.6 .4 4.8 .5 3.2 .9 1.6 .8 4.7 3.1 1.6 .8 1.6 .5 1.6 .2 1.6-.2 1.6-.5 4.8-2.3 1.6-.5 1.6-.2 1.5 .2 1.6 .5 6.4 3 1.6 .4 1.6 .1 1.6-.2 1.6-.6 4.7-2 1.6-.4 1.6-.2 1.6 .1 1.6 .4 4.8 1.7 3.2 .6 3.1-.2 4.8-1 3.2-.1 3.2 .8 4.8 1.8 1.6 .3 1.5 0 1.6-.3 1.6-.6 4.8-2.4 1.6-.6 1.6-.3 1.6 0 1.6 .3 6.3 3.1 1.6 .5 1.6 .2 1.6-.1 1.6-.5 6.4-3.3 1.6-.6 1.5-.3 1.6 0 1.6 .3 4.8 1.5 3.2 .6 3.2 0 6.3-.8 3.2 .3 4.8 1.2 1.6 .1 1.6-.1 1.6-.4 1.5-.7 6.4-4.3 1.6-.9 1.6-.6 1.6-.3 1.6-.1 4.8 .5 1.5 0 1.6-.4 1.6-.7 1.6-1.1 1.6-1.5 6.4-7.4 3.2-2.9 3.1-1.7 4.8-1.5 1.6-.7 3.2-2.1 3.2-3.1 6.3-7.5 6.4-7 3.2-4.1 1.6-2.3 6.3-10.9 3.2-5.1 6.4-7.8 3.2-4.6 3.1-5.9 6.4-14.2 3.2-6 1.6-2.7 1.6-2.1 1.6-1.5 1.6-.9 1.6-.2 1.5 .5 1.6 1.1 1.6 1.5 9.6 10.4 1.6 2.4 1.6 3.5 1.5 4.6 3.2 11.6 4.8 20.1 3.2 14.5 3.2 15.9 4.7 25.6 3.2 18.6 8 51.7 6.3 37.1 1.6 7.3 3.2 9.4 1.6 3.5 1.6 1.2 1.6-.5 1.6-.9 1.6-1.3 3.2-3.3 1.6-2.1 1.5-3.3 1.6-5 1.6-6.5 1.6-7.7 8-44.4 17.5-81.7 3.2-12.3 6.3-21.8 4.8-14.2 3.2-8.5 1.6-3.7 3.2-6.6 3.1-5.3 1.6-1.8 1.6-1.2 1.6-.7 1.6-.1 6.4 1.1 1.6-.2 1.5-.6 1.6-1.2 1.6-1.5 6.4-7 1.6-1.3 1.6-.9 1.6-.6 6.3-1.3 6.4-1.8 3.2-.6 1.6 0 1.6 .3 6.3 2.5 1.6 .4 1.6 .1 1.6-.2 1.6-.5 4.8-2.4 1.6-.7 1.6-.4 1.5 0 1.6 .3 1.6 .7 6.4 3.7 1.6 .6 1.6 .1 1.6-.1 1.6-.5 4.7-1.8 1.6-.4 1.6-.1 1.6 .2 1.6 .5 4.8 2 1.6 .5 1.6 .2 1.5-.1 1.6-.4 6.4-2.8 3.2-.8 3.2-.1 6.3 .6 6.4-.6 1.6 .1 1.6 .2 1.6 .6 1.6 .9 1.5 1.2 6.4 5.7 1.6 1.1 1.6 .6 1.6 .2 1.6-.1 1.6-.5 4.7-1.9 1.6-.3 1.6-.1 1.6 .1 1.6 .5 4.8 1.9 3.2 .9 3.1 .1 4.8-.5 3.2 .2 3.2 1.1 4.8 2.6 3.1 1.2 3.2 .2 4.8-.7 3.2-.1 1.6 .3 1.6 .6 6.3 3.4 3.2 1.1 3.2 .1 4.8-.5 1.6 0 1.6 .4 1.5 .6 1.6 .9 6.4 4.5 1.6 .8 1.6 .4 1.6 .2 1.6-.2 4.7-1.1 1.6-.1 1.6 .1 3.2 1 4.8 2.4 3.2 1 1.5 0 1.6-.1 4.8-1.3 1.6-.2 1.6 .1 1.6 .3 1.6 .6 4.8 2.8 3.1 1.4 1.6 .4 1.6 0 6.4-.9 1.6 .1 1.6 .4 1.6 .7 1.5 1 4.8 3.5 1.6 1 1.6 .7 1.6 .3 1.6 .1 4.8-.4 3.1 .3 3.2 1.3 4.8 2.7 1.6 .7 1.6 .3 1.6-.1 1.6-.4 6.3-3 1.6-.4 1.6 0 1.6 .4 1.6 .8 4.8 3.4 3.1 1.8 1.6 .4 1.6 .2 4.8-.3 3.2 .1 3.2 1 4.7 2.5 1.6 .6 1.6 .4 1.6 0 1.6-.1 4.8-1.3 1.6-.2 1.6 0 1.6 .4 1.5 .6 6.4 3.7 1.6 .5 1.6 .1 1.6-.2 1.6-.5 4.8-2.1 1.5-.4 1.6-.1 1.6 .4 1.6 .7 3.2 2" stroke="#F1975A"/>
<path d="M131.8 179.1l3.2-.5 3.2-1.2 1.6 .6 4.7 19.1 11.2 51.3 6.3 26.1 6.4 23.3 4.8 16.3 4.7 14.1 3.2 7.4 3.2 5.9 3.2 4.7 11.1 15.1 3.2 3.9 1.6 1.7 1.6 1.5 3.2 2.3 6.3 3.8 8 5.5 3.2 1.6 1.6 .4 1.6 .2 1.6-.1 6.3-1.7 3.2-.5 3.2 0 7.9 .9 8-.3 3.2 .5 1.6 .4 7.9 3.7 3.2 .7 1.6 0 3.2-.6 4.8-1.7 3.1-.9 9.6-1 3.2-.8 4.7-1.6 3.2-.5 1.6 .1 3.2 .7 4.8 2.1 3.2 1.2 1.6 .3 3.1-.1 8-1.6 6.4-.7 3.1-.7 3.2-1.5 8-5.2 3.2-1.4 3.1-.5 8 .4 1.6-.2 3.2-.9 6.3-2.6 8-2.6 3.2-1.5 1.6-1.1 3.1-2.8 6.4-6.8 3.2-3 3.2-2.4 6.3-4.3 3.2-2.7 9.6-10.1 6.3-5.5 3.2-3.4 3.2-4.5 6.4-11.2 3.1-5 1.6-2 3.2-2.9 1.6-1.2 3.2-1.8 3.2-1.2 1.6-.4 1.6-.1 1.6 .2 1.5 .6 1.6 1 1.6 1.4 1.6 1.8 3.2 4.8 4.8 9.1 1.6 4 1.6 4.8 3.1 11.1 9.6 37.9 3.2 15.4 3.2 17.7 11.1 67.3 6.4 40.8 6.3 42.4 4.8 33.4 1.6 9.4 1.6 7.3 3.2 10.9 1.6 3.7 1.5 1.3 1.6-1.3 1.6-2.6 1.6-3.6 3.2-8.8 1.6-4.9 1.6-7.1 1.6-9 1.6-10.6 6.3-48.8 8-56.2 4.8-32.1 3.1-20.1 1.6-8.8 9.6-51.1 3.2-14.6 1.6-5.9 1.5-4.7 1.6-3.7 3.2-6.2 4.8-7.9 4.8-7.5 3.1-4.1 3.2-2.8 1.6-.9 1.6-.5 1.6-.1 4.8 .3 3.2-.2 3.1-1.1 4.8-2.7 3.2-1.2 1.6-.2 1.6 0 4.8 .6 1.5-.1 1.6-.3 3.2-1.3 4.8-2.8 1.6-.6 1.6-.4 1.6 0 1.6 .3 1.6 .7 4.7 2.5 3.2 1.3 3.2 .3 4.8-.3 3.1 0 6.4 1.4 3.2 .4 1.6-.1 1.6-.4 1.6-.6 4.7-2.3 3.2-1.2 1.6-.3 1.6 0 3.2 .6 6.4 1.8 7.9 .9 3.2 .7 3.2 1.3 6.3 3.1 3.2 .9 3.2 .2 8-1 3.1-.1 12.8 1.3 3.2 .5 4.7 1.4 3.2 1.5 8 4.1 3.2 1.3 1.5 .4 1.6 .3 3.2 .1 8-.5 3.2 .1 3.1 .5 14.4 3.2 3.1 1.3 1.6 .8 4.8 3 3.2 1.7 3.2 .8 3.2 0 4.7-.8 3.2 0 3.2 .6 4.8 1.5 3.1 .7 1.6 .1 4.8-.1 3.2 .2 3.2 1.2 7.9 5.2 1.6 .7 1.6 .4 3.2 .2 4.8-.4 3.2 .2 3.1 1 4.8 2 3.2 .6 3.2-.4 4.8-1 1.5-.1 1.6 .2 1.6 .6 1.6 .8 6.4 4.5 3.2 1.6 3.1 .6 4.8 .1 1.6 .2 3.2 1 4.8 2.3 1.6 .6 1.5 .2 1.6 0 1.6-.3 6.4-2.7 1.6-.5 1.6-.1 1.6 .1 1.6 .6 7.9 4.2 3.2 .9 4.8 .6 3.2 .7 3.1 1.4 4.8 2.5 1.6 .6 1.6 .4 1.6 0 1.6-.3 6.3-2.5 3.2-.8 1.6 0 3.2 .5" stroke="#70AD47"/>
<path d="M131.8 140.9l6.4-1.4 1.6 1.2 3.1 17.7 11.2 74.2 6.3 38.4 3.2 17.1 3.2 15.6 3.2 14.1 3.2 12.2 1.6 5.3 3.1 9.1 1.6 3.8 3.2 6.5 3.2 5.4 4.8 6.9 3.2 3.8 3.1 2.9 1.6 1.1 3.2 1.3 3.2 .6 6.4 .7 3.1 .8 4.8 1.5 3.2 .7 3.2 .1 6.3-.5 3.2 .2 3.2 .8 6.4 2.1 3.2 .4 3.1-.3 4.8-.9 3.2-.1 3.2 .4 4.8 1.3 3.1 .4 3.2-.3 8-2.7 3.2-.5 3.1 .2 4.8 1 3.2 .4 3.2-.2 6.3-1 3.2-.2 3.2 .4 8 1.5 3.2 .1 7.9-.2 9.6 .8 3.1-.3 9.6-1.9 3.2-.2 6.3 .4 3.2-.1 3.2-.5 4.8-1.2 3.2-.4 3.1 .2 6.4 1.2 3.2 .4 3.2-.2 4.7-.7 3.2-.2 3.2 .4 6.4 1.2 3.2 0 1.5-.2 1.6-1 1.6-2.2 4.8-9.3 3.2-7.7 3.2-9.5 1.6-6.3 1.5-7.4 3.2-17.1 3.2-22.7 1.6-7.8 1.6-5.2 1.6-.6 1.6-.4 1.6-.2 1.6 .1 1.5 .4 1.6 .7 1.6 1 8 6.7 4.8 3.7 3.1 3 1.6 1.9 1.6 2.1 3.2 5 14.3 27.2 4.8 9.7 3.2 7 20.7 48.6 7.9 20.4 6.4 17.4 3.2 7.1 1.6 2.8 4.7 6.5 1.6 1.9 1.6 1.4 1.6 .8 1.6 0 1.6-.4 1.6-.9 1.6-1.3 3.2-3.6 1.6-2.3 1.5-3.3 3.2-8.7 8-26.2 6.4-18.5 7.9-26.3 4.8-14.5 1.6-4.1 3.2-7.3 11.1-23.8 3.2-6.2 1.6-2.6 3.1-4.1 1.6-1.7 3.2-2.5 3.2-1.7 6.4-2.6 6.3-2.8 3.2-1.2 1.6-.4 3.2-.4 6.4 .1 3.1-.4 3.2-.9 4.8-1.7 3.2-.8 3.2-.1 7.9 .8 3.2-.2 6.4-1.3 3.1-.2 3.2 .4 4.8 1.1 3.2 .4 3.2-.1 6.3-1.2 3.2-.2 3.2 .6 6.4 2 3.1 .7 3.2 .1 4.8-.4 3.2 0 3.2 .5 4.7 1 3.2 .5 3.2 .1 4.8-.1 3.2 .2 3.1 .9 8 3.6 3.2 .9 3.2 .3 4.7 0 3.2 .3 3.2 .8 6.4 2.3 3.2 .7 3.1 .3 4.8 0 3.2 .3 3.2 .7 7.9 2.2 8 .9 3.2 .5 3.2 .9 6.3 2.6 3.2 1 8 1.4 3.1 .8 8 3.3 3.2 .9 3.2 .1 6.3-.9 3.2-.1 3.2 .6 6.4 2.5 3.1 .8 3.2 .3 4.8 0 3.2 .4 3.2 1.1 6.3 3 3.2 1 3.2 .4 4.8 .2 3.1 .5 3.2 1.2 6.4 3.5 3.2 1.1 3.2 .3 6.3-.8 3.2-.1 3.2 .5 6.3 2.1 3.2 .6 3.2 .2 4.8-.2 3.2 .1 3.2 .7 6.3 2.1 3.2 .8 11.1 1.3 9.6 2.1 11.1 1.4 4.8 1.2" stroke="#843C0B"/>
<path d="M131.8 252.3l6.4-.7 1.6 .8 3.1 11.2 11.2 46.8 4.8 18.3 3.1 10.8 3.2 9.4 3.2 8.1 3.2 7 3.2 6 4.7 7.7 4.8 6.5 3.2 3.8 3.2 3.5 4.8 4.3 3.1 2.2 3.2 1.5 1.6 .5 3.2 .5 1.6 .1 3.2-.4 11.1-3 4.8-.5 3.2 .1 3.1 .7 11.2 3.8 3.2 .8 3.1 .3 3.2-.1 3.2-.6 3.2-1 7.9-2.9 3.2-.8 3.2-.4 3.2 .1 3.2 .6 3.2 .9 7.9 3.1 3.2 1 3.2 .6 3.2 .2 4.7-.5 12.8-3.2 6.3-.8 4.8-.1 11.1 .2 4.8-.3 9.6-1 4.7-.2 3.2 .3 3.2 .5 8 2.1 3.1 .5 3.2-.4 3.2-1.1 1.6-.9 3.2-2.3 3.2-2.9 3.1-3.2 3.2-3.5 12.8-15 9.5-10 4.8-6.1 3.2-4.9 3.1-5.7 3.2-6.4 4.8-10.8 3.2-9 6.3-20.1 1.6-4.3 1.6-3.4 3.2-5.9 1.6-2.6 1.6-1.9 1.6-1 1.6 0 1.6 .6 1.6 .9 3.1 3 4.8 6.2 6.4 9.5 1.6 2.9 1.6 3.5 3.1 8.2 3.2 9.6 9.6 32.2 3.2 12.6 3.1 13.9 9.6 46.7 4.8 24.8 20.7 111.3 1.5 6.9 4.8 14.9 1.6 3.7 1.6 1.9 1.6 .2 1.6-.6 1.6-1.2 1.6-1.7 1.6-2.1 3.1-4.8 1.6-2.9 1.6-4 1.6-5 3.2-12.5 9.5-46 11.2-49.5 4.8-20.2 3.1-12.1 3.2-10.6 6.4-18.5 4.8-13.2 4.7-11.9 3.2-6.7 3.2-5.5 6.4-9.9 4.7-6.7 3.2-3.7 3.2-3.1 1.6-1.2 3.2-1.7 3.2-1.2 4.7-1 15.9-1.3 14.4-2.5 7.9-1 8-.7 9.5-.4 8 .2 6.3 .8 4.8 1.1 12.7 3.7 3.2 .6 3.2 .4 4.8 .1 3.2-.2 9.5-1.3 3.2-.2 3.2 .1 3.2 .5 3.1 .9 3.2 1.2 11.2 5 3.2 1.1 3.1 .8 4.8 .6 12.7-.4 3.2 .1 3.2 .3 4.8 1 11.1 3.4 4.8 1.2 4.8 .8 11.1 1.1 4.8 .7 4.7 1 9.6 2.6 4.8 1.1 6.3 .7 11.2 .2 4.7 .5 3.2 .6 3.2 1 12.7 5.5 3.2 1 3.2 .7 3.2 .2 3.2-.1 11.1-2.1 3.2-.3 3.2 .1 3.2 .6 3.1 1 3.2 1.5 9.6 5.2 3.2 1.3 3.1 .9 3.2 .5 3.2-.1 3.2-.5 9.5-2.1 3.2-.4 3.2 0 3.2 .3 3.2 .7 11.1 3.3" stroke="#9DC3E6"/>
<path d="M131.8 341.2l4.8-1.1 1.6-.2 1.6 .1 12.7 11.6 12.7 14.3 12.7 12.4 3.2 2.9 3.2 2.4 4.8 2.5 6.4 2.5 4.7 1.3 1.6 .3 3.2 .1 11.1-1.4 14.4-.4 4.7 .8 8 2.8 4.8 1.3 9.5 2.1 4.8 .4 3.2-.4 9.5-2.1 14.3-1.6 4.8 .4 8 1.8 3.1 .4 4.8 .1 8 0 4.8-.8 7.9-2.5 3.2-.8 4.8-.5 7.9-.3 3.2 .2 3.2 .6 7.9 2.8 4.8 1.2 6.4 .7 4.8 .3 3.1-.7 1.6-.6 3.2-2 15.9-13.4 9.6-8.8 3.2-2.4 6.3-4.2 4.8-3.9 4.8-4.9 4.7-5.4 3.2-3.9 3.2-4.5 3.2-6.1 6.3-14.2 1.6-2.9 1.6-2.4 4.8-6.5 1.6-1.5 1.6-.9 1.6-.4 1.6-.1 1.6 .2 1.6 .4 1.5 .8 3.2 2.4 4.8 5.3 1.6 2.1 1.6 2.6 1.6 3.2 1.6 3.7 3.1 8.7 3.2 9.9 3.2 10.8 3.2 11.1 4.8 18.7 11.1 48.5 23.9 114.4 1.6 6 3.2 8.9 1.5 3.7 1.6 2.4 1.6 .5 1.6-.7 1.6-1.5 1.6-2 3.2-4.9 3.2-5.7 1.6-4.2 1.5-5.2 3.2-12.7 8-36.2 17.5-70.2 3.2-11.7 6.3-21.2 3.2-10.3 3.2-9.4 3.2-7.8 1.6-3.1 1.6-2.6 1.6-1.9 4.7-5 6.4-5.8 3.2-2.5 3.2-1.8 1.6-.6 7.9-2.3 9.6-4.4 4.7-1.6 14.4-3.5 14.3-2.4 3.2-.1 3.1 .5 3.2 1.2 6.4 3.3 3.2 1.1 3.2 .5 12.7 .9 4.8-.1 7.9-1.2 4.8-1.1 9.5-2.9 3.2-.4 1.6 .1 1.6 .3 3.2 1 12.7 5.4 9.6 4.9 3.1 1.1 1.6 .4 3.2 .3 3.2-.1 17.5-1.2 3.2 .2 7.9 1.1 3.2 .1 4.8-.3 3.2 .1 1.6 .4 3.2 1 6.3 3.1 3.2 1.3 3.2 1 4.8 .9 4.7 .6 9.6 0 3.2 .3 9.5 2.2 11.1 1.5 8 2.1 3.2 .6 9.5 .4 9.6 1 9.5 .4 14.3 1.6 3.2 .8 1.6 .6 9.6 4.9 1.6 .5 3.1 .6 9.6 0 22.3 1.4 3.1-.3 8-1.6 3.2-.2 3.2 .3 12.7 2.3" stroke="#A9D18E"/>
<path d="M131.8 335.9l6.4 .5 1.6 .4 3.1 2.9 12.8 13.2 4.7 4.4 3.2 2.6 3.2 2.1 4.8 2.4 6.3 2.5 4.8 1.5 3.2 .5 8 .2 9.5 1.8 9.6 .2 3.1 .7 4.8 1.8 3.2 .8 3.2 .1 4.7-.1 1.6 .2 6.4 1.8 3.2 .5 3.2-.4 4.7-1.5 3.2-.4 1.6 0 4.8 .7 3.2-.1 1.6-.4 4.7-1.9 3.2-.7 1.6 0 1.6 .3 4.8 1.3 1.6 .2 3.2-.3 4.7-1.3 1.6-.1 1.6 .1 1.6 .4 4.8 2 1.6 .5 1.6 .2 1.5-.2 6.4-1.9 1.6-.3 3.2 .3 4.8 1 1.6 0 1.5-.4 1.6-.7 4.8-3.1 1.6-.9 1.6-.6 1.6-.3 4.8-.2 1.5-.2 1.6-.5 1.6-.8 6.4-4.5 1.6-.7 1.6-.4 1.6-.1 4.7 .3 1.6-.1 1.6-.5 1.6-.8 4.8-3.1 1.6-.9 1.6-.6 1.6-.3 4.7-.1 1.6-.3 1.6-.5 1.6-1 1.6-1.2 6.4-6 1.6-1.2 6.3-3.8 1.6-1.3 1.6-1.6 1.6-2 6.4-9.1 1.6-1.9 1.5-1.7 4.8-4.1 3.2-3.7 1.6-2.4 6.4-10.8 1.5-2.3 1.6-1.8 1.6-1.4 1.6-.9 4.8-2.1 6.4-3.9 1.5-.6 1.6-.1 1.6 .4 1.6 .9 1.6 1.3 8 8.3 4.7 4.3 1.6 1.7 1.6 2.3 1.6 3 3.2 7.6 12.7 35.5 3.2 10.1 3.2 11.6 14.3 56.9 22.3 99.3 1.6 5.8 4.8 12.8 1.6 3.2 1.5 1.9 1.6 .2 1.6-.8 1.6-1.5 1.6-2.1 3.2-5.1 1.6-3.1 1.6-4.3 3.2-11.7 7.9-35.9 11.2-47.5 4.7-19.3 3.2-11.1 6.4-19.4 4.7-13.4 3.2-7.4 1.6-2.8 1.6-2.2 3.2-3.4 3.2-2.5 9.5-6.4 1.6-.8 3.2-1.3 6.4-1 3.1-1 1.6-.7 6.4-4.2 1.6-.8 3.2-.8 4.7-.2 3.2-.4 6.4-2 1.6-.3 1.6-.1 3.2 .8 4.7 1.9 1.6 .4 3.2 0 4.8-.6 1.6 .1 1.6 .3 6.3 2.5 1.6 .4 1.6 .1 1.6-.2 4.8-1.5 3.2-.6 1.6 0 6.3 1.4 1.6 .1 1.6-.2 1.6-.5 4.8-1.8 1.6-.3 1.5 0 1.6 .3 4.8 1.6 1.6 .4 1.6 .2 1.6-.1 4.8-1.2 1.5-.2 1.6 0 1.6 .3 1.6 .6 4.8 2.4 1.6 .5 1.6 .3 1.6 0 4.7-.5 1.6 .1 1.6 .4 1.6 .6 4.8 2.7 1.6 .8 1.6 .4 1.6 .2 1.6 0 4.7-.8 1.6 0 3.2 .6 4.8 1.7 1.6 .3 1.6 0 1.6-.2 6.3-2 1.6-.1 1.6 .2 6.4 2.1 1.6 .3 3.1 .1 4.8-.3 1.6 .1 3.2 1.1 4.8 2.7 3.1 1.3 3.2 .5 4.8 0 1.6 .2 1.6 .4 6.3 2.6 1.6 .4 3.2 .2 4.8-.6 3.2-.1 1.6 .3 6.3 1.7 1.6 .2 3.2 0 6.4-.7 3.2 .4 4.7 1.2 3.2 .5 6.4 0 3.2 .2 3.1 .8 6.4 2.3 9.6 2.2 9.5 3.2 3.2 .8 4.8 .3 11.1 0 12.7-.9 4.8 .1 6.4 1 15.9 4 7.9 2.2 3.2 .8 3.2 .3 8 0 6.3 .6 3.2 .1" stroke="#A5A5A5"/>
<path d="M131.8 220.1l6.4-1.3 1.6 .8 1.5 6 3.2 14 11.2 53.7 4.7 19.6 3.2 11.4 4.8 14.8 4.8 12.6 4.7 10.8 3.2 6 3.2 4.9 3.2 3.6 3.2 2.6 3.2 1.7 3.1 1.1 12.8 4 3.2 .7 4.7 .3 9.6-1.2 3.2 .1 1.5 .2 3.2 .8 8 3 3.2 .7 1.6 .1 3.1-.3 8-2.4 3.2-.7 1.6-.1 3.2 .2 7.9 1.5 3.2 .3 3.2-.2 9.5-1.9 3.2-.1 3.2 .6 7.9 2.7 3.2 .7 1.6 0 3.2-.4 9.6-3.4 3.1-.6 3.2 .1 9.6 2.4 3.1 .2 1.6-.1 3.2-.6 8-2.3 3.2-.2 1.5 .1 3.2 .6 8 2.4 3.2 .3 1.6 0 3.1-.6 8-2.4 3.2-.6 3.2 0 9.5 .7 1.6 0 1.6-.6 1.6-1 3.2-3.3 9.5-12.1 3.2-4.6 3.2-5 3.2-6.1 1.6-3.9 3.1-9.4 4.8-16.9 1.6-6.8 3.2-16 1.6-6.9 3.2-9.6 1.5-3.1 1.6-.6 1.6 .1 1.6 .4 1.6 .7 3.2 1.9 9.5 7.5 1.6 1.5 1.6 1.9 1.6 2.4 3.2 5.8 4.8 11.1 7.9 21.5 19.1 57.6 4.8 16.4 14.3 52.4 3.2 10.5 1.6 4.4 1.6 3.3 3.2 5.7 1.6 2.3 1.6 1.6 1.5 .4 1.6-.2 1.6-.5 1.6-.8 3.2-2.2 3.2-2.8 1.6-2.1 1.6-3 1.6-3.7 3.1-9.3 8-27.8 8-23.7 1.5-5.6 12.8-33.4 7.9-20.2 3.2-7.5 3.2-6.4 3.2-5.1 3.2-3.8 1.5-1.3 4.8-3.5 3.2-2.8 8-8.4 3.1-3.1 3.2-2.2 3.2-1.3 3.2-.6 9.5-.3 3.2-.5 8-1.7 3.2-.2 1.6 .1 3.1 .6 8 2.5 3.2 .4 1.6-.1 1.6-.3 3.1-1.1 6.4-3 3.2-1.2 1.6-.4 3.2-.4 3.1 .1 9.6 1.4 7.9 .7 3.2 .5 3.2 .9 9.6 4 3.1 1 1.6 .3 1.6 .1 3.2 0 8-1.2 3.1-.1 3.2 .2 8 1.3 3.2 .3 9.5 .2 3.2 .4 1.6 .4 3.2 1.3 7.9 4.8 3.2 1.7 3.2 1 1.6 .3 3.2 0 7.9-1.1 3.2-.1 3.2 .2 9.5 1.7 3.2 .2 8-.3 3.2 .5 1.5 .5 3.2 1.7 3.2 2.3 4.8 3.9 3.2 2.1 3.1 1.3 1.6 .3 3.2-.1 9.6-2.9 3.2-.5 3.1 .1 9.6 1.6 3.2 .1 6.3-.1 3.2 .2 3.2 1 1.6 .8 3.2 2.1 7.9 6.4 3.2 1.8 3.2 1.1 1.6 .1 3.2-.1 6.3-1.2 3.2-.3 3.2 0 6.4 .4 3.1 0 3.2-.4 8-1.8 3.2-.2 3.1 .6 3.2 1.3 3.2 1.9 8 5.5 3.1 1.5 3.2 1 4.8 .5 11.1 .4 4.8-.2 3.2-.7" stroke="#7CAFDD"/>
<path d="M131.8 407.6l8 1.2 3.1 .1 3.2-.1 4.8-.8 9.5-3.4 3.2-.6 1.6-.1 3.2 .4 8 2 3.1 .4 1.6-.1 3.2-.7 8-2.8 3.2-.7 1.5 0 3.2 .4 8 2 3.2 .3 1.6-.1 3.1-.6 8-2.4 3.2-.5 1.6-.1 3.1 .4 9.6 2 4.8 .4 3.2-.1 12.7-1.1 6.3-.3 6.4 .2 9.6 .9 3.1 .1 4.8-.6 8-1.6 3.2-.2 3.1 .3 9.6 2.8 3.2 .5 1.6-.1 3.1-.6 8-2.7 3.2-.7 1.6 0 3.2 .4 7.9 2.3 3.2 .4 1.6 0 3.2-.5 7.9-2.3 3.2-.5 1.6 0 3.2 .4 7.9 1.8 3.2 .5 4.8-.2 6.4-1.3 3.1-1.5 3.2-2.2 11.2-8.7 3.1-2.8 3.2-3.3 3.2-3.9 4.8-7.1 1.6-2.9 3.2-6.8 4.7-12.3 6.4-17.7 4.8-16.4 1.6-5.2 1.5-4.3 3.2-6.1 1.6-2.6 1.6-1.6 1.6-.2 4.8 .6 4.8 1.1 3.1 1.1 3.2 1.6 1.6 1.1 1.6 1.6 1.6 2 3.2 5.3 3.2 6.5 12.7 27.2 4.8 10.9 4.7 11.8 3.2 8.3 3.2 9.1 11.1 34.4 6.4 18.1 3.2 8.1 1.6 3.2 4.8 6.7 1.5 1.5 1.6 .7 1.6-.2 1.6-.8 3.2-2.4 1.6-1.5 1.6-1.9 1.6-2.9 3.2-8 9.5-29.2 6.4-20.2 4.7-13.9 4.8-10.8 4.8-9.6 3.2-5.3 1.6-2.2 1.6-1.9 6.3-5.8 3.2-2.6 3.2-2 3.2-1.4 3.1-.7 4.8-.4 3.2 .1 8 .9 4.7-.2 3.2-.6 3.2-1 6.4-2.7 3.1-1.1 3.2-.6 1.6-.1 3.2 .3 8 1.5 3.1 .3 3.2 0 6.4-.7 3.2 0 1.6 .2 3.1 .8 8 2.9 3.2 .6 1.6 .1 3.2-.5 7.9-3 3.2-.9 1.6-.2 1.6-.1 3.2 .4 7.9 2.2 4.8 .8 3.2 0 7.9-.6 4.8 .2 3.2 .6 3.2 .8 14.3 4.9 3.2 .9 3.2 .7 4.7 .2 9.6-1.1 3.2 0 3.1 .4 9.6 2.8 3.2 .6 3.2 0 7.9-.5 3.2 .3 3.2 1 7.9 4.1 3.2 1.2 1.6 .4 3.2 .3 7.9-1 3.2 0 1.6 .3 3.2 1 9.5 4.7 3.2 .9 1.6 .2 3.2-.1 11.1-2.3 3.2-.2 3.2 .2 3.2 .4 4.8 1.3 12.7 4.3 4.8 1.3 12.7 2.7 9.5 2.8 3.2 .7 3.2 .2 3.2-.2 9.5-2.2 3.2-.3 1.6 .1 3.2 .5 8 2.6 3.1 .6 3.2 .3 8-.3 3.2 .3 1.5 .3 1.6 .6 3.2 1.4 8 4.6 3.2 1.2 1.6 .4 1.5 .1 3.2-.3 4.8-1.6" stroke="#7CAFDD"/>
<path d="M131.8 310l6.4-1.4 1.6 0 6.3 5.9 6.4 6.3 17.5 18.4 4.8 4.5 3.1 2.7 4.8 3.5 4.8 2.8 6.4 2.8 6.3 2.1 15.9 4.1 15.9 4.3 8 1.9 11.1 2.2 12.8 1.7 9.5 .5 8-.2 6.3-.7 16-2.4 7.9-.5 3.2 .1 4.8 .4 17.5 2.9 4.7 .3 4.8-.3 4.8-.8 6.4-1.8 11.1-3.9 14.3-6 12.7-4 3.2-1.3 3.2-1.7 3.2-2 3.2-2.4 4.8-4.4 3.1-3.8 3.2-4.4 4.8-7.7 4.8-8.5 7.9-15 8-18 3.2-5.7 4.7-5.9 1.6-1.6 1.6-1.2 1.6-.6 1.6 .1 3.2 1.1 3.2 1.9 4.7 3.9 6.4 6.2 1.6 1.9 1.6 2.3 3.2 5.9 3.1 7 8 20.1 3.2 8.7 4.8 14.9 11.1 38.9 17.5 66 4.8 18.8 3.2 11.2 1.6 4.4 3.1 6.9 1.6 3 1.6 2 1.6 .6 1.6-.6 1.6-1.4 1.6-2.1 3.2-5.1 1.6-3.2 1.5-4.5 3.2-12.4 6.4-29.5 15.9-69 3.2-12.2 4.8-17.3 3.1-10.2 1.6-4.5 3.2-7.5 1.6-2.8 4.8-6.3 4.8-5.4 3.1-3.1 3.2-2.3 3.2-1.5 4.8-1.3 9.5-.8 3.2-.6 9.6-2.6 3.1-.5 22.3-1.7 3.2 0 3.2 .3 9.5 1.8 4.8 .4 3.2-.1 9.5-.8 12.8 .4 9.5-.7 3.2 .1 1.6 .2 3.2 .8 3.1 1.2 6.4 2.9 4.8 1.5 4.8 .6 9.5 .4 12.7 1.8 9.6 .1 3.2 .3 4.7 1 9.6 3.4 3.2 .9 11.1 2.5 9.6 2.7 3.1 .8 3.2 .5 8 .6 3.2 .5 3.1 .7 8 2.5 3.2 .6 4.8 .3 6.3-.4 3.2 0 4.8 .7 11.1 3.6 9.6 2 3.1 .9 3.2 1.2 9.6 4.4 4.8 1.4 4.7 .4 11.2-.6 14.3 0 3.2 .1 3.1 .4 4.8 1.3 3.2 1.4 8 4 4.7 1.8 4.8 1.1 14.3 2.7 3.2 .1 3.2-.3 3.2-.8 7.9-2.4 3.2-.5 3.2 .1" stroke="#9E480E"/>
<path d="M131.8 228.4l6.4 2.2 1.6 1.3 11.1 37.2 12.7 41.3 3.2 9.6 3.2 8.8 3.2 7.6 1.6 3.3 3.1 5.8 4.8 6.7 4.8 5.6 8 8.7 3.1 3.1 3.2 2.5 3.2 1.6 3.2 .8 3.2 .1 6.3-.5 3.2 .1 3.2 .6 9.5 3.3 3.2 .7 3.2 .1 9.6-1.3 3.1-.1 3.2 .4 8 1.9 3.2 .3 1.5 0 3.2-.5 8-2.3 3.2-.5 1.6 0 3.1 .4 8 2.3 3.2 .7 1.6 .1 1.6-.1 3.1-.5 6.4-1.7 3.2-.7 4.8-.1 7.9 .9 3.2 .1 3.2-.4 7.9-2 3.2-.5 1.6 0 3.2 .3 9.5 2.4 3.2 .1 3.2-.6 3.2-1.5 8-5.3 3.1-1.7 1.6-.7 3.2-.9 8-1.4 3.1-1.2 1.6-.9 4.8-3.4 8-6.7 7.9-6.3 3.2-3.1 1.6-1.8 3.2-4.3 3.2-5 7.9-14.1 9.6-15.9 3.1-5 3.2-4.2 4.8-4.7 4.8-5 1.6-1.3 1.6-.8 1.6-.3 1.5 0 1.6 .4 1.6 .7 1.6 1.2 3.2 3.4 4.8 7.1 1.6 2.7 1.6 3.4 1.5 4.1 1.6 4.7 3.2 10.7 9.6 37.1 3.2 14.3 4.7 24.6 25.5 141 7.9 47.7 1.6 7.8 3.2 12.3 1.6 5.4 1.6 3.8 1.6 1.5 1.6-.6 1.6-2.1 1.6-3.3 3.1-8.7 1.6-5.2 1.6-7.3 3.2-19.7 6.4-47.1 15.9-107.8 1.6-9.9 3.2-17.3 4.7-22.9 3.2-13.7 3.2-12.1 1.6-5.1 1.6-4.3 3.2-6.6 3.1-5.5 11.2-17.2 3.2-4.4 1.6-1.7 1.6-1.3 1.5-.9 1.6-.4 6.4-.1 1.6-.3 6.4-1.8 1.5-.2 3.2 0 4.8 .5 1.6 0 8-2.1 3.1 .1 4.8 1.2 1.6 .1 1.6-.1 1.6-.4 1.6-.7 4.7-2.5 1.6-.5 1.6-.2 1.6 .2 1.6 .6 4.8 2.3 3.2 1 6.3 .8 6.4 1 1.6 0 1.6-.2 1.6-.5 6.3-3 1.6-.4 1.6 0 1.6 .4 1.6 .8 4.8 3 1.6 .7 1.6 .4 1.5 .2 4.8-.2 3.2 .3 8 2.7 1.6 .4 6.3 .7 1.6 .4 6.4 2.4 1.6 .4 1.6 0 1.5-.3 6.4-2.8 1.6-.4 1.6 .1 1.6 .4 1.6 .8 6.3 4.5 1.6 .8 3.2 1.1 4.8 1.2 4.8 1.5 3.1 .7 3.2-.2 4.8-.8 1.6 .1 1.6 .4 1.6 .7 6.3 4 1.6 .5 1.6 .3 1.6-.1 6.4-1.6 1.6 0 1.6 .3 1.6 .5 6.3 3 6.4 2.2 6.3 2.9 3.2 1.1 1.6 .1 1.6-.3 1.6-.5 4.8-2.3 1.6-.4 1.6 0 1.6 .4 1.5 .8 4.8 3.3 3.2 1.7 3.2 .7 4.8 .6 6.3 1.9 3.2 .7 6.4 .2 1.6 .3 3.1 1.3 4.8 3 1.6 .7 1.6 .4 1.6 0 1.6-.3 4.8-2 1.5-.5 1.6-.2 1.6 .2 3.2 1.3 3.2 1.8 3.2 1.5 6.3 2.1 6.4 2.4 1.6 .4 1.6 .1 1.6-.2 6.3-2.3 1.6-.3 1.6 0 1.6 .5 1.6 .8 4.8 3 1.6 .8 1.6 .4 1.6 .1 1.5-.1 4.8-.7 3.2 .2 6.4 1.4 7.9 .8 1.6 .5 3.2 1.4" stroke="#9BC97F"/>
<path d="M131.8 200.8l6.4-.3 1.6 1.2 6.3 24.4 6.4 22.6 6.4 20.8 6.3 19.6 9.6 27.9 7.9 21.8 6.4 15.5 4.8 9.7 3.1 5.5 4.8 6.8 3.2 3.8 4.8 4.8 12.7 11.5 6.4 5.3 3.1 2.3 3.2 1.8 4.8 1.8 4.8 .8 9.5 .4 4.8 .8 4.8 1.5 7.9 3.4 3.2 1.1 3.2 .8 1.6 .2 3.2 0 3.2-.6 3.1-.9 8-2.8 3.2-.8 3.2-.3 4.7 .3 3.2 .8 8 2.3 3.2 .6 3.1 .3 4.8-.3 9.6-1.7 3.1-.4 3.2-.1 3.2 .2 8 1.3 1.5 .2 3.2-.4 3.2-1.1 3.2-1.9 3.2-2.4 9.5-8.9 19.1-18.6 3.2-3.5 3.2-4.4 3.2-5.1 3.2-5.9 4.7-10 4.8-10.7 3.2-7.9 6.3-18.7 3.2-8.1 1.6-3.1 3.2-5.3 1.6-2.4 1.6-2 1.6-1.3 1.6-.4 1.6 .1 1.5 .4 3.2 1.4 1.6 1.1 3.2 2.6 3.2 3.1 3.2 3.6 1.6 2.1 1.6 2.8 1.5 3.4 1.6 3.9 3.2 9.2 9.6 32.2 3.1 11.9 3.2 12.9 12.8 55.2 4.7 22.3 17.5 85.7 1.6 7 1.6 5.9 3.2 8.7 1.6 3.8 1.6 2.7 1.6 1.2 1.6-.6 1.6-1.6 1.6-2.3 1.5-2.9 3.2-6.5 1.6-4.2 1.6-5.5 3.2-14 6.4-32.2 4.7-21.6 12.8-60.2 3.1-13.9 6.4-25.1 3.2-11.3 3.2-9.4 1.6-3.8 1.6-2.9 1.5-2.5 3.2-4 3.2-3.1 4.8-3.2 7.9-4.3 8-5.4 4.8-2.5 1.6-.5 3.1-.7 4.8-.4 4.8 .2 11.1 1.4 4.8 0 4.8-.9 9.5-3.4 3.2-.4 1.6 0 3.2 .6 9.5 3.3 1.6 .4 3.2 .4 4.8-.3 17.5-2.6 3.2-.2 3.1 .1 1.6 .3 3.2 1 8 3.5 3.2 1.1 1.5 .4 1.6 .1 3.2-.1 8-1.3 3.2-.2 3.1 .1 3.2 .4 12.8 2.1 14.3 3.6 3.2 .4 7.9 .5 3.2 .5 3.2 .9 7.9 2.8 3.2 .7 4.8 .2 6.4-.6 3.1-.1 3.2 .2 3.2 .5 12.7 2.9 11.2 3.6 3.2 .8 4.7 .3 6.4-.7 3.2-.1 3.2 .4 3.1 .8 9.6 3.8 4.8 1.1 4.7 .4 8 .4 12.7-.1 4.8 .5 4.8 1.5 7.9 3.6 4.8 1.4 3.2 .3 9.5 .2 12.8 2 19.1 1.3 4.7 0 8-.6 3.2 .1 1.6 .2 3.1 .8 8 3.2" stroke="#8CB9E2"/>
<path d="M131.8 188.6l3.2 1.4 3.2 1 1.6 1.6 4.7 19.1 3.2 11.6 12.7 42.7 6.4 20.4 4.8 13.8 4.8 12.7 12.7 32.6 4.8 10.8 3.1 6 1.6 2.6 3.2 4.4 11.2 12.6 7.9 9.5 3.2 3.3 3.2 2.7 3.2 2.1 1.5 .8 3.2 1.1 3.2 .8 4.8 .6 4.8 .1 7.9-.3 4.8 .4 4.8 1.1 7.9 2.6 4.8 .8 11.1 .3 11.2 1.2 3.2 0 9.5-.5 3.2 .3 6.4 1.3 3.1 .4 3.2-.2 1.6-.4 3.2-1.3 6.4-3.4 3.1-1.1 1.6-.3 1.6 0 3.2 .5 8 2.7 4.7 1 3.2 .2 8-.2 9.5 .6 3.2 0 3.2-.2 1.6-.3 1.6-.6 1.6-.8 3.1-2.2 9.6-7.6 3.2-2.9 3.2-3.8 1.5-2.2 3.2-5.1 3.2-5.8 4.8-10.1 4.8-12.2 9.5-27.8 1.6-5.4 4.8-18 1.6-5.1 1.5-3.9 3.2-5.9 1.6-2.2 1.6-1 1.6 .5 1.6 .8 3.2 2.3 6.3 5.7 4.8 5.1 1.6 2.3 1.6 3.2 1.6 3.9 1.6 4.7 3.2 11 9.5 38.2 6.4 28.5 9.5 47.1 17.5 96.7 4.8 27.3 1.6 8 1.6 6.6 3.2 11.2 1.6 4.8 1.6 3.2 1.5 1 1.6-.7 1.6-2 1.6-2.9 3.2-7.6 1.6-6.2 1.6-8.2 1.6-9.7 6.3-44 12.8-79.7 3.2-17.3 6.3-30.7 3.2-14 1.6-6 1.6-5.1 1.6-4.2 1.6-3.1 4.7-7.9 6.4-9.9 3.2-4.4 3.2-3.4 1.6-1.3 1.5-.9 1.6-.7 1.6-.3 1.6-.1 6.4 .6 3.2-.3 1.6-.4 6.3-2.3 3.2-.5 3.2 .3 6.4 1.9 3.1 .4 1.6-.3 1.6-.4 8-4.2 1.6-.5 1.6-.1 1.6 .1 1.5 .5 6.4 3.4 1.6 .7 1.6 .4 1.6 .1 1.6-.2 1.6-.6 7.9-4.6 1.6-.6 1.6-.3 1.6-.1 3.2 .7 4.8 1.7 3.1 .8 8 .7 3.2 .6 3.2 1.2 6.3 3.1 3.2 .9 3.2-.1 1.6-.3 6.3-2.1 3.2-.6 1.6 .1 3.2 .4 4.8 1.1 3.2 .4 3.1-.2 6.4-.7 3.2 .2 3.2 1 6.3 2.5 3.2 .6 3.2 0 4.8-.5 3.2 .2 1.5 .5 3.2 1.7 6.4 5.3 3.2 2.2 1.6 .8 1.6 .4 1.5 .1 1.6-.1 8-2.1 3.2-.4 9.5 .6 3.2-.1 6.4-.6 3.2 .2 1.5 .2 3.2 1 6.4 2.7 3.2 1.1 3.2 .7 7.9 1.4 3.2 .9 8 2.9 3.1 .9 17.5 3.8 3.2 .2 3.2-.5 8-2.9 3.1-.7 1.6 0 1.6 .2 3.2 1 8 4.3 3.1 1.3 3.2 .8 8 1.2 11.1 2.8 3.2 .4 6.4 .1 3.2 .3 3.1 .6 6.4 1.7 4.8 .6 3.2-.1 9.5-.9 8 0 7.9-.4 3.2 .1" stroke="#B7B7B7"/>
<path d="M131.8 233.6l4.8 1 1.6 .2 1.6 .9 3.1 8.5 8 19.3 8 20.8 3.1 7.7 3.2 6.9 6.4 12.8 9.5 21 1.6 3.1 3.2 5.2 8 10 7.9 11 3.2 3.7 3.2 2.7 4.8 3.2 3.1 2.4 8 8.1 3.2 2.6 3.2 1.5 4.7 1.4 3.2 1.2 8 4 1.6 .4 3.1 .3 6.4-1 3.2 .2 1.6 .4 6.3 2.2 1.6 .4 3.2 .1 4.8-.4 3.2 .1 1.6 .4 6.3 2.3 1.6 .3 3.2 .1 6.4-1.7 3.2-.4 3.1 .2 4.8 .8 3.2-.1 6.4-1.6 3.1-.5 3.2 .4 6.4 2 3.2 .4 1.6-.1 6.3-1.1 1.6 0 3.2 .4 4.8 1 3.2 .1 3.1-.7 4.8-1.8 3.2-.7 3.2 .2 4.8 1 3.1 .2 1.6-.2 4.8-1 3.2-.3 3.2 .5 6.3 2 3.2 .2 3.2-.6 4.8-1.5 1.6-.3 3.1-.2 1.6-.7 1.6-1.3 1.6-1.9 1.6-2.3 3.2-5.4 1.6-3.2 3.2-7.8 4.7-13.9 3.2-11.3 4.8-21.2 1.6-8 1.6-9.4 3.2-21.7 1.5-7.9 1.6-6.5 1.6-4.2 1.6-.3 1.6 .4 1.6 .7 3.2 2.5 4.8 4.3 6.3 4.4 1.6 1.6 1.6 2.2 1.6 2.7 1.6 3.3 3.2 7.9 11.1 30.8 4.8 15.1 3.2 11.5 11.1 43.1 11.1 40.5 4.8 19.6 3.2 11.6 1.6 4.2 3.2 6.2 1.6 2.3 1.6 1.4 1.6 .1 1.5-.6 4.8-2.3 3.2-2 1.6-1.3 1.6-2.2 1.6-2.9 1.6-3.6 6.3-17.3 3.2-8.1 4.8-10.2 3.2-7.4 3.2-8.2 6.3-18.2 3.2-7.5 1.6-3 3.2-5.3 11.1-16.2 3.2-3.4 1.6-1.2 3.2-1.7 4.7-1.8 3.2-1.5 6.4-4.5 3.2-1.8 3.2-1 6.3-.8 1.6-.3 3.2-1.4 6.4-3.7 1.5-.7 1.6-.4 1.6 0 1.6 .2 6.4 2.3 3.2 .8 1.6 .3 7.9 .3 8 1.3 3.2-.2 6.3-2 3.2-.7 3.2 .2 4.8 1 3.1 .2 1.6-.3 6.4-1.8 1.6-.2 1.6 0 1.6 .3 1.6 .5 6.3 3.1 1.6 .4 1.6 .2 1.6 0 6.4-1.2 1.6-.2 3.1 .1 6.4 .7 6.4-.7 3.2 0 1.5 .4 1.6 .6 6.4 3.6 3.2 1.3 3.2 .3 4.7-.2 3.2 .3 3.2 1.1 4.8 2.1 1.6 .4 1.6 .1 1.6-.1 1.5-.3 6.4-2.2 3.2-.5 1.6 0 6.3 .8 8 .6 3.2 .9 1.6 .7 6.3 3.7 3.2 1.3 3.2 .4 4.8-.3 3.2 .1 3.1 .8 4.8 2.1 3.2 .8 3.2-.2 6.3-1.7 3.2-.1 3.2 .7 6.4 2.1 9.5 1 3.2 .9 4.8 1.8 3.2 .5 3.1-.5 4.8-1.5 1.6-.3 1.6 0 1.6 .2 1.6 .5 6.4 2.8 1.5 .4 3.2 .3 4.8-.3 3.2 .4 3.2 1.4 6.3 3.7 1.6 .6 3.2 .7 6.4 .3 6.3 .7 3.2-.1 3.2-.8 6.4-2.7 1.6-.4 1.5-.2 1.6 .1 1.6 .4 6.4 2.6 1.6 .5 3.2 .4 4.7-.2 3.2 .4 3.2 1.1 6.4 3.2 3.2 .9 3.1 0 6.4-.7" stroke="#FFD966"/>
<path d="M131.8 301.7l6.4 .5 1.6 .7 3.1 8.4 11.2 33.7 4.8 13.5 3.1 8 3.2 7.3 4.8 9.2 4.8 7.4 3.1 3.9 3.2 3.3 3.2 2.6 3.2 2.1 3.2 1.8 3.2 1.4 6.3 2 9.6 2.1 9.5 1.3 9.6 .6 6.3 .1 20.7-.6 25.5 .5 35-.4 36.6 .5 9.5-.2 22.3-1.3 6.4 0 7.9 .2 1.6-.3 1.6-.6 3.2-2 3.2-2.7 6.3-6.2 4.8-5.9 3.2-4.8 3.2-5.5 3.2-6.3 1.6-3.6 3.1-8.4 3.2-9.6 4.8-15.8 3.2-11.6 4.7-21.3 1.6-6 3.2-8.7 1.6-3.7 1.6-2.3 1.6-.4 1.6 .3 1.6 .6 3.2 2.1 1.6 1.3 3.1 3.4 4.8 6.1 3.2 4.5 1.6 2.8 1.6 3.4 3.2 8.4 3.1 10 9.6 34.6 3.2 12.5 4.7 21 12.8 61.7 17.5 92.5 7.9 43.5 1.6 7.3 1.6 6.1 3.2 9.8 1.6 4.3 1.6 3.2 1.6 1.4 1.6-.3 1.6-1.1 1.5-1.9 1.6-2.4 4.8-9.1 1.6-4.3 1.6-5.6 3.2-14.1 9.5-50.6 12.8-63.5 4.7-22.2 3.2-13.3 8-30.5 3.1-11 3.2-9.5 3.2-7.6 1.6-2.9 3.2-4.8 3.2-4.1 4.7-5.2 3.2-2.6 3.2-2 8-3.9 12.7-7.2 4.8-2.3 4.7-1.8 4.8-1.3 3.2-.3 3.2 .1 7.9 1.1 4.8 .5 27.1 .7 4.7 .4 11.2 1.5 11.1 .4 15.9 1 6.4 1.1 11.1 3.1 6.4 1.3 9.5 1.3 11.2 .6 4.8 .5 3.1 .6 11.2 2.8 9.5 1.6 6.4 .9 9.5 .6 4.8 .5 3.2 .7 11.1 2.8 12.8 2.6 4.7 .6 9.6 .5 4.8 .4 28.6 5.5 12.7 1.3 3.2 .5 12.7 2.7 11.2 2 4.8 .6 3.1 .1 11.2-.6 6.3 .3 11.2 1.8 11.1 2.8 3.2 .6" stroke="#ED7D31"/>
<path d="M131.8 274.1l3.2 1.4 3.2 1.6 1.6 1.5 7.9 25.4 4.8 14 4.8 12.5 6.3 14.5 3.2 6.5 4.8 9 14.3 25.1 4.8 7.3 3.2 3.8 1.6 1.5 1.5 1.2 1.6 .9 1.6 .6 1.6 .4 3.2 .2 8-.6 3.1 .4 3.2 .8 8 3 4.7 1.1 4.8 .1 12.8-1.4 6.3 0 6.4 .7 3.2 .7 7.9 2.1 4.8 .7 3.2-.2 3.2-.8 3.1-1.3 4.8-2.4 3.2-1.4 3.2-.7 1.6 0 1.6 .1 3.1 .8 8 3.5 3.2 1.1 1.6 .4 3.2 .4 4.7-.3 8-1.4 14.3-3.5 3.2-.5 9.5-.7 4.8-.8 3.2-1 1.6-.7 4.8-2.9 17.5-13.1 4.7-4 3.2-3 3.2-3.5 6.4-8.2 4.7-7.3 4.8-7.9 8-14.8 9.5-19.5 8-19.2 3.2-6.7 3.1-5.3 8-10.8 1.6-1.7 1.6-1.3 1.6-.6 1.6-.2 1.6 .2 1.5 .5 1.6 1 1.6 1.3 3.2 3.6 3.2 4.8 1.6 2.7 1.6 3.6 1.6 4.6 1.6 5.4 3.1 12.7 8 37.1 3.2 16.3 3.2 18 15.9 94.1 9.5 59.4 6.4 43.5 1.6 9.8 1.6 8.2 3.2 12.8 1.5 5.2 1.6 2.9 1.6 0 1.6-2.4 1.6-4 1.6-4.9 1.6-5.9 1.6-9 1.6-11.5 4.7-40 11.2-84 1.6-10.5 4.8-27.6 3.1-16.6 1.6-7.2 1.6-6.2 1.6-4.9 1.6-3.9 4.8-10.2 3.2-5.6 3.1-4.5 6.4-7.1 3.2-2.9 3.2-1.9 1.6-.6 1.5-.2 1.6 .1 1.6 .3 3.2 1.5 3.2 1.9 3.2 1.5 3.2 .8 1.6 .1 1.5-.2 3.2-1 8-4 3.2-1.2 1.6-.5 3.1-.4 3.2 .1 3.2 .5 14.3 4 3.2 .7 3.2 .3 3.2 0 3.2-.5 9.5-2.8 4.8-.8 3.2 .1 9.5 1.6 3.2 .1 3.2-.2 7.9-1.1 3.2 0 3.2 .5 3.2 1.1 7.9 3.8 4.8 1.9 4.8 1.2 4.8 .4 4.7-.3 3.2-.6 3.2-.9 9.5-3.2 3.2-.5 1.6 0 1.6 .1 3.2 1 3.2 1.6 9.5 6 3.2 1.5 4.8 1.3 4.7 .5 8 .3 4.8 .1 9.5-.4 3.2 .2 4.8 .7 9.5 2.8 4.8 .8 3.2 0 7.9-.8 4.8 .2 4.8 1.2 7.9 3 3.2 .9 4.8 .9 12.7 1.2 11.2 1.8 6.3 1.6 9.6 3.1 3.2 .7 3.1 0 3.2-.7 3.2-1.3 4.8-2.5 3.2-1.3 3.1-.7 1.6 0 1.6 .3 1.6 .6 3.2 1.7 8 6 4.7 3 3.2 1.3 1.6 .5 3.2 .5 3.2 0 3.2-.3 3.1-.5 9.6-2.1 3.2-.5 4.7 .1 8 1.4" stroke="#B7B7B7"/>
<path d="M131.8 362.4l3.2-.9 1.6-.2 3.2 .3 3.1 1.2 6.4 3 3.2 1 1.6 .2 3.2 0 9.5-1.4 4.8-.3 6.3 .6 12.8 2.4 4.8 .6 4.7-.1 9.6-1.2 3.2 .1 1.5 .3 3.2 1.1 4.8 2.1 3.2 1.3 3.2 .5 3.1-.4 3.2-1.2 6.4-2.9 1.6-.4 1.6-.2 1.6 .2 1.6 .3 3.1 1.4 4.8 2.5 3.2 1 1.6 .2 1.6-.2 1.6-.5 1.6-.7 6.3-3.5 3.2-1.1 1.6-.1 1.6 .2 1.6 .4 7.9 4.1 1.6 .5 1.6 .3 1.6 0 1.6-.3 1.6-.6 1.6-.9 6.4-4.1 1.5-.8 3.2-.9 3.2 0 8 1.8 3.2 .1 1.5-.4 3.2-1.2 8-5 3.2-1.6 1.6-.6 1.5-.4 3.2-.5 6.4-.4 3.2-.4 3.2-.8 3.1-1 6.4-2.9 14.3-7.6 3.2-1.4 8-2.9 3.1-1.5 1.6-1 1.6-1.2 3.2-3 3.2-3.7 6.4-8 3.1-3.5 1.6-1.5 3.2-2.2 8-4.3 1.6-1.1 1.6-1.5 1.5-1.9 3.2-4.7 8-14.1 3.2-4.3 1.6-1.6 1.5-1.1 1.6-.7 1.6-.4 4.8-.4 3.2-.9 3.2-1.7 4.7-3.3 1.6-.9 1.6-.3 1.6 .4 1.6 1 1.6 1.7 1.6 2.4 3.2 6.3 1.6 3.7 1.6 4.8 3.1 13.4 9.6 49.9 3.2 18.2 3.2 20 6.3 43.8 3.2 24.4 14.3 116.2 1.6 10.3 3.2 14.3 1.6 5.2 1.6 1.9 1.6-.7 1.6-1.5 1.6-1.9 3.1-5.1 3.2-5.8 1.6-3.5 1.6-4.5 1.6-5.6 1.6-6.4 3.2-14.6 6.3-31.7 8-37.4 7.9-40.9 3.2-14.5 4.8-19.2 6.4-22.6 3.1-10.4 4.8-13.4 4.8-11.4 4.8-10.1 3.1-6.2 1.6-2.7 1.6-2.1 1.6-1.6 1.6-1 1.6-.5 6.4-.6 3.2-.9 1.5-.8 3.2-2.4 9.6-8.4 3.2-2.4 1.5-.9 1.6-.6 1.6-.3 1.6 .1 1.6 .4 1.6 .7 4.8 2.4 1.6 .5 1.6 0 1.6-.3 1.5-.8 6.4-4.6 1.6-.8 1.6-.3 1.6 0 3.2 1 3.1 1.5 3.2 1.2 1.6 .4 3.2 .5 4.8 .2 3.2-.2 3.1-.6 6.4-2.2 1.6-.3 1.6 0 1.6 .3 1.6 .6 6.3 3.5 1.6 .6 1.6 .3 3.2-.1 4.8-.8 1.6-.1 7.9 .9 1.6 0 6.4-.8 1.6 0 1.6 .2 1.6 .5 6.3 3.4 3.2 1.2 3.2 .1 6.3-.9 3.2 .1 6.4 1.1 4.8 1.2 3.2 1.3 6.3 4.2 1.6 .8 1.6 .6 1.6 .2 1.6-.3 1.6-.6 4.7-2.8 1.6-.7 1.6-.3 1.6 .1 1.6 .5 1.6 .8 6.4 4.6 1.6 .8 3.1 .9 3.2 .1 3.2-.3 11.1-2.3 1.6 .1 1.6 .3 1.6 .7 1.6 1 6.4 6.2 1.6 1.3 1.6 .8 1.5 .5 1.6 0 1.6-.4 4.8-1.8 1.6-.5 1.6-.1 3.2 .4 6.3 1.9 8 1.4 7.9 1.9 3.2 0 6.4-1 1.6 0 1.6 .2 3.2 1.2 6.3 3.1 3.2 .7 6.4 1.1 7.9 2.9 1.6 .3 1.6 0 8-1.6 1.6 0 1.5 .4 1.6 .6 6.4 3.8 1.6 .6 1.6 .4 1.6 .2 3.2-.4 9.5-2.2 4.8-.9 3.2 0 1.6 .4 1.5 .8 1.6 1.1 6.4 5.7 1.6 1 1.6 .6 1.6 0 1.6-.5 1.6-.9 4.7-3.3 1.6-.8 1.6-.4 1.6 0 1.6 .4" stroke="#8FAADC"/>
<path d="M131.8 183.8l4.8 2.1 1.6 .5 1.6 1.6 9.5 43.9 11.1 56.4 4.8 21.8 3.2 11.9 3.2 10 11.1 30.2 3.2 7.6 1.6 3.2 1.6 2.8 1.6 2.4 1.6 1.8 3.2 2.7 6.3 4.3 1.6 1.4 6.4 6.6 1.6 1.4 1.6 1.1 1.5 .8 1.6 .5 1.6 .1 6.4-.8 3.2 .3 3.2 1.1 4.7 2.2 1.6 .5 1.6 .3 1.6-.1 1.6-.3 6.4-2.5 1.6-.3 1.5-.1 1.6 .2 1.6 .4 6.4 2.5 1.6 .3 1.6 0 1.6-.2 1.6-.6 4.7-2.1 1.6-.6 1.6-.3 1.6 0 3.2 .7 4.8 2 3.1 .7 1.6-.1 1.6-.3 6.4-2.1 1.6-.3 1.6 0 3.2 .8 4.7 1.9 1.6 .4 1.6 .1 1.6-.2 1.6-.5 1.6-.9 4.8-3.2 3.1-1.7 1.6-.5 1.6-.2 6.4 .3 1.6-.1 1.6-.4 3.2-1.6 6.3-4.5 1.6-.8 1.6-.5 3.2-.3 4.8 .3 1.5-.1 1.6-.3 1.6-.7 1.6-.9 6.4-5 3.2-1.9 1.6-.6 1.6-.3 6.3-.3 1.6-.4 1.6-.7 1.6-1 1.6-1.4 6.3-6.9 3.2-3.1 1.6-1.2 6.4-3.9 1.6-1.3 1.6-1.5 3.2-4 6.3-9.6 3.2-4 3.2-2.8 4.8-3.1 3.1-3 3.2-4.2 8-13.2 1.6-2 1.6-1.7 1.5-1.2 1.6-.8 3.2-.9 3.2-1.2 3.2-2 4.8-3.5 1.6-.9 1.5-.4 1.6 .1 1.6 .9 1.6 1.4 1.6 1.9 1.6 2.4 6.4 10.5 3.1 6.6 1.6 4 3.2 9.1 3.2 10.5 3.2 11.9 1.6 6.7 3.2 15.6 6.3 34.5 8 41.6 4.8 27.5 4.7 29.1 4.8 30.8 1.6 8.9 1.6 7.1 3.2 9.7 1.6 3.3 1.6 .9 1.5-1.5 1.6-3.2 1.6-4.1 3.2-9.6 1.6-7.8 3.2-21.1 15.9-120.8 3.2-19.2 4.8-25 4.7-19.3 1.6-5.2 4.8-12.5 3.2-7 1.6-2.7 1.6-2.1 1.5-1.5 1.6-.8 1.6-.4 4.8-.8 3.2-1.1 3.2-1.8 4.7-3.4 1.6-.8 1.6-.6 1.6-.1 1.6 .2 1.6 .5 4.8 1.8 1.6 .3 1.6 .1 1.5-.2 1.6-.4 4.8-2.2 3.2-1.1 1.6-.2 1.6 .1 1.6 .4 6.3 2.4 1.6 .2 1.6 .1 3.2-.8 4.8-2 1.6-.5 1.6-.2 1.5 0 3.2 .9 4.8 2.1 3.2 .8 1.6-.1 1.6-.2 6.3-2 1.6-.2 1.6 .1 3.2 .8 4.8 2 1.6 .4 1.6 .2 1.5-.1 1.6-.4 6.4-3 1.6-.6 1.6-.3 1.6 .1 3.2 .9 4.7 2.1 3.2 .9 3.2-.1 4.8-.9 1.6-.1 1.5 .1 1.6 .4 3.2 1.6 4.8 3.2 1.6 .9 1.6 .6 1.6 .3 3.2-.2 4.7-1.1 1.6-.2 1.6 .1 1.6 .4 1.6 .6 6.4 3.6 1.5 .6 1.6 .3 1.6 0 1.6-.2 4.8-1.4 3.2-.5 1.6 .2 1.6 .4 6.3 3.1 3.2 1.1 1.6 .1 1.6 0 4.8-1 3.1-.1 1.6 .4 1.6 .7 1.6 .9 6.4 5 1.6 .9 1.6 .7 1.6 .3 1.6 .1 4.7-.4 3.2 .1 3.2 1 6.4 3.5 1.5 .6 1.6 .3 1.6 .1 1.6-.2 4.8-1.5 3.2-.5 1.6 .1 1.6 .3 1.5 .7 6.4 3.2 1.6 .5 1.6 .2 3.2-.3 4.8-1.2 1.5-.2 1.6 .1 1.6 .5 1.6 .7 6.4 4.2 3.2 1.6 3.1 .6 6.4 0 1.6 .3 1.6 .6 3.2 1.8 4.8 3.4 1.5 .9 1.6 .5 1.6 .3 1.6-.1 1.6-.3 4.8-1.7 1.6-.3 1.6-.1 1.6 .2 1.5 .4 6.4 2.8 1.6 .5 1.6 .2 3.2-.3 4.7-1.4 1.6-.3 1.6 0 1.6 .2 1.6 .6 1.6 .8 4.8 3 3.2 1.4 1.6 .3 1.5 0 6.4-.8 1.6 0 1.6 .4 1.6 .6 1.6 .9 6.3 4.4 1.6 .7 1.6 .5 1.6 .1 1.6-.1 6.4-1.8 3.2-.1 1.5 .3 6.4 2 1.6 .3" stroke="#9DC3E6"/>
<path d="M131.8 334.6l3.2-.1 3.2-.4 1.6 0 4.7 4.9 6.4 7.3 15.9 20.5 6.4 7.1 4.7 4.4 4.8 3.6 4.8 2.7 4.8 2 3.2 .9 4.7 .8 11.2 .4 4.7 .5 4.8 .9 11.1 2.9 6.4 .9 4.8 0 22.3-.5 17.5-1.5 4.7 .1 14.4 1.1 4.7 0 6.4-.4 6.4-.8 6.3-1.4 4.8-1.6 11.1-4.6 4.8-1.5 4.8-.9 9.5-.9 4.8-.9 3.2-1.1 4.8-2.3 7.9-5.3 11.2-8.3 6.3-5.3 12.8-11.1 11.1-9.2 4.8-5.2 11.1-14.2 3.2-3.2 6.4-5.4 3.1-2.1 1.6-.8 1.6-.6 1.6-.2 1.6 0 1.6 .4 3.2 1.6 3.2 2.6 4.7 5.1 4.8 6.4 1.6 3 1.6 3.6 3.2 9.1 4.7 16.7 6.4 24.4 3.2 13.3 4.8 21.6 9.5 45.5 6.4 31.9 11.1 58.1 4.8 26.4 3.2 15.6 1.6 6.1 3.2 9.9 1.5 4.2 1.6 2.9 1.6 .8 1.6-.6 1.6-1.4 1.6-2.1 3.2-5.8 1.6-3.3 1.6-3.9 1.6-5.5 1.5-6.9 3.2-17 8-49.2 6.4-36.6 1.5-11 1.6-9.4 6.4-35.6 4.8-22.9 4.7-19.8 4.8-18.9 4.8-16.5 3.2-8.6 1.6-3.4 4.7-7.7 3.2-4.5 3.2-4 4.8-5.2 4.8-4.3 11.1-8.6 6.4-4.1 3.1-1.7 4.8-1.8 4.8-1.1 3.2-.4 3.2 0 4.7 .7 4.8 1.1 9.5 2.6 3.2 .6 3.2 .3 3.2-.2 3.2-.5 9.5-2.5 4.8-.8 4.8-.2 4.7 .4 6.4 1 6.4 1.4 15.9 4.4 4.8 1 4.7 .7 11.2 .6 4.7 .5 14.4 3 11.1 2 6.4 1.5 11.1 3.8 4.8 1.3 4.8 .8 11.1 .8 6.4 .9 4.7 1 25.5 6.6 6.4 1.4 6.3 .9 9.6 .8 4.7 .8 3.2 .8 3.2 1.1 11.2 4.5 4.7 1.3 3.2 .5 3.2 .3 11.1 .3 4.8 .3 8 .8 6.3 1.1 4.8 1.1 3.2 .9 14.3 5.6 3.2 .9 3.2 .7 4.7 .4 4.8 0 20.7-1.7" stroke="#FFD966"/>
</g>
<text transform="translate(103.5 91.3) scale(1.050 1)" font-size="31.1" text-anchor="end" stroke="#000" stroke-width="0.4">0.8</text>
<text transform="translate(103.5 176.0) scale(1.050 1)" font-size="31.1" text-anchor="end" stroke="#000" stroke-width="0.4">0.6</text>
<text transform="translate(103.5 260.8) scale(1.050 1)" font-size="31.1" text-anchor="end" stroke="#000" stroke-width="0.4">0.4</text>
<text transform="translate(103.5 345.5) scale(1.050 1)" font-size="31.1" text-anchor="end" stroke="#000" stroke-width="0.4">0.2</text>
<text transform="translate(103.5 430.2) scale(1.050 1)" font-size="31.1" text-anchor="end" stroke="#000" stroke-width="0.4">0</text>
<text transform="translate(103.5 514.9) scale(1.050 1)" font-size="31.1" text-anchor="end" stroke="#000" stroke-width="0.4">-0.2</text>
<text transform="translate(103.5 599.6) scale(1.050 1)" font-size="31.1" text-anchor="end" stroke="#000" stroke-width="0.4">-0.4</text>
<text transform="translate(103.5 684.4) scale(1.050 1)" font-size="31.1" text-anchor="end" stroke="#000" stroke-width="0.4">-0.6</text>
<text transform="translate(103.5 769.1) scale(1.050 1)" font-size="31.1" text-anchor="end" stroke="#000" stroke-width="0.4">-0.8</text>
<text transform="translate(103.5 853.8) scale(1.050 1)" font-size="31.1" text-anchor="end" stroke="#000" stroke-width="0.4">-1</text>
<text transform="translate(131.8 466.0) scale(1.050 1)" font-size="31.1" text-anchor="middle" stroke="#000" stroke-width="0.4">25</text>
<text transform="translate(259.1 466.0) scale(1.050 1)" font-size="31.1" text-anchor="middle" stroke="#000" stroke-width="0.4">35</text>
<text transform="translate(386.4 466.0) scale(1.050 1)" font-size="31.1" text-anchor="middle" stroke="#000" stroke-width="0.4">45</text>
<text transform="translate(513.7 466.0) scale(1.050 1)" font-size="31.1" text-anchor="middle" stroke="#000" stroke-width="0.4">55</text>
<text transform="translate(641.0 466.0) scale(1.050 1)" font-size="31.1" text-anchor="middle" stroke="#000" stroke-width="0.4">65</text>
<text transform="translate(768.3 466.0) scale(1.050 1)" font-size="31.1" text-anchor="middle" stroke="#000" stroke-width="0.4">75</text>
<text transform="translate(895.6 466.0) scale(1.050 1)" font-size="31.1" text-anchor="middle" stroke="#000" stroke-width="0.4">85</text>
<text transform="translate(1022.9 466.0) scale(1.050 1)" font-size="31.1" text-anchor="middle" stroke="#000" stroke-width="0.4">95</text>
<text transform="translate(583.0 869.5) scale(1.061 1)" font-size="31.1" text-anchor="middle" stroke="#000" stroke-width="0.4">Temperature (°C)</text>
<text transform="translate(24.3 436.3) rotate(-90) scale(0.909 1)" font-size="32.8" text-anchor="middle" stroke="#000" stroke-width="0.4">-(d/dT)Fluorescence</text>
<text transform="translate(1.5 28.5) scale(1.070 1)" font-size="39.0" text-anchor="start" stroke="#000" stroke-width="0.4">A</text>
<text transform="translate(1062.5 28.5) scale(1.070 1)" font-size="39.0" text-anchor="start" stroke="#000" stroke-width="0.4">B</text>
<path d="M1189.4 351.0 H1659.6 M1189.4 306.1 H1659.6 M1189.4 261.1 H1659.6 M1189.4 216.2 H1659.6 M1189.4 171.2 H1659.6 M1189.4 126.2 H1659.6 M1189.4 81.3 H1659.6 M1256.5 81.3 V396.0 M1323.6 81.3 V396.0 M1390.7 81.3 V396.0 M1457.8 81.3 V396.0 M1524.9 81.3 V396.0 M1592.0 81.3 V396.0 M1659.1 81.3 V396.0 M1189.4 488.4 H1659.6 M1189.4 527.5 H1659.6 M1189.4 566.6 H1659.6 M1189.4 605.7 H1659.6 M1189.4 683.9 H1659.6 M1189.4 723.0 H1659.6 M1189.4 762.1 H1659.6 M1189.4 801.2 H1659.6 M1189.4 840.3 H1659.6 M1256.5 488.4 V840.3 M1323.6 488.4 V840.3 M1390.7 488.4 V840.3 M1457.8 488.4 V840.3 M1524.9 488.4 V840.3 M1592.0 488.4 V840.3 M1659.1 488.4 V840.3" stroke="#d6d6d6" stroke-width="1.5" fill="none"/>
<path d="M1189.4 79.6 V405.0 M1179.4 396.0 H1660.9 M1179.4 351.0 H1189.4 M1179.4 306.1 H1189.4 M1179.4 261.1 H1189.4 M1179.4 216.2 H1189.4 M1179.4 171.2 H1189.4 M1179.4 126.2 H1189.4 M1179.4 81.3 H1189.4 M1256.5 396.0 V405.0 M1323.6 396.0 V405.0 M1390.7 396.0 V405.0 M1457.8 396.0 V405.0 M1524.9 396.0 V405.0 M1592.0 396.0 V405.0 M1659.1 396.0 V405.0 M1189.4 486.7 V842.0 M1179.4 644.8 H1660.9 M1179.4 488.4 H1189.4 M1179.4 527.5 H1189.4 M1179.4 566.6 H1189.4 M1179.4 605.7 H1189.4 M1179.4 683.9 H1189.4 M1179.4 723.0 H1189.4 M1179.4 762.1 H1189.4 M1179.4 801.2 H1189.4 M1179.4 840.3 H1189.4 M1256.5 644.8 V653.8 M1323.6 644.8 V653.8 M1390.7 644.8 V653.8 M1457.8 644.8 V653.8 M1524.9 644.8 V653.8 M1592.0 644.8 V653.8 M1659.1 644.8 V653.8" stroke="#000" stroke-width="3.5" fill="none"/>
<g fill="none" stroke-width="3.0" stroke-linejoin="round" stroke-linecap="butt">
<path d="M1190 122.6l2 4 2 3.4 2 2.5 3 3.3 4 3.9 7 5.9 3 2.3 3 1.7 4 1.2 7 1.4 54 8.1 7 1.2 7 1.5 7 1.8 6 1.7 7 2.4 18 6.9 8 3.4 5 2.7 4 2.5 4 2.9 10 9.1 6 4.8 4 2.8 5 3.1 2 1.1 3 1.1 3 .8 3 .3 2 0 3-.7 3-1.3 3-1.9 2-1.6 5-4.8 2-1.7 5-2.7 4-1.6 3-.7 3 .2 3 .8 4 2.4 8 5.6 53 39.8 11 7.9 16 10.9 13 8.5 13 8.2 13 7.8 14 8.2 11 6.1 9 4.7 9 4.3 15 6.5 18 7.4 12 4.5 12 4" stroke="#636363"/>
<path d="M1190 188.3l5 3.5 5 3.2 5 2.8 6 3.1 7 3.3 6 2.6 13 4.8 13 3.8 6 1.5 6 1.2 7 1.1 8 .9 5 .4 5 .1 7-.5 4-.7 4-.9 9-3 11-4.5 8-3.8 7-3.9 3-2.2 8-6.4 5-3.3 5-2.7 5-2.1 4-1.1 5-.6 5 0 4 .8 3 1.2 4 2.1 7 4.5 11 8.2 9 6.9 33 27.5 8 6.2 17 12.3 15 10.4 17 11.7 10 6.2 53 29.2 5 2.6 6 2.8 26 10.7 20 7.7 19 6.5 7 2 8 2.1" stroke="#62AE3A"/>
<path d="M1190 217.5l10 4.7 8 3.1 35 12.2 10 3 53 12.2 75 15 5 1.3 3 1 3 1.3 6 3.2 7 4.4 19 12.6 2 .7 3 .4 2-.5 1-.6 2-1.7 2-2.5 2-3.9 3-8.6 4-16.4 3-10.1 3-8.3 2-4.4 1-1.7 1-1.4 2-1.9 2-1.3 1-.4 2-.4 5 .5 2 .6 5 1.9 7 3.2 15 8.7 20 11.3 53 29.1 13 6.7 21 9.9 18 7.8 20 8 18 6.4" stroke="#B8860B"/>
</g>
<g fill="none" stroke-width="2.7" stroke-linejoin="round" stroke-linecap="butt">
<path d="M1190 606.6l1-.6 1-.2 1 .3 1 .7 3 4.2 3 2.8 2 1.4 18 5.2 10 3.7 2 .3 5-.4 2 .6 4 2 2 .8 8 1.2 2 .5 5 1.8 9 3.5 5 2.3 3 1.9 6 4.5 6 3.7 18 17.8 3 2.7 2 1.5 2 1 2 .8 5 1.4 7 1.6 2 1.1 2 1.8 4 4.7 3 5.2 1 1.5 1 1.2 1 .7 1 .4 1 .1 3-.5 2-1.1 1-1 1-1.4 3-5.1 8-15.5 17-39.5 3-5.9 3-5 4-5.7 3-3.2 2-1.6 3-1.8 2-.9 2-.6 9-1.5 17-3.4 4-.6 1 0 2 .5 4 2 2 .7 2 .2 6-.2 3 .1 9 1.5 16 2.1 17 2.7 10 .3 3 .3 3 .6 10 2.7 17 2.4 17 3.7 18 2.6 14 2.3 73 8.6" stroke="#62AE3A"/>
<path d="M1190 612.4l2-.2 1 .5 2 2.1 8 9.9 2 1.6 2 1 5 1 4 .1 8-.5 12 .8 10 .5 7-.8 2 0 3 .4 6 1.5 11 1 17 1.1 23 .9 8 .2 14-.6 14 .5 10-1 2 .1 6 .9 3 0 4-.6 6-1.5 2-.8 2-1.1 3-2.1 2-2.6 2-3.7 6-14.7 3-6.2 2-3.2 1-1 1-.5 1-.1 2 .4 2 1.2 2 1.8 2 2.8 2 3.6 1 2.2 2 5.9 4 13.4 1 4.3 1 5.6 1 7.5 2 23 6 87.5 2 25.9 1 10.5 2 16.6 1 6.2 1 4.8 1 3.6 1 2.4 1 1.5 1 .6 1-.4 1-1.3 1-2.9 1-5.2 1-8.1 1-10.3 2-25 4-59.8 2-26.7 2-21.6 1-8.4 2-12.9 2-8.8 1-2.8 2-3.8 2-3.4 2-2.6 1-.9 6-4.3 3-1.7 2-.7 14-1.8 13-1 7-.2 17 1 11-.2 5 .2 36 3.5 32 3.6 37 3.2" stroke="#B8860B"/>
<path d="M1190 560.2l1-2.1 1-1.2 1 .6 1 3.1 8 32.6 1 3.6 1 2.6 1 1.7 2 2.5 3 2.4 1 1.3 9 17.6 3 5.4 2 2.9 1 1.1 2 1.5 2 .9 4 1 3 .3 3 0 4-1.1 2-.2 4 1.2 1 .1 2-.5 3-1.6 2-.5 9 .1 21-.9 2-.3 21-5.3 5-1.5 8-2.9 5-2.2 4-2.2 4-3.1 6-5.2 5-5.2 2-2.8 4-6.8 1-1.3 2-1.9 2-1.2 2-.5 2 .1 2 .7 2 1.9 2 2.5 12 15.8 4 5.9 1 1.7 1 2.4 2 6.9 2 8.9 9 46.1 1 3.3 1 1.9 1 .9 2 .8 1 .2 1-.2 1-.6 1-1.1 2-3.7 2-5.4 2-7.1 5-22.4 2-5.8 2-12.6 1-3.7 3-6.3 6-11.5 2-3.4 2-2.9 1-1.1 2-1.5 2-.8 2-.3 3-.1 2 .2 5 .8 3 .1 2-.5 6-2.1 1-.1 2 0 4 .5 11 2 13 .7 5 .4 36 5.1 24 3.7 15 2 56 6.5 11 1 14 .9" stroke="#636363"/>
</g>
<text transform="translate(1161.5 405.8) scale(1.050 1)" font-size="31.1" text-anchor="end" stroke="#000" stroke-width="0.4">0</text>
<text transform="translate(1161.5 360.8) scale(1.050 1)" font-size="31.1" text-anchor="end" stroke="#000" stroke-width="0.4">2</text>
<text transform="translate(1161.5 315.9) scale(1.050 1)" font-size="31.1" text-anchor="end" stroke="#000" stroke-width="0.4">4</text>
<text transform="translate(1161.5 270.9) scale(1.050 1)" font-size="31.1" text-anchor="end" stroke="#000" stroke-width="0.4">6</text>
<text transform="translate(1161.5 226.0) scale(1.050 1)" font-size="31.1" text-anchor="end" stroke="#000" stroke-width="0.4">8</text>
<text transform="translate(1161.5 181.0) scale(1.050 1)" font-size="31.1" text-anchor="end" stroke="#000" stroke-width="0.4">10</text>
<text transform="translate(1161.5 136.0) scale(1.050 1)" font-size="31.1" text-anchor="end" stroke="#000" stroke-width="0.4">12</text>
<text transform="translate(1161.5 91.1) scale(1.050 1)" font-size="31.1" text-anchor="end" stroke="#000" stroke-width="0.4">14</text>
<text transform="translate(1188.6 441.8) scale(1.050 1)" font-size="31.1" text-anchor="middle" stroke="#000" stroke-width="0.4">25</text>
<text transform="translate(1255.7 441.8) scale(1.050 1)" font-size="31.1" text-anchor="middle" stroke="#000" stroke-width="0.4">35</text>
<text transform="translate(1322.8 441.8) scale(1.050 1)" font-size="31.1" text-anchor="middle" stroke="#000" stroke-width="0.4">45</text>
<text transform="translate(1389.9 441.8) scale(1.050 1)" font-size="31.1" text-anchor="middle" stroke="#000" stroke-width="0.4">55</text>
<text transform="translate(1457.0 441.8) scale(1.050 1)" font-size="31.1" text-anchor="middle" stroke="#000" stroke-width="0.4">65</text>
<text transform="translate(1524.1 441.8) scale(1.050 1)" font-size="31.1" text-anchor="middle" stroke="#000" stroke-width="0.4">75</text>
<text transform="translate(1591.2 441.8) scale(1.050 1)" font-size="31.1" text-anchor="middle" stroke="#000" stroke-width="0.4">85</text>
<text transform="translate(1658.3 441.8) scale(1.050 1)" font-size="31.1" text-anchor="middle" stroke="#000" stroke-width="0.4">95</text>
<text transform="translate(1161.5 498.2) scale(1.050 1)" font-size="31.1" text-anchor="end" stroke="#000" stroke-width="0.4">0.8</text>
<text transform="translate(1161.5 537.3) scale(1.050 1)" font-size="31.1" text-anchor="end" stroke="#000" stroke-width="0.4">0.6</text>
<text transform="translate(1161.5 576.4) scale(1.050 1)" font-size="31.1" text-anchor="end" stroke="#000" stroke-width="0.4">0.4</text>
<text transform="translate(1161.5 615.5) scale(1.050 1)" font-size="31.1" text-anchor="end" stroke="#000" stroke-width="0.4">0.2</text>
<text transform="translate(1161.5 654.6) scale(1.050 1)" font-size="31.1" text-anchor="end" stroke="#000" stroke-width="0.4">0</text>
<text transform="translate(1161.5 693.7) scale(1.050 1)" font-size="31.1" text-anchor="end" stroke="#000" stroke-width="0.4">-0.2</text>
<text transform="translate(1161.5 732.8) scale(1.050 1)" font-size="31.1" text-anchor="end" stroke="#000" stroke-width="0.4">-0.4</text>
<text transform="translate(1161.5 771.9) scale(1.050 1)" font-size="31.1" text-anchor="end" stroke="#000" stroke-width="0.4">-0.6</text>
<text transform="translate(1161.5 811.0) scale(1.050 1)" font-size="31.1" text-anchor="end" stroke="#000" stroke-width="0.4">-0.8</text>
<text transform="translate(1161.5 850.1) scale(1.050 1)" font-size="31.1" text-anchor="end" stroke="#000" stroke-width="0.4">-1</text>
<text transform="translate(1188.6 690.5) scale(1.050 1)" font-size="31.1" text-anchor="middle" stroke="#000" stroke-width="0.4">25</text>
<text transform="translate(1255.7 690.5) scale(1.050 1)" font-size="31.1" text-anchor="middle" stroke="#000" stroke-width="0.4">35</text>
<text transform="translate(1322.8 690.5) scale(1.050 1)" font-size="31.1" text-anchor="middle" stroke="#000" stroke-width="0.4">45</text>
<text transform="translate(1389.9 690.5) scale(1.050 1)" font-size="31.1" text-anchor="middle" stroke="#000" stroke-width="0.4">55</text>
<text transform="translate(1457.0 690.5) scale(1.050 1)" font-size="31.1" text-anchor="middle" stroke="#000" stroke-width="0.4">65</text>
<text transform="translate(1524.1 690.5) scale(1.050 1)" font-size="31.1" text-anchor="middle" stroke="#000" stroke-width="0.4">75</text>
<text transform="translate(1591.2 690.5) scale(1.050 1)" font-size="31.1" text-anchor="middle" stroke="#000" stroke-width="0.4">85</text>
<text transform="translate(1658.3 690.5) scale(1.050 1)" font-size="31.1" text-anchor="middle" stroke="#000" stroke-width="0.4">95</text>
<path d="M1345.4 202.4 V690.5" stroke="#62AE3A" stroke-width="3.6" stroke-dasharray="3.3 3.4" fill="none"/>
<path d="M1405.6 203.4 V692.0" stroke="#636363" stroke-width="3.6" stroke-dasharray="3.3 3.4" fill="none"/>
<path d="M1446.3 268.0 V826.0" stroke="#B8860B" stroke-width="3.6" stroke-dasharray="3.3 3.4" fill="none"/>
<text transform="translate(1448.0 869.5) scale(1.061 1)" font-size="31.1" text-anchor="middle" stroke="#000" stroke-width="0.4">Temperature (°C)</text>
<text transform="translate(1085.3 660.7) rotate(-90) scale(0.909 1)" font-size="32.8" text-anchor="middle" stroke="#000" stroke-width="0.4">-(d/dT)Fluorescence</text>
<text transform="translate(1085.3 232.6) rotate(-90) scale(0.909 1)" font-size="32.8" text-anchor="middle" stroke="#000" stroke-width="0.4">Fluorescence</text>
</svg>
</body></html>
